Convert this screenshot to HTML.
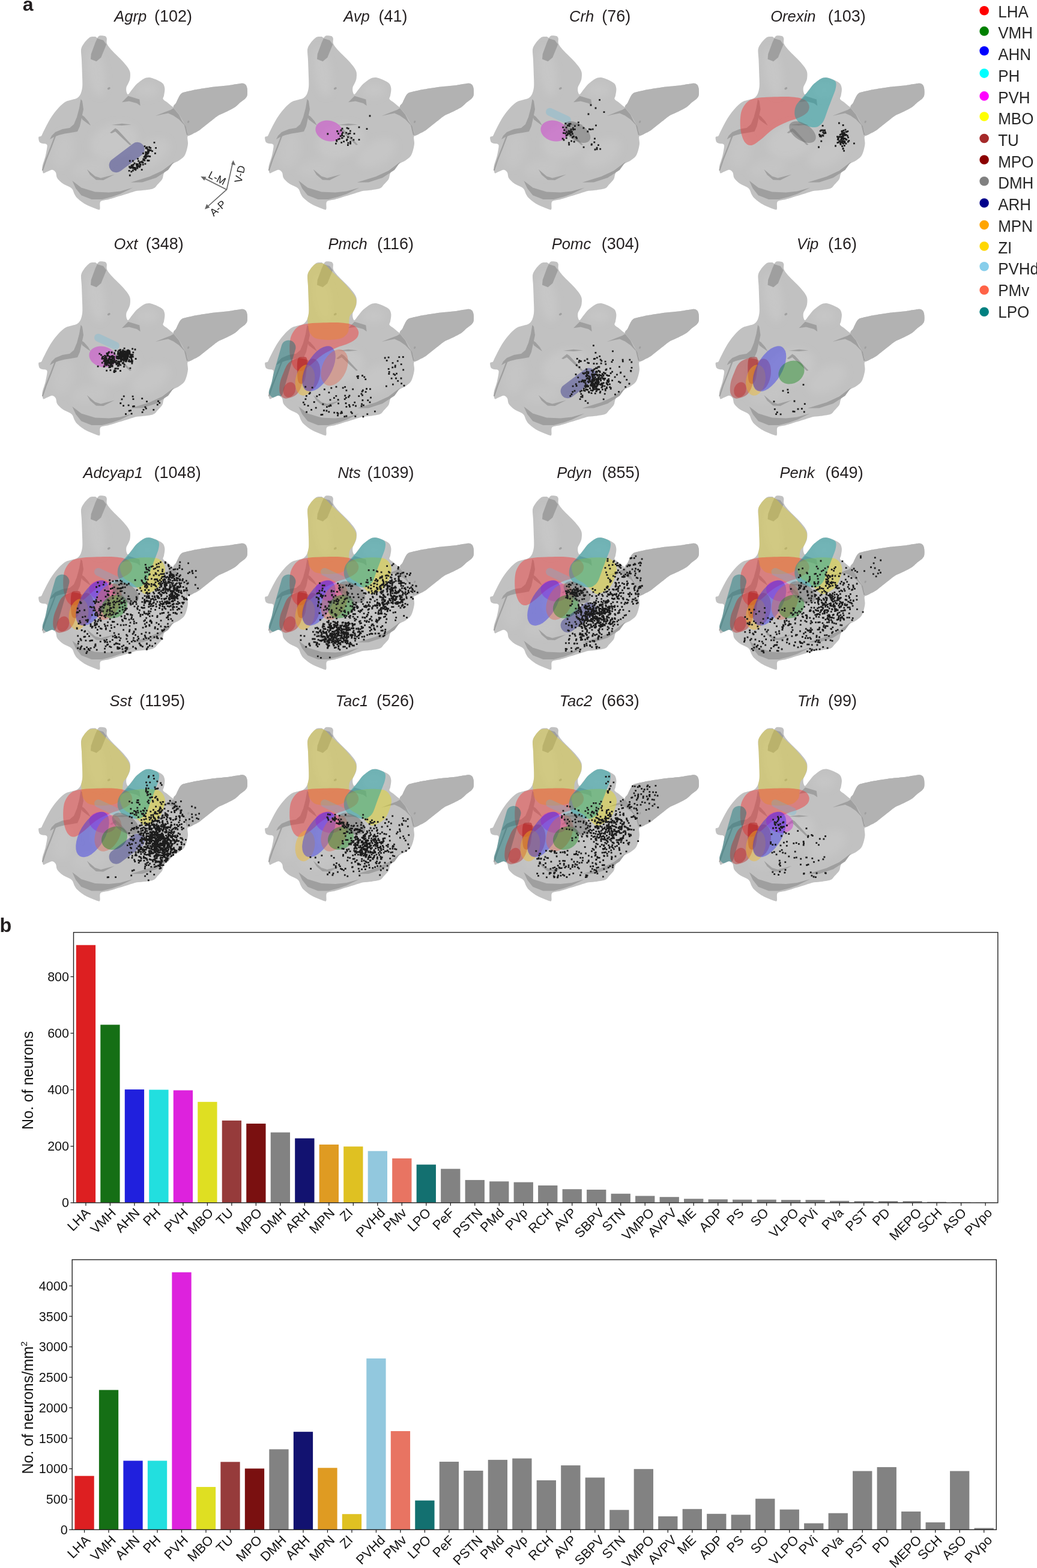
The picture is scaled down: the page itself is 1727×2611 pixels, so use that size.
<!DOCTYPE html><html><head><meta charset="utf-8"><style>html,body{margin:0;padding:0;background:#fff;width:1727px;height:2611px;overflow:hidden;}svg{display:block}text{font-family:'Liberation Sans', Arial, Helvetica, sans-serif;fill:#111}</style></head><body>
<svg width="1727" height="2611" viewBox="0 0 1727 2611">
<defs><filter id="blur6" x="-50%" y="-50%" width="200%" height="200%"><feGaussianBlur stdDeviation="6"/></filter>
<g id="brain">
<path d="M135.1,82.0 C135.7,77.8 138.4,74.5 140.0,72.0 C141.6,69.5 144.3,66.6 146.0,65.0 C147.7,63.4 149.1,62.0 151.0,61.4 C152.9,60.8 157.1,60.8 158.7,61.0 C160.3,61.2 160.8,63.2 161.9,63.0 C163.0,62.8 163.8,59.9 165.7,59.5 C167.6,59.1 172.8,59.4 174.6,60.1 C176.4,60.8 177.3,62.0 177.8,63.9 C178.3,65.8 176.8,69.7 178.2,72.9 C179.6,76.1 183.6,80.8 187.4,85.0 C191.2,89.2 199.5,96.8 203.3,100.9 C207.1,105.0 210.9,109.4 212.9,112.4 C214.9,115.4 216.2,117.9 216.7,120.7 C217.2,123.5 216.9,128.4 216.5,131.0 C216.1,133.6 214.9,135.9 214.0,138.0 C213.1,140.1 211.0,143.2 210.5,145.3 C210.0,147.4 210.1,150.5 210.5,152.3 C210.9,154.1 211.9,157.6 213.3,157.2 C214.7,156.8 217.4,152.1 219.6,149.5 C221.8,146.9 225.1,142.3 228.1,139.6 C231.1,136.9 236.2,132.8 239.3,131.2 C242.5,129.6 245.5,128.7 249.1,129.1 C252.7,129.5 259.7,132.4 263.1,134.0 C266.5,135.6 269.9,137.5 271.6,139.6 C273.3,141.7 274.2,145.1 274.4,148.1 C274.6,151.1 273.4,156.8 273.0,159.3 C272.6,161.8 270.8,163.2 271.6,164.9 C272.4,166.6 276.0,168.5 278.6,170.5 C281.2,172.5 286.7,178.1 288.9,178.2 C291.1,178.3 291.8,173.9 293.4,171.0 C295.0,168.1 297.9,161.1 299.6,158.6 C301.3,156.1 302.6,155.2 305.0,154.1 C307.4,153.0 312.5,152.1 315.7,151.4 C318.9,150.7 321.0,150.1 326.4,149.2 C331.8,148.3 343.6,146.2 351.4,145.2 C359.2,144.2 371.5,143.3 378.2,142.5 C384.9,141.7 392.0,140.3 396.0,139.8 C400.0,139.3 403.0,138.6 405.0,138.9 C407.0,139.2 408.5,140.2 409.5,141.6 C410.5,142.9 411.4,145.3 411.7,147.9 C412.0,150.5 412.2,156.2 411.7,158.6 C411.2,161.0 410.3,162.2 408.6,163.9 C406.9,165.6 403.1,168.1 400.5,170.2 C397.9,172.3 394.9,175.9 391.6,178.2 C388.3,180.5 382.2,183.4 378.2,185.4 C374.2,187.4 368.1,189.7 364.8,191.6 C361.5,193.5 359.2,195.3 355.9,197.9 C352.6,200.5 345.8,205.9 342.5,208.6 C339.2,211.3 336.3,213.8 333.6,215.7 C330.9,217.6 327.6,219.6 324.6,221.1 C321.6,222.6 315.8,224.8 313.9,226.0 C312.0,227.2 312.3,227.4 312.2,229.4 C312.1,231.4 313.2,236.1 313.0,239.3 C312.8,242.5 311.8,247.3 310.8,250.5 C309.8,253.7 308.5,257.8 306.6,260.3 C304.7,262.8 300.7,265.6 298.2,267.3 C295.7,269.0 292.3,270.0 289.8,271.5 C287.3,273.0 283.9,274.6 281.4,277.1 C278.9,279.6 274.7,285.2 273.0,288.4 C271.3,291.6 271.9,295.3 270.2,298.2 C268.5,301.1 263.8,305.7 261.7,308.0 C259.6,310.3 259.0,312.3 256.1,313.6 C253.2,314.9 246.3,315.8 242.1,316.4 C237.9,317.0 232.3,317.0 228.1,317.8 C223.9,318.6 218.2,320.7 214.0,322.0 C209.8,323.3 204.9,324.8 200.0,326.3 C195.1,327.8 186.2,330.6 181.3,332.0 C176.4,333.4 169.7,333.2 167.5,335.5 C165.3,337.8 167.1,345.5 166.4,347.5 C165.7,349.5 166.5,349.8 162.9,348.7 C159.3,347.6 147.4,342.9 142.2,340.0 C137.0,337.1 131.2,332.3 128.5,329.7 C125.8,327.1 125.3,325.3 123.9,322.9 C122.5,320.5 122.2,316.3 119.3,313.7 C116.4,311.1 108.0,308.2 104.4,305.6 C100.8,303.0 96.9,299.2 95.2,296.5 C93.5,293.8 94.1,289.4 92.9,287.3 C91.7,285.2 89.3,282.9 87.1,282.7 C84.9,282.5 80.2,285.2 78.0,286.1 C75.8,287.0 73.3,289.1 72.2,288.4 C71.1,287.7 70.7,283.6 70.5,281.5 C70.3,279.4 70.3,277.9 71.1,274.6 C71.9,271.3 74.6,264.2 75.7,259.7 C76.8,255.2 78.2,247.7 78.5,244.8 C78.8,241.9 78.5,241.1 77.4,240.2 C76.3,239.3 72.8,239.6 71.1,239.1 C69.4,238.6 66.9,238.0 65.9,236.8 C64.9,235.6 64.4,232.4 64.2,231.0 C64.0,229.6 64.1,228.3 64.8,227.6 C65.5,226.9 67.7,227.6 68.8,226.4 C69.9,225.2 70.8,222.2 72.2,219.5 C73.6,216.8 76.3,211.4 78.0,208.1 C79.7,204.8 81.6,201.0 83.7,197.7 C85.8,194.4 89.1,189.5 91.7,186.2 C94.3,182.9 98.1,178.5 100.9,175.9 C103.7,173.3 107.3,170.5 110.1,169.0 C112.9,167.5 116.5,167.1 119.3,166.2 C122.1,165.3 126.3,164.8 128.5,163.3 C130.7,161.8 132.9,159.2 134.2,156.4 C135.5,153.6 136.7,148.9 137.1,144.9 C137.5,140.9 137.3,136.7 137.1,130.0 C136.9,123.3 136.3,107.2 136.0,100.0 C135.7,92.8 134.5,86.2 135.1,82.0 Z" fill="#c1c1c1"/>
<path d="M288.9,178.2 C288.2,175.3 291.8,173.9 293.4,171.0 C295.0,168.1 297.9,161.1 299.6,158.6 C301.3,156.1 302.6,155.2 305.0,154.1 C307.4,153.0 312.5,152.1 315.7,151.4 C318.9,150.7 321.0,150.1 326.4,149.2 C331.8,148.3 343.6,146.2 351.4,145.2 C359.2,144.2 371.5,143.3 378.2,142.5 C384.9,141.7 392.0,140.3 396.0,139.8 C400.0,139.3 403.0,138.6 405.0,138.9 C407.0,139.2 408.5,140.2 409.5,141.6 C410.5,142.9 411.4,145.3 411.7,147.9 C412.0,150.5 412.2,156.2 411.7,158.6 C411.2,161.0 410.3,162.2 408.6,163.9 C406.9,165.6 403.1,168.1 400.5,170.2 C397.9,172.3 394.9,175.9 391.6,178.2 C388.3,180.5 382.2,183.4 378.2,185.4 C374.2,187.4 368.1,189.7 364.8,191.6 C361.5,193.5 359.2,195.3 355.9,197.9 C352.6,200.5 345.8,205.9 342.5,208.6 C339.2,211.3 336.3,213.8 333.6,215.7 C330.9,217.6 327.6,219.6 324.6,221.1 C321.6,222.6 315.8,226.5 313.9,226.0 C312.0,225.5 313.2,221.3 312.0,218.0 C310.8,214.7 308.1,208.2 306.0,204.0 C303.9,199.8 300.6,193.9 298.0,190.0 C295.4,186.1 289.6,181.0 288.9,178.2 Z" fill="#b2b2b2"/>
<g clip-path="url(#bclip)" filter="url(#blur6)">
<ellipse cx="160" cy="120" rx="14" ry="40" transform="rotate(-10 160 120)" fill="#d0d0d0" fill-opacity="0.35"/>
<ellipse cx="245" cy="150" rx="18" ry="12" transform="rotate(0 245 150)" fill="#d0d0d0" fill-opacity="0.3"/>
<ellipse cx="190" cy="235" rx="40" ry="28" transform="rotate(-20 190 235)" fill="#d0d0d0" fill-opacity="0.35"/>
<ellipse cx="150" cy="280" rx="30" ry="14" transform="rotate(-10 150 280)" fill="#d0d0d0" fill-opacity="0.25"/>
<ellipse cx="250" cy="255" rx="35" ry="20" transform="rotate(-30 250 255)" fill="#d0d0d0" fill-opacity="0.3"/>
<ellipse cx="105" cy="250" rx="18" ry="30" transform="rotate(10 105 250)" fill="#d0d0d0" fill-opacity="0.25"/>
</g>
<polygon points="161.9,63.9 172.0,67.0 177.2,74.1 168.3,95.8 160.6,102.2 151.0,98.4 151.7,90.1 158.7,71.0" fill="#9f9f9f"/>
<polygon points="120.4,301.0 135.4,312.5 158.3,319.4 181.3,320.6 200.0,318.5 221.5,312.5 200.0,323.0 187.0,327.5 169.8,332.0 152.6,332.0 135.4,325.2 126.2,313.7" fill="#9f9f9f"/>
<polygon points="144.8,282.0 158.3,293.5 168.0,296.5 190.8,290.5 172.0,300.0 160.0,299.5 150.0,291.0" fill="#9f9f9f"/>
<polygon points="203.1,170.2 213.4,159.8 232.3,165.6 233.7,176.1 228.0,172.0 215.0,168.5" fill="#9f9f9f"/>
<polygon points="258.9,193.0 273.0,187.3 284.2,183.1 289.0,180.0 297.9,190.7 303.2,201.4 309.5,210.4 313.0,224.6 311.0,225.0 306.8,208.0 297.9,198.8 288.9,192.5 280.0,188.5 270.0,190.5" fill="#9f9f9f"/>
<polygon points="217.6,303.8 249.1,294.0 270.2,284.2 290.0,269.3 280.0,283.0 260.0,296.0 237.0,303.5" fill="#9f9f9f"/>
<polygon points="134.5,165.0 137.0,168.0 139.0,182.0 136.0,196.0 133.0,210.0 129.0,219.0 118.0,221.0 108.0,222.5 98.0,225.0 90.0,228.0 83.0,232.0 86.0,226.0 92.0,220.0 104.0,215.0 116.0,213.0 123.0,207.0 128.0,195.0 132.0,180.0" fill="#9f9f9f"/>
<polygon points="134.0,190.0 140.0,194.0 147.0,202.0 151.0,209.0 145.0,205.0 137.0,199.0" fill="#9f9f9f"/>
<polygon points="183.0,221.0 192.0,213.5 196.0,216.0 219.0,241.0 216.0,241.5 192.0,219.0 186.0,222.0" fill="#9f9f9f"/>
<polygon points="186.0,208.0 203.0,205.8 219.0,207.6 203.0,209.0" fill="#9f9f9f"/>
<path d="M92.9,224 L85,245 L77,265 L71,283" fill="none" stroke="#9f9f9f" stroke-width="2.2" stroke-linecap="round" stroke-linejoin="round"/>
<ellipse cx="181.3" cy="147.2" rx="2.6" ry="1.8" transform="rotate(-30 181.3 147.2)" fill="#9f9f9f"/><ellipse cx="313.7" cy="202.8" rx="1.5" ry="2.2" transform="rotate(30 313.7 202.8)" fill="#9f9f9f"/>
</g><clipPath id="bclip"><path d="M135.1,82.0 C135.7,77.8 138.4,74.5 140.0,72.0 C141.6,69.5 144.3,66.6 146.0,65.0 C147.7,63.4 149.1,62.0 151.0,61.4 C152.9,60.8 157.1,60.8 158.7,61.0 C160.3,61.2 160.8,63.2 161.9,63.0 C163.0,62.8 163.8,59.9 165.7,59.5 C167.6,59.1 172.8,59.4 174.6,60.1 C176.4,60.8 177.3,62.0 177.8,63.9 C178.3,65.8 176.8,69.7 178.2,72.9 C179.6,76.1 183.6,80.8 187.4,85.0 C191.2,89.2 199.5,96.8 203.3,100.9 C207.1,105.0 210.9,109.4 212.9,112.4 C214.9,115.4 216.2,117.9 216.7,120.7 C217.2,123.5 216.9,128.4 216.5,131.0 C216.1,133.6 214.9,135.9 214.0,138.0 C213.1,140.1 211.0,143.2 210.5,145.3 C210.0,147.4 210.1,150.5 210.5,152.3 C210.9,154.1 211.9,157.6 213.3,157.2 C214.7,156.8 217.4,152.1 219.6,149.5 C221.8,146.9 225.1,142.3 228.1,139.6 C231.1,136.9 236.2,132.8 239.3,131.2 C242.5,129.6 245.5,128.7 249.1,129.1 C252.7,129.5 259.7,132.4 263.1,134.0 C266.5,135.6 269.9,137.5 271.6,139.6 C273.3,141.7 274.2,145.1 274.4,148.1 C274.6,151.1 273.4,156.8 273.0,159.3 C272.6,161.8 270.8,163.2 271.6,164.9 C272.4,166.6 276.0,168.5 278.6,170.5 C281.2,172.5 286.7,178.1 288.9,178.2 C291.1,178.3 291.8,173.9 293.4,171.0 C295.0,168.1 297.9,161.1 299.6,158.6 C301.3,156.1 302.6,155.2 305.0,154.1 C307.4,153.0 312.5,152.1 315.7,151.4 C318.9,150.7 321.0,150.1 326.4,149.2 C331.8,148.3 343.6,146.2 351.4,145.2 C359.2,144.2 371.5,143.3 378.2,142.5 C384.9,141.7 392.0,140.3 396.0,139.8 C400.0,139.3 403.0,138.6 405.0,138.9 C407.0,139.2 408.5,140.2 409.5,141.6 C410.5,142.9 411.4,145.3 411.7,147.9 C412.0,150.5 412.2,156.2 411.7,158.6 C411.2,161.0 410.3,162.2 408.6,163.9 C406.9,165.6 403.1,168.1 400.5,170.2 C397.9,172.3 394.9,175.9 391.6,178.2 C388.3,180.5 382.2,183.4 378.2,185.4 C374.2,187.4 368.1,189.7 364.8,191.6 C361.5,193.5 359.2,195.3 355.9,197.9 C352.6,200.5 345.8,205.9 342.5,208.6 C339.2,211.3 336.3,213.8 333.6,215.7 C330.9,217.6 327.6,219.6 324.6,221.1 C321.6,222.6 315.8,224.8 313.9,226.0 C312.0,227.2 312.3,227.4 312.2,229.4 C312.1,231.4 313.2,236.1 313.0,239.3 C312.8,242.5 311.8,247.3 310.8,250.5 C309.8,253.7 308.5,257.8 306.6,260.3 C304.7,262.8 300.7,265.6 298.2,267.3 C295.7,269.0 292.3,270.0 289.8,271.5 C287.3,273.0 283.9,274.6 281.4,277.1 C278.9,279.6 274.7,285.2 273.0,288.4 C271.3,291.6 271.9,295.3 270.2,298.2 C268.5,301.1 263.8,305.7 261.7,308.0 C259.6,310.3 259.0,312.3 256.1,313.6 C253.2,314.9 246.3,315.8 242.1,316.4 C237.9,317.0 232.3,317.0 228.1,317.8 C223.9,318.6 218.2,320.7 214.0,322.0 C209.8,323.3 204.9,324.8 200.0,326.3 C195.1,327.8 186.2,330.6 181.3,332.0 C176.4,333.4 169.7,333.2 167.5,335.5 C165.3,337.8 167.1,345.5 166.4,347.5 C165.7,349.5 166.5,349.8 162.9,348.7 C159.3,347.6 147.4,342.9 142.2,340.0 C137.0,337.1 131.2,332.3 128.5,329.7 C125.8,327.1 125.3,325.3 123.9,322.9 C122.5,320.5 122.2,316.3 119.3,313.7 C116.4,311.1 108.0,308.2 104.4,305.6 C100.8,303.0 96.9,299.2 95.2,296.5 C93.5,293.8 94.1,289.4 92.9,287.3 C91.7,285.2 89.3,282.9 87.1,282.7 C84.9,282.5 80.2,285.2 78.0,286.1 C75.8,287.0 73.3,289.1 72.2,288.4 C71.1,287.7 70.7,283.6 70.5,281.5 C70.3,279.4 70.3,277.9 71.1,274.6 C71.9,271.3 74.6,264.2 75.7,259.7 C76.8,255.2 78.2,247.7 78.5,244.8 C78.8,241.9 78.5,241.1 77.4,240.2 C76.3,239.3 72.8,239.6 71.1,239.1 C69.4,238.6 66.9,238.0 65.9,236.8 C64.9,235.6 64.4,232.4 64.2,231.0 C64.0,229.6 64.1,228.3 64.8,227.6 C65.5,226.9 67.7,227.6 68.8,226.4 C69.9,225.2 70.8,222.2 72.2,219.5 C73.6,216.8 76.3,211.4 78.0,208.1 C79.7,204.8 81.6,201.0 83.7,197.7 C85.8,194.4 89.1,189.5 91.7,186.2 C94.3,182.9 98.1,178.5 100.9,175.9 C103.7,173.3 107.3,170.5 110.1,169.0 C112.9,167.5 116.5,167.1 119.3,166.2 C122.1,165.3 126.3,164.8 128.5,163.3 C130.7,161.8 132.9,159.2 134.2,156.4 C135.5,153.6 136.7,148.9 137.1,144.9 C137.5,140.9 137.3,136.7 137.1,130.0 C136.9,123.3 136.3,107.2 136.0,100.0 C135.7,92.8 134.5,86.2 135.1,82.0 Z"/></clipPath></defs>
<rect width="1727" height="2611" fill="#fff"/>
<text x="37.8" y="17.8" font-size="32" font-weight="bold" style="fill:#231f20">a</text>
<text x="-0.6" y="1552.0" font-size="32.4" font-weight="bold" style="fill:#231f20">b</text>
<use href="#brain" transform="translate(0,0)"/>
<use href="#brain" transform="translate(377,0)"/>
<use href="#brain" transform="translate(752,0)"/>
<use href="#brain" transform="translate(1127.5,0)"/>
<use href="#brain" transform="translate(0,376)"/>
<use href="#brain" transform="translate(377,376)"/>
<use href="#brain" transform="translate(752,376)"/>
<use href="#brain" transform="translate(1127.5,376)"/>
<use href="#brain" transform="translate(0,766)"/>
<use href="#brain" transform="translate(377,766)"/>
<use href="#brain" transform="translate(752,766)"/>
<use href="#brain" transform="translate(1127.5,766)"/>
<use href="#brain" transform="translate(0,1151.5)"/>
<use href="#brain" transform="translate(377,1151.5)"/>
<use href="#brain" transform="translate(752,1151.5)"/>
<use href="#brain" transform="translate(1127.5,1151.5)"/>
<g transform="translate(0,0)" clip-path="url(#bclip)"><rect x="177.2" y="250.0" width="68" height="24" rx="12.0" transform="rotate(-37 211.2 262)" fill="#262685" fill-opacity="0.42"/></g>
<path fill="#1c1c1c" d="M243.0 255.2h2.8v2.8h-2.8zM228.8 273.5h2.8v2.8h-2.8zM228.1 263.0h2.8v2.8h-2.8zM217.3 275.9h2.8v2.8h-2.8zM238.7 259.9h2.8v2.8h-2.8zM222.5 280.2h2.8v2.8h-2.8zM241.6 261.5h2.8v2.8h-2.8zM213.7 283.0h2.8v2.8h-2.8zM243.4 243.8h2.8v2.8h-2.8zM242.5 259.0h2.8v2.8h-2.8zM232.8 272.6h2.8v2.8h-2.8zM244.4 252.5h2.8v2.8h-2.8zM236.8 272.6h2.8v2.8h-2.8zM239.6 242.2h2.8v2.8h-2.8zM220.2 276.9h2.8v2.8h-2.8zM219.1 276.0h2.8v2.8h-2.8zM215.7 278.2h2.8v2.8h-2.8zM245.8 251.7h2.8v2.8h-2.8zM226.9 276.9h2.8v2.8h-2.8zM220.4 272.9h2.8v2.8h-2.8zM226.3 273.8h2.8v2.8h-2.8zM224.4 281.4h2.8v2.8h-2.8zM245.2 266.1h2.8v2.8h-2.8zM225.9 271.7h2.8v2.8h-2.8zM232.2 268.4h2.8v2.8h-2.8zM228.9 275.7h2.8v2.8h-2.8zM249.3 245.0h2.8v2.8h-2.8zM240.8 262.1h2.8v2.8h-2.8zM214.4 277.0h2.8v2.8h-2.8zM252.1 250.2h2.8v2.8h-2.8zM231.9 275.4h2.8v2.8h-2.8zM246.7 266.0h2.8v2.8h-2.8zM235.0 267.7h2.8v2.8h-2.8zM227.4 278.8h2.8v2.8h-2.8zM241.2 255.2h2.8v2.8h-2.8zM245.8 250.7h2.8v2.8h-2.8zM248.3 259.1h2.8v2.8h-2.8zM222.6 270.6h2.8v2.8h-2.8zM246.2 249.5h2.8v2.8h-2.8zM227.7 272.0h2.8v2.8h-2.8zM237.3 265.3h2.8v2.8h-2.8zM234.6 268.6h2.8v2.8h-2.8zM243.4 245.3h2.8v2.8h-2.8zM247.0 248.2h2.8v2.8h-2.8zM248.4 244.7h2.8v2.8h-2.8zM244.9 251.1h2.8v2.8h-2.8zM220.8 273.1h2.8v2.8h-2.8zM217.4 284.4h2.8v2.8h-2.8zM217.9 277.7h2.8v2.8h-2.8zM230.9 276.8h2.8v2.8h-2.8zM241.2 257.6h2.8v2.8h-2.8zM242.0 255.5h2.8v2.8h-2.8zM244.6 247.2h2.8v2.8h-2.8zM234.7 268.5h2.8v2.8h-2.8zM243.2 259.0h2.8v2.8h-2.8zM244.4 265.7h2.8v2.8h-2.8zM224.6 280.4h2.8v2.8h-2.8zM240.5 271.4h2.8v2.8h-2.8zM229.2 266.7h2.8v2.8h-2.8zM245.8 252.7h2.8v2.8h-2.8zM232.0 272.6h2.8v2.8h-2.8zM245.3 250.2h2.8v2.8h-2.8zM214.9 290.6h2.8v2.8h-2.8zM238.4 263.8h2.8v2.8h-2.8zM245.2 249.4h2.8v2.8h-2.8zM240.8 259.0h2.8v2.8h-2.8zM247.1 243.5h2.8v2.8h-2.8zM231.0 270.1h2.8v2.8h-2.8zM246.1 251.1h2.8v2.8h-2.8zM242.4 252.6h2.8v2.8h-2.8zM234.8 281.3h2.8v2.8h-2.8zM239.5 265.8h2.8v2.8h-2.8zM245.5 258.6h2.8v2.8h-2.8zM249.7 248.7h2.8v2.8h-2.8zM220.0 282.6h2.8v2.8h-2.8zM241.7 257.9h2.8v2.8h-2.8zM241.8 260.1h2.8v2.8h-2.8zM237.4 263.6h2.8v2.8h-2.8zM224.2 279.1h2.8v2.8h-2.8zM248.0 249.1h2.8v2.8h-2.8zM241.9 245.4h2.8v2.8h-2.8zM220.7 277.8h2.8v2.8h-2.8zM226.3 274.3h2.8v2.8h-2.8zM241.3 255.2h2.8v2.8h-2.8zM241.4 252.1h2.8v2.8h-2.8zM220.2 278.6h2.8v2.8h-2.8zM223.4 278.1h2.8v2.8h-2.8zM214.3 276.2h2.8v2.8h-2.8zM244.9 258.6h2.8v2.8h-2.8zM237.1 253.9h2.8v2.8h-2.8zM217.8 274.1h2.8v2.8h-2.8zM236.6 269.1h2.8v2.8h-2.8zM240.0 258.4h2.8v2.8h-2.8zM241.7 245.1h2.8v2.8h-2.8zM244.8 254.5h2.8v2.8h-2.8zM255.6 236.0h2.8v2.8h-2.8zM258.2 244.9h2.8v2.8h-2.8zM257.0 253.9h2.8v2.8h-2.8zM214.9 266.6h2.8v2.8h-2.8zM220.0 266.6h2.8v2.8h-2.8z"/>
<g transform="translate(377,0)" clip-path="url(#bclip)"><ellipse cx="171" cy="218" rx="23" ry="17" transform="rotate(15 171 218)" fill="#d21fd2" fill-opacity="0.42"/></g>
<path fill="#1c1c1c" d="M568.4 224.3h2.8v2.8h-2.8zM568.6 212.7h2.8v2.8h-2.8zM582.1 234.8h2.8v2.8h-2.8zM569.4 219.6h2.8v2.8h-2.8zM559.4 233.8h2.8v2.8h-2.8zM559.1 231.9h2.8v2.8h-2.8zM565.6 225.2h2.8v2.8h-2.8zM566.6 215.6h2.8v2.8h-2.8zM578.8 221.4h2.8v2.8h-2.8zM560.3 217.1h2.8v2.8h-2.8zM571.2 234.2h2.8v2.8h-2.8zM582.0 216.8h2.8v2.8h-2.8zM583.9 228.3h2.8v2.8h-2.8zM562.2 221.2h2.8v2.8h-2.8zM578.5 236.7h2.8v2.8h-2.8zM567.3 236.0h2.8v2.8h-2.8zM576.7 230.7h2.8v2.8h-2.8zM562.3 230.4h2.8v2.8h-2.8zM568.7 228.2h2.8v2.8h-2.8zM575.3 219.8h2.8v2.8h-2.8zM578.1 226.9h2.8v2.8h-2.8zM568.2 221.9h2.8v2.8h-2.8zM581.5 220.8h2.8v2.8h-2.8zM544.4 221.6h2.8v2.8h-2.8zM568.0 228.5h2.8v2.8h-2.8zM564.1 229.8h2.8v2.8h-2.8zM571.3 225.5h2.8v2.8h-2.8zM558.0 237.7h2.8v2.8h-2.8zM576.6 211.7h2.8v2.8h-2.8zM588.6 221.2h2.8v2.8h-2.8zM576.1 232.1h2.8v2.8h-2.8zM596.6 210.5h2.8v2.8h-2.8zM578.8 212.8h2.8v2.8h-2.8zM587.5 231.4h2.8v2.8h-2.8zM582.2 237.6h2.8v2.8h-2.8zM578.0 240.1h2.8v2.8h-2.8zM614.6 191.6h2.8v2.8h-2.8zM609.6 213.3h2.8v2.8h-2.8zM596.6 231.2h2.8v2.8h-2.8z"/>
<g transform="translate(752,0)" clip-path="url(#bclip)"><rect x="155.5" y="186.5" width="45" height="13" rx="6.5" transform="rotate(25 178 193)" fill="#64bedf" fill-opacity="0.3"/><ellipse cx="171" cy="218" rx="23" ry="17" transform="rotate(15 171 218)" fill="#d21fd2" fill-opacity="0.42"/><ellipse cx="209" cy="220" rx="25" ry="14" transform="rotate(33 209 220)" fill="#6b6b6b" fill-opacity="0.5"/></g>
<path fill="#1c1c1c" d="M942.4 218.5h2.8v2.8h-2.8zM949.2 223.8h2.8v2.8h-2.8zM940.2 220.7h2.8v2.8h-2.8zM941.8 211.0h2.8v2.8h-2.8zM946.9 220.6h2.8v2.8h-2.8zM950.2 233.5h2.8v2.8h-2.8zM941.8 224.5h2.8v2.8h-2.8zM944.1 207.6h2.8v2.8h-2.8zM952.1 227.2h2.8v2.8h-2.8zM940.5 204.3h2.8v2.8h-2.8zM946.1 236.5h2.8v2.8h-2.8zM952.9 211.7h2.8v2.8h-2.8zM936.2 210.7h2.8v2.8h-2.8zM944.0 222.0h2.8v2.8h-2.8zM949.4 216.1h2.8v2.8h-2.8zM946.9 208.3h2.8v2.8h-2.8zM937.6 231.6h2.8v2.8h-2.8zM945.9 216.7h2.8v2.8h-2.8zM935.7 229.5h2.8v2.8h-2.8zM958.0 227.0h2.8v2.8h-2.8zM938.4 215.3h2.8v2.8h-2.8zM950.8 218.0h2.8v2.8h-2.8zM942.4 223.7h2.8v2.8h-2.8zM937.2 220.3h2.8v2.8h-2.8zM952.1 221.5h2.8v2.8h-2.8zM948.7 204.8h2.8v2.8h-2.8zM951.1 218.5h2.8v2.8h-2.8zM949.0 218.6h2.8v2.8h-2.8zM949.7 214.0h2.8v2.8h-2.8zM956.0 214.0h2.8v2.8h-2.8zM945.1 220.4h2.8v2.8h-2.8zM953.2 214.5h2.8v2.8h-2.8zM949.9 219.0h2.8v2.8h-2.8zM947.0 220.6h2.8v2.8h-2.8zM946.3 239.4h2.8v2.8h-2.8zM947.7 221.7h2.8v2.8h-2.8zM941.9 228.5h2.8v2.8h-2.8zM946.5 205.1h2.8v2.8h-2.8zM953.9 226.0h2.8v2.8h-2.8zM943.0 223.5h2.8v2.8h-2.8zM946.3 217.5h2.8v2.8h-2.8zM956.1 208.4h2.8v2.8h-2.8zM980.0 213.7h2.8v2.8h-2.8zM952.2 227.4h2.8v2.8h-2.8zM998.3 246.8h2.8v2.8h-2.8zM992.7 246.9h2.8v2.8h-2.8zM985.8 213.7h2.8v2.8h-2.8zM988.4 235.4h2.8v2.8h-2.8zM984.0 238.7h2.8v2.8h-2.8zM992.7 244.7h2.8v2.8h-2.8zM970.7 243.8h2.8v2.8h-2.8zM954.8 234.6h2.8v2.8h-2.8zM982.5 214.3h2.8v2.8h-2.8zM977.4 217.6h2.8v2.8h-2.8zM989.1 229.5h2.8v2.8h-2.8zM983.7 239.8h2.8v2.8h-2.8zM961.9 202.5h2.8v2.8h-2.8zM995.1 240.2h2.8v2.8h-2.8zM962.2 207.0h2.8v2.8h-2.8zM991.1 207.5h2.8v2.8h-2.8zM970.5 211.7h2.8v2.8h-2.8zM959.1 228.7h2.8v2.8h-2.8zM997.2 164.9h2.8v2.8h-2.8zM990.6 178.6h2.8v2.8h-2.8zM1004.6 185.3h2.8v2.8h-2.8zM989.6 247.6h2.8v2.8h-2.8zM982.6 173.6h2.8v2.8h-2.8zM978.6 188.6h2.8v2.8h-2.8z"/>
<g transform="translate(1127.5,0)" clip-path="url(#bclip)"><path d="M105.5,196.0 C106.0,189.7 106.9,185.5 109.0,181.0 C111.1,176.5 114.2,171.9 118.0,169.0 C121.8,166.1 125.5,164.8 132.0,163.5 C138.5,162.2 147.0,161.8 157.0,161.5 C167.0,161.2 182.8,160.8 192.0,161.5 C201.2,162.2 207.3,163.6 212.0,166.0 C216.7,168.4 219.2,172.5 220.0,176.0 C220.8,179.5 219.7,183.7 217.0,187.0 C214.3,190.3 209.7,192.9 204.0,195.6 C198.3,198.3 190.1,200.1 182.8,203.3 C175.5,206.5 167.1,210.2 160.0,215.0 C152.9,219.8 146.0,227.5 140.0,232.0 C134.0,236.5 128.6,241.3 124.0,242.0 C119.5,242.7 115.7,240.3 112.7,236.4 C109.8,232.5 107.5,225.3 106.3,218.6 C105.1,211.9 105.0,202.3 105.5,196.0 Z" fill="#f82626" fill-opacity="0.42"/><path d="M237.8,130.4 C240.8,128.9 243.0,128.8 246.0,128.9 C249.0,129.0 252.9,129.7 256.0,131.0 C259.1,132.3 263.0,133.7 264.3,136.5 C265.6,139.3 265.0,143.4 264.0,148.0 C263.0,152.6 260.4,158.3 258.2,164.1 C256.0,169.9 253.4,176.7 251.0,183.0 C248.6,189.3 246.4,197.3 243.9,201.8 C241.4,206.3 238.4,208.3 236.0,210.0 C233.6,211.7 232.1,211.8 229.5,212.0 C226.9,212.2 224.2,212.0 220.5,211.0 C216.8,210.0 210.2,207.5 207.0,206.0 C203.8,204.5 202.9,204.2 201.1,201.8 C199.3,199.4 196.5,195.8 196.0,191.6 C195.5,187.3 195.6,181.4 198.0,176.3 C200.4,171.2 206.7,165.2 210.3,161.0 C213.9,156.8 216.5,154.6 219.4,150.8 C222.3,147.0 224.9,141.4 228.0,138.0 C231.1,134.6 234.8,131.9 237.8,130.4 Z" fill="#009da2" fill-opacity="0.42"/><ellipse cx="209" cy="220" rx="25" ry="14" transform="rotate(33 209 220)" fill="#6b6b6b" fill-opacity="0.5"/></g>
<path fill="#1c1c1c" d="M1397.4 226.7h2.8v2.8h-2.8zM1401.1 217.0h2.8v2.8h-2.8zM1401.0 227.2h2.8v2.8h-2.8zM1399.2 235.4h2.8v2.8h-2.8zM1400.1 227.8h2.8v2.8h-2.8zM1400.8 234.5h2.8v2.8h-2.8zM1408.6 218.3h2.8v2.8h-2.8zM1403.1 225.2h2.8v2.8h-2.8zM1402.9 237.7h2.8v2.8h-2.8zM1405.4 229.0h2.8v2.8h-2.8zM1401.9 226.5h2.8v2.8h-2.8zM1401.1 228.0h2.8v2.8h-2.8zM1402.7 245.7h2.8v2.8h-2.8zM1399.1 231.2h2.8v2.8h-2.8zM1410.5 217.2h2.8v2.8h-2.8zM1401.9 236.1h2.8v2.8h-2.8zM1404.9 241.1h2.8v2.8h-2.8zM1393.9 231.0h2.8v2.8h-2.8zM1402.2 221.8h2.8v2.8h-2.8zM1407.5 237.8h2.8v2.8h-2.8zM1404.3 222.5h2.8v2.8h-2.8zM1404.2 221.9h2.8v2.8h-2.8zM1398.2 237.4h2.8v2.8h-2.8zM1405.6 235.3h2.8v2.8h-2.8zM1400.0 228.2h2.8v2.8h-2.8zM1407.0 230.1h2.8v2.8h-2.8zM1396.1 226.4h2.8v2.8h-2.8zM1407.0 230.3h2.8v2.8h-2.8zM1409.9 224.6h2.8v2.8h-2.8zM1398.7 239.0h2.8v2.8h-2.8zM1396.9 233.7h2.8v2.8h-2.8zM1402.3 227.0h2.8v2.8h-2.8zM1400.7 216.9h2.8v2.8h-2.8zM1421.0 237.4h2.8v2.8h-2.8zM1399.6 221.9h2.8v2.8h-2.8zM1393.1 226.2h2.8v2.8h-2.8zM1394.3 228.4h2.8v2.8h-2.8zM1411.1 227.4h2.8v2.8h-2.8zM1397.9 222.9h2.8v2.8h-2.8zM1393.5 236.3h2.8v2.8h-2.8zM1406.1 223.9h2.8v2.8h-2.8zM1404.2 219.5h2.8v2.8h-2.8zM1400.4 225.9h2.8v2.8h-2.8zM1398.3 234.5h2.8v2.8h-2.8zM1412.4 233.0h2.8v2.8h-2.8zM1402.7 207.1h2.8v2.8h-2.8zM1398.9 226.4h2.8v2.8h-2.8zM1400.7 229.0h2.8v2.8h-2.8zM1396.5 226.2h2.8v2.8h-2.8zM1401.2 242.1h2.8v2.8h-2.8zM1396.0 203.6h2.8v2.8h-2.8zM1396.4 233.5h2.8v2.8h-2.8zM1405.1 233.8h2.8v2.8h-2.8zM1401.1 219.0h2.8v2.8h-2.8zM1403.5 216.0h2.8v2.8h-2.8zM1403.2 230.3h2.8v2.8h-2.8zM1408.4 231.3h2.8v2.8h-2.8zM1402.0 234.6h2.8v2.8h-2.8zM1403.1 225.0h2.8v2.8h-2.8zM1394.7 228.8h2.8v2.8h-2.8zM1404.2 249.7h2.8v2.8h-2.8zM1407.5 218.3h2.8v2.8h-2.8zM1403.8 233.6h2.8v2.8h-2.8zM1402.1 233.3h2.8v2.8h-2.8zM1410.9 234.7h2.8v2.8h-2.8zM1402.2 224.4h2.8v2.8h-2.8zM1407.9 223.2h2.8v2.8h-2.8zM1405.4 221.5h2.8v2.8h-2.8zM1403.1 222.1h2.8v2.8h-2.8zM1405.1 236.3h2.8v2.8h-2.8zM1400.6 218.0h2.8v2.8h-2.8zM1404.0 219.5h2.8v2.8h-2.8zM1407.1 223.0h2.8v2.8h-2.8zM1406.6 214.7h2.8v2.8h-2.8zM1402.7 229.1h2.8v2.8h-2.8zM1394.9 235.7h2.8v2.8h-2.8zM1394.8 230.4h2.8v2.8h-2.8zM1402.6 246.4h2.8v2.8h-2.8zM1400.0 231.4h2.8v2.8h-2.8zM1405.2 229.3h2.8v2.8h-2.8zM1368.6 223.7h2.8v2.8h-2.8zM1370.9 220.7h2.8v2.8h-2.8zM1369.0 215.4h2.8v2.8h-2.8zM1373.5 220.2h2.8v2.8h-2.8zM1366.3 215.6h2.8v2.8h-2.8zM1369.4 218.9h2.8v2.8h-2.8zM1366.4 233.7h2.8v2.8h-2.8zM1363.2 222.8h2.8v2.8h-2.8zM1364.2 225.5h2.8v2.8h-2.8zM1369.5 224.8h2.8v2.8h-2.8zM1372.2 215.4h2.8v2.8h-2.8zM1364.8 216.7h2.8v2.8h-2.8zM1372.8 218.5h2.8v2.8h-2.8zM1366.0 225.9h2.8v2.8h-2.8zM1365.3 224.2h2.8v2.8h-2.8zM1369.9 215.9h2.8v2.8h-2.8zM1368.7 208.0h2.8v2.8h-2.8zM1365.5 224.7h2.8v2.8h-2.8zM1362.1 243.6h2.8v2.8h-2.8zM1390.1 241.6h2.8v2.8h-2.8z"/>
<g transform="translate(0,376)" clip-path="url(#bclip)"><rect x="155.5" y="186.5" width="45" height="13" rx="6.5" transform="rotate(25 178 193)" fill="#64bedf" fill-opacity="0.3"/><ellipse cx="171" cy="218" rx="23" ry="17" transform="rotate(15 171 218)" fill="#d21fd2" fill-opacity="0.42"/></g>
<path fill="#1c1c1c" d="M188.8 598.1h2.8v2.8h-2.8zM197.5 586.6h2.8v2.8h-2.8zM201.1 591.4h2.8v2.8h-2.8zM212.1 583.1h2.8v2.8h-2.8zM208.1 598.6h2.8v2.8h-2.8zM202.2 584.1h2.8v2.8h-2.8zM210.5 582.6h2.8v2.8h-2.8zM199.9 595.9h2.8v2.8h-2.8zM204.9 588.9h2.8v2.8h-2.8zM209.6 592.1h2.8v2.8h-2.8zM208.8 587.8h2.8v2.8h-2.8zM204.5 594.0h2.8v2.8h-2.8zM218.9 600.6h2.8v2.8h-2.8zM224.7 596.1h2.8v2.8h-2.8zM200.6 590.4h2.8v2.8h-2.8zM220.0 592.6h2.8v2.8h-2.8zM192.5 599.4h2.8v2.8h-2.8zM217.3 594.8h2.8v2.8h-2.8zM198.8 583.9h2.8v2.8h-2.8zM194.5 592.0h2.8v2.8h-2.8zM200.8 592.9h2.8v2.8h-2.8zM211.0 595.8h2.8v2.8h-2.8zM205.5 590.6h2.8v2.8h-2.8zM214.5 600.8h2.8v2.8h-2.8zM196.9 590.3h2.8v2.8h-2.8zM202.5 589.8h2.8v2.8h-2.8zM199.1 593.4h2.8v2.8h-2.8zM204.1 585.9h2.8v2.8h-2.8zM196.9 582.3h2.8v2.8h-2.8zM193.1 592.4h2.8v2.8h-2.8zM189.2 586.6h2.8v2.8h-2.8zM200.4 592.2h2.8v2.8h-2.8zM216.5 589.0h2.8v2.8h-2.8zM209.7 595.3h2.8v2.8h-2.8zM203.3 591.7h2.8v2.8h-2.8zM206.3 594.0h2.8v2.8h-2.8zM207.8 592.9h2.8v2.8h-2.8zM213.8 584.1h2.8v2.8h-2.8zM199.2 591.7h2.8v2.8h-2.8zM214.6 585.9h2.8v2.8h-2.8zM199.4 593.4h2.8v2.8h-2.8zM206.7 591.6h2.8v2.8h-2.8zM201.9 585.6h2.8v2.8h-2.8zM204.0 597.6h2.8v2.8h-2.8zM209.2 598.8h2.8v2.8h-2.8zM200.7 584.8h2.8v2.8h-2.8zM204.1 590.7h2.8v2.8h-2.8zM217.2 592.0h2.8v2.8h-2.8zM216.1 591.4h2.8v2.8h-2.8zM219.7 589.2h2.8v2.8h-2.8zM197.1 594.3h2.8v2.8h-2.8zM207.3 591.2h2.8v2.8h-2.8zM208.5 600.5h2.8v2.8h-2.8zM208.9 591.2h2.8v2.8h-2.8zM189.3 587.6h2.8v2.8h-2.8zM203.4 581.8h2.8v2.8h-2.8zM206.0 596.5h2.8v2.8h-2.8zM205.5 587.8h2.8v2.8h-2.8zM197.6 600.9h2.8v2.8h-2.8zM212.7 588.1h2.8v2.8h-2.8zM195.3 584.2h2.8v2.8h-2.8zM210.1 591.8h2.8v2.8h-2.8zM200.3 600.3h2.8v2.8h-2.8zM212.1 587.7h2.8v2.8h-2.8zM206.1 590.8h2.8v2.8h-2.8zM198.1 590.4h2.8v2.8h-2.8zM204.0 589.6h2.8v2.8h-2.8zM206.5 595.5h2.8v2.8h-2.8zM201.8 589.1h2.8v2.8h-2.8zM197.9 595.1h2.8v2.8h-2.8zM191.0 582.4h2.8v2.8h-2.8zM205.0 592.8h2.8v2.8h-2.8zM214.2 588.3h2.8v2.8h-2.8zM210.1 587.2h2.8v2.8h-2.8zM201.6 589.2h2.8v2.8h-2.8zM206.8 584.4h2.8v2.8h-2.8zM196.4 593.1h2.8v2.8h-2.8zM202.3 591.3h2.8v2.8h-2.8zM201.1 594.9h2.8v2.8h-2.8zM211.8 587.6h2.8v2.8h-2.8zM210.5 594.1h2.8v2.8h-2.8zM208.7 593.1h2.8v2.8h-2.8zM200.3 587.6h2.8v2.8h-2.8zM202.1 590.6h2.8v2.8h-2.8zM182.7 593.1h2.8v2.8h-2.8zM214.0 587.0h2.8v2.8h-2.8zM209.8 590.5h2.8v2.8h-2.8zM204.9 599.7h2.8v2.8h-2.8zM207.8 591.0h2.8v2.8h-2.8zM204.4 583.5h2.8v2.8h-2.8zM201.1 591.7h2.8v2.8h-2.8zM198.9 581.1h2.8v2.8h-2.8zM211.5 590.7h2.8v2.8h-2.8zM197.9 588.5h2.8v2.8h-2.8zM208.6 588.0h2.8v2.8h-2.8zM205.2 592.8h2.8v2.8h-2.8zM208.2 600.1h2.8v2.8h-2.8zM219.2 579.5h2.8v2.8h-2.8zM211.2 592.9h2.8v2.8h-2.8zM203.0 590.5h2.8v2.8h-2.8zM195.8 588.1h2.8v2.8h-2.8zM197.9 589.2h2.8v2.8h-2.8zM198.6 595.4h2.8v2.8h-2.8zM211.7 589.8h2.8v2.8h-2.8zM192.8 593.4h2.8v2.8h-2.8zM203.8 591.9h2.8v2.8h-2.8zM209.7 591.9h2.8v2.8h-2.8zM214.0 583.3h2.8v2.8h-2.8zM199.8 594.3h2.8v2.8h-2.8zM211.7 591.5h2.8v2.8h-2.8zM207.7 594.6h2.8v2.8h-2.8zM207.4 595.4h2.8v2.8h-2.8zM196.5 592.2h2.8v2.8h-2.8zM206.0 589.0h2.8v2.8h-2.8zM207.5 588.6h2.8v2.8h-2.8zM184.9 585.8h2.8v2.8h-2.8zM195.4 596.0h2.8v2.8h-2.8zM201.6 589.9h2.8v2.8h-2.8zM203.0 590.8h2.8v2.8h-2.8zM212.0 581.8h2.8v2.8h-2.8zM223.6 580.6h2.8v2.8h-2.8zM204.1 591.9h2.8v2.8h-2.8zM197.4 589.6h2.8v2.8h-2.8zM218.2 589.8h2.8v2.8h-2.8zM198.3 590.6h2.8v2.8h-2.8zM204.0 592.0h2.8v2.8h-2.8zM199.5 590.0h2.8v2.8h-2.8zM206.3 589.8h2.8v2.8h-2.8zM203.4 592.8h2.8v2.8h-2.8zM212.8 591.5h2.8v2.8h-2.8zM209.2 597.7h2.8v2.8h-2.8zM205.7 593.7h2.8v2.8h-2.8zM205.7 578.8h2.8v2.8h-2.8zM210.6 591.8h2.8v2.8h-2.8zM207.3 595.1h2.8v2.8h-2.8zM204.3 592.2h2.8v2.8h-2.8zM207.5 590.1h2.8v2.8h-2.8zM207.7 589.4h2.8v2.8h-2.8zM211.6 588.4h2.8v2.8h-2.8zM206.5 583.8h2.8v2.8h-2.8zM197.7 591.3h2.8v2.8h-2.8zM214.7 584.8h2.8v2.8h-2.8zM216.8 600.6h2.8v2.8h-2.8zM202.2 596.6h2.8v2.8h-2.8zM195.2 586.2h2.8v2.8h-2.8zM207.6 597.1h2.8v2.8h-2.8zM210.4 587.8h2.8v2.8h-2.8zM198.3 593.9h2.8v2.8h-2.8zM220.4 585.5h2.8v2.8h-2.8zM206.5 584.0h2.8v2.8h-2.8zM198.7 593.6h2.8v2.8h-2.8zM209.1 586.6h2.8v2.8h-2.8zM214.7 586.4h2.8v2.8h-2.8zM208.0 586.5h2.8v2.8h-2.8zM199.8 597.4h2.8v2.8h-2.8zM202.8 586.5h2.8v2.8h-2.8zM192.2 599.2h2.8v2.8h-2.8zM206.4 591.1h2.8v2.8h-2.8zM206.4 592.7h2.8v2.8h-2.8zM209.4 589.7h2.8v2.8h-2.8zM195.1 592.8h2.8v2.8h-2.8zM201.6 592.9h2.8v2.8h-2.8zM205.7 596.6h2.8v2.8h-2.8zM209.4 595.5h2.8v2.8h-2.8zM200.8 591.3h2.8v2.8h-2.8zM211.7 585.6h2.8v2.8h-2.8zM204.7 589.4h2.8v2.8h-2.8zM198.8 586.7h2.8v2.8h-2.8zM214.7 593.8h2.8v2.8h-2.8zM205.8 597.6h2.8v2.8h-2.8zM199.4 590.9h2.8v2.8h-2.8zM212.7 599.9h2.8v2.8h-2.8zM201.5 598.0h2.8v2.8h-2.8zM203.9 602.9h2.8v2.8h-2.8zM203.1 589.3h2.8v2.8h-2.8zM193.2 595.1h2.8v2.8h-2.8zM212.0 587.7h2.8v2.8h-2.8zM194.7 588.5h2.8v2.8h-2.8zM201.8 592.8h2.8v2.8h-2.8zM205.0 586.9h2.8v2.8h-2.8zM217.9 597.6h2.8v2.8h-2.8zM219.0 599.6h2.8v2.8h-2.8zM200.6 595.5h2.8v2.8h-2.8zM213.7 582.7h2.8v2.8h-2.8zM203.5 590.5h2.8v2.8h-2.8zM210.2 596.8h2.8v2.8h-2.8zM202.9 603.4h2.8v2.8h-2.8zM206.9 597.2h2.8v2.8h-2.8zM204.9 595.1h2.8v2.8h-2.8zM212.9 586.4h2.8v2.8h-2.8zM167.1 589.7h2.8v2.8h-2.8zM173.3 604.9h2.8v2.8h-2.8zM169.0 593.4h2.8v2.8h-2.8zM176.6 587.1h2.8v2.8h-2.8zM186.2 592.7h2.8v2.8h-2.8zM186.1 591.3h2.8v2.8h-2.8zM186.8 592.5h2.8v2.8h-2.8zM179.6 586.2h2.8v2.8h-2.8zM182.6 602.1h2.8v2.8h-2.8zM173.3 590.9h2.8v2.8h-2.8zM185.8 607.2h2.8v2.8h-2.8zM185.8 608.8h2.8v2.8h-2.8zM193.9 604.8h2.8v2.8h-2.8zM188.4 593.0h2.8v2.8h-2.8zM182.9 600.4h2.8v2.8h-2.8zM185.0 600.5h2.8v2.8h-2.8zM195.5 600.6h2.8v2.8h-2.8zM179.3 601.1h2.8v2.8h-2.8zM187.6 599.0h2.8v2.8h-2.8zM186.1 594.9h2.8v2.8h-2.8zM178.6 598.1h2.8v2.8h-2.8zM183.8 605.2h2.8v2.8h-2.8zM183.6 597.0h2.8v2.8h-2.8zM181.1 594.6h2.8v2.8h-2.8zM199.1 616.1h2.8v2.8h-2.8zM191.9 612.3h2.8v2.8h-2.8zM183.0 606.3h2.8v2.8h-2.8zM171.5 599.9h2.8v2.8h-2.8zM187.4 601.8h2.8v2.8h-2.8zM174.4 596.5h2.8v2.8h-2.8zM176.8 604.7h2.8v2.8h-2.8zM181.5 608.6h2.8v2.8h-2.8zM191.4 602.4h2.8v2.8h-2.8zM195.1 612.5h2.8v2.8h-2.8zM183.1 597.7h2.8v2.8h-2.8zM179.8 602.8h2.8v2.8h-2.8zM187.0 602.9h2.8v2.8h-2.8zM173.8 594.3h2.8v2.8h-2.8zM161.7 608.8h2.8v2.8h-2.8zM189.1 618.3h2.8v2.8h-2.8zM178.9 597.9h2.8v2.8h-2.8zM179.0 586.2h2.8v2.8h-2.8zM175.3 596.6h2.8v2.8h-2.8zM184.5 585.3h2.8v2.8h-2.8zM173.8 605.0h2.8v2.8h-2.8zM205.7 605.8h2.8v2.8h-2.8zM193.7 603.0h2.8v2.8h-2.8zM188.7 592.9h2.8v2.8h-2.8zM173.5 602.7h2.8v2.8h-2.8zM178.8 601.5h2.8v2.8h-2.8zM181.6 597.7h2.8v2.8h-2.8zM177.2 588.8h2.8v2.8h-2.8zM192.9 604.2h2.8v2.8h-2.8zM187.5 595.1h2.8v2.8h-2.8zM199.4 606.5h2.8v2.8h-2.8zM176.4 605.8h2.8v2.8h-2.8zM172.4 608.3h2.8v2.8h-2.8zM174.3 599.0h2.8v2.8h-2.8zM177.1 600.1h2.8v2.8h-2.8zM173.1 594.3h2.8v2.8h-2.8zM196.1 607.8h2.8v2.8h-2.8zM178.5 602.5h2.8v2.8h-2.8zM194.2 593.5h2.8v2.8h-2.8zM168.8 602.7h2.8v2.8h-2.8zM181.2 608.2h2.8v2.8h-2.8zM194.7 604.1h2.8v2.8h-2.8zM189.8 600.9h2.8v2.8h-2.8zM185.9 601.4h2.8v2.8h-2.8zM176.5 600.7h2.8v2.8h-2.8zM184.4 591.7h2.8v2.8h-2.8zM186.8 603.8h2.8v2.8h-2.8zM184.2 603.3h2.8v2.8h-2.8zM182.1 601.5h2.8v2.8h-2.8zM174.0 602.2h2.8v2.8h-2.8zM176.2 615.8h2.8v2.8h-2.8zM176.0 601.9h2.8v2.8h-2.8zM182.4 602.7h2.8v2.8h-2.8zM182.0 610.1h2.8v2.8h-2.8zM192.5 605.1h2.8v2.8h-2.8zM194.5 602.8h2.8v2.8h-2.8zM179.7 596.1h2.8v2.8h-2.8zM178.5 590.5h2.8v2.8h-2.8zM179.3 606.8h2.8v2.8h-2.8zM179.4 603.1h2.8v2.8h-2.8zM174.6 592.2h2.8v2.8h-2.8zM188.9 596.2h2.8v2.8h-2.8zM190.0 601.8h2.8v2.8h-2.8zM185.2 592.4h2.8v2.8h-2.8zM176.6 602.9h2.8v2.8h-2.8zM171.3 595.9h2.8v2.8h-2.8zM177.3 591.2h2.8v2.8h-2.8zM185.6 596.5h2.8v2.8h-2.8zM175.5 606.8h2.8v2.8h-2.8zM186.2 592.8h2.8v2.8h-2.8zM194.8 608.0h2.8v2.8h-2.8zM179.3 599.3h2.8v2.8h-2.8zM176.7 603.7h2.8v2.8h-2.8zM181.5 596.8h2.8v2.8h-2.8zM186.8 602.3h2.8v2.8h-2.8zM184.2 604.1h2.8v2.8h-2.8zM176.8 600.2h2.8v2.8h-2.8zM185.3 592.9h2.8v2.8h-2.8zM185.2 597.5h2.8v2.8h-2.8zM180.9 596.3h2.8v2.8h-2.8zM195.2 603.9h2.8v2.8h-2.8zM189.0 598.8h2.8v2.8h-2.8zM180.6 592.0h2.8v2.8h-2.8zM184.6 608.5h2.8v2.8h-2.8zM185.5 601.2h2.8v2.8h-2.8zM186.3 602.6h2.8v2.8h-2.8zM180.2 584.8h2.8v2.8h-2.8zM172.7 597.7h2.8v2.8h-2.8zM197.4 603.9h2.8v2.8h-2.8zM183.5 600.0h2.8v2.8h-2.8zM189.7 601.1h2.8v2.8h-2.8zM191.2 616.6h2.8v2.8h-2.8zM175.9 594.9h2.8v2.8h-2.8zM185.5 597.7h2.8v2.8h-2.8zM168.5 595.9h2.8v2.8h-2.8zM181.6 603.7h2.8v2.8h-2.8zM184.8 602.3h2.8v2.8h-2.8zM190.4 612.6h2.8v2.8h-2.8zM174.0 601.1h2.8v2.8h-2.8zM171.8 609.1h2.8v2.8h-2.8zM180.5 610.2h2.8v2.8h-2.8zM182.5 608.4h2.8v2.8h-2.8zM196.9 605.3h2.8v2.8h-2.8zM176.9 598.4h2.8v2.8h-2.8zM170.3 592.4h2.8v2.8h-2.8zM193.2 594.0h2.8v2.8h-2.8zM164.4 587.7h2.8v2.8h-2.8zM205.1 609.3h2.8v2.8h-2.8zM203.5 590.2h2.8v2.8h-2.8zM170.6 595.9h2.8v2.8h-2.8zM182.5 614.9h2.8v2.8h-2.8zM213.8 597.9h2.8v2.8h-2.8zM215.5 611.7h2.8v2.8h-2.8zM195.6 594.0h2.8v2.8h-2.8zM218.5 603.6h2.8v2.8h-2.8zM209.4 584.3h2.8v2.8h-2.8zM196.9 601.9h2.8v2.8h-2.8zM188.5 617.8h2.8v2.8h-2.8zM189.0 615.7h2.8v2.8h-2.8zM207.0 590.5h2.8v2.8h-2.8zM178.0 588.1h2.8v2.8h-2.8zM216.1 682.3h2.8v2.8h-2.8zM213.8 682.8h2.8v2.8h-2.8zM208.1 688.1h2.8v2.8h-2.8zM220.6 663.3h2.8v2.8h-2.8zM235.3 662.3h2.8v2.8h-2.8zM220.1 675.5h2.8v2.8h-2.8zM221.9 675.1h2.8v2.8h-2.8zM199.4 670.1h2.8v2.8h-2.8zM212.7 673.5h2.8v2.8h-2.8zM260.9 672.4h2.8v2.8h-2.8zM201.6 663.4h2.8v2.8h-2.8zM219.7 658.7h2.8v2.8h-2.8zM243.1 667.2h2.8v2.8h-2.8zM204.9 658.4h2.8v2.8h-2.8zM241.9 678.7h2.8v2.8h-2.8zM217.7 687.4h2.8v2.8h-2.8zM235.7 685.0h2.8v2.8h-2.8zM237.6 680.9h2.8v2.8h-2.8zM240.5 676.4h2.8v2.8h-2.8zM254.4 680.9h2.8v2.8h-2.8zM264.3 669.4h2.8v2.8h-2.8zM204.2 674.3h2.8v2.8h-2.8zM262.1 666.7h2.8v2.8h-2.8z"/>
<g transform="translate(377,376)" clip-path="url(#bclip)"><path d="M135.7,78.3 C136.6,71.4 139.1,70.0 141.0,68.0 C142.9,66.0 147.2,63.7 149.7,63.0 C152.2,62.3 157.8,62.0 160.0,62.4 C162.2,62.8 164.0,64.2 166.0,66.0 C168.0,67.8 171.3,71.9 175.2,75.7 C179.1,79.5 190.5,89.4 195.6,94.8 C200.7,100.2 210.7,112.1 213.5,116.5 C216.3,120.9 216.7,124.6 216.5,128.0 C216.3,131.4 213.5,138.8 212.0,142.0 C210.5,145.2 206.2,147.5 205.0,152.0 C203.8,156.5 204.7,171.3 203.0,176.0 C201.3,180.7 196.4,185.1 192.0,187.0 C187.6,188.9 175.9,190.0 170.0,190.0 C164.1,190.0 152.3,188.9 148.0,187.0 C143.7,185.1 139.7,179.6 138.0,176.0 C136.3,172.4 136.0,167.5 135.5,160.0 C135.0,152.5 134.5,130.9 134.5,120.0 C134.5,109.1 134.8,85.2 135.7,78.3 Z" fill="#e0cd26" fill-opacity="0.42"/><path d="M105.5,196.0 C106.0,189.7 106.9,185.5 109.0,181.0 C111.1,176.5 114.2,171.9 118.0,169.0 C121.8,166.1 125.5,164.8 132.0,163.5 C138.5,162.2 147.0,161.8 157.0,161.5 C167.0,161.2 182.8,160.8 192.0,161.5 C201.2,162.2 207.3,163.6 212.0,166.0 C216.7,168.4 219.2,172.5 220.0,176.0 C220.8,179.5 219.7,183.7 217.0,187.0 C214.3,190.3 209.7,192.9 204.0,195.6 C198.3,198.3 190.1,200.1 182.8,203.3 C175.5,206.5 167.1,210.2 160.0,215.0 C152.9,219.8 146.0,227.5 140.0,232.0 C134.0,236.5 128.6,241.3 124.0,242.0 C119.5,242.7 115.7,240.3 112.7,236.4 C109.8,232.5 107.5,225.3 106.3,218.6 C105.1,211.9 105.0,202.3 105.5,196.0 Z" fill="#f82626" fill-opacity="0.42"/><rect x="43.0" y="227.0" width="100" height="24" rx="12.0" transform="rotate(-74 93 239)" fill="#006e72" fill-opacity="0.42"/><ellipse cx="105" cy="273" rx="10" ry="13" transform="rotate(20 105 273)" fill="#ba2a2a" fill-opacity="0.45"/><path d="M103.1,228.9 C107.0,224.8 113.3,221.7 118.4,220.7 C123.5,219.7 130.8,221.6 133.7,222.8 C136.6,224.0 136.5,223.3 135.8,227.9 C135.1,232.5 131.7,243.2 129.6,250.3 C127.5,257.4 125.9,265.4 123.5,270.7 C121.1,276.0 118.8,279.3 115.4,282.0 C112.0,284.7 106.5,286.3 103.1,287.1 C99.7,287.9 97.4,288.1 95.0,286.6 C92.6,285.1 89.8,282.1 88.8,277.9 C87.8,273.7 88.3,267.1 89.3,261.6 C90.3,256.2 92.6,250.6 94.9,245.2 C97.2,239.8 99.2,233.0 103.1,228.9 Z" fill="#ba2a2a" fill-opacity="0.45"/><path d="M119.0,222.0 C120.5,217.6 124.5,218.7 127.0,218.5 C129.5,218.3 132.9,217.4 134.0,221.0 C135.1,224.6 134.0,234.2 133.5,240.0 C133.0,245.8 132.2,252.2 131.0,256.0 C129.8,259.8 127.8,262.3 126.0,263.0 C124.2,263.7 121.3,263.0 120.0,260.0 C118.7,257.0 118.2,251.3 118.0,245.0 C117.8,238.7 117.5,226.4 119.0,222.0 Z" fill="#a40000" fill-opacity="0.38"/><ellipse cx="141" cy="248" rx="15" ry="27" transform="rotate(10 141 248)" fill="#ad3d3d" fill-opacity="0.4"/><ellipse cx="131" cy="257" rx="16" ry="26" transform="rotate(10 131 257)" fill="#f5ba1f" fill-opacity="0.42"/><ellipse cx="154" cy="238" rx="42" ry="21" transform="rotate(-60 154 238)" fill="#2626ee" fill-opacity="0.42"/><ellipse cx="180" cy="236" rx="32" ry="20" transform="rotate(-65 180 236)" fill="#de674f" fill-opacity="0.42"/></g>
<path fill="#1c1c1c" d="M561.6 687.5h2.8v2.8h-2.8zM568.1 686.2h2.8v2.8h-2.8zM572.4 692.3h2.8v2.8h-2.8zM546.5 675.0h2.8v2.8h-2.8zM562.2 670.4h2.8v2.8h-2.8zM542.5 682.6h2.8v2.8h-2.8zM600.6 675.0h2.8v2.8h-2.8zM573.2 642.9h2.8v2.8h-2.8zM596.3 658.3h2.8v2.8h-2.8zM515.0 652.7h2.8v2.8h-2.8zM539.0 647.0h2.8v2.8h-2.8zM560.4 686.0h2.8v2.8h-2.8zM574.9 661.0h2.8v2.8h-2.8zM546.4 684.5h2.8v2.8h-2.8zM589.3 668.8h2.8v2.8h-2.8zM535.5 689.0h2.8v2.8h-2.8zM583.4 684.7h2.8v2.8h-2.8zM536.5 671.7h2.8v2.8h-2.8zM558.4 657.9h2.8v2.8h-2.8zM601.1 671.6h2.8v2.8h-2.8zM623.0 683.7h2.8v2.8h-2.8zM505.8 672.3h2.8v2.8h-2.8zM538.1 682.1h2.8v2.8h-2.8zM601.7 650.4h2.8v2.8h-2.8zM614.6 668.5h2.8v2.8h-2.8zM604.0 673.4h2.8v2.8h-2.8zM521.8 668.1h2.8v2.8h-2.8zM558.6 642.8h2.8v2.8h-2.8zM518.7 644.0h2.8v2.8h-2.8zM611.3 665.2h2.8v2.8h-2.8zM526.4 658.4h2.8v2.8h-2.8zM530.6 655.9h2.8v2.8h-2.8zM548.6 664.5h2.8v2.8h-2.8zM561.1 690.4h2.8v2.8h-2.8zM507.5 663.2h2.8v2.8h-2.8zM533.5 689.2h2.8v2.8h-2.8zM546.5 652.2h2.8v2.8h-2.8zM607.7 651.3h2.8v2.8h-2.8zM575.5 675.9h2.8v2.8h-2.8zM616.1 660.8h2.8v2.8h-2.8zM579.1 659.7h2.8v2.8h-2.8zM509.2 684.8h2.8v2.8h-2.8zM610.4 688.2h2.8v2.8h-2.8zM517.2 681.0h2.8v2.8h-2.8zM507.3 642.7h2.8v2.8h-2.8zM591.1 674.6h2.8v2.8h-2.8zM575.5 691.6h2.8v2.8h-2.8zM548.8 673.2h2.8v2.8h-2.8zM602.5 665.1h2.8v2.8h-2.8zM555.3 685.8h2.8v2.8h-2.8zM543.0 676.3h2.8v2.8h-2.8zM524.8 677.8h2.8v2.8h-2.8zM602.1 656.8h2.8v2.8h-2.8zM590.4 692.0h2.8v2.8h-2.8zM569.8 644.5h2.8v2.8h-2.8zM566.2 686.8h2.8v2.8h-2.8zM575.5 648.7h2.8v2.8h-2.8zM580.6 657.4h2.8v2.8h-2.8zM615.1 646.4h2.8v2.8h-2.8zM600.5 654.4h2.8v2.8h-2.8zM581.1 675.8h2.8v2.8h-2.8zM513.7 654.2h2.8v2.8h-2.8zM586.8 672.9h2.8v2.8h-2.8zM555.0 661.3h2.8v2.8h-2.8zM567.4 684.3h2.8v2.8h-2.8zM511.7 674.2h2.8v2.8h-2.8zM549.5 674.2h2.8v2.8h-2.8zM503.9 668.8h2.8v2.8h-2.8zM550.4 644.8h2.8v2.8h-2.8zM508.9 658.0h2.8v2.8h-2.8zM561.7 664.2h2.8v2.8h-2.8zM580.1 673.0h2.8v2.8h-2.8zM584.9 686.8h2.8v2.8h-2.8zM609.1 646.1h2.8v2.8h-2.8zM586.3 646.8h2.8v2.8h-2.8zM603.5 692.4h2.8v2.8h-2.8zM573.3 657.5h2.8v2.8h-2.8zM574.6 670.1h2.8v2.8h-2.8zM603.0 648.6h2.8v2.8h-2.8zM572.8 663.2h2.8v2.8h-2.8zM645.8 613.0h2.8v2.8h-2.8zM656.7 609.8h2.8v2.8h-2.8zM666.6 628.6h2.8v2.8h-2.8zM671.6 640.8h2.8v2.8h-2.8zM653.0 638.8h2.8v2.8h-2.8zM652.3 610.4h2.8v2.8h-2.8zM660.9 599.8h2.8v2.8h-2.8zM642.0 641.8h2.8v2.8h-2.8zM646.4 621.1h2.8v2.8h-2.8zM654.3 621.4h2.8v2.8h-2.8zM667.2 637.3h2.8v2.8h-2.8zM645.7 593.8h2.8v2.8h-2.8zM656.3 622.9h2.8v2.8h-2.8zM661.3 632.9h2.8v2.8h-2.8zM670.3 614.5h2.8v2.8h-2.8zM652.6 602.9h2.8v2.8h-2.8zM663.4 593.3h2.8v2.8h-2.8zM646.8 617.9h2.8v2.8h-2.8zM642.8 599.0h2.8v2.8h-2.8zM658.1 628.6h2.8v2.8h-2.8zM659.1 620.7h2.8v2.8h-2.8zM669.9 593.1h2.8v2.8h-2.8zM656.9 607.5h2.8v2.8h-2.8zM666.8 605.3h2.8v2.8h-2.8zM650.7 628.8h2.8v2.8h-2.8zM639.8 594.6h2.8v2.8h-2.8zM594.8 628.2h2.8v2.8h-2.8zM602.1 624.1h2.8v2.8h-2.8zM593.5 625.5h2.8v2.8h-2.8zM595.1 624.9h2.8v2.8h-2.8zM605.4 626.5h2.8v2.8h-2.8zM607.4 630.2h2.8v2.8h-2.8z"/>
<g transform="translate(752,376)" clip-path="url(#bclip)"><rect x="177.2" y="250.0" width="68" height="24" rx="12.0" transform="rotate(-37 211.2 262)" fill="#262685" fill-opacity="0.42"/></g>
<path fill="#1c1c1c" d="M989.6 643.2h2.8v2.8h-2.8zM1018.2 617.7h2.8v2.8h-2.8zM990.6 635.0h2.8v2.8h-2.8zM1001.4 642.7h2.8v2.8h-2.8zM986.0 626.3h2.8v2.8h-2.8zM995.1 635.6h2.8v2.8h-2.8zM993.6 624.3h2.8v2.8h-2.8zM1003.8 663.5h2.8v2.8h-2.8zM978.4 620.2h2.8v2.8h-2.8zM988.5 632.3h2.8v2.8h-2.8zM979.2 603.2h2.8v2.8h-2.8zM995.4 630.8h2.8v2.8h-2.8zM963.1 634.4h2.8v2.8h-2.8zM988.1 623.9h2.8v2.8h-2.8zM988.5 646.8h2.8v2.8h-2.8zM977.9 641.3h2.8v2.8h-2.8zM973.1 632.0h2.8v2.8h-2.8zM981.2 626.5h2.8v2.8h-2.8zM1001.7 621.3h2.8v2.8h-2.8zM948.4 658.0h2.8v2.8h-2.8zM991.1 618.7h2.8v2.8h-2.8zM950.5 655.1h2.8v2.8h-2.8zM988.1 641.8h2.8v2.8h-2.8zM989.6 639.6h2.8v2.8h-2.8zM992.6 604.2h2.8v2.8h-2.8zM995.3 633.8h2.8v2.8h-2.8zM972.7 649.5h2.8v2.8h-2.8zM983.4 636.7h2.8v2.8h-2.8zM996.4 622.9h2.8v2.8h-2.8zM1004.7 628.8h2.8v2.8h-2.8zM987.1 638.9h2.8v2.8h-2.8zM987.7 643.7h2.8v2.8h-2.8zM991.9 646.3h2.8v2.8h-2.8zM1001.5 638.7h2.8v2.8h-2.8zM986.6 627.9h2.8v2.8h-2.8zM985.9 636.0h2.8v2.8h-2.8zM974.5 646.9h2.8v2.8h-2.8zM990.2 636.4h2.8v2.8h-2.8zM996.3 647.1h2.8v2.8h-2.8zM984.0 634.0h2.8v2.8h-2.8zM993.0 638.6h2.8v2.8h-2.8zM986.3 629.1h2.8v2.8h-2.8zM1008.5 613.6h2.8v2.8h-2.8zM997.9 652.5h2.8v2.8h-2.8zM1006.3 628.9h2.8v2.8h-2.8zM984.4 622.4h2.8v2.8h-2.8zM1009.5 637.9h2.8v2.8h-2.8zM981.1 633.6h2.8v2.8h-2.8zM1014.0 638.5h2.8v2.8h-2.8zM1011.2 624.3h2.8v2.8h-2.8zM1009.1 643.4h2.8v2.8h-2.8zM985.9 627.6h2.8v2.8h-2.8zM989.2 642.5h2.8v2.8h-2.8zM968.6 631.7h2.8v2.8h-2.8zM966.2 659.4h2.8v2.8h-2.8zM991.1 612.0h2.8v2.8h-2.8zM1015.9 644.4h2.8v2.8h-2.8zM986.2 640.4h2.8v2.8h-2.8zM985.1 623.3h2.8v2.8h-2.8zM975.8 617.6h2.8v2.8h-2.8zM985.4 638.3h2.8v2.8h-2.8zM992.8 641.6h2.8v2.8h-2.8zM995.7 628.0h2.8v2.8h-2.8zM988.6 613.2h2.8v2.8h-2.8zM977.9 633.9h2.8v2.8h-2.8zM1002.7 629.2h2.8v2.8h-2.8zM994.4 637.3h2.8v2.8h-2.8zM982.6 633.6h2.8v2.8h-2.8zM984.5 641.2h2.8v2.8h-2.8zM968.6 657.3h2.8v2.8h-2.8zM975.7 642.2h2.8v2.8h-2.8zM991.9 629.4h2.8v2.8h-2.8zM979.1 651.1h2.8v2.8h-2.8zM976.3 640.3h2.8v2.8h-2.8zM986.8 637.4h2.8v2.8h-2.8zM975.1 625.3h2.8v2.8h-2.8zM1013.1 624.2h2.8v2.8h-2.8zM985.2 649.2h2.8v2.8h-2.8zM970.9 620.9h2.8v2.8h-2.8zM1003.0 636.7h2.8v2.8h-2.8zM977.2 642.5h2.8v2.8h-2.8zM992.8 622.0h2.8v2.8h-2.8zM1000.5 636.9h2.8v2.8h-2.8zM992.1 642.0h2.8v2.8h-2.8zM994.1 633.6h2.8v2.8h-2.8zM992.9 611.8h2.8v2.8h-2.8zM968.6 659.8h2.8v2.8h-2.8zM984.8 633.4h2.8v2.8h-2.8zM996.0 635.4h2.8v2.8h-2.8zM977.6 624.2h2.8v2.8h-2.8zM998.9 629.7h2.8v2.8h-2.8zM997.4 617.0h2.8v2.8h-2.8zM1009.0 645.1h2.8v2.8h-2.8zM997.7 629.8h2.8v2.8h-2.8zM999.2 632.5h2.8v2.8h-2.8zM1006.6 646.4h2.8v2.8h-2.8zM983.7 653.2h2.8v2.8h-2.8zM977.9 619.9h2.8v2.8h-2.8zM1003.6 624.3h2.8v2.8h-2.8zM1015.0 612.1h2.8v2.8h-2.8zM985.5 638.0h2.8v2.8h-2.8zM994.4 647.0h2.8v2.8h-2.8zM974.0 639.7h2.8v2.8h-2.8zM1007.4 604.9h2.8v2.8h-2.8zM1009.2 623.2h2.8v2.8h-2.8zM1010.3 632.1h2.8v2.8h-2.8zM994.8 627.8h2.8v2.8h-2.8zM981.1 645.0h2.8v2.8h-2.8zM1006.7 620.3h2.8v2.8h-2.8zM989.5 622.3h2.8v2.8h-2.8zM982.6 648.4h2.8v2.8h-2.8zM999.4 628.0h2.8v2.8h-2.8zM1030.2 609.4h2.8v2.8h-2.8zM991.2 611.6h2.8v2.8h-2.8zM997.8 618.2h2.8v2.8h-2.8zM952.3 651.3h2.8v2.8h-2.8zM985.3 625.7h2.8v2.8h-2.8zM1008.7 636.2h2.8v2.8h-2.8zM979.7 625.2h2.8v2.8h-2.8zM987.5 646.6h2.8v2.8h-2.8zM1014.2 643.3h2.8v2.8h-2.8zM985.1 623.4h2.8v2.8h-2.8zM973.0 619.8h2.8v2.8h-2.8zM986.6 641.9h2.8v2.8h-2.8zM994.6 609.7h2.8v2.8h-2.8zM977.3 647.7h2.8v2.8h-2.8zM967.1 649.2h2.8v2.8h-2.8zM975.7 629.3h2.8v2.8h-2.8zM977.3 627.9h2.8v2.8h-2.8zM972.7 641.4h2.8v2.8h-2.8zM984.8 631.0h2.8v2.8h-2.8zM1000.5 643.7h2.8v2.8h-2.8zM994.0 639.6h2.8v2.8h-2.8zM1002.3 641.1h2.8v2.8h-2.8zM992.5 635.7h2.8v2.8h-2.8zM991.5 631.3h2.8v2.8h-2.8zM978.9 635.3h2.8v2.8h-2.8zM970.2 632.5h2.8v2.8h-2.8zM980.6 631.0h2.8v2.8h-2.8zM1010.7 639.1h2.8v2.8h-2.8zM993.3 623.5h2.8v2.8h-2.8zM973.7 666.3h2.8v2.8h-2.8zM992.9 637.6h2.8v2.8h-2.8zM988.4 638.4h2.8v2.8h-2.8zM973.7 636.6h2.8v2.8h-2.8zM1022.7 626.5h2.8v2.8h-2.8zM973.3 632.6h2.8v2.8h-2.8zM986.3 648.0h2.8v2.8h-2.8zM991.5 644.4h2.8v2.8h-2.8zM987.5 622.0h2.8v2.8h-2.8zM986.8 633.2h2.8v2.8h-2.8zM998.1 623.6h2.8v2.8h-2.8zM974.8 624.6h2.8v2.8h-2.8zM991.1 646.5h2.8v2.8h-2.8zM986.5 640.5h2.8v2.8h-2.8zM991.7 617.0h2.8v2.8h-2.8zM1005.5 641.4h2.8v2.8h-2.8zM1011.6 634.9h2.8v2.8h-2.8zM978.6 618.3h2.8v2.8h-2.8zM971.3 635.0h2.8v2.8h-2.8zM995.4 616.1h2.8v2.8h-2.8zM990.4 622.1h2.8v2.8h-2.8zM1004.8 630.9h2.8v2.8h-2.8zM957.6 622.1h2.8v2.8h-2.8zM1001.7 626.4h2.8v2.8h-2.8zM1015.7 620.1h2.8v2.8h-2.8zM1002.9 622.5h2.8v2.8h-2.8zM957.8 638.3h2.8v2.8h-2.8zM990.2 635.6h2.8v2.8h-2.8zM987.9 631.7h2.8v2.8h-2.8zM987.1 614.8h2.8v2.8h-2.8zM1000.2 624.2h2.8v2.8h-2.8zM985.8 644.0h2.8v2.8h-2.8zM989.8 635.7h2.8v2.8h-2.8zM969.5 619.9h2.8v2.8h-2.8zM989.5 643.3h2.8v2.8h-2.8zM978.2 642.0h2.8v2.8h-2.8zM986.4 645.3h2.8v2.8h-2.8zM1006.0 620.7h2.8v2.8h-2.8zM980.8 628.7h2.8v2.8h-2.8zM987.8 640.9h2.8v2.8h-2.8zM977.6 669.8h2.8v2.8h-2.8zM972.3 631.9h2.8v2.8h-2.8zM979.5 631.0h2.8v2.8h-2.8zM998.4 650.7h2.8v2.8h-2.8zM983.9 615.8h2.8v2.8h-2.8zM1006.7 600.8h2.8v2.8h-2.8zM993.5 630.5h2.8v2.8h-2.8zM996.3 626.3h2.8v2.8h-2.8zM985.3 639.3h2.8v2.8h-2.8zM970.8 648.8h2.8v2.8h-2.8zM973.9 643.5h2.8v2.8h-2.8zM999.4 639.4h2.8v2.8h-2.8zM989.9 653.7h2.8v2.8h-2.8zM979.7 652.2h2.8v2.8h-2.8zM996.5 609.6h2.8v2.8h-2.8zM992.8 641.5h2.8v2.8h-2.8zM1012.0 634.8h2.8v2.8h-2.8zM985.1 638.8h2.8v2.8h-2.8zM996.7 622.5h2.8v2.8h-2.8zM982.4 640.9h2.8v2.8h-2.8zM952.7 641.8h2.8v2.8h-2.8zM978.6 628.8h2.8v2.8h-2.8zM986.7 621.9h2.8v2.8h-2.8zM1010.0 633.2h2.8v2.8h-2.8zM987.0 629.5h2.8v2.8h-2.8zM978.4 641.6h2.8v2.8h-2.8zM994.1 632.1h2.8v2.8h-2.8zM1002.0 647.3h2.8v2.8h-2.8zM989.1 639.9h2.8v2.8h-2.8zM965.0 650.6h2.8v2.8h-2.8zM971.0 645.8h2.8v2.8h-2.8zM990.9 637.2h2.8v2.8h-2.8zM988.7 629.7h2.8v2.8h-2.8zM992.9 618.3h2.8v2.8h-2.8zM995.1 638.2h2.8v2.8h-2.8zM990.9 635.5h2.8v2.8h-2.8zM976.4 647.6h2.8v2.8h-2.8zM981.2 645.1h2.8v2.8h-2.8zM998.1 638.8h2.8v2.8h-2.8zM984.6 621.7h2.8v2.8h-2.8zM986.1 632.0h2.8v2.8h-2.8zM994.0 646.6h2.8v2.8h-2.8zM989.8 627.0h2.8v2.8h-2.8zM1018.2 632.3h2.8v2.8h-2.8zM982.4 639.3h2.8v2.8h-2.8zM985.9 618.1h2.8v2.8h-2.8zM1012.2 629.9h2.8v2.8h-2.8zM1003.8 636.3h2.8v2.8h-2.8zM984.6 632.8h2.8v2.8h-2.8zM961.3 627.2h2.8v2.8h-2.8zM1050.4 601.6h2.8v2.8h-2.8zM1029.2 634.2h2.8v2.8h-2.8zM1007.5 614.8h2.8v2.8h-2.8zM1038.5 625.5h2.8v2.8h-2.8zM984.0 635.9h2.8v2.8h-2.8zM975.3 613.6h2.8v2.8h-2.8zM1023.1 655.5h2.8v2.8h-2.8zM958.9 606.8h2.8v2.8h-2.8zM1032.1 619.4h2.8v2.8h-2.8zM990.5 585.9h2.8v2.8h-2.8zM959.8 596.0h2.8v2.8h-2.8zM991.6 650.3h2.8v2.8h-2.8zM999.7 603.7h2.8v2.8h-2.8zM972.5 599.3h2.8v2.8h-2.8zM1019.1 583.4h2.8v2.8h-2.8zM1032.4 618.7h2.8v2.8h-2.8zM1047.4 597.7h2.8v2.8h-2.8zM987.9 596.3h2.8v2.8h-2.8zM1029.1 650.9h2.8v2.8h-2.8zM1005.8 654.5h2.8v2.8h-2.8zM1006.9 648.6h2.8v2.8h-2.8zM1019.2 598.3h2.8v2.8h-2.8zM976.1 622.1h2.8v2.8h-2.8zM1035.7 597.7h2.8v2.8h-2.8zM1026.1 622.4h2.8v2.8h-2.8zM987.6 604.1h2.8v2.8h-2.8zM966.7 634.0h2.8v2.8h-2.8zM1015.7 645.9h2.8v2.8h-2.8zM955.6 649.4h2.8v2.8h-2.8zM1040.3 642.9h2.8v2.8h-2.8zM1049.4 616.6h2.8v2.8h-2.8zM998.8 597.4h2.8v2.8h-2.8zM964.7 663.3h2.8v2.8h-2.8zM1031.5 635.6h2.8v2.8h-2.8zM1000.4 599.4h2.8v2.8h-2.8zM963.5 599.0h2.8v2.8h-2.8zM1035.9 600.5h2.8v2.8h-2.8zM1049.1 616.0h2.8v2.8h-2.8zM974.4 619.8h2.8v2.8h-2.8zM1012.6 632.9h2.8v2.8h-2.8zM992.3 633.1h2.8v2.8h-2.8zM963.6 610.1h2.8v2.8h-2.8zM965.9 600.1h2.8v2.8h-2.8zM997.3 591.9h2.8v2.8h-2.8zM969.2 633.5h2.8v2.8h-2.8zM1017.5 601.2h2.8v2.8h-2.8zM985.5 615.8h2.8v2.8h-2.8zM1004.1 619.0h2.8v2.8h-2.8zM958.7 641.1h2.8v2.8h-2.8zM977.5 602.7h2.8v2.8h-2.8zM992.9 594.3h2.8v2.8h-2.8zM962.8 601.8h2.8v2.8h-2.8zM982.3 639.9h2.8v2.8h-2.8zM966.4 654.4h2.8v2.8h-2.8zM992.7 648.4h2.8v2.8h-2.8zM989.3 596.0h2.8v2.8h-2.8zM1042.3 631.0h2.8v2.8h-2.8zM1050.6 611.0h2.8v2.8h-2.8zM1046.6 637.6h2.8v2.8h-2.8zM987.0 574.0h2.8v2.8h-2.8zM976.6 596.6h2.8v2.8h-2.8z"/>
<g transform="translate(1127.5,376)" clip-path="url(#bclip)"><ellipse cx="105" cy="273" rx="10" ry="13" transform="rotate(20 105 273)" fill="#ba2a2a" fill-opacity="0.45"/><path d="M103.1,228.9 C107.0,224.8 113.3,221.7 118.4,220.7 C123.5,219.7 130.8,221.6 133.7,222.8 C136.6,224.0 136.5,223.3 135.8,227.9 C135.1,232.5 131.7,243.2 129.6,250.3 C127.5,257.4 125.9,265.4 123.5,270.7 C121.1,276.0 118.8,279.3 115.4,282.0 C112.0,284.7 106.5,286.3 103.1,287.1 C99.7,287.9 97.4,288.1 95.0,286.6 C92.6,285.1 89.8,282.1 88.8,277.9 C87.8,273.7 88.3,267.1 89.3,261.6 C90.3,256.2 92.6,250.6 94.9,245.2 C97.2,239.8 99.2,233.0 103.1,228.9 Z" fill="#ba2a2a" fill-opacity="0.45"/><path d="M119.0,222.0 C120.5,217.6 124.5,218.7 127.0,218.5 C129.5,218.3 132.9,217.4 134.0,221.0 C135.1,224.6 134.0,234.2 133.5,240.0 C133.0,245.8 132.2,252.2 131.0,256.0 C129.8,259.8 127.8,262.3 126.0,263.0 C124.2,263.7 121.3,263.0 120.0,260.0 C118.7,257.0 118.2,251.3 118.0,245.0 C117.8,238.7 117.5,226.4 119.0,222.0 Z" fill="#a40000" fill-opacity="0.38"/><ellipse cx="141" cy="248" rx="15" ry="27" transform="rotate(10 141 248)" fill="#ad3d3d" fill-opacity="0.4"/><ellipse cx="131" cy="257" rx="16" ry="26" transform="rotate(10 131 257)" fill="#f5ba1f" fill-opacity="0.42"/><ellipse cx="154" cy="238" rx="42" ry="21" transform="rotate(-60 154 238)" fill="#2626ee" fill-opacity="0.42"/><ellipse cx="190.5" cy="244" rx="22.5" ry="18.5" transform="rotate(-30 190.5 244)" fill="#0e8513" fill-opacity="0.42"/></g>
<path fill="#1c1c1c" d="M1334.0 679.2h2.8v2.8h-2.8zM1319.4 683.7h2.8v2.8h-2.8zM1327.6 679.7h2.8v2.8h-2.8zM1298.7 688.4h2.8v2.8h-2.8zM1321.6 666.6h2.8v2.8h-2.8zM1311.1 652.3h2.8v2.8h-2.8zM1336.6 639.3h2.8v2.8h-2.8zM1310.5 647.4h2.8v2.8h-2.8zM1337.9 684.5h2.8v2.8h-2.8zM1292.9 685.3h2.8v2.8h-2.8zM1321.6 684.0h2.8v2.8h-2.8zM1338.9 671.3h2.8v2.8h-2.8zM1302.6 649.4h2.8v2.8h-2.8zM1287.6 667.3h2.8v2.8h-2.8zM1291.2 688.2h2.8v2.8h-2.8zM1288.9 680.0h2.8v2.8h-2.8z"/>
<g transform="translate(0,766)" clip-path="url(#bclip)"><path d="M105.5,196.0 C106.0,189.7 106.9,185.5 109.0,181.0 C111.1,176.5 114.2,171.9 118.0,169.0 C121.8,166.1 125.5,164.8 132.0,163.5 C138.5,162.2 147.0,161.8 157.0,161.5 C167.0,161.2 182.8,160.8 192.0,161.5 C201.2,162.2 207.3,163.6 212.0,166.0 C216.7,168.4 219.2,172.5 220.0,176.0 C220.8,179.5 219.7,183.7 217.0,187.0 C214.3,190.3 209.7,192.9 204.0,195.6 C198.3,198.3 190.1,200.1 182.8,203.3 C175.5,206.5 167.1,210.2 160.0,215.0 C152.9,219.8 146.0,227.5 140.0,232.0 C134.0,236.5 128.6,241.3 124.0,242.0 C119.5,242.7 115.7,240.3 112.7,236.4 C109.8,232.5 107.5,225.3 106.3,218.6 C105.1,211.9 105.0,202.3 105.5,196.0 Z" fill="#f82626" fill-opacity="0.42"/><path d="M201.0,174.0 C202.8,170.7 207.2,167.8 212.0,166.0 C216.8,164.2 223.7,163.6 230.0,163.0 C236.3,162.4 244.3,162.2 250.0,162.5 C255.7,162.8 260.3,162.9 264.0,164.5 C267.7,166.1 270.2,168.9 272.0,172.0 C273.8,175.1 275.2,178.7 275.0,183.0 C274.8,187.3 272.8,193.2 271.0,198.0 C269.2,202.8 267.2,207.9 264.0,211.6 C260.8,215.3 255.8,218.1 252.0,220.0 C248.2,221.9 244.7,224.0 241.0,223.0 C237.3,222.0 233.5,217.0 230.0,214.0 C226.5,211.0 223.8,207.8 220.0,205.0 C216.2,202.2 210.2,200.2 207.0,197.0 C203.8,193.8 202.0,189.8 201.0,186.0 C200.0,182.2 199.2,177.3 201.0,174.0 Z" fill="#e9db0e" fill-opacity="0.42"/><path d="M237.8,130.4 C240.8,128.9 243.0,128.8 246.0,128.9 C249.0,129.0 252.9,129.7 256.0,131.0 C259.1,132.3 263.0,133.7 264.3,136.5 C265.6,139.3 265.0,143.4 264.0,148.0 C263.0,152.6 260.4,158.3 258.2,164.1 C256.0,169.9 253.4,176.7 251.0,183.0 C248.6,189.3 246.4,197.3 243.9,201.8 C241.4,206.3 238.4,208.3 236.0,210.0 C233.6,211.7 232.1,211.8 229.5,212.0 C226.9,212.2 224.2,212.0 220.5,211.0 C216.8,210.0 210.2,207.5 207.0,206.0 C203.8,204.5 202.9,204.2 201.1,201.8 C199.3,199.4 196.5,195.8 196.0,191.6 C195.5,187.3 195.6,181.4 198.0,176.3 C200.4,171.2 206.7,165.2 210.3,161.0 C213.9,156.8 216.5,154.6 219.4,150.8 C222.3,147.0 224.9,141.4 228.0,138.0 C231.1,134.6 234.8,131.9 237.8,130.4 Z" fill="#009da2" fill-opacity="0.42"/><rect x="43.0" y="227.0" width="100" height="24" rx="12.0" transform="rotate(-74 93 239)" fill="#006e72" fill-opacity="0.42"/><ellipse cx="105" cy="273" rx="10" ry="13" transform="rotate(20 105 273)" fill="#ba2a2a" fill-opacity="0.45"/><path d="M103.1,228.9 C107.0,224.8 113.3,221.7 118.4,220.7 C123.5,219.7 130.8,221.6 133.7,222.8 C136.6,224.0 136.5,223.3 135.8,227.9 C135.1,232.5 131.7,243.2 129.6,250.3 C127.5,257.4 125.9,265.4 123.5,270.7 C121.1,276.0 118.8,279.3 115.4,282.0 C112.0,284.7 106.5,286.3 103.1,287.1 C99.7,287.9 97.4,288.1 95.0,286.6 C92.6,285.1 89.8,282.1 88.8,277.9 C87.8,273.7 88.3,267.1 89.3,261.6 C90.3,256.2 92.6,250.6 94.9,245.2 C97.2,239.8 99.2,233.0 103.1,228.9 Z" fill="#ba2a2a" fill-opacity="0.45"/><path d="M119.0,222.0 C120.5,217.6 124.5,218.7 127.0,218.5 C129.5,218.3 132.9,217.4 134.0,221.0 C135.1,224.6 134.0,234.2 133.5,240.0 C133.0,245.8 132.2,252.2 131.0,256.0 C129.8,259.8 127.8,262.3 126.0,263.0 C124.2,263.7 121.3,263.0 120.0,260.0 C118.7,257.0 118.2,251.3 118.0,245.0 C117.8,238.7 117.5,226.4 119.0,222.0 Z" fill="#a40000" fill-opacity="0.38"/><ellipse cx="141" cy="248" rx="15" ry="27" transform="rotate(10 141 248)" fill="#ad3d3d" fill-opacity="0.4"/><ellipse cx="131" cy="257" rx="16" ry="26" transform="rotate(10 131 257)" fill="#f5ba1f" fill-opacity="0.42"/><rect x="155.5" y="186.5" width="45" height="13" rx="6.5" transform="rotate(25 178 193)" fill="#64bedf" fill-opacity="0.3"/><ellipse cx="171" cy="218" rx="23" ry="17" transform="rotate(15 171 218)" fill="#d21fd2" fill-opacity="0.42"/><ellipse cx="154" cy="238" rx="42" ry="21" transform="rotate(-60 154 238)" fill="#2626ee" fill-opacity="0.42"/><ellipse cx="180" cy="236" rx="32" ry="20" transform="rotate(-65 180 236)" fill="#de674f" fill-opacity="0.42"/><ellipse cx="190.5" cy="244" rx="22.5" ry="18.5" transform="rotate(-30 190.5 244)" fill="#0e8513" fill-opacity="0.42"/><ellipse cx="209" cy="220" rx="25" ry="14" transform="rotate(33 209 220)" fill="#6b6b6b" fill-opacity="0.5"/></g>
<path fill="#1c1c1c" d="M250.6 974.6h2.8v2.8h-2.8zM273.8 1000.8h2.8v2.8h-2.8zM289.6 977.3h2.8v2.8h-2.8zM271.7 954.2h2.8v2.8h-2.8zM298.7 964.3h2.8v2.8h-2.8zM295.4 989.2h2.8v2.8h-2.8zM310.3 981.6h2.8v2.8h-2.8zM280.9 989.6h2.8v2.8h-2.8zM288.0 983.3h2.8v2.8h-2.8zM289.7 985.5h2.8v2.8h-2.8zM287.2 994.3h2.8v2.8h-2.8zM290.9 972.9h2.8v2.8h-2.8zM287.3 991.5h2.8v2.8h-2.8zM288.9 1009.4h2.8v2.8h-2.8zM271.4 986.1h2.8v2.8h-2.8zM269.3 1008.5h2.8v2.8h-2.8zM271.2 986.2h2.8v2.8h-2.8zM266.3 970.3h2.8v2.8h-2.8zM269.1 950.0h2.8v2.8h-2.8zM272.7 971.9h2.8v2.8h-2.8zM274.7 995.2h2.8v2.8h-2.8zM286.0 988.5h2.8v2.8h-2.8zM300.9 986.5h2.8v2.8h-2.8zM275.6 1004.5h2.8v2.8h-2.8zM270.1 981.2h2.8v2.8h-2.8zM255.8 971.4h2.8v2.8h-2.8zM303.0 963.0h2.8v2.8h-2.8zM305.0 996.1h2.8v2.8h-2.8zM285.1 986.3h2.8v2.8h-2.8zM293.3 982.7h2.8v2.8h-2.8zM267.6 989.0h2.8v2.8h-2.8zM286.7 1013.8h2.8v2.8h-2.8zM264.6 976.7h2.8v2.8h-2.8zM297.6 1003.0h2.8v2.8h-2.8zM279.9 994.8h2.8v2.8h-2.8zM305.0 982.8h2.8v2.8h-2.8zM279.5 960.5h2.8v2.8h-2.8zM294.1 991.9h2.8v2.8h-2.8zM293.0 1009.2h2.8v2.8h-2.8zM269.0 1013.9h2.8v2.8h-2.8zM283.3 953.7h2.8v2.8h-2.8zM276.1 973.3h2.8v2.8h-2.8zM273.9 934.8h2.8v2.8h-2.8zM273.1 1001.3h2.8v2.8h-2.8zM286.9 1008.5h2.8v2.8h-2.8zM285.9 1004.9h2.8v2.8h-2.8zM291.2 964.7h2.8v2.8h-2.8zM305.0 981.4h2.8v2.8h-2.8zM293.0 994.3h2.8v2.8h-2.8zM288.7 990.8h2.8v2.8h-2.8zM280.1 962.5h2.8v2.8h-2.8zM287.9 983.6h2.8v2.8h-2.8zM300.2 969.7h2.8v2.8h-2.8zM276.6 953.1h2.8v2.8h-2.8zM293.2 977.3h2.8v2.8h-2.8zM304.3 993.6h2.8v2.8h-2.8zM297.5 944.2h2.8v2.8h-2.8zM294.2 953.4h2.8v2.8h-2.8zM275.1 970.9h2.8v2.8h-2.8zM302.5 965.2h2.8v2.8h-2.8zM284.0 987.3h2.8v2.8h-2.8zM293.8 975.7h2.8v2.8h-2.8zM279.8 1022.6h2.8v2.8h-2.8zM270.9 966.1h2.8v2.8h-2.8zM273.9 984.3h2.8v2.8h-2.8zM286.4 974.8h2.8v2.8h-2.8zM251.0 1004.8h2.8v2.8h-2.8zM296.7 989.8h2.8v2.8h-2.8zM273.8 978.8h2.8v2.8h-2.8zM293.5 981.6h2.8v2.8h-2.8zM313.4 989.6h2.8v2.8h-2.8zM280.4 997.5h2.8v2.8h-2.8zM286.8 969.5h2.8v2.8h-2.8zM284.4 992.6h2.8v2.8h-2.8zM304.6 1002.0h2.8v2.8h-2.8zM302.2 1001.9h2.8v2.8h-2.8zM291.0 993.5h2.8v2.8h-2.8zM303.7 976.1h2.8v2.8h-2.8zM290.0 978.7h2.8v2.8h-2.8zM280.9 956.4h2.8v2.8h-2.8zM286.0 999.0h2.8v2.8h-2.8zM280.1 969.2h2.8v2.8h-2.8zM287.7 977.8h2.8v2.8h-2.8zM288.3 991.8h2.8v2.8h-2.8zM280.4 994.6h2.8v2.8h-2.8zM277.1 980.0h2.8v2.8h-2.8zM292.0 987.6h2.8v2.8h-2.8zM300.8 985.7h2.8v2.8h-2.8zM279.1 963.7h2.8v2.8h-2.8zM297.8 963.2h2.8v2.8h-2.8zM278.3 982.7h2.8v2.8h-2.8zM283.6 956.1h2.8v2.8h-2.8zM300.3 982.4h2.8v2.8h-2.8zM285.9 990.6h2.8v2.8h-2.8zM294.8 1000.8h2.8v2.8h-2.8zM294.0 980.8h2.8v2.8h-2.8zM299.4 985.2h2.8v2.8h-2.8zM264.3 980.7h2.8v2.8h-2.8zM274.1 975.1h2.8v2.8h-2.8zM257.0 973.4h2.8v2.8h-2.8zM281.9 972.8h2.8v2.8h-2.8zM281.6 996.5h2.8v2.8h-2.8zM286.8 959.2h2.8v2.8h-2.8zM305.0 993.9h2.8v2.8h-2.8zM293.6 976.8h2.8v2.8h-2.8zM282.6 983.0h2.8v2.8h-2.8zM289.8 996.0h2.8v2.8h-2.8zM297.0 969.3h2.8v2.8h-2.8zM292.6 982.1h2.8v2.8h-2.8zM281.4 990.1h2.8v2.8h-2.8zM296.7 1002.7h2.8v2.8h-2.8zM270.3 964.5h2.8v2.8h-2.8zM269.0 954.5h2.8v2.8h-2.8zM308.3 981.4h2.8v2.8h-2.8zM270.2 981.4h2.8v2.8h-2.8zM289.1 990.6h2.8v2.8h-2.8zM293.9 965.4h2.8v2.8h-2.8zM292.6 956.1h2.8v2.8h-2.8zM292.4 1004.3h2.8v2.8h-2.8zM264.5 969.2h2.8v2.8h-2.8zM284.9 982.6h2.8v2.8h-2.8zM293.0 990.6h2.8v2.8h-2.8zM276.8 999.7h2.8v2.8h-2.8zM264.2 984.9h2.8v2.8h-2.8zM294.5 995.5h2.8v2.8h-2.8zM282.4 952.5h2.8v2.8h-2.8zM287.9 1004.1h2.8v2.8h-2.8zM268.9 1012.9h2.8v2.8h-2.8zM257.1 963.8h2.8v2.8h-2.8zM280.1 995.3h2.8v2.8h-2.8zM255.3 987.0h2.8v2.8h-2.8zM274.7 981.1h2.8v2.8h-2.8zM302.0 946.4h2.8v2.8h-2.8zM297.4 958.5h2.8v2.8h-2.8zM266.5 954.5h2.8v2.8h-2.8zM298.0 971.1h2.8v2.8h-2.8zM276.1 979.3h2.8v2.8h-2.8zM281.2 967.6h2.8v2.8h-2.8zM267.1 975.4h2.8v2.8h-2.8zM271.1 959.0h2.8v2.8h-2.8zM314.3 951.4h2.8v2.8h-2.8zM287.9 958.3h2.8v2.8h-2.8zM311.8 969.8h2.8v2.8h-2.8zM294.9 1004.4h2.8v2.8h-2.8zM285.8 955.2h2.8v2.8h-2.8zM271.8 958.8h2.8v2.8h-2.8zM290.7 987.8h2.8v2.8h-2.8zM286.1 982.9h2.8v2.8h-2.8zM297.9 964.9h2.8v2.8h-2.8zM287.7 956.2h2.8v2.8h-2.8zM275.4 960.3h2.8v2.8h-2.8zM284.2 960.6h2.8v2.8h-2.8zM285.8 985.8h2.8v2.8h-2.8zM284.3 995.2h2.8v2.8h-2.8zM284.3 990.1h2.8v2.8h-2.8zM241.3 963.3h2.8v2.8h-2.8zM276.0 986.4h2.8v2.8h-2.8zM306.0 996.6h2.8v2.8h-2.8zM298.9 956.4h2.8v2.8h-2.8zM283.8 969.1h2.8v2.8h-2.8zM296.1 984.7h2.8v2.8h-2.8zM305.6 981.7h2.8v2.8h-2.8zM281.4 976.3h2.8v2.8h-2.8zM292.7 960.9h2.8v2.8h-2.8zM272.6 996.6h2.8v2.8h-2.8zM275.6 971.1h2.8v2.8h-2.8zM302.0 991.8h2.8v2.8h-2.8zM273.1 957.5h2.8v2.8h-2.8zM289.7 985.7h2.8v2.8h-2.8zM293.3 969.7h2.8v2.8h-2.8zM265.3 987.9h2.8v2.8h-2.8zM272.8 975.0h2.8v2.8h-2.8zM295.0 961.7h2.8v2.8h-2.8zM281.4 975.7h2.8v2.8h-2.8zM272.2 963.1h2.8v2.8h-2.8zM278.8 1003.4h2.8v2.8h-2.8zM291.1 986.9h2.8v2.8h-2.8zM273.8 969.5h2.8v2.8h-2.8zM245.6 991.2h2.8v2.8h-2.8zM286.9 995.8h2.8v2.8h-2.8zM309.8 996.9h2.8v2.8h-2.8zM281.2 958.4h2.8v2.8h-2.8zM299.3 975.6h2.8v2.8h-2.8zM289.0 962.1h2.8v2.8h-2.8zM283.2 975.8h2.8v2.8h-2.8zM289.8 980.6h2.8v2.8h-2.8zM281.6 981.3h2.8v2.8h-2.8zM283.4 983.7h2.8v2.8h-2.8zM288.7 994.0h2.8v2.8h-2.8zM265.1 1007.1h2.8v2.8h-2.8zM298.8 973.7h2.8v2.8h-2.8zM291.3 992.2h2.8v2.8h-2.8zM269.3 981.3h2.8v2.8h-2.8zM257.7 968.3h2.8v2.8h-2.8zM272.6 1011.0h2.8v2.8h-2.8zM273.4 973.1h2.8v2.8h-2.8zM312.2 936.5h2.8v2.8h-2.8zM266.1 1004.0h2.8v2.8h-2.8zM278.8 1018.6h2.8v2.8h-2.8zM286.8 999.9h2.8v2.8h-2.8zM278.9 967.1h2.8v2.8h-2.8zM285.8 990.4h2.8v2.8h-2.8zM296.9 981.8h2.8v2.8h-2.8zM282.8 977.0h2.8v2.8h-2.8zM291.5 971.0h2.8v2.8h-2.8zM277.0 969.4h2.8v2.8h-2.8zM267.9 995.8h2.8v2.8h-2.8zM265.5 972.8h2.8v2.8h-2.8zM271.9 995.7h2.8v2.8h-2.8zM240.2 951.6h2.8v2.8h-2.8zM268.9 985.4h2.8v2.8h-2.8zM308.6 995.5h2.8v2.8h-2.8zM295.5 982.3h2.8v2.8h-2.8zM289.7 998.2h2.8v2.8h-2.8zM288.8 977.8h2.8v2.8h-2.8zM277.7 1008.0h2.8v2.8h-2.8zM281.6 992.8h2.8v2.8h-2.8zM286.0 957.2h2.8v2.8h-2.8zM267.0 972.1h2.8v2.8h-2.8zM261.0 965.8h2.8v2.8h-2.8zM278.9 1001.3h2.8v2.8h-2.8zM295.2 975.2h2.8v2.8h-2.8zM269.4 969.9h2.8v2.8h-2.8zM294.0 1013.9h2.8v2.8h-2.8zM308.9 965.8h2.8v2.8h-2.8zM275.7 971.8h2.8v2.8h-2.8zM305.5 968.3h2.8v2.8h-2.8zM293.2 962.2h2.8v2.8h-2.8zM270.7 978.2h2.8v2.8h-2.8zM257.5 980.2h2.8v2.8h-2.8zM208.0 1014.0h2.8v2.8h-2.8zM243.5 1078.4h2.8v2.8h-2.8zM214.1 1070.3h2.8v2.8h-2.8zM145.1 1030.7h2.8v2.8h-2.8zM145.9 1079.9h2.8v2.8h-2.8zM199.8 1039.6h2.8v2.8h-2.8zM143.6 1083.8h2.8v2.8h-2.8zM173.2 1084.6h2.8v2.8h-2.8zM183.6 1022.8h2.8v2.8h-2.8zM232.4 1024.7h2.8v2.8h-2.8zM279.0 1029.9h2.8v2.8h-2.8zM127.4 1017.9h2.8v2.8h-2.8zM190.2 1060.3h2.8v2.8h-2.8zM265.4 1020.6h2.8v2.8h-2.8zM194.5 1070.4h2.8v2.8h-2.8zM184.7 1084.7h2.8v2.8h-2.8zM210.7 1077.4h2.8v2.8h-2.8zM207.4 1078.3h2.8v2.8h-2.8zM126.7 1044.4h2.8v2.8h-2.8zM144.4 1033.9h2.8v2.8h-2.8zM246.1 1016.6h2.8v2.8h-2.8zM177.1 1072.4h2.8v2.8h-2.8zM239.0 1010.7h2.8v2.8h-2.8zM222.6 1008.5h2.8v2.8h-2.8zM147.7 1081.3h2.8v2.8h-2.8zM268.5 1019.6h2.8v2.8h-2.8zM209.8 1011.9h2.8v2.8h-2.8zM264.1 1011.1h2.8v2.8h-2.8zM221.8 1050.3h2.8v2.8h-2.8zM194.3 1038.2h2.8v2.8h-2.8zM208.1 1082.1h2.8v2.8h-2.8zM184.2 1044.3h2.8v2.8h-2.8zM206.7 1006.7h2.8v2.8h-2.8zM225.7 1036.0h2.8v2.8h-2.8zM225.2 1001.2h2.8v2.8h-2.8zM263.0 1038.1h2.8v2.8h-2.8zM268.4 1047.9h2.8v2.8h-2.8zM286.4 1010.6h2.8v2.8h-2.8zM172.7 1038.2h2.8v2.8h-2.8zM192.1 1069.5h2.8v2.8h-2.8zM274.4 1012.4h2.8v2.8h-2.8zM201.8 1075.2h2.8v2.8h-2.8zM163.7 1015.5h2.8v2.8h-2.8zM138.9 1039.4h2.8v2.8h-2.8zM214.0 1050.1h2.8v2.8h-2.8zM141.9 1031.4h2.8v2.8h-2.8zM245.1 1075.9h2.8v2.8h-2.8zM133.7 1002.7h2.8v2.8h-2.8zM203.5 1084.6h2.8v2.8h-2.8zM152.2 1064.9h2.8v2.8h-2.8zM131.2 1015.7h2.8v2.8h-2.8zM210.0 1020.9h2.8v2.8h-2.8zM156.5 1035.7h2.8v2.8h-2.8zM242.3 1027.8h2.8v2.8h-2.8zM215.9 1085.4h2.8v2.8h-2.8zM251.1 1034.6h2.8v2.8h-2.8zM259.3 1035.8h2.8v2.8h-2.8zM143.2 1076.4h2.8v2.8h-2.8zM256.7 1045.0h2.8v2.8h-2.8zM157.5 1073.7h2.8v2.8h-2.8zM213.7 1030.4h2.8v2.8h-2.8zM188.7 1000.1h2.8v2.8h-2.8zM293.1 1020.7h2.8v2.8h-2.8zM264.2 1005.7h2.8v2.8h-2.8zM303.4 1003.7h2.8v2.8h-2.8zM296.0 1012.2h2.8v2.8h-2.8zM142.5 1086.3h2.8v2.8h-2.8zM144.2 1054.2h2.8v2.8h-2.8zM128.7 1018.3h2.8v2.8h-2.8zM181.8 1029.5h2.8v2.8h-2.8zM204.4 1073.4h2.8v2.8h-2.8zM287.4 1019.1h2.8v2.8h-2.8zM242.9 1035.3h2.8v2.8h-2.8zM246.2 1019.9h2.8v2.8h-2.8zM209.3 1055.8h2.8v2.8h-2.8zM278.4 1026.4h2.8v2.8h-2.8zM157.0 1003.1h2.8v2.8h-2.8zM185.9 1033.8h2.8v2.8h-2.8zM247.9 1073.6h2.8v2.8h-2.8zM202.9 1013.7h2.8v2.8h-2.8zM197.8 1078.1h2.8v2.8h-2.8zM282.9 1014.3h2.8v2.8h-2.8zM239.0 1019.8h2.8v2.8h-2.8zM172.4 1065.0h2.8v2.8h-2.8zM157.7 1039.6h2.8v2.8h-2.8zM236.3 1010.9h2.8v2.8h-2.8zM132.5 1035.4h2.8v2.8h-2.8zM165.9 1066.9h2.8v2.8h-2.8zM194.3 1076.2h2.8v2.8h-2.8zM165.3 1027.9h2.8v2.8h-2.8zM170.1 1016.4h2.8v2.8h-2.8zM224.3 1077.8h2.8v2.8h-2.8zM156.4 1000.4h2.8v2.8h-2.8zM193.5 1000.4h2.8v2.8h-2.8zM155.9 1011.7h2.8v2.8h-2.8zM157.5 1023.1h2.8v2.8h-2.8zM207.5 1083.2h2.8v2.8h-2.8zM261.1 1053.3h2.8v2.8h-2.8zM172.2 1024.4h2.8v2.8h-2.8zM132.6 1062.6h2.8v2.8h-2.8zM166.1 1031.4h2.8v2.8h-2.8zM232.3 1072.6h2.8v2.8h-2.8zM220.6 1029.9h2.8v2.8h-2.8zM256.9 1042.9h2.8v2.8h-2.8zM225.2 1078.9h2.8v2.8h-2.8zM208.5 1039.0h2.8v2.8h-2.8zM201.4 1003.4h2.8v2.8h-2.8zM132.4 1001.3h2.8v2.8h-2.8zM221.2 1061.0h2.8v2.8h-2.8zM183.5 1076.3h2.8v2.8h-2.8zM181.8 1016.2h2.8v2.8h-2.8zM223.3 1066.2h2.8v2.8h-2.8zM281.8 1022.5h2.8v2.8h-2.8zM175.1 1044.4h2.8v2.8h-2.8zM133.2 1076.7h2.8v2.8h-2.8zM271.4 1004.3h2.8v2.8h-2.8zM166.3 1032.2h2.8v2.8h-2.8zM177.6 1040.5h2.8v2.8h-2.8zM271.1 1048.1h2.8v2.8h-2.8zM200.8 1024.9h2.8v2.8h-2.8zM258.9 1008.6h2.8v2.8h-2.8zM261.7 1061.4h2.8v2.8h-2.8zM157.0 1021.2h2.8v2.8h-2.8zM155.6 1076.4h2.8v2.8h-2.8zM198.1 1065.0h2.8v2.8h-2.8zM260.2 1060.7h2.8v2.8h-2.8zM271.3 1019.1h2.8v2.8h-2.8zM149.7 1077.9h2.8v2.8h-2.8zM178.3 1071.8h2.8v2.8h-2.8zM139.4 1050.4h2.8v2.8h-2.8zM173.9 1041.1h2.8v2.8h-2.8zM161.5 1033.3h2.8v2.8h-2.8zM198.1 1009.9h2.8v2.8h-2.8zM231.1 1014.7h2.8v2.8h-2.8zM255.6 1059.6h2.8v2.8h-2.8zM278.1 1024.4h2.8v2.8h-2.8zM260.5 1025.7h2.8v2.8h-2.8zM167.8 1045.8h2.8v2.8h-2.8zM239.9 1056.7h2.8v2.8h-2.8zM128.3 1078.0h2.8v2.8h-2.8zM197.5 1071.2h2.8v2.8h-2.8zM270.5 1003.1h2.8v2.8h-2.8zM234.5 1054.1h2.8v2.8h-2.8zM173.1 1078.7h2.8v2.8h-2.8zM151.9 1022.7h2.8v2.8h-2.8zM157.6 1032.9h2.8v2.8h-2.8zM131.5 1032.7h2.8v2.8h-2.8zM173.1 1004.9h2.8v2.8h-2.8zM230.8 1070.1h2.8v2.8h-2.8zM218.0 1067.0h2.8v2.8h-2.8zM242.0 1041.2h2.8v2.8h-2.8zM239.9 1037.8h2.8v2.8h-2.8zM245.2 1022.1h2.8v2.8h-2.8zM146.1 1078.9h2.8v2.8h-2.8zM149.6 1038.1h2.8v2.8h-2.8zM174.6 1074.7h2.8v2.8h-2.8zM168.6 1008.7h2.8v2.8h-2.8zM211.1 1067.0h2.8v2.8h-2.8zM140.5 1025.2h2.8v2.8h-2.8zM252.6 1008.0h2.8v2.8h-2.8zM283.4 1029.3h2.8v2.8h-2.8zM157.9 1043.7h2.8v2.8h-2.8zM224.3 1046.1h2.8v2.8h-2.8zM160.1 1038.4h2.8v2.8h-2.8zM260.5 1000.7h2.8v2.8h-2.8zM174.9 1022.9h2.8v2.8h-2.8zM192.3 1019.8h2.8v2.8h-2.8zM224.2 1055.9h2.8v2.8h-2.8zM214.5 1047.5h2.8v2.8h-2.8zM150.8 1065.1h2.8v2.8h-2.8zM204.6 1039.4h2.8v2.8h-2.8zM188.8 1052.7h2.8v2.8h-2.8zM189.3 1042.7h2.8v2.8h-2.8zM197.0 1005.1h2.8v2.8h-2.8zM197.6 1010.4h2.8v2.8h-2.8zM249.4 1007.9h2.8v2.8h-2.8zM191.4 1070.4h2.8v2.8h-2.8zM181.4 1006.8h2.8v2.8h-2.8zM269.1 1049.8h2.8v2.8h-2.8zM247.3 1039.2h2.8v2.8h-2.8zM134.7 1048.3h2.8v2.8h-2.8zM188.6 1034.0h2.8v2.8h-2.8zM174.1 1066.7h2.8v2.8h-2.8zM278.5 1041.9h2.8v2.8h-2.8zM134.5 1074.8h2.8v2.8h-2.8zM141.5 1065.2h2.8v2.8h-2.8zM249.4 1065.0h2.8v2.8h-2.8zM300.6 1018.8h2.8v2.8h-2.8zM181.2 1003.8h2.8v2.8h-2.8zM268.5 1062.5h2.8v2.8h-2.8zM209.4 1062.4h2.8v2.8h-2.8zM185.2 1016.6h2.8v2.8h-2.8zM221.4 1052.3h2.8v2.8h-2.8zM165.2 1022.6h2.8v2.8h-2.8zM221.9 1036.8h2.8v2.8h-2.8zM203.1 1032.6h2.8v2.8h-2.8zM204.7 1001.3h2.8v2.8h-2.8zM278.1 1037.5h2.8v2.8h-2.8zM217.3 1029.0h2.8v2.8h-2.8zM134.8 1048.1h2.8v2.8h-2.8zM156.7 1038.1h2.8v2.8h-2.8zM176.7 1016.6h2.8v2.8h-2.8zM210.6 1057.4h2.8v2.8h-2.8zM254.1 1007.2h2.8v2.8h-2.8zM151.6 1009.9h2.8v2.8h-2.8zM192.2 1059.0h2.8v2.8h-2.8zM163.4 1041.9h2.8v2.8h-2.8zM177.2 1068.0h2.8v2.8h-2.8zM259.9 1058.4h2.8v2.8h-2.8zM176.2 1064.0h2.8v2.8h-2.8zM196.4 1054.8h2.8v2.8h-2.8zM166.7 1032.4h2.8v2.8h-2.8zM247.9 1024.7h2.8v2.8h-2.8zM181.4 1075.3h2.8v2.8h-2.8zM240.6 1059.1h2.8v2.8h-2.8zM237.9 1062.7h2.8v2.8h-2.8zM181.8 1049.3h2.8v2.8h-2.8zM213.8 1085.7h2.8v2.8h-2.8zM291.0 1020.0h2.8v2.8h-2.8zM224.6 1046.6h2.8v2.8h-2.8zM243.2 1070.2h2.8v2.8h-2.8zM162.8 1030.8h2.8v2.8h-2.8zM157.2 1073.4h2.8v2.8h-2.8zM156.7 1031.2h2.8v2.8h-2.8zM166.0 1045.1h2.8v2.8h-2.8zM175.0 1046.4h2.8v2.8h-2.8zM190.1 1056.8h2.8v2.8h-2.8zM236.7 1043.7h2.8v2.8h-2.8zM249.2 1058.9h2.8v2.8h-2.8zM174.1 1026.4h2.8v2.8h-2.8zM207.3 1011.4h2.8v2.8h-2.8zM266.7 1032.0h2.8v2.8h-2.8zM156.4 1040.3h2.8v2.8h-2.8zM228.4 1058.7h2.8v2.8h-2.8zM202.6 1079.4h2.8v2.8h-2.8zM129.6 1037.1h2.8v2.8h-2.8zM151.7 1043.7h2.8v2.8h-2.8zM165.5 1056.9h2.8v2.8h-2.8zM133.7 1064.6h2.8v2.8h-2.8zM204.2 1047.5h2.8v2.8h-2.8zM250.2 1012.5h2.8v2.8h-2.8zM196.6 1077.3h2.8v2.8h-2.8zM132.9 1003.0h2.8v2.8h-2.8zM238.4 1006.5h2.8v2.8h-2.8zM209.9 1079.6h2.8v2.8h-2.8zM283.0 1007.6h2.8v2.8h-2.8zM285.7 1032.3h2.8v2.8h-2.8zM220.7 1064.7h2.8v2.8h-2.8zM266.5 1041.6h2.8v2.8h-2.8zM181.8 1067.0h2.8v2.8h-2.8zM249.9 1033.0h2.8v2.8h-2.8zM267.0 1061.5h2.8v2.8h-2.8zM272.4 1008.9h2.8v2.8h-2.8zM155.0 1009.5h2.8v2.8h-2.8zM186.6 1034.2h2.8v2.8h-2.8zM139.3 1014.6h2.8v2.8h-2.8zM247.5 1052.6h2.8v2.8h-2.8zM214.4 1041.0h2.8v2.8h-2.8zM229.4 1062.1h2.8v2.8h-2.8zM301.3 1009.0h2.8v2.8h-2.8zM249.3 1016.8h2.8v2.8h-2.8zM290.7 1019.0h2.8v2.8h-2.8zM296.3 1011.9h2.8v2.8h-2.8zM147.1 1057.9h2.8v2.8h-2.8zM286.6 1005.3h2.8v2.8h-2.8zM188.8 1005.8h2.8v2.8h-2.8zM215.6 1035.5h2.8v2.8h-2.8zM251.0 1036.0h2.8v2.8h-2.8zM157.6 1071.5h2.8v2.8h-2.8zM127.8 1011.8h2.8v2.8h-2.8zM258.3 1004.4h2.8v2.8h-2.8zM202.0 1030.7h2.8v2.8h-2.8zM272.3 1046.4h2.8v2.8h-2.8zM186.0 1064.3h2.8v2.8h-2.8zM139.7 1039.2h2.8v2.8h-2.8zM241.6 1051.8h2.8v2.8h-2.8zM219.6 1004.1h2.8v2.8h-2.8zM195.6 1079.0h2.8v2.8h-2.8zM140.3 1049.4h2.8v2.8h-2.8zM215.8 1002.9h2.8v2.8h-2.8zM161.0 1047.2h2.8v2.8h-2.8zM157.6 1074.0h2.8v2.8h-2.8zM236.1 1075.2h2.8v2.8h-2.8zM246.4 1009.1h2.8v2.8h-2.8zM247.6 1040.7h2.8v2.8h-2.8zM168.0 1023.5h2.8v2.8h-2.8zM129.5 1066.9h2.8v2.8h-2.8zM252.4 1024.2h2.8v2.8h-2.8zM240.2 1031.2h2.8v2.8h-2.8zM208.2 1028.8h2.8v2.8h-2.8zM297.5 1012.7h2.8v2.8h-2.8zM181.9 1002.9h2.8v2.8h-2.8zM196.7 1059.5h2.8v2.8h-2.8zM219.8 1054.2h2.8v2.8h-2.8zM257.2 1069.9h2.8v2.8h-2.8zM260.4 1026.3h2.8v2.8h-2.8zM260.7 1024.3h2.8v2.8h-2.8zM248.5 1033.2h2.8v2.8h-2.8zM128.8 1070.4h2.8v2.8h-2.8zM154.3 1015.2h2.8v2.8h-2.8zM186.7 1058.5h2.8v2.8h-2.8zM179.9 1022.4h2.8v2.8h-2.8zM148.4 1065.7h2.8v2.8h-2.8zM221.9 1033.5h2.8v2.8h-2.8zM188.6 1026.3h2.8v2.8h-2.8zM220.2 1075.6h2.8v2.8h-2.8zM220.4 1002.3h2.8v2.8h-2.8zM242.0 1061.2h2.8v2.8h-2.8zM208.4 1076.8h2.8v2.8h-2.8zM149.7 1041.1h2.8v2.8h-2.8zM280.5 1008.6h2.8v2.8h-2.8zM206.0 1027.9h2.8v2.8h-2.8zM194.7 1019.5h2.8v2.8h-2.8zM189.0 1071.8h2.8v2.8h-2.8zM126.8 1018.7h2.8v2.8h-2.8zM192.9 1060.4h2.8v2.8h-2.8zM194.9 1077.5h2.8v2.8h-2.8zM268.9 1004.4h2.8v2.8h-2.8zM218.1 1026.2h2.8v2.8h-2.8zM246.3 1061.8h2.8v2.8h-2.8zM218.6 1022.9h2.8v2.8h-2.8zM160.8 1021.2h2.8v2.8h-2.8zM154.8 999.9h2.8v2.8h-2.8zM172.8 1006.4h2.8v2.8h-2.8zM126.9 1045.5h2.8v2.8h-2.8zM144.7 1031.2h2.8v2.8h-2.8zM276.3 1027.1h2.8v2.8h-2.8zM178.2 1034.7h2.8v2.8h-2.8zM173.3 1067.6h2.8v2.8h-2.8zM229.9 1019.1h2.8v2.8h-2.8zM269.3 1005.3h2.8v2.8h-2.8zM191.0 1021.5h2.8v2.8h-2.8zM159.8 1080.7h2.8v2.8h-2.8zM239.6 1000.0h2.8v2.8h-2.8zM243.0 1079.9h2.8v2.8h-2.8zM227.5 1064.6h2.8v2.8h-2.8zM159.8 1036.7h2.8v2.8h-2.8zM139.0 1078.9h2.8v2.8h-2.8zM138.6 1059.1h2.8v2.8h-2.8zM152.7 1042.1h2.8v2.8h-2.8zM252.2 1074.4h2.8v2.8h-2.8zM249.1 1031.7h2.8v2.8h-2.8zM149.0 1009.1h2.8v2.8h-2.8zM194.4 1078.6h2.8v2.8h-2.8zM160.5 1053.0h2.8v2.8h-2.8zM128.3 1057.4h2.8v2.8h-2.8zM171.5 1010.6h2.8v2.8h-2.8zM300.6 1008.1h2.8v2.8h-2.8zM274.7 1042.8h2.8v2.8h-2.8zM139.5 1079.4h2.8v2.8h-2.8zM209.8 1021.0h2.8v2.8h-2.8zM216.2 1021.8h2.8v2.8h-2.8zM273.2 1042.2h2.8v2.8h-2.8zM280.9 1001.4h2.8v2.8h-2.8zM136.2 1026.2h2.8v2.8h-2.8zM261.3 1046.1h2.8v2.8h-2.8zM233.5 1073.6h2.8v2.8h-2.8zM243.1 1071.0h2.8v2.8h-2.8zM140.3 1058.8h2.8v2.8h-2.8zM166.2 1010.4h2.8v2.8h-2.8zM248.7 1000.0h2.8v2.8h-2.8zM199.4 1061.4h2.8v2.8h-2.8zM206.4 1015.2h2.8v2.8h-2.8zM257.2 1014.0h2.8v2.8h-2.8zM183.7 1039.8h2.8v2.8h-2.8zM248.8 1004.0h2.8v2.8h-2.8zM238.5 1032.8h2.8v2.8h-2.8zM156.9 1014.9h2.8v2.8h-2.8zM158.4 1019.1h2.8v2.8h-2.8zM241.4 1042.1h2.8v2.8h-2.8zM132.1 1079.5h2.8v2.8h-2.8zM250.7 1004.9h2.8v2.8h-2.8zM179.9 998.9h2.8v2.8h-2.8zM183.6 1011.1h2.8v2.8h-2.8zM177.9 988.2h2.8v2.8h-2.8zM195.9 990.7h2.8v2.8h-2.8zM159.2 976.1h2.8v2.8h-2.8zM206.1 985.9h2.8v2.8h-2.8zM244.6 987.6h2.8v2.8h-2.8zM181.7 969.2h2.8v2.8h-2.8zM234.5 1010.1h2.8v2.8h-2.8zM236.8 969.1h2.8v2.8h-2.8zM247.4 986.6h2.8v2.8h-2.8zM235.2 966.5h2.8v2.8h-2.8zM242.9 1020.5h2.8v2.8h-2.8zM181.8 1020.3h2.8v2.8h-2.8zM226.0 996.9h2.8v2.8h-2.8zM194.0 995.6h2.8v2.8h-2.8zM164.0 1012.5h2.8v2.8h-2.8zM200.9 996.2h2.8v2.8h-2.8zM204.8 1017.9h2.8v2.8h-2.8zM238.6 1017.6h2.8v2.8h-2.8zM179.0 1002.5h2.8v2.8h-2.8zM178.2 1005.3h2.8v2.8h-2.8zM243.9 975.9h2.8v2.8h-2.8zM188.4 985.6h2.8v2.8h-2.8zM212.6 991.5h2.8v2.8h-2.8zM232.5 1022.0h2.8v2.8h-2.8zM230.3 987.4h2.8v2.8h-2.8zM241.7 1020.8h2.8v2.8h-2.8zM179.7 983.2h2.8v2.8h-2.8zM160.4 984.2h2.8v2.8h-2.8zM199.2 983.1h2.8v2.8h-2.8zM198.0 998.4h2.8v2.8h-2.8zM214.3 996.2h2.8v2.8h-2.8zM236.1 1022.3h2.8v2.8h-2.8zM161.3 1024.1h2.8v2.8h-2.8zM209.9 972.6h2.8v2.8h-2.8zM226.9 981.2h2.8v2.8h-2.8zM225.8 992.7h2.8v2.8h-2.8zM186.9 1001.8h2.8v2.8h-2.8zM201.4 966.7h2.8v2.8h-2.8zM216.4 1022.5h2.8v2.8h-2.8zM202.8 994.4h2.8v2.8h-2.8zM216.5 1005.5h2.8v2.8h-2.8zM174.5 1004.3h2.8v2.8h-2.8zM239.4 997.0h2.8v2.8h-2.8zM199.8 978.7h2.8v2.8h-2.8zM246.6 990.9h2.8v2.8h-2.8zM187.5 1009.4h2.8v2.8h-2.8zM185.9 978.1h2.8v2.8h-2.8zM166.9 1016.5h2.8v2.8h-2.8zM239.2 999.1h2.8v2.8h-2.8zM181.3 964.8h2.8v2.8h-2.8zM165.8 1014.5h2.8v2.8h-2.8zM188.3 1005.2h2.8v2.8h-2.8zM243.1 998.6h2.8v2.8h-2.8zM165.8 1019.3h2.8v2.8h-2.8zM172.2 968.3h2.8v2.8h-2.8zM240.4 1000.1h2.8v2.8h-2.8zM175.8 1021.4h2.8v2.8h-2.8zM200.7 1003.8h2.8v2.8h-2.8zM206.7 1002.2h2.8v2.8h-2.8zM191.7 965.7h2.8v2.8h-2.8zM206.7 1002.4h2.8v2.8h-2.8zM197.0 972.3h2.8v2.8h-2.8zM172.6 1024.0h2.8v2.8h-2.8zM161.6 968.8h2.8v2.8h-2.8zM206.8 976.4h2.8v2.8h-2.8zM177.6 1014.2h2.8v2.8h-2.8zM196.7 1000.1h2.8v2.8h-2.8zM178.4 989.6h2.8v2.8h-2.8zM232.2 977.8h2.8v2.8h-2.8zM194.4 978.6h2.8v2.8h-2.8zM159.4 1000.6h2.8v2.8h-2.8zM205.5 998.9h2.8v2.8h-2.8zM206.1 970.6h2.8v2.8h-2.8zM197.9 1016.1h2.8v2.8h-2.8zM225.8 1004.4h2.8v2.8h-2.8zM187.7 1018.7h2.8v2.8h-2.8zM158.8 997.4h2.8v2.8h-2.8zM235.4 1000.9h2.8v2.8h-2.8zM228.5 1008.2h2.8v2.8h-2.8zM243.5 974.2h2.8v2.8h-2.8zM201.1 970.5h2.8v2.8h-2.8zM234.1 982.5h2.8v2.8h-2.8zM200.4 1001.4h2.8v2.8h-2.8zM246.0 994.3h2.8v2.8h-2.8zM160.6 1023.2h2.8v2.8h-2.8zM216.6 999.5h2.8v2.8h-2.8zM226.4 994.7h2.8v2.8h-2.8zM186.6 1022.0h2.8v2.8h-2.8zM206.4 1024.5h2.8v2.8h-2.8zM173.2 981.4h2.8v2.8h-2.8zM201.5 982.9h2.8v2.8h-2.8zM194.7 986.8h2.8v2.8h-2.8zM200.1 977.9h2.8v2.8h-2.8zM197.0 978.5h2.8v2.8h-2.8zM166.5 998.9h2.8v2.8h-2.8zM186.6 966.5h2.8v2.8h-2.8zM239.2 1002.6h2.8v2.8h-2.8zM203.3 976.6h2.8v2.8h-2.8zM242.2 986.1h2.8v2.8h-2.8zM178.6 1003.6h2.8v2.8h-2.8zM182.2 1010.9h2.8v2.8h-2.8zM160.3 993.2h2.8v2.8h-2.8zM188.4 1010.3h2.8v2.8h-2.8zM186.1 990.3h2.8v2.8h-2.8zM162.8 1001.3h2.8v2.8h-2.8zM238.7 970.6h2.8v2.8h-2.8zM202.5 977.4h2.8v2.8h-2.8zM159.8 1018.2h2.8v2.8h-2.8zM178.5 997.8h2.8v2.8h-2.8zM202.5 1002.1h2.8v2.8h-2.8zM242.7 968.0h2.8v2.8h-2.8zM199.1 965.4h2.8v2.8h-2.8zM240.5 973.8h2.8v2.8h-2.8zM171.1 1006.0h2.8v2.8h-2.8zM174.6 992.1h2.8v2.8h-2.8zM188.9 976.4h2.8v2.8h-2.8zM246.9 1005.3h2.8v2.8h-2.8zM178.5 988.6h2.8v2.8h-2.8zM213.0 970.6h2.8v2.8h-2.8zM182.4 969.8h2.8v2.8h-2.8zM243.2 991.5h2.8v2.8h-2.8zM211.5 1021.6h2.8v2.8h-2.8zM181.3 971.5h2.8v2.8h-2.8zM236.2 994.6h2.8v2.8h-2.8zM181.3 1014.1h2.8v2.8h-2.8zM176.8 983.2h2.8v2.8h-2.8zM186.7 994.6h2.8v2.8h-2.8zM227.7 1012.9h2.8v2.8h-2.8zM179.5 989.8h2.8v2.8h-2.8zM191.1 1001.9h2.8v2.8h-2.8zM240.1 1002.1h2.8v2.8h-2.8zM202.7 1009.4h2.8v2.8h-2.8zM247.4 1020.3h2.8v2.8h-2.8zM227.2 1011.3h2.8v2.8h-2.8zM223.0 1000.3h2.8v2.8h-2.8zM240.0 975.6h2.8v2.8h-2.8zM187.8 986.0h2.8v2.8h-2.8zM164.0 973.9h2.8v2.8h-2.8zM170.9 972.2h2.8v2.8h-2.8zM223.7 964.6h2.8v2.8h-2.8zM242.6 977.5h2.8v2.8h-2.8zM194.3 965.8h2.8v2.8h-2.8zM199.7 970.2h2.8v2.8h-2.8zM248.6 1001.3h2.8v2.8h-2.8zM234.5 965.0h2.8v2.8h-2.8zM211.8 995.9h2.8v2.8h-2.8zM183.0 979.1h2.8v2.8h-2.8zM165.7 1009.3h2.8v2.8h-2.8zM275.6 960.6h2.8v2.8h-2.8zM274.5 1001.6h2.8v2.8h-2.8zM287.7 946.9h2.8v2.8h-2.8zM240.9 938.9h2.8v2.8h-2.8zM293.0 979.4h2.8v2.8h-2.8zM258.5 982.5h2.8v2.8h-2.8zM243.5 951.2h2.8v2.8h-2.8zM266.1 934.8h2.8v2.8h-2.8zM261.8 948.9h2.8v2.8h-2.8zM241.7 943.4h2.8v2.8h-2.8zM281.0 959.7h2.8v2.8h-2.8zM254.9 1001.6h2.8v2.8h-2.8zM282.3 951.1h2.8v2.8h-2.8zM253.0 941.4h2.8v2.8h-2.8zM242.9 993.9h2.8v2.8h-2.8zM250.9 971.1h2.8v2.8h-2.8zM247.1 955.4h2.8v2.8h-2.8zM268.6 959.3h2.8v2.8h-2.8zM273.3 959.2h2.8v2.8h-2.8zM247.0 943.7h2.8v2.8h-2.8zM283.6 943.9h2.8v2.8h-2.8zM298.4 934.7h2.8v2.8h-2.8zM293.4 977.0h2.8v2.8h-2.8zM262.1 991.8h2.8v2.8h-2.8zM281.3 958.9h2.8v2.8h-2.8zM260.1 990.7h2.8v2.8h-2.8zM246.6 993.5h2.8v2.8h-2.8zM260.2 942.8h2.8v2.8h-2.8zM272.8 972.8h2.8v2.8h-2.8zM279.2 940.4h2.8v2.8h-2.8zM254.7 956.6h2.8v2.8h-2.8zM267.1 990.9h2.8v2.8h-2.8zM274.2 971.4h2.8v2.8h-2.8zM263.3 981.0h2.8v2.8h-2.8zM282.6 958.9h2.8v2.8h-2.8zM240.3 960.7h2.8v2.8h-2.8zM281.5 1003.1h2.8v2.8h-2.8zM262.0 994.5h2.8v2.8h-2.8zM240.3 1002.1h2.8v2.8h-2.8zM284.6 1000.1h2.8v2.8h-2.8zM258.6 975.0h2.8v2.8h-2.8zM252.6 996.0h2.8v2.8h-2.8zM271.3 980.7h2.8v2.8h-2.8zM294.0 978.9h2.8v2.8h-2.8zM274.5 984.6h2.8v2.8h-2.8zM260.8 993.0h2.8v2.8h-2.8zM247.0 948.8h2.8v2.8h-2.8zM294.6 976.7h2.8v2.8h-2.8zM257.0 963.3h2.8v2.8h-2.8zM244.5 999.5h2.8v2.8h-2.8zM256.6 993.8h2.8v2.8h-2.8zM262.0 981.5h2.8v2.8h-2.8zM272.9 996.3h2.8v2.8h-2.8zM263.4 942.4h2.8v2.8h-2.8zM247.4 1002.8h2.8v2.8h-2.8zM288.8 964.9h2.8v2.8h-2.8zM273.0 968.9h2.8v2.8h-2.8zM281.7 955.8h2.8v2.8h-2.8zM244.9 963.8h2.8v2.8h-2.8zM242.3 944.4h2.8v2.8h-2.8zM240.3 981.1h2.8v2.8h-2.8zM254.2 972.5h2.8v2.8h-2.8zM250.6 942.2h2.8v2.8h-2.8zM275.4 994.9h2.8v2.8h-2.8zM274.1 935.9h2.8v2.8h-2.8zM246.9 971.6h2.8v2.8h-2.8zM267.4 961.7h2.8v2.8h-2.8zM258.9 954.7h2.8v2.8h-2.8zM242.9 999.6h2.8v2.8h-2.8zM247.2 994.5h2.8v2.8h-2.8zM279.8 941.6h2.8v2.8h-2.8zM260.9 980.7h2.8v2.8h-2.8zM290.2 985.4h2.8v2.8h-2.8zM268.6 999.9h2.8v2.8h-2.8zM260.5 978.5h2.8v2.8h-2.8zM269.4 946.9h2.8v2.8h-2.8zM279.6 979.9h2.8v2.8h-2.8zM269.1 1004.2h2.8v2.8h-2.8zM262.7 936.9h2.8v2.8h-2.8zM276.8 991.8h2.8v2.8h-2.8zM258.0 996.9h2.8v2.8h-2.8zM266.9 982.9h2.8v2.8h-2.8zM282.1 964.2h2.8v2.8h-2.8zM297.3 976.6h2.8v2.8h-2.8zM271.6 985.5h2.8v2.8h-2.8zM288.5 958.3h2.8v2.8h-2.8zM263.0 970.4h2.8v2.8h-2.8zM285.6 972.1h2.8v2.8h-2.8zM245.7 947.2h2.8v2.8h-2.8zM243.5 985.0h2.8v2.8h-2.8zM249.2 999.8h2.8v2.8h-2.8zM251.0 962.5h2.8v2.8h-2.8zM256.2 991.6h2.8v2.8h-2.8zM265.0 1001.0h2.8v2.8h-2.8zM260.2 963.5h2.8v2.8h-2.8zM284.7 994.4h2.8v2.8h-2.8zM246.3 981.2h2.8v2.8h-2.8zM252.5 991.4h2.8v2.8h-2.8zM286.3 1000.1h2.8v2.8h-2.8zM273.9 977.7h2.8v2.8h-2.8zM239.7 991.0h2.8v2.8h-2.8zM274.5 967.2h2.8v2.8h-2.8zM242.8 946.8h2.8v2.8h-2.8zM276.9 1002.6h2.8v2.8h-2.8zM253.7 1003.0h2.8v2.8h-2.8zM288.9 974.6h2.8v2.8h-2.8zM288.2 980.6h2.8v2.8h-2.8zM267.5 974.1h2.8v2.8h-2.8zM245.6 999.8h2.8v2.8h-2.8zM294.3 946.4h2.8v2.8h-2.8zM267.5 973.5h2.8v2.8h-2.8zM257.3 945.0h2.8v2.8h-2.8zM267.2 967.0h2.8v2.8h-2.8zM278.9 939.3h2.8v2.8h-2.8zM264.9 964.6h2.8v2.8h-2.8zM239.4 1001.1h2.8v2.8h-2.8zM248.0 954.7h2.8v2.8h-2.8zM255.1 997.8h2.8v2.8h-2.8zM259.4 963.2h2.8v2.8h-2.8zM285.9 961.0h2.8v2.8h-2.8zM262.6 986.1h2.8v2.8h-2.8zM290.5 946.4h2.8v2.8h-2.8zM297.7 940.6h2.8v2.8h-2.8zM293.5 988.1h2.8v2.8h-2.8zM271.3 967.9h2.8v2.8h-2.8zM281.1 978.9h2.8v2.8h-2.8zM254.1 985.0h2.8v2.8h-2.8zM281.0 945.7h2.8v2.8h-2.8zM244.4 970.5h2.8v2.8h-2.8zM241.3 958.2h2.8v2.8h-2.8zM242.5 971.8h2.8v2.8h-2.8zM288.9 973.3h2.8v2.8h-2.8zM285.8 965.7h2.8v2.8h-2.8zM263.4 956.4h2.8v2.8h-2.8zM257.7 952.8h2.8v2.8h-2.8zM256.1 963.8h2.8v2.8h-2.8zM257.8 954.1h2.8v2.8h-2.8zM277.2 959.3h2.8v2.8h-2.8zM241.1 970.4h2.8v2.8h-2.8zM289.5 998.1h2.8v2.8h-2.8zM250.1 996.6h2.8v2.8h-2.8zM273.4 964.1h2.8v2.8h-2.8zM254.8 945.9h2.8v2.8h-2.8zM262.0 966.4h2.8v2.8h-2.8zM259.3 938.5h2.8v2.8h-2.8zM283.2 987.6h2.8v2.8h-2.8zM248.3 1002.7h2.8v2.8h-2.8zM253.3 995.5h2.8v2.8h-2.8zM263.9 994.4h2.8v2.8h-2.8zM324.8 949.2h2.8v2.8h-2.8zM318.6 950.2h2.8v2.8h-2.8zM310.4 970.6h2.8v2.8h-2.8zM323.9 972.5h2.8v2.8h-2.8zM324.7 959.7h2.8v2.8h-2.8zM309.2 978.1h2.8v2.8h-2.8zM319.6 953.2h2.8v2.8h-2.8zM328.2 978.2h2.8v2.8h-2.8zM311.9 953.3h2.8v2.8h-2.8zM318.7 948.9h2.8v2.8h-2.8z"/>
<g transform="translate(377,766)" clip-path="url(#bclip)"><path d="M135.7,78.3 C136.6,71.4 139.1,70.0 141.0,68.0 C142.9,66.0 147.2,63.7 149.7,63.0 C152.2,62.3 157.8,62.0 160.0,62.4 C162.2,62.8 164.0,64.2 166.0,66.0 C168.0,67.8 171.3,71.9 175.2,75.7 C179.1,79.5 190.5,89.4 195.6,94.8 C200.7,100.2 210.7,112.1 213.5,116.5 C216.3,120.9 216.7,124.6 216.5,128.0 C216.3,131.4 213.5,138.8 212.0,142.0 C210.5,145.2 206.2,147.5 205.0,152.0 C203.8,156.5 204.7,171.3 203.0,176.0 C201.3,180.7 196.4,185.1 192.0,187.0 C187.6,188.9 175.9,190.0 170.0,190.0 C164.1,190.0 152.3,188.9 148.0,187.0 C143.7,185.1 139.7,179.6 138.0,176.0 C136.3,172.4 136.0,167.5 135.5,160.0 C135.0,152.5 134.5,130.9 134.5,120.0 C134.5,109.1 134.8,85.2 135.7,78.3 Z" fill="#e0cd26" fill-opacity="0.42"/><path d="M105.5,196.0 C106.0,189.7 106.9,185.5 109.0,181.0 C111.1,176.5 114.2,171.9 118.0,169.0 C121.8,166.1 125.5,164.8 132.0,163.5 C138.5,162.2 147.0,161.8 157.0,161.5 C167.0,161.2 182.8,160.8 192.0,161.5 C201.2,162.2 207.3,163.6 212.0,166.0 C216.7,168.4 219.2,172.5 220.0,176.0 C220.8,179.5 219.7,183.7 217.0,187.0 C214.3,190.3 209.7,192.9 204.0,195.6 C198.3,198.3 190.1,200.1 182.8,203.3 C175.5,206.5 167.1,210.2 160.0,215.0 C152.9,219.8 146.0,227.5 140.0,232.0 C134.0,236.5 128.6,241.3 124.0,242.0 C119.5,242.7 115.7,240.3 112.7,236.4 C109.8,232.5 107.5,225.3 106.3,218.6 C105.1,211.9 105.0,202.3 105.5,196.0 Z" fill="#f82626" fill-opacity="0.42"/><path d="M201.0,174.0 C202.8,170.7 207.2,167.8 212.0,166.0 C216.8,164.2 223.7,163.6 230.0,163.0 C236.3,162.4 244.3,162.2 250.0,162.5 C255.7,162.8 260.3,162.9 264.0,164.5 C267.7,166.1 270.2,168.9 272.0,172.0 C273.8,175.1 275.2,178.7 275.0,183.0 C274.8,187.3 272.8,193.2 271.0,198.0 C269.2,202.8 267.2,207.9 264.0,211.6 C260.8,215.3 255.8,218.1 252.0,220.0 C248.2,221.9 244.7,224.0 241.0,223.0 C237.3,222.0 233.5,217.0 230.0,214.0 C226.5,211.0 223.8,207.8 220.0,205.0 C216.2,202.2 210.2,200.2 207.0,197.0 C203.8,193.8 202.0,189.8 201.0,186.0 C200.0,182.2 199.2,177.3 201.0,174.0 Z" fill="#e9db0e" fill-opacity="0.42"/><path d="M237.8,130.4 C240.8,128.9 243.0,128.8 246.0,128.9 C249.0,129.0 252.9,129.7 256.0,131.0 C259.1,132.3 263.0,133.7 264.3,136.5 C265.6,139.3 265.0,143.4 264.0,148.0 C263.0,152.6 260.4,158.3 258.2,164.1 C256.0,169.9 253.4,176.7 251.0,183.0 C248.6,189.3 246.4,197.3 243.9,201.8 C241.4,206.3 238.4,208.3 236.0,210.0 C233.6,211.7 232.1,211.8 229.5,212.0 C226.9,212.2 224.2,212.0 220.5,211.0 C216.8,210.0 210.2,207.5 207.0,206.0 C203.8,204.5 202.9,204.2 201.1,201.8 C199.3,199.4 196.5,195.8 196.0,191.6 C195.5,187.3 195.6,181.4 198.0,176.3 C200.4,171.2 206.7,165.2 210.3,161.0 C213.9,156.8 216.5,154.6 219.4,150.8 C222.3,147.0 224.9,141.4 228.0,138.0 C231.1,134.6 234.8,131.9 237.8,130.4 Z" fill="#009da2" fill-opacity="0.42"/><rect x="43.0" y="227.0" width="100" height="24" rx="12.0" transform="rotate(-74 93 239)" fill="#006e72" fill-opacity="0.42"/><ellipse cx="105" cy="273" rx="10" ry="13" transform="rotate(20 105 273)" fill="#ba2a2a" fill-opacity="0.45"/><path d="M103.1,228.9 C107.0,224.8 113.3,221.7 118.4,220.7 C123.5,219.7 130.8,221.6 133.7,222.8 C136.6,224.0 136.5,223.3 135.8,227.9 C135.1,232.5 131.7,243.2 129.6,250.3 C127.5,257.4 125.9,265.4 123.5,270.7 C121.1,276.0 118.8,279.3 115.4,282.0 C112.0,284.7 106.5,286.3 103.1,287.1 C99.7,287.9 97.4,288.1 95.0,286.6 C92.6,285.1 89.8,282.1 88.8,277.9 C87.8,273.7 88.3,267.1 89.3,261.6 C90.3,256.2 92.6,250.6 94.9,245.2 C97.2,239.8 99.2,233.0 103.1,228.9 Z" fill="#ba2a2a" fill-opacity="0.45"/><path d="M119.0,222.0 C120.5,217.6 124.5,218.7 127.0,218.5 C129.5,218.3 132.9,217.4 134.0,221.0 C135.1,224.6 134.0,234.2 133.5,240.0 C133.0,245.8 132.2,252.2 131.0,256.0 C129.8,259.8 127.8,262.3 126.0,263.0 C124.2,263.7 121.3,263.0 120.0,260.0 C118.7,257.0 118.2,251.3 118.0,245.0 C117.8,238.7 117.5,226.4 119.0,222.0 Z" fill="#a40000" fill-opacity="0.38"/><ellipse cx="141" cy="248" rx="15" ry="27" transform="rotate(10 141 248)" fill="#ad3d3d" fill-opacity="0.4"/><ellipse cx="131" cy="257" rx="16" ry="26" transform="rotate(10 131 257)" fill="#f5ba1f" fill-opacity="0.42"/><rect x="155.5" y="186.5" width="45" height="13" rx="6.5" transform="rotate(25 178 193)" fill="#64bedf" fill-opacity="0.3"/><ellipse cx="171" cy="218" rx="23" ry="17" transform="rotate(15 171 218)" fill="#d21fd2" fill-opacity="0.42"/><ellipse cx="154" cy="238" rx="42" ry="21" transform="rotate(-60 154 238)" fill="#2626ee" fill-opacity="0.42"/><ellipse cx="180" cy="236" rx="32" ry="20" transform="rotate(-65 180 236)" fill="#de674f" fill-opacity="0.42"/><ellipse cx="190.5" cy="244" rx="22.5" ry="18.5" transform="rotate(-30 190.5 244)" fill="#0e8513" fill-opacity="0.42"/><ellipse cx="209" cy="220" rx="25" ry="14" transform="rotate(33 209 220)" fill="#6b6b6b" fill-opacity="0.5"/></g>
<path fill="#1c1c1c" d="M567.5 1067.3h2.8v2.8h-2.8zM577.9 1059.6h2.8v2.8h-2.8zM588.8 1038.7h2.8v2.8h-2.8zM519.3 1062.6h2.8v2.8h-2.8zM558.9 1048.1h2.8v2.8h-2.8zM567.6 1058.8h2.8v2.8h-2.8zM528.5 1052.2h2.8v2.8h-2.8zM575.9 1070.1h2.8v2.8h-2.8zM534.7 1054.4h2.8v2.8h-2.8zM545.0 1058.0h2.8v2.8h-2.8zM509.3 1046.5h2.8v2.8h-2.8zM577.6 1067.0h2.8v2.8h-2.8zM523.7 1067.9h2.8v2.8h-2.8zM525.9 1071.1h2.8v2.8h-2.8zM540.2 1062.3h2.8v2.8h-2.8zM555.5 1069.1h2.8v2.8h-2.8zM568.6 1047.5h2.8v2.8h-2.8zM541.6 1062.4h2.8v2.8h-2.8zM573.0 1075.4h2.8v2.8h-2.8zM574.5 1064.4h2.8v2.8h-2.8zM547.5 1048.2h2.8v2.8h-2.8zM558.6 1036.2h2.8v2.8h-2.8zM554.3 1055.2h2.8v2.8h-2.8zM553.6 1033.8h2.8v2.8h-2.8zM570.8 1046.2h2.8v2.8h-2.8zM553.2 1064.6h2.8v2.8h-2.8zM545.4 1034.9h2.8v2.8h-2.8zM576.4 1061.8h2.8v2.8h-2.8zM549.0 1062.7h2.8v2.8h-2.8zM575.2 1045.1h2.8v2.8h-2.8zM525.6 1072.6h2.8v2.8h-2.8zM573.9 1037.4h2.8v2.8h-2.8zM563.0 1050.9h2.8v2.8h-2.8zM549.2 1045.6h2.8v2.8h-2.8zM545.9 1073.2h2.8v2.8h-2.8zM568.3 1051.3h2.8v2.8h-2.8zM559.8 1066.5h2.8v2.8h-2.8zM562.2 1054.0h2.8v2.8h-2.8zM548.6 1057.0h2.8v2.8h-2.8zM562.1 1056.9h2.8v2.8h-2.8zM575.7 1059.5h2.8v2.8h-2.8zM505.5 1057.7h2.8v2.8h-2.8zM534.8 1065.1h2.8v2.8h-2.8zM554.4 1060.0h2.8v2.8h-2.8zM544.7 1075.2h2.8v2.8h-2.8zM558.7 1053.1h2.8v2.8h-2.8zM579.8 1044.0h2.8v2.8h-2.8zM565.6 1071.7h2.8v2.8h-2.8zM550.2 1057.3h2.8v2.8h-2.8zM562.5 1045.9h2.8v2.8h-2.8zM578.3 1036.0h2.8v2.8h-2.8zM550.0 1058.1h2.8v2.8h-2.8zM556.2 1058.1h2.8v2.8h-2.8zM554.1 1050.4h2.8v2.8h-2.8zM559.2 1028.4h2.8v2.8h-2.8zM562.3 1052.4h2.8v2.8h-2.8zM559.7 1064.6h2.8v2.8h-2.8zM552.3 1054.4h2.8v2.8h-2.8zM573.0 1059.9h2.8v2.8h-2.8zM559.1 1040.0h2.8v2.8h-2.8zM571.1 1064.0h2.8v2.8h-2.8zM552.4 1056.4h2.8v2.8h-2.8zM545.8 1066.8h2.8v2.8h-2.8zM528.5 1045.4h2.8v2.8h-2.8zM568.7 1060.8h2.8v2.8h-2.8zM538.7 1038.0h2.8v2.8h-2.8zM539.4 1058.8h2.8v2.8h-2.8zM567.8 1056.2h2.8v2.8h-2.8zM553.5 1071.0h2.8v2.8h-2.8zM576.0 1056.6h2.8v2.8h-2.8zM551.3 1068.1h2.8v2.8h-2.8zM543.5 1034.3h2.8v2.8h-2.8zM526.6 1058.2h2.8v2.8h-2.8zM578.2 1053.8h2.8v2.8h-2.8zM555.1 1060.3h2.8v2.8h-2.8zM571.3 1046.5h2.8v2.8h-2.8zM550.9 1061.0h2.8v2.8h-2.8zM558.0 1067.0h2.8v2.8h-2.8zM540.0 1045.4h2.8v2.8h-2.8zM541.8 1053.8h2.8v2.8h-2.8zM569.9 1035.1h2.8v2.8h-2.8zM554.2 1062.7h2.8v2.8h-2.8zM552.1 1050.3h2.8v2.8h-2.8zM556.1 1049.8h2.8v2.8h-2.8zM533.5 1056.5h2.8v2.8h-2.8zM556.0 1055.3h2.8v2.8h-2.8zM546.5 1050.8h2.8v2.8h-2.8zM561.3 1065.9h2.8v2.8h-2.8zM545.8 1059.8h2.8v2.8h-2.8zM567.3 1045.4h2.8v2.8h-2.8zM562.3 1067.1h2.8v2.8h-2.8zM552.4 1053.5h2.8v2.8h-2.8zM553.6 1066.9h2.8v2.8h-2.8zM578.4 1047.9h2.8v2.8h-2.8zM514.9 1073.6h2.8v2.8h-2.8zM571.4 1061.3h2.8v2.8h-2.8zM555.2 1041.4h2.8v2.8h-2.8zM544.4 1027.2h2.8v2.8h-2.8zM580.4 1070.9h2.8v2.8h-2.8zM547.9 1041.6h2.8v2.8h-2.8zM589.1 1061.5h2.8v2.8h-2.8zM561.7 1045.3h2.8v2.8h-2.8zM555.2 1043.1h2.8v2.8h-2.8zM567.1 1040.7h2.8v2.8h-2.8zM592.8 1071.2h2.8v2.8h-2.8zM526.9 1070.1h2.8v2.8h-2.8zM526.1 1072.1h2.8v2.8h-2.8zM533.4 1051.8h2.8v2.8h-2.8zM538.4 1041.7h2.8v2.8h-2.8zM571.1 1050.6h2.8v2.8h-2.8zM565.4 1061.3h2.8v2.8h-2.8zM555.5 1052.9h2.8v2.8h-2.8zM513.5 1071.6h2.8v2.8h-2.8zM551.7 1066.8h2.8v2.8h-2.8zM604.6 1063.7h2.8v2.8h-2.8zM542.3 1070.7h2.8v2.8h-2.8zM570.8 1054.5h2.8v2.8h-2.8zM575.3 1060.9h2.8v2.8h-2.8zM545.8 1035.4h2.8v2.8h-2.8zM545.4 1069.4h2.8v2.8h-2.8zM556.6 1059.5h2.8v2.8h-2.8zM568.5 1039.8h2.8v2.8h-2.8zM548.7 1062.4h2.8v2.8h-2.8zM540.8 1062.6h2.8v2.8h-2.8zM569.6 1067.9h2.8v2.8h-2.8zM533.4 1057.5h2.8v2.8h-2.8zM556.0 1077.2h2.8v2.8h-2.8zM583.8 1044.8h2.8v2.8h-2.8zM530.1 1071.5h2.8v2.8h-2.8zM526.8 1043.8h2.8v2.8h-2.8zM540.1 1060.3h2.8v2.8h-2.8zM545.2 1074.9h2.8v2.8h-2.8zM571.4 1058.3h2.8v2.8h-2.8zM574.0 1046.5h2.8v2.8h-2.8zM538.0 1052.8h2.8v2.8h-2.8zM550.1 1043.0h2.8v2.8h-2.8zM566.4 1053.0h2.8v2.8h-2.8zM521.6 1067.8h2.8v2.8h-2.8zM547.4 1068.8h2.8v2.8h-2.8zM577.2 1047.1h2.8v2.8h-2.8zM553.5 1059.8h2.8v2.8h-2.8zM562.4 1069.8h2.8v2.8h-2.8zM567.4 1050.8h2.8v2.8h-2.8zM536.5 1050.3h2.8v2.8h-2.8zM569.0 1051.6h2.8v2.8h-2.8zM549.5 1054.6h2.8v2.8h-2.8zM527.6 1075.1h2.8v2.8h-2.8zM531.9 1030.8h2.8v2.8h-2.8zM558.0 1049.3h2.8v2.8h-2.8zM553.4 1066.9h2.8v2.8h-2.8zM545.5 1069.7h2.8v2.8h-2.8zM536.5 1064.2h2.8v2.8h-2.8zM559.5 1043.3h2.8v2.8h-2.8zM562.0 1062.2h2.8v2.8h-2.8zM562.4 1078.7h2.8v2.8h-2.8zM572.5 1056.1h2.8v2.8h-2.8zM543.6 1072.1h2.8v2.8h-2.8zM581.6 1047.3h2.8v2.8h-2.8zM570.4 1075.6h2.8v2.8h-2.8zM561.0 1034.2h2.8v2.8h-2.8zM556.3 1034.6h2.8v2.8h-2.8zM567.7 1048.3h2.8v2.8h-2.8zM528.8 1051.7h2.8v2.8h-2.8zM552.7 1058.4h2.8v2.8h-2.8zM586.3 1055.9h2.8v2.8h-2.8zM575.7 1040.5h2.8v2.8h-2.8zM546.1 1032.3h2.8v2.8h-2.8zM563.4 1046.6h2.8v2.8h-2.8zM601.3 1044.8h2.8v2.8h-2.8zM539.6 1052.2h2.8v2.8h-2.8zM544.2 1047.7h2.8v2.8h-2.8zM584.3 1060.6h2.8v2.8h-2.8zM559.0 1042.7h2.8v2.8h-2.8zM568.6 1052.6h2.8v2.8h-2.8zM543.6 1066.9h2.8v2.8h-2.8zM534.3 1058.6h2.8v2.8h-2.8zM581.8 1068.7h2.8v2.8h-2.8zM565.4 1070.2h2.8v2.8h-2.8zM539.1 1067.4h2.8v2.8h-2.8zM549.5 1036.6h2.8v2.8h-2.8zM550.8 1019.0h2.8v2.8h-2.8zM576.3 1069.5h2.8v2.8h-2.8zM552.2 1043.9h2.8v2.8h-2.8zM548.5 1053.9h2.8v2.8h-2.8zM561.6 1048.3h2.8v2.8h-2.8zM556.5 1059.7h2.8v2.8h-2.8zM541.9 1051.7h2.8v2.8h-2.8zM556.6 1060.5h2.8v2.8h-2.8zM556.5 1064.9h2.8v2.8h-2.8zM569.7 1067.0h2.8v2.8h-2.8zM547.7 1056.6h2.8v2.8h-2.8zM594.9 1051.0h2.8v2.8h-2.8zM565.8 1057.2h2.8v2.8h-2.8zM563.3 1044.9h2.8v2.8h-2.8zM588.0 1073.6h2.8v2.8h-2.8zM569.0 1052.9h2.8v2.8h-2.8zM546.1 1065.9h2.8v2.8h-2.8zM552.2 1055.8h2.8v2.8h-2.8zM561.0 1050.2h2.8v2.8h-2.8zM564.2 1047.4h2.8v2.8h-2.8zM540.8 1062.4h2.8v2.8h-2.8zM560.4 1036.8h2.8v2.8h-2.8zM546.7 1038.7h2.8v2.8h-2.8zM560.3 1071.8h2.8v2.8h-2.8zM522.7 1055.5h2.8v2.8h-2.8zM556.0 1038.8h2.8v2.8h-2.8zM560.6 1064.0h2.8v2.8h-2.8zM567.3 1056.6h2.8v2.8h-2.8zM575.8 1043.8h2.8v2.8h-2.8zM576.1 1078.0h2.8v2.8h-2.8zM548.7 1047.9h2.8v2.8h-2.8zM578.5 1054.9h2.8v2.8h-2.8zM582.1 1071.1h2.8v2.8h-2.8zM547.9 1093.4h2.8v2.8h-2.8zM542.2 1050.9h2.8v2.8h-2.8zM544.1 1077.8h2.8v2.8h-2.8zM499.5 1064.5h2.8v2.8h-2.8zM546.7 1065.0h2.8v2.8h-2.8zM573.8 1068.1h2.8v2.8h-2.8zM538.8 1065.1h2.8v2.8h-2.8zM552.8 1026.5h2.8v2.8h-2.8zM578.4 1052.7h2.8v2.8h-2.8zM586.5 1051.4h2.8v2.8h-2.8zM558.0 1076.7h2.8v2.8h-2.8zM548.5 1026.4h2.8v2.8h-2.8zM536.8 1049.6h2.8v2.8h-2.8zM543.7 1058.5h2.8v2.8h-2.8zM544.4 1077.2h2.8v2.8h-2.8zM572.8 1054.4h2.8v2.8h-2.8zM562.5 1066.0h2.8v2.8h-2.8zM561.1 1039.8h2.8v2.8h-2.8zM560.8 1055.7h2.8v2.8h-2.8zM526.7 1068.7h2.8v2.8h-2.8zM562.6 1056.2h2.8v2.8h-2.8zM587.4 1045.1h2.8v2.8h-2.8zM552.1 1045.2h2.8v2.8h-2.8zM558.4 1060.8h2.8v2.8h-2.8zM546.5 1062.7h2.8v2.8h-2.8zM541.6 1064.0h2.8v2.8h-2.8zM556.5 1055.9h2.8v2.8h-2.8zM577.4 1043.2h2.8v2.8h-2.8zM580.6 1075.2h2.8v2.8h-2.8zM597.3 1055.4h2.8v2.8h-2.8zM548.2 1038.7h2.8v2.8h-2.8zM536.1 1058.2h2.8v2.8h-2.8zM531.5 1065.3h2.8v2.8h-2.8zM554.7 1073.7h2.8v2.8h-2.8zM556.5 1040.2h2.8v2.8h-2.8zM528.1 1045.2h2.8v2.8h-2.8zM533.5 1065.9h2.8v2.8h-2.8zM564.6 1080.4h2.8v2.8h-2.8zM558.4 1061.8h2.8v2.8h-2.8zM573.7 1035.7h2.8v2.8h-2.8zM603.2 1043.6h2.8v2.8h-2.8zM595.8 1057.1h2.8v2.8h-2.8zM513.7 1070.3h2.8v2.8h-2.8zM581.2 1047.5h2.8v2.8h-2.8zM566.2 1043.0h2.8v2.8h-2.8zM532.4 1047.7h2.8v2.8h-2.8zM585.7 1073.4h2.8v2.8h-2.8zM550.0 1064.7h2.8v2.8h-2.8zM537.5 1045.7h2.8v2.8h-2.8zM566.9 1060.9h2.8v2.8h-2.8zM576.9 1054.3h2.8v2.8h-2.8zM547.0 1043.4h2.8v2.8h-2.8zM566.0 1064.5h2.8v2.8h-2.8zM567.3 1058.1h2.8v2.8h-2.8zM536.8 1058.3h2.8v2.8h-2.8zM551.9 1066.8h2.8v2.8h-2.8zM566.5 1049.0h2.8v2.8h-2.8zM582.4 1070.1h2.8v2.8h-2.8zM582.3 1056.1h2.8v2.8h-2.8zM570.5 1061.5h2.8v2.8h-2.8zM558.1 1041.8h2.8v2.8h-2.8zM541.5 1051.4h2.8v2.8h-2.8zM577.6 1065.9h2.8v2.8h-2.8zM554.4 1073.1h2.8v2.8h-2.8zM550.2 1053.3h2.8v2.8h-2.8zM545.8 1042.7h2.8v2.8h-2.8zM548.6 1045.6h2.8v2.8h-2.8zM596.0 1061.3h2.8v2.8h-2.8zM540.4 1046.2h2.8v2.8h-2.8zM577.6 1059.7h2.8v2.8h-2.8zM563.1 1056.8h2.8v2.8h-2.8zM590.7 1062.3h2.8v2.8h-2.8zM581.5 1027.4h2.8v2.8h-2.8zM537.1 1037.5h2.8v2.8h-2.8zM532.1 1049.5h2.8v2.8h-2.8zM552.0 1055.8h2.8v2.8h-2.8zM553.5 1044.9h2.8v2.8h-2.8zM574.9 1051.3h2.8v2.8h-2.8zM565.1 1040.6h2.8v2.8h-2.8zM560.4 1038.9h2.8v2.8h-2.8zM546.7 1068.2h2.8v2.8h-2.8zM584.9 1037.0h2.8v2.8h-2.8zM580.5 1037.2h2.8v2.8h-2.8zM542.8 1054.5h2.8v2.8h-2.8zM574.6 1038.5h2.8v2.8h-2.8zM535.8 1042.7h2.8v2.8h-2.8zM582.8 1056.3h2.8v2.8h-2.8zM533.0 1093.9h2.8v2.8h-2.8zM534.1 1065.1h2.8v2.8h-2.8zM572.3 1054.7h2.8v2.8h-2.8zM581.0 1047.1h2.8v2.8h-2.8zM543.7 1057.3h2.8v2.8h-2.8zM536.5 1039.9h2.8v2.8h-2.8zM557.0 1069.8h2.8v2.8h-2.8zM561.7 1054.4h2.8v2.8h-2.8zM520.8 1062.4h2.8v2.8h-2.8zM540.4 1067.4h2.8v2.8h-2.8zM568.8 1035.6h2.8v2.8h-2.8zM536.3 1059.1h2.8v2.8h-2.8zM559.8 1067.7h2.8v2.8h-2.8zM562.6 1043.5h2.8v2.8h-2.8zM545.1 1043.2h2.8v2.8h-2.8zM580.6 1074.1h2.8v2.8h-2.8zM555.0 1067.8h2.8v2.8h-2.8zM572.5 1057.4h2.8v2.8h-2.8zM562.5 1074.3h2.8v2.8h-2.8zM584.0 1071.4h2.8v2.8h-2.8zM568.5 1046.4h2.8v2.8h-2.8zM537.6 1051.2h2.8v2.8h-2.8zM544.9 1065.1h2.8v2.8h-2.8zM529.5 1057.7h2.8v2.8h-2.8zM562.2 1075.5h2.8v2.8h-2.8zM563.5 1070.2h2.8v2.8h-2.8zM543.9 1066.8h2.8v2.8h-2.8zM520.0 1050.8h2.8v2.8h-2.8zM563.0 1052.2h2.8v2.8h-2.8zM534.5 1053.5h2.8v2.8h-2.8zM540.3 1062.7h2.8v2.8h-2.8zM558.9 1061.5h2.8v2.8h-2.8zM577.6 1043.8h2.8v2.8h-2.8zM575.1 1045.0h2.8v2.8h-2.8zM560.3 1046.2h2.8v2.8h-2.8zM508.3 1075.7h2.8v2.8h-2.8zM574.9 1053.6h2.8v2.8h-2.8zM577.0 1065.2h2.8v2.8h-2.8zM557.4 1056.0h2.8v2.8h-2.8zM557.7 1036.0h2.8v2.8h-2.8zM575.6 1048.3h2.8v2.8h-2.8zM526.2 1050.9h2.8v2.8h-2.8zM590.1 1065.5h2.8v2.8h-2.8zM575.3 1044.8h2.8v2.8h-2.8zM561.0 1055.1h2.8v2.8h-2.8zM564.0 1064.8h2.8v2.8h-2.8zM546.7 1073.7h2.8v2.8h-2.8zM543.8 1060.0h2.8v2.8h-2.8zM547.2 1064.6h2.8v2.8h-2.8zM559.7 1058.1h2.8v2.8h-2.8zM550.2 1040.7h2.8v2.8h-2.8zM550.5 1054.1h2.8v2.8h-2.8zM523.9 1044.6h2.8v2.8h-2.8zM586.6 1044.3h2.8v2.8h-2.8zM572.7 1065.4h2.8v2.8h-2.8zM554.4 1038.8h2.8v2.8h-2.8zM577.6 1069.8h2.8v2.8h-2.8zM579.5 1046.8h2.8v2.8h-2.8zM528.7 1063.9h2.8v2.8h-2.8zM552.8 1063.2h2.8v2.8h-2.8zM569.5 1061.7h2.8v2.8h-2.8zM522.9 1062.7h2.8v2.8h-2.8zM499.6 1056.9h2.8v2.8h-2.8zM558.3 1023.9h2.8v2.8h-2.8zM530.8 1049.8h2.8v2.8h-2.8zM565.6 1043.9h2.8v2.8h-2.8zM570.6 1052.5h2.8v2.8h-2.8zM562.3 1053.8h2.8v2.8h-2.8zM538.4 1063.5h2.8v2.8h-2.8zM573.9 1041.6h2.8v2.8h-2.8zM574.8 1066.1h2.8v2.8h-2.8zM565.4 1069.3h2.8v2.8h-2.8zM575.3 1041.2h2.8v2.8h-2.8zM572.1 1040.5h2.8v2.8h-2.8zM543.1 1057.0h2.8v2.8h-2.8zM561.0 1051.7h2.8v2.8h-2.8zM527.9 1091.5h2.8v2.8h-2.8zM549.6 1057.7h2.8v2.8h-2.8zM547.4 1043.6h2.8v2.8h-2.8zM667.8 992.9h2.8v2.8h-2.8zM651.3 976.7h2.8v2.8h-2.8zM616.6 978.6h2.8v2.8h-2.8zM630.2 1014.9h2.8v2.8h-2.8zM636.0 964.3h2.8v2.8h-2.8zM665.6 1010.8h2.8v2.8h-2.8zM662.6 984.7h2.8v2.8h-2.8zM650.5 960.7h2.8v2.8h-2.8zM657.9 965.9h2.8v2.8h-2.8zM650.4 977.1h2.8v2.8h-2.8zM656.6 962.6h2.8v2.8h-2.8zM620.1 1007.8h2.8v2.8h-2.8zM611.9 976.2h2.8v2.8h-2.8zM645.0 999.9h2.8v2.8h-2.8zM674.1 980.3h2.8v2.8h-2.8zM631.3 991.8h2.8v2.8h-2.8zM671.2 1010.2h2.8v2.8h-2.8zM660.2 953.5h2.8v2.8h-2.8zM606.7 986.3h2.8v2.8h-2.8zM614.5 1001.4h2.8v2.8h-2.8zM616.7 964.3h2.8v2.8h-2.8zM639.9 998.1h2.8v2.8h-2.8zM672.0 978.2h2.8v2.8h-2.8zM637.0 1001.6h2.8v2.8h-2.8zM666.4 971.0h2.8v2.8h-2.8zM669.9 986.9h2.8v2.8h-2.8zM649.5 969.8h2.8v2.8h-2.8zM626.0 977.1h2.8v2.8h-2.8zM691.4 974.2h2.8v2.8h-2.8zM628.9 1003.3h2.8v2.8h-2.8zM647.7 979.6h2.8v2.8h-2.8zM608.7 968.2h2.8v2.8h-2.8zM657.7 995.7h2.8v2.8h-2.8zM660.0 992.0h2.8v2.8h-2.8zM660.9 953.6h2.8v2.8h-2.8zM677.6 976.4h2.8v2.8h-2.8zM664.3 1002.0h2.8v2.8h-2.8zM622.6 970.1h2.8v2.8h-2.8zM652.2 992.3h2.8v2.8h-2.8zM635.4 994.4h2.8v2.8h-2.8zM625.9 986.1h2.8v2.8h-2.8zM618.5 1012.0h2.8v2.8h-2.8zM611.2 968.6h2.8v2.8h-2.8zM664.4 991.8h2.8v2.8h-2.8zM626.5 997.3h2.8v2.8h-2.8zM578.6 986.5h2.8v2.8h-2.8zM685.2 979.1h2.8v2.8h-2.8zM644.2 978.5h2.8v2.8h-2.8zM665.1 996.3h2.8v2.8h-2.8zM665.6 954.3h2.8v2.8h-2.8zM630.9 975.9h2.8v2.8h-2.8zM647.3 952.0h2.8v2.8h-2.8zM637.5 969.6h2.8v2.8h-2.8zM651.2 964.5h2.8v2.8h-2.8zM658.1 1004.0h2.8v2.8h-2.8zM652.9 1003.5h2.8v2.8h-2.8zM630.2 1004.7h2.8v2.8h-2.8zM666.5 1001.0h2.8v2.8h-2.8zM658.6 986.8h2.8v2.8h-2.8zM650.7 995.1h2.8v2.8h-2.8zM603.7 994.0h2.8v2.8h-2.8zM657.1 1018.1h2.8v2.8h-2.8zM643.2 941.2h2.8v2.8h-2.8zM664.4 991.0h2.8v2.8h-2.8zM680.8 956.1h2.8v2.8h-2.8zM653.7 937.8h2.8v2.8h-2.8zM674.6 989.0h2.8v2.8h-2.8zM626.9 979.9h2.8v2.8h-2.8zM637.5 996.9h2.8v2.8h-2.8zM668.4 1000.5h2.8v2.8h-2.8zM658.1 994.3h2.8v2.8h-2.8zM637.8 976.3h2.8v2.8h-2.8zM655.9 986.2h2.8v2.8h-2.8zM658.4 996.0h2.8v2.8h-2.8zM666.0 990.4h2.8v2.8h-2.8zM680.9 978.3h2.8v2.8h-2.8zM651.3 967.2h2.8v2.8h-2.8zM653.6 993.4h2.8v2.8h-2.8zM633.6 984.9h2.8v2.8h-2.8zM650.6 978.4h2.8v2.8h-2.8zM675.9 994.7h2.8v2.8h-2.8zM663.1 969.8h2.8v2.8h-2.8zM668.5 952.7h2.8v2.8h-2.8zM663.0 983.3h2.8v2.8h-2.8zM664.3 981.2h2.8v2.8h-2.8zM627.3 1006.9h2.8v2.8h-2.8zM680.8 969.6h2.8v2.8h-2.8zM635.3 1010.4h2.8v2.8h-2.8zM612.7 984.5h2.8v2.8h-2.8zM628.4 1003.5h2.8v2.8h-2.8zM638.4 998.3h2.8v2.8h-2.8zM641.8 1022.0h2.8v2.8h-2.8zM655.0 967.6h2.8v2.8h-2.8zM683.9 993.1h2.8v2.8h-2.8zM645.3 1012.5h2.8v2.8h-2.8zM653.2 995.7h2.8v2.8h-2.8zM633.6 985.0h2.8v2.8h-2.8zM640.8 972.0h2.8v2.8h-2.8zM662.2 966.3h2.8v2.8h-2.8zM658.3 984.1h2.8v2.8h-2.8zM657.0 981.5h2.8v2.8h-2.8zM627.2 1001.7h2.8v2.8h-2.8zM653.6 977.9h2.8v2.8h-2.8zM664.4 980.4h2.8v2.8h-2.8zM601.0 982.3h2.8v2.8h-2.8zM652.8 1000.8h2.8v2.8h-2.8zM653.7 1018.7h2.8v2.8h-2.8zM635.9 984.7h2.8v2.8h-2.8zM659.9 1004.2h2.8v2.8h-2.8zM625.1 963.1h2.8v2.8h-2.8zM631.7 992.9h2.8v2.8h-2.8zM646.9 975.5h2.8v2.8h-2.8zM664.6 966.1h2.8v2.8h-2.8zM673.9 984.4h2.8v2.8h-2.8zM643.8 1016.4h2.8v2.8h-2.8zM644.7 988.0h2.8v2.8h-2.8zM668.3 983.8h2.8v2.8h-2.8zM664.9 1002.5h2.8v2.8h-2.8zM636.7 994.5h2.8v2.8h-2.8zM619.2 992.3h2.8v2.8h-2.8zM669.8 985.4h2.8v2.8h-2.8zM656.2 962.8h2.8v2.8h-2.8zM634.0 984.5h2.8v2.8h-2.8zM676.9 987.1h2.8v2.8h-2.8zM644.0 976.0h2.8v2.8h-2.8zM657.2 1031.5h2.8v2.8h-2.8zM643.0 956.8h2.8v2.8h-2.8zM635.6 1001.2h2.8v2.8h-2.8zM643.4 973.8h2.8v2.8h-2.8zM627.6 964.9h2.8v2.8h-2.8zM657.9 977.2h2.8v2.8h-2.8zM663.8 990.6h2.8v2.8h-2.8zM683.3 983.3h2.8v2.8h-2.8zM637.5 990.6h2.8v2.8h-2.8zM654.6 990.6h2.8v2.8h-2.8zM655.3 977.0h2.8v2.8h-2.8zM638.9 991.6h2.8v2.8h-2.8zM691.8 974.8h2.8v2.8h-2.8zM647.8 974.6h2.8v2.8h-2.8zM595.8 993.2h2.8v2.8h-2.8zM676.1 1026.9h2.8v2.8h-2.8zM652.2 979.8h2.8v2.8h-2.8zM619.8 993.5h2.8v2.8h-2.8zM657.2 997.5h2.8v2.8h-2.8zM636.1 1004.2h2.8v2.8h-2.8zM616.5 973.3h2.8v2.8h-2.8zM650.1 990.5h2.8v2.8h-2.8zM668.2 969.1h2.8v2.8h-2.8zM674.1 958.6h2.8v2.8h-2.8zM636.8 972.6h2.8v2.8h-2.8zM668.4 996.7h2.8v2.8h-2.8zM666.7 966.6h2.8v2.8h-2.8zM652.2 993.0h2.8v2.8h-2.8zM643.5 984.0h2.8v2.8h-2.8zM648.9 983.6h2.8v2.8h-2.8zM626.0 988.5h2.8v2.8h-2.8zM663.3 964.4h2.8v2.8h-2.8zM644.5 973.8h2.8v2.8h-2.8zM640.8 1009.1h2.8v2.8h-2.8zM647.9 968.9h2.8v2.8h-2.8zM649.5 980.4h2.8v2.8h-2.8zM627.3 950.4h2.8v2.8h-2.8zM673.4 977.8h2.8v2.8h-2.8zM667.2 998.1h2.8v2.8h-2.8zM647.1 996.6h2.8v2.8h-2.8zM633.7 951.5h2.8v2.8h-2.8zM656.2 998.3h2.8v2.8h-2.8zM610.3 964.5h2.8v2.8h-2.8zM656.7 977.2h2.8v2.8h-2.8zM664.4 982.3h2.8v2.8h-2.8zM666.2 967.4h2.8v2.8h-2.8zM616.2 996.7h2.8v2.8h-2.8zM652.7 994.2h2.8v2.8h-2.8zM612.1 977.5h2.8v2.8h-2.8zM642.8 971.0h2.8v2.8h-2.8zM649.3 983.1h2.8v2.8h-2.8zM642.6 979.6h2.8v2.8h-2.8zM638.7 1010.7h2.8v2.8h-2.8zM627.0 978.6h2.8v2.8h-2.8zM638.9 1008.6h2.8v2.8h-2.8zM648.8 970.0h2.8v2.8h-2.8zM621.3 975.3h2.8v2.8h-2.8zM686.3 995.7h2.8v2.8h-2.8zM661.0 985.8h2.8v2.8h-2.8zM648.4 966.1h2.8v2.8h-2.8zM616.0 961.0h2.8v2.8h-2.8zM631.4 961.5h2.8v2.8h-2.8zM665.7 981.7h2.8v2.8h-2.8zM633.7 983.7h2.8v2.8h-2.8zM667.8 1007.6h2.8v2.8h-2.8zM635.0 983.4h2.8v2.8h-2.8zM637.0 989.0h2.8v2.8h-2.8zM642.4 1029.6h2.8v2.8h-2.8zM643.6 981.6h2.8v2.8h-2.8zM682.2 953.2h2.8v2.8h-2.8zM613.1 1012.8h2.8v2.8h-2.8zM634.6 960.5h2.8v2.8h-2.8zM633.7 986.6h2.8v2.8h-2.8zM652.0 970.7h2.8v2.8h-2.8zM676.5 954.1h2.8v2.8h-2.8zM648.3 1015.1h2.8v2.8h-2.8zM585.0 987.4h2.8v2.8h-2.8zM612.7 948.1h2.8v2.8h-2.8zM637.3 1005.1h2.8v2.8h-2.8zM637.0 989.4h2.8v2.8h-2.8zM591.7 1002.1h2.8v2.8h-2.8zM615.9 978.4h2.8v2.8h-2.8zM639.5 973.7h2.8v2.8h-2.8zM668.1 978.0h2.8v2.8h-2.8zM639.9 998.9h2.8v2.8h-2.8zM615.1 996.2h2.8v2.8h-2.8zM669.5 1006.4h2.8v2.8h-2.8zM661.6 945.8h2.8v2.8h-2.8zM661.1 1000.9h2.8v2.8h-2.8zM650.2 1002.3h2.8v2.8h-2.8zM603.1 1004.4h2.8v2.8h-2.8zM666.8 974.1h2.8v2.8h-2.8zM611.7 1013.9h2.8v2.8h-2.8zM642.2 961.3h2.8v2.8h-2.8zM637.2 966.8h2.8v2.8h-2.8zM636.6 988.8h2.8v2.8h-2.8zM683.2 993.3h2.8v2.8h-2.8zM640.5 993.0h2.8v2.8h-2.8zM646.0 1002.8h2.8v2.8h-2.8zM657.7 992.4h2.8v2.8h-2.8zM678.8 984.5h2.8v2.8h-2.8zM637.0 970.7h2.8v2.8h-2.8zM623.5 965.5h2.8v2.8h-2.8zM633.7 1013.0h2.8v2.8h-2.8zM626.8 966.6h2.8v2.8h-2.8zM651.9 981.1h2.8v2.8h-2.8zM661.4 953.3h2.8v2.8h-2.8zM653.6 1009.3h2.8v2.8h-2.8zM673.5 1003.9h2.8v2.8h-2.8zM649.2 986.2h2.8v2.8h-2.8zM636.9 982.3h2.8v2.8h-2.8zM607.8 1006.9h2.8v2.8h-2.8zM656.8 975.4h2.8v2.8h-2.8zM614.5 1007.9h2.8v2.8h-2.8zM657.9 955.6h2.8v2.8h-2.8zM651.0 955.7h2.8v2.8h-2.8zM652.8 999.0h2.8v2.8h-2.8zM665.3 991.5h2.8v2.8h-2.8zM675.4 992.5h2.8v2.8h-2.8zM644.4 988.9h2.8v2.8h-2.8zM641.3 1035.3h2.8v2.8h-2.8zM693.9 985.3h2.8v2.8h-2.8zM656.6 977.6h2.8v2.8h-2.8zM599.8 970.7h2.8v2.8h-2.8zM642.2 1011.1h2.8v2.8h-2.8zM659.6 984.8h2.8v2.8h-2.8zM654.3 996.5h2.8v2.8h-2.8zM668.9 1001.5h2.8v2.8h-2.8zM656.6 985.2h2.8v2.8h-2.8zM651.6 940.0h2.8v2.8h-2.8zM626.5 984.0h2.8v2.8h-2.8zM633.4 1016.1h2.8v2.8h-2.8zM668.9 1001.4h2.8v2.8h-2.8zM646.0 950.7h2.8v2.8h-2.8zM632.4 984.8h2.8v2.8h-2.8zM649.9 980.5h2.8v2.8h-2.8zM661.6 1002.1h2.8v2.8h-2.8zM600.6 1001.0h2.8v2.8h-2.8zM643.5 969.6h2.8v2.8h-2.8zM628.5 1020.5h2.8v2.8h-2.8zM626.1 949.8h2.8v2.8h-2.8zM658.7 993.2h2.8v2.8h-2.8zM604.7 986.2h2.8v2.8h-2.8zM618.3 1010.8h2.8v2.8h-2.8zM653.1 982.6h2.8v2.8h-2.8zM632.0 974.3h2.8v2.8h-2.8zM636.9 1012.3h2.8v2.8h-2.8zM649.2 998.8h2.8v2.8h-2.8zM632.4 977.6h2.8v2.8h-2.8zM636.9 1007.1h2.8v2.8h-2.8zM678.7 982.1h2.8v2.8h-2.8zM672.6 1009.1h2.8v2.8h-2.8zM679.5 985.4h2.8v2.8h-2.8zM627.6 979.2h2.8v2.8h-2.8zM652.6 997.0h2.8v2.8h-2.8zM661.5 1003.6h2.8v2.8h-2.8zM650.3 991.5h2.8v2.8h-2.8zM635.0 958.2h2.8v2.8h-2.8zM662.3 983.1h2.8v2.8h-2.8zM649.0 989.2h2.8v2.8h-2.8zM673.9 970.7h2.8v2.8h-2.8zM612.9 985.5h2.8v2.8h-2.8zM650.2 991.1h2.8v2.8h-2.8zM623.0 1006.5h2.8v2.8h-2.8zM618.1 987.4h2.8v2.8h-2.8zM633.0 980.3h2.8v2.8h-2.8zM669.1 1005.5h2.8v2.8h-2.8zM658.3 1026.9h2.8v2.8h-2.8zM621.3 970.5h2.8v2.8h-2.8zM644.0 1014.5h2.8v2.8h-2.8zM657.0 996.8h2.8v2.8h-2.8zM625.3 983.3h2.8v2.8h-2.8zM600.5 996.9h2.8v2.8h-2.8zM670.0 974.4h2.8v2.8h-2.8zM643.4 1002.4h2.8v2.8h-2.8zM671.6 996.6h2.8v2.8h-2.8zM659.0 1001.6h2.8v2.8h-2.8zM665.0 957.7h2.8v2.8h-2.8zM610.2 1001.6h2.8v2.8h-2.8zM585.4 974.5h2.8v2.8h-2.8zM673.2 986.9h2.8v2.8h-2.8zM662.1 958.3h2.8v2.8h-2.8zM642.5 1003.2h2.8v2.8h-2.8zM646.6 974.8h2.8v2.8h-2.8zM662.8 1007.7h2.8v2.8h-2.8zM649.0 983.0h2.8v2.8h-2.8zM622.8 984.3h2.8v2.8h-2.8zM669.1 989.5h2.8v2.8h-2.8zM618.8 986.1h2.8v2.8h-2.8zM665.7 970.1h2.8v2.8h-2.8zM651.2 1009.3h2.8v2.8h-2.8zM656.7 1002.7h2.8v2.8h-2.8zM671.3 1024.1h2.8v2.8h-2.8zM662.6 962.6h2.8v2.8h-2.8zM686.2 980.9h2.8v2.8h-2.8zM669.6 997.7h2.8v2.8h-2.8zM662.1 943.1h2.8v2.8h-2.8zM662.5 963.2h2.8v2.8h-2.8zM607.6 987.3h2.8v2.8h-2.8zM636.9 994.1h2.8v2.8h-2.8zM685.7 973.3h2.8v2.8h-2.8zM633.6 973.5h2.8v2.8h-2.8zM656.2 991.2h2.8v2.8h-2.8zM633.2 1011.1h2.8v2.8h-2.8zM652.9 968.7h2.8v2.8h-2.8zM633.1 978.7h2.8v2.8h-2.8zM644.0 1012.1h2.8v2.8h-2.8zM622.0 987.3h2.8v2.8h-2.8zM633.7 993.0h2.8v2.8h-2.8zM677.3 1005.4h2.8v2.8h-2.8zM629.6 1015.0h2.8v2.8h-2.8zM652.4 986.5h2.8v2.8h-2.8zM617.6 982.8h2.8v2.8h-2.8zM594.7 988.2h2.8v2.8h-2.8zM608.5 974.7h2.8v2.8h-2.8zM626.9 1003.7h2.8v2.8h-2.8zM634.9 997.8h2.8v2.8h-2.8zM634.9 1002.8h2.8v2.8h-2.8zM659.2 1003.1h2.8v2.8h-2.8zM665.9 993.7h2.8v2.8h-2.8zM645.4 957.5h2.8v2.8h-2.8zM647.8 997.9h2.8v2.8h-2.8zM651.6 973.5h2.8v2.8h-2.8zM685.3 984.5h2.8v2.8h-2.8zM623.9 982.6h2.8v2.8h-2.8zM683.4 976.6h2.8v2.8h-2.8zM634.8 971.9h2.8v2.8h-2.8zM622.8 999.5h2.8v2.8h-2.8zM620.8 948.0h2.8v2.8h-2.8zM662.7 960.1h2.8v2.8h-2.8zM643.5 1005.0h2.8v2.8h-2.8zM647.4 996.1h2.8v2.8h-2.8zM649.0 959.8h2.8v2.8h-2.8zM642.1 1013.0h2.8v2.8h-2.8zM670.5 951.9h2.8v2.8h-2.8zM641.2 957.2h2.8v2.8h-2.8zM634.5 984.5h2.8v2.8h-2.8zM636.1 965.1h2.8v2.8h-2.8zM641.6 967.5h2.8v2.8h-2.8zM656.1 998.2h2.8v2.8h-2.8zM651.2 982.8h2.8v2.8h-2.8zM626.7 971.8h2.8v2.8h-2.8zM671.1 969.2h2.8v2.8h-2.8zM645.2 968.1h2.8v2.8h-2.8zM631.8 979.1h2.8v2.8h-2.8zM602.1 982.0h2.8v2.8h-2.8zM632.3 959.7h2.8v2.8h-2.8zM639.0 1000.3h2.8v2.8h-2.8zM630.3 1003.6h2.8v2.8h-2.8zM689.0 983.3h2.8v2.8h-2.8zM577.6 1048.5h2.8v2.8h-2.8zM598.6 1032.8h2.8v2.8h-2.8zM583.8 1017.5h2.8v2.8h-2.8zM583.3 1055.5h2.8v2.8h-2.8zM582.4 1007.8h2.8v2.8h-2.8zM614.9 1049.0h2.8v2.8h-2.8zM625.0 1007.5h2.8v2.8h-2.8zM588.9 1028.5h2.8v2.8h-2.8zM628.8 1053.5h2.8v2.8h-2.8zM588.4 1011.8h2.8v2.8h-2.8zM600.4 1015.6h2.8v2.8h-2.8zM599.6 1053.3h2.8v2.8h-2.8zM632.0 1013.3h2.8v2.8h-2.8zM606.6 1027.4h2.8v2.8h-2.8zM593.4 1008.1h2.8v2.8h-2.8zM618.6 1010.3h2.8v2.8h-2.8zM582.0 1023.9h2.8v2.8h-2.8zM626.8 1041.6h2.8v2.8h-2.8zM617.1 1025.5h2.8v2.8h-2.8zM605.3 1058.6h2.8v2.8h-2.8zM633.7 1048.7h2.8v2.8h-2.8zM600.8 1042.1h2.8v2.8h-2.8zM587.0 1021.1h2.8v2.8h-2.8zM595.3 1044.9h2.8v2.8h-2.8zM614.0 1054.8h2.8v2.8h-2.8zM615.5 1029.0h2.8v2.8h-2.8zM572.9 1052.1h2.8v2.8h-2.8zM585.5 1008.7h2.8v2.8h-2.8zM586.6 1025.4h2.8v2.8h-2.8zM595.6 1046.8h2.8v2.8h-2.8zM573.7 1027.1h2.8v2.8h-2.8zM617.9 1031.7h2.8v2.8h-2.8zM576.3 1054.6h2.8v2.8h-2.8zM574.9 1038.3h2.8v2.8h-2.8zM611.4 1007.8h2.8v2.8h-2.8zM601.5 1050.0h2.8v2.8h-2.8zM621.0 1040.4h2.8v2.8h-2.8zM597.0 1033.7h2.8v2.8h-2.8zM626.5 1034.6h2.8v2.8h-2.8zM627.6 1032.3h2.8v2.8h-2.8zM618.5 1054.1h2.8v2.8h-2.8zM610.2 1055.9h2.8v2.8h-2.8zM635.9 1048.6h2.8v2.8h-2.8zM585.3 1037.2h2.8v2.8h-2.8zM574.5 1042.6h2.8v2.8h-2.8zM606.1 1032.4h2.8v2.8h-2.8zM625.6 1006.4h2.8v2.8h-2.8zM623.7 1053.6h2.8v2.8h-2.8zM608.7 1009.6h2.8v2.8h-2.8zM579.1 1035.1h2.8v2.8h-2.8zM593.7 1011.1h2.8v2.8h-2.8zM605.7 1026.9h2.8v2.8h-2.8zM589.5 1038.0h2.8v2.8h-2.8zM601.7 1058.9h2.8v2.8h-2.8zM598.6 1046.3h2.8v2.8h-2.8zM624.2 1019.3h2.8v2.8h-2.8zM598.2 1051.7h2.8v2.8h-2.8zM631.1 1007.1h2.8v2.8h-2.8zM581.0 1037.2h2.8v2.8h-2.8zM640.0 1013.5h2.8v2.8h-2.8zM613.0 1034.1h2.8v2.8h-2.8zM606.1 1009.1h2.8v2.8h-2.8zM595.8 1016.3h2.8v2.8h-2.8zM617.4 1040.2h2.8v2.8h-2.8zM613.8 1043.0h2.8v2.8h-2.8zM616.6 1053.7h2.8v2.8h-2.8zM639.4 1020.8h2.8v2.8h-2.8zM609.0 1034.1h2.8v2.8h-2.8zM589.7 1032.0h2.8v2.8h-2.8zM594.2 1025.9h2.8v2.8h-2.8zM589.9 1021.1h2.8v2.8h-2.8zM587.7 1010.4h2.8v2.8h-2.8zM592.2 1045.6h2.8v2.8h-2.8zM634.0 1019.2h2.8v2.8h-2.8zM571.8 1046.8h2.8v2.8h-2.8zM632.5 1019.6h2.8v2.8h-2.8zM584.7 1058.8h2.8v2.8h-2.8zM606.2 1039.7h2.8v2.8h-2.8zM584.3 1015.0h2.8v2.8h-2.8zM636.8 1005.2h2.8v2.8h-2.8zM638.5 1010.1h2.8v2.8h-2.8zM639.8 1004.6h2.8v2.8h-2.8zM636.9 1058.2h2.8v2.8h-2.8zM598.1 1052.8h2.8v2.8h-2.8zM571.8 1016.4h2.8v2.8h-2.8zM576.3 1045.9h2.8v2.8h-2.8zM604.7 1020.2h2.8v2.8h-2.8zM579.1 1038.5h2.8v2.8h-2.8zM589.5 1053.5h2.8v2.8h-2.8zM578.9 1020.6h2.8v2.8h-2.8zM610.5 1022.0h2.8v2.8h-2.8zM602.9 1050.0h2.8v2.8h-2.8zM600.0 1036.2h2.8v2.8h-2.8zM581.6 1024.2h2.8v2.8h-2.8zM612.2 1018.8h2.8v2.8h-2.8zM591.6 1029.9h2.8v2.8h-2.8zM575.7 1036.4h2.8v2.8h-2.8zM632.3 1027.5h2.8v2.8h-2.8zM589.3 1009.8h2.8v2.8h-2.8zM635.4 1041.1h2.8v2.8h-2.8zM631.6 1005.2h2.8v2.8h-2.8zM630.8 1057.9h2.8v2.8h-2.8zM625.6 1030.5h2.8v2.8h-2.8zM574.7 1007.9h2.8v2.8h-2.8zM602.0 1013.5h2.8v2.8h-2.8zM626.9 1010.8h2.8v2.8h-2.8zM612.7 1005.4h2.8v2.8h-2.8zM599.3 1015.1h2.8v2.8h-2.8zM578.7 1055.6h2.8v2.8h-2.8zM596.9 1049.9h2.8v2.8h-2.8zM589.8 1057.8h2.8v2.8h-2.8zM589.9 1056.1h2.8v2.8h-2.8zM579.9 1025.6h2.8v2.8h-2.8zM586.2 1038.5h2.8v2.8h-2.8zM608.4 1008.4h2.8v2.8h-2.8zM634.4 1020.4h2.8v2.8h-2.8zM639.2 1053.2h2.8v2.8h-2.8zM588.4 1005.1h2.8v2.8h-2.8zM578.6 1040.1h2.8v2.8h-2.8zM622.0 1045.9h2.8v2.8h-2.8zM621.5 1044.6h2.8v2.8h-2.8zM583.2 1057.2h2.8v2.8h-2.8zM633.1 1043.1h2.8v2.8h-2.8zM630.9 1028.5h2.8v2.8h-2.8zM615.4 1043.7h2.8v2.8h-2.8zM632.1 1020.5h2.8v2.8h-2.8zM579.1 1058.9h2.8v2.8h-2.8zM585.9 1041.0h2.8v2.8h-2.8zM584.3 1056.1h2.8v2.8h-2.8zM614.3 1029.9h2.8v2.8h-2.8zM640.1 1050.4h2.8v2.8h-2.8zM619.5 1038.3h2.8v2.8h-2.8zM631.4 1057.2h2.8v2.8h-2.8zM638.4 1010.6h2.8v2.8h-2.8zM640.1 1025.2h2.8v2.8h-2.8zM623.4 1007.2h2.8v2.8h-2.8zM594.8 1009.7h2.8v2.8h-2.8zM571.5 1016.5h2.8v2.8h-2.8zM624.8 1033.2h2.8v2.8h-2.8zM628.8 1017.9h2.8v2.8h-2.8zM587.6 1048.9h2.8v2.8h-2.8zM638.7 1056.8h2.8v2.8h-2.8zM573.2 1017.9h2.8v2.8h-2.8zM598.2 1017.6h2.8v2.8h-2.8zM585.0 1014.9h2.8v2.8h-2.8zM629.2 1021.0h2.8v2.8h-2.8zM577.2 1052.3h2.8v2.8h-2.8zM629.7 1030.4h2.8v2.8h-2.8zM640.4 1046.9h2.8v2.8h-2.8zM623.1 1047.2h2.8v2.8h-2.8zM586.7 1039.4h2.8v2.8h-2.8zM605.1 1008.3h2.8v2.8h-2.8zM602.4 1026.6h2.8v2.8h-2.8zM629.9 1027.2h2.8v2.8h-2.8zM592.8 1009.1h2.8v2.8h-2.8zM586.4 1013.3h2.8v2.8h-2.8zM585.6 1044.9h2.8v2.8h-2.8zM598.4 1036.6h2.8v2.8h-2.8zM638.1 1025.9h2.8v2.8h-2.8zM575.6 1024.3h2.8v2.8h-2.8zM617.1 1046.9h2.8v2.8h-2.8zM609.7 1032.6h2.8v2.8h-2.8zM593.1 1058.8h2.8v2.8h-2.8zM610.9 1022.5h2.8v2.8h-2.8zM609.4 1025.1h2.8v2.8h-2.8zM571.1 1042.0h2.8v2.8h-2.8zM590.9 1005.7h2.8v2.8h-2.8zM618.3 1038.4h2.8v2.8h-2.8zM587.4 1052.2h2.8v2.8h-2.8zM629.9 1053.5h2.8v2.8h-2.8zM575.4 973.4h2.8v2.8h-2.8zM533.4 1005.1h2.8v2.8h-2.8zM573.7 995.6h2.8v2.8h-2.8zM536.3 1023.3h2.8v2.8h-2.8zM535.0 993.4h2.8v2.8h-2.8zM546.4 1013.4h2.8v2.8h-2.8zM551.9 1018.4h2.8v2.8h-2.8zM538.0 1014.4h2.8v2.8h-2.8zM528.6 985.9h2.8v2.8h-2.8zM550.5 1017.5h2.8v2.8h-2.8zM535.0 990.7h2.8v2.8h-2.8zM579.1 1000.6h2.8v2.8h-2.8zM558.8 1022.4h2.8v2.8h-2.8zM547.7 1001.1h2.8v2.8h-2.8zM541.6 1013.5h2.8v2.8h-2.8zM589.0 1014.4h2.8v2.8h-2.8zM565.1 976.8h2.8v2.8h-2.8zM566.6 1010.6h2.8v2.8h-2.8zM572.1 1024.2h2.8v2.8h-2.8zM587.5 993.1h2.8v2.8h-2.8zM566.8 1016.5h2.8v2.8h-2.8zM585.9 1002.5h2.8v2.8h-2.8zM578.7 1018.1h2.8v2.8h-2.8zM571.3 1000.8h2.8v2.8h-2.8zM535.8 973.4h2.8v2.8h-2.8zM550.8 981.9h2.8v2.8h-2.8zM529.2 1002.1h2.8v2.8h-2.8zM548.7 1002.2h2.8v2.8h-2.8zM529.5 995.9h2.8v2.8h-2.8zM545.8 1000.6h2.8v2.8h-2.8zM559.0 1011.5h2.8v2.8h-2.8zM558.8 1005.0h2.8v2.8h-2.8zM530.7 982.6h2.8v2.8h-2.8zM551.4 990.0h2.8v2.8h-2.8zM569.3 1022.1h2.8v2.8h-2.8zM529.1 1000.5h2.8v2.8h-2.8zM533.3 988.4h2.8v2.8h-2.8zM531.1 969.8h2.8v2.8h-2.8zM540.5 1008.3h2.8v2.8h-2.8zM530.5 986.6h2.8v2.8h-2.8zM546.3 1007.7h2.8v2.8h-2.8zM536.5 990.6h2.8v2.8h-2.8zM577.3 989.0h2.8v2.8h-2.8zM558.6 998.3h2.8v2.8h-2.8zM576.9 986.0h2.8v2.8h-2.8zM532.8 991.2h2.8v2.8h-2.8zM576.5 994.8h2.8v2.8h-2.8zM533.6 1004.5h2.8v2.8h-2.8zM587.3 1004.8h2.8v2.8h-2.8zM582.9 975.0h2.8v2.8h-2.8zM532.5 1009.9h2.8v2.8h-2.8zM564.6 980.9h2.8v2.8h-2.8zM535.8 978.6h2.8v2.8h-2.8zM530.6 1019.6h2.8v2.8h-2.8zM566.6 994.1h2.8v2.8h-2.8zM554.7 1002.5h2.8v2.8h-2.8zM554.3 983.2h2.8v2.8h-2.8zM562.7 998.1h2.8v2.8h-2.8zM554.0 992.8h2.8v2.8h-2.8zM561.3 970.3h2.8v2.8h-2.8zM563.3 978.1h2.8v2.8h-2.8zM540.6 990.7h2.8v2.8h-2.8zM550.9 1015.3h2.8v2.8h-2.8zM525.8 993.3h2.8v2.8h-2.8zM526.8 987.0h2.8v2.8h-2.8zM528.0 1007.9h2.8v2.8h-2.8zM581.7 992.7h2.8v2.8h-2.8zM576.5 984.4h2.8v2.8h-2.8zM583.7 974.7h2.8v2.8h-2.8zM583.6 974.3h2.8v2.8h-2.8zM569.6 976.6h2.8v2.8h-2.8zM584.7 1017.3h2.8v2.8h-2.8zM539.1 983.8h2.8v2.8h-2.8zM581.0 971.7h2.8v2.8h-2.8zM585.6 1008.3h2.8v2.8h-2.8zM590.4 971.1h2.8v2.8h-2.8zM578.5 1017.9h2.8v2.8h-2.8zM538.7 973.5h2.8v2.8h-2.8zM561.1 1003.9h2.8v2.8h-2.8zM551.6 989.1h2.8v2.8h-2.8zM583.4 978.8h2.8v2.8h-2.8zM567.5 1010.9h2.8v2.8h-2.8zM550.9 1014.6h2.8v2.8h-2.8zM579.3 974.1h2.8v2.8h-2.8zM556.7 1021.0h2.8v2.8h-2.8zM572.6 997.0h2.8v2.8h-2.8zM541.2 1020.1h2.8v2.8h-2.8zM587.9 1010.2h2.8v2.8h-2.8zM528.2 1006.3h2.8v2.8h-2.8zM557.2 1022.5h2.8v2.8h-2.8zM529.2 996.1h2.8v2.8h-2.8zM561.5 1000.7h2.8v2.8h-2.8zM560.4 996.1h2.8v2.8h-2.8zM555.4 999.3h2.8v2.8h-2.8zM558.8 999.9h2.8v2.8h-2.8zM569.9 990.2h2.8v2.8h-2.8zM572.7 1015.3h2.8v2.8h-2.8zM568.8 1003.2h2.8v2.8h-2.8zM549.5 1000.6h2.8v2.8h-2.8zM564.3 1014.2h2.8v2.8h-2.8zM540.3 1009.2h2.8v2.8h-2.8zM572.6 1023.4h2.8v2.8h-2.8zM535.0 982.0h2.8v2.8h-2.8zM543.3 1011.5h2.8v2.8h-2.8zM528.8 994.4h2.8v2.8h-2.8zM563.6 973.8h2.8v2.8h-2.8zM557.4 990.6h2.8v2.8h-2.8zM560.0 983.9h2.8v2.8h-2.8zM572.1 1023.3h2.8v2.8h-2.8zM550.6 983.6h2.8v2.8h-2.8z"/>
<g transform="translate(752,766)" clip-path="url(#bclip)"><path d="M105.5,196.0 C106.0,189.7 106.9,185.5 109.0,181.0 C111.1,176.5 114.2,171.9 118.0,169.0 C121.8,166.1 125.5,164.8 132.0,163.5 C138.5,162.2 147.0,161.8 157.0,161.5 C167.0,161.2 182.8,160.8 192.0,161.5 C201.2,162.2 207.3,163.6 212.0,166.0 C216.7,168.4 219.2,172.5 220.0,176.0 C220.8,179.5 219.7,183.7 217.0,187.0 C214.3,190.3 209.7,192.9 204.0,195.6 C198.3,198.3 190.1,200.1 182.8,203.3 C175.5,206.5 167.1,210.2 160.0,215.0 C152.9,219.8 146.0,227.5 140.0,232.0 C134.0,236.5 128.6,241.3 124.0,242.0 C119.5,242.7 115.7,240.3 112.7,236.4 C109.8,232.5 107.5,225.3 106.3,218.6 C105.1,211.9 105.0,202.3 105.5,196.0 Z" fill="#f82626" fill-opacity="0.42"/><path d="M201.0,174.0 C202.8,170.7 207.2,167.8 212.0,166.0 C216.8,164.2 223.7,163.6 230.0,163.0 C236.3,162.4 244.3,162.2 250.0,162.5 C255.7,162.8 260.3,162.9 264.0,164.5 C267.7,166.1 270.2,168.9 272.0,172.0 C273.8,175.1 275.2,178.7 275.0,183.0 C274.8,187.3 272.8,193.2 271.0,198.0 C269.2,202.8 267.2,207.9 264.0,211.6 C260.8,215.3 255.8,218.1 252.0,220.0 C248.2,221.9 244.7,224.0 241.0,223.0 C237.3,222.0 233.5,217.0 230.0,214.0 C226.5,211.0 223.8,207.8 220.0,205.0 C216.2,202.2 210.2,200.2 207.0,197.0 C203.8,193.8 202.0,189.8 201.0,186.0 C200.0,182.2 199.2,177.3 201.0,174.0 Z" fill="#e9db0e" fill-opacity="0.42"/><path d="M237.8,130.4 C240.8,128.9 243.0,128.8 246.0,128.9 C249.0,129.0 252.9,129.7 256.0,131.0 C259.1,132.3 263.0,133.7 264.3,136.5 C265.6,139.3 265.0,143.4 264.0,148.0 C263.0,152.6 260.4,158.3 258.2,164.1 C256.0,169.9 253.4,176.7 251.0,183.0 C248.6,189.3 246.4,197.3 243.9,201.8 C241.4,206.3 238.4,208.3 236.0,210.0 C233.6,211.7 232.1,211.8 229.5,212.0 C226.9,212.2 224.2,212.0 220.5,211.0 C216.8,210.0 210.2,207.5 207.0,206.0 C203.8,204.5 202.9,204.2 201.1,201.8 C199.3,199.4 196.5,195.8 196.0,191.6 C195.5,187.3 195.6,181.4 198.0,176.3 C200.4,171.2 206.7,165.2 210.3,161.0 C213.9,156.8 216.5,154.6 219.4,150.8 C222.3,147.0 224.9,141.4 228.0,138.0 C231.1,134.6 234.8,131.9 237.8,130.4 Z" fill="#009da2" fill-opacity="0.42"/><rect x="155.5" y="186.5" width="45" height="13" rx="6.5" transform="rotate(25 178 193)" fill="#64bedf" fill-opacity="0.3"/><ellipse cx="171" cy="218" rx="23" ry="17" transform="rotate(15 171 218)" fill="#d21fd2" fill-opacity="0.42"/><ellipse cx="154" cy="238" rx="42" ry="21" transform="rotate(-60 154 238)" fill="#2626ee" fill-opacity="0.42"/><ellipse cx="180" cy="236" rx="32" ry="20" transform="rotate(-65 180 236)" fill="#de674f" fill-opacity="0.42"/><ellipse cx="190.5" cy="244" rx="22.5" ry="18.5" transform="rotate(-30 190.5 244)" fill="#0e8513" fill-opacity="0.42"/><ellipse cx="209" cy="220" rx="25" ry="14" transform="rotate(33 209 220)" fill="#6b6b6b" fill-opacity="0.5"/><rect x="177.2" y="250.0" width="68" height="24" rx="12.0" transform="rotate(-37 211.2 262)" fill="#262685" fill-opacity="0.42"/></g>
<path fill="#1c1c1c" d="M961.9 1005.4h2.8v2.8h-2.8zM993.6 1028.6h2.8v2.8h-2.8zM982.3 1030.7h2.8v2.8h-2.8zM967.8 1044.3h2.8v2.8h-2.8zM1012.6 1044.4h2.8v2.8h-2.8zM968.6 1031.5h2.8v2.8h-2.8zM1014.1 1011.1h2.8v2.8h-2.8zM1009.3 1029.9h2.8v2.8h-2.8zM986.4 1007.8h2.8v2.8h-2.8zM1014.1 1021.6h2.8v2.8h-2.8zM974.7 1025.3h2.8v2.8h-2.8zM984.2 1016.0h2.8v2.8h-2.8zM950.4 1040.1h2.8v2.8h-2.8zM1022.4 1007.5h2.8v2.8h-2.8zM1020.0 1008.7h2.8v2.8h-2.8zM1004.3 1033.7h2.8v2.8h-2.8zM988.4 1020.5h2.8v2.8h-2.8zM1004.6 984.7h2.8v2.8h-2.8zM1014.4 1015.4h2.8v2.8h-2.8zM966.6 1019.8h2.8v2.8h-2.8zM1029.6 1016.0h2.8v2.8h-2.8zM993.9 1027.4h2.8v2.8h-2.8zM972.7 1010.2h2.8v2.8h-2.8zM1000.5 1039.6h2.8v2.8h-2.8zM997.0 1028.9h2.8v2.8h-2.8zM997.3 1017.3h2.8v2.8h-2.8zM946.0 1049.0h2.8v2.8h-2.8zM1002.7 1019.7h2.8v2.8h-2.8zM962.1 1015.7h2.8v2.8h-2.8zM1001.3 988.7h2.8v2.8h-2.8zM996.4 1020.7h2.8v2.8h-2.8zM981.9 1020.7h2.8v2.8h-2.8zM1009.9 977.8h2.8v2.8h-2.8zM996.9 986.9h2.8v2.8h-2.8zM1036.6 1014.2h2.8v2.8h-2.8zM971.8 1033.1h2.8v2.8h-2.8zM993.8 1018.6h2.8v2.8h-2.8zM986.3 1016.3h2.8v2.8h-2.8zM1017.7 1010.0h2.8v2.8h-2.8zM1038.8 1023.5h2.8v2.8h-2.8zM963.2 1028.9h2.8v2.8h-2.8zM1011.2 1015.3h2.8v2.8h-2.8zM1004.6 1017.9h2.8v2.8h-2.8zM1005.8 1039.8h2.8v2.8h-2.8zM986.6 984.5h2.8v2.8h-2.8zM989.0 1043.4h2.8v2.8h-2.8zM996.2 1040.4h2.8v2.8h-2.8zM1010.9 1014.9h2.8v2.8h-2.8zM966.2 1015.9h2.8v2.8h-2.8zM982.2 1030.9h2.8v2.8h-2.8zM999.7 1038.4h2.8v2.8h-2.8zM996.4 1014.3h2.8v2.8h-2.8zM976.5 1021.6h2.8v2.8h-2.8zM991.5 1010.7h2.8v2.8h-2.8zM1001.8 1013.5h2.8v2.8h-2.8zM976.4 1008.8h2.8v2.8h-2.8zM964.5 1053.3h2.8v2.8h-2.8zM966.3 1022.5h2.8v2.8h-2.8zM974.2 1016.8h2.8v2.8h-2.8zM1026.5 1033.4h2.8v2.8h-2.8zM979.9 1007.3h2.8v2.8h-2.8zM1027.2 1008.3h2.8v2.8h-2.8zM976.3 1048.0h2.8v2.8h-2.8zM1014.8 1020.7h2.8v2.8h-2.8zM991.7 1014.8h2.8v2.8h-2.8zM1031.2 1014.0h2.8v2.8h-2.8zM988.9 1006.8h2.8v2.8h-2.8zM1011.8 1022.8h2.8v2.8h-2.8zM985.4 1029.5h2.8v2.8h-2.8zM991.2 1042.3h2.8v2.8h-2.8zM995.8 1057.4h2.8v2.8h-2.8zM974.2 1045.9h2.8v2.8h-2.8zM1007.7 1033.7h2.8v2.8h-2.8zM992.7 1029.0h2.8v2.8h-2.8zM995.4 1029.4h2.8v2.8h-2.8zM987.8 1016.1h2.8v2.8h-2.8zM971.3 1039.8h2.8v2.8h-2.8zM971.7 1031.7h2.8v2.8h-2.8zM972.2 1009.2h2.8v2.8h-2.8zM1021.8 1038.4h2.8v2.8h-2.8zM1022.5 1020.9h2.8v2.8h-2.8zM946.8 1034.9h2.8v2.8h-2.8zM975.1 1030.4h2.8v2.8h-2.8zM1010.8 1042.4h2.8v2.8h-2.8zM976.1 1025.5h2.8v2.8h-2.8zM1005.9 1015.0h2.8v2.8h-2.8zM975.2 1020.1h2.8v2.8h-2.8zM973.7 1012.1h2.8v2.8h-2.8zM1003.9 1017.3h2.8v2.8h-2.8zM988.8 1005.8h2.8v2.8h-2.8zM989.2 1043.0h2.8v2.8h-2.8zM984.0 1019.8h2.8v2.8h-2.8zM1002.5 1026.4h2.8v2.8h-2.8zM994.6 1034.7h2.8v2.8h-2.8zM1027.5 1038.8h2.8v2.8h-2.8zM1035.7 994.5h2.8v2.8h-2.8zM1000.8 1019.1h2.8v2.8h-2.8zM992.7 995.2h2.8v2.8h-2.8zM985.6 979.1h2.8v2.8h-2.8zM1003.4 1039.2h2.8v2.8h-2.8zM1003.9 1028.5h2.8v2.8h-2.8zM1000.4 1030.6h2.8v2.8h-2.8zM949.2 1006.9h2.8v2.8h-2.8zM1036.4 1027.1h2.8v2.8h-2.8zM997.2 1028.2h2.8v2.8h-2.8zM996.5 1019.5h2.8v2.8h-2.8zM1002.1 1041.3h2.8v2.8h-2.8zM967.2 1017.6h2.8v2.8h-2.8zM1002.4 1030.8h2.8v2.8h-2.8zM998.7 1042.7h2.8v2.8h-2.8zM1003.1 1012.0h2.8v2.8h-2.8zM978.8 1016.7h2.8v2.8h-2.8zM1011.8 1010.7h2.8v2.8h-2.8zM964.8 1030.6h2.8v2.8h-2.8zM976.9 1033.3h2.8v2.8h-2.8zM978.5 1012.4h2.8v2.8h-2.8zM951.3 987.6h2.8v2.8h-2.8zM990.8 1003.0h2.8v2.8h-2.8zM1013.0 1008.5h2.8v2.8h-2.8zM975.6 1041.5h2.8v2.8h-2.8zM991.8 1019.9h2.8v2.8h-2.8zM1024.5 989.3h2.8v2.8h-2.8zM993.3 1008.8h2.8v2.8h-2.8zM1002.5 990.9h2.8v2.8h-2.8zM993.9 1020.7h2.8v2.8h-2.8zM1001.7 1009.4h2.8v2.8h-2.8zM1010.6 1025.9h2.8v2.8h-2.8zM992.1 1027.4h2.8v2.8h-2.8zM1022.3 1028.1h2.8v2.8h-2.8zM982.7 1022.7h2.8v2.8h-2.8zM965.5 1033.9h2.8v2.8h-2.8zM981.3 1011.7h2.8v2.8h-2.8zM985.3 1024.5h2.8v2.8h-2.8zM970.6 1038.8h2.8v2.8h-2.8zM983.7 1032.9h2.8v2.8h-2.8zM1013.0 980.4h2.8v2.8h-2.8zM989.4 1017.3h2.8v2.8h-2.8zM987.9 1026.0h2.8v2.8h-2.8zM1003.4 1014.0h2.8v2.8h-2.8zM991.7 1016.9h2.8v2.8h-2.8zM990.9 1028.2h2.8v2.8h-2.8zM978.6 1059.8h2.8v2.8h-2.8zM998.0 1020.8h2.8v2.8h-2.8zM967.6 1029.4h2.8v2.8h-2.8zM990.3 1001.8h2.8v2.8h-2.8zM958.5 1063.0h2.8v2.8h-2.8zM975.0 1011.0h2.8v2.8h-2.8zM1042.7 996.8h2.8v2.8h-2.8zM995.4 989.3h2.8v2.8h-2.8zM974.0 1031.2h2.8v2.8h-2.8zM941.3 1037.3h2.8v2.8h-2.8zM1011.9 1014.1h2.8v2.8h-2.8zM965.1 1060.0h2.8v2.8h-2.8zM1010.4 1055.7h2.8v2.8h-2.8zM998.6 1040.4h2.8v2.8h-2.8zM980.8 1025.6h2.8v2.8h-2.8zM995.1 1001.0h2.8v2.8h-2.8zM989.7 981.1h2.8v2.8h-2.8zM974.2 1028.3h2.8v2.8h-2.8zM987.1 1011.0h2.8v2.8h-2.8zM998.7 1006.9h2.8v2.8h-2.8zM1004.1 1030.2h2.8v2.8h-2.8zM996.4 1032.4h2.8v2.8h-2.8zM1019.4 1001.4h2.8v2.8h-2.8zM958.4 1037.8h2.8v2.8h-2.8zM996.8 1045.9h2.8v2.8h-2.8zM1009.3 1013.2h2.8v2.8h-2.8zM976.2 1012.3h2.8v2.8h-2.8zM961.3 1015.8h2.8v2.8h-2.8zM976.6 1027.8h2.8v2.8h-2.8zM991.5 998.8h2.8v2.8h-2.8zM1023.4 1022.5h2.8v2.8h-2.8zM1001.8 1015.0h2.8v2.8h-2.8zM1003.2 1039.7h2.8v2.8h-2.8zM995.5 1035.9h2.8v2.8h-2.8zM992.1 1011.2h2.8v2.8h-2.8zM986.1 1013.1h2.8v2.8h-2.8zM986.5 1035.9h2.8v2.8h-2.8zM986.2 1030.4h2.8v2.8h-2.8zM1013.2 1054.8h2.8v2.8h-2.8zM997.2 1027.8h2.8v2.8h-2.8zM986.6 1021.5h2.8v2.8h-2.8zM992.9 1035.7h2.8v2.8h-2.8zM973.9 1007.2h2.8v2.8h-2.8zM1020.3 996.1h2.8v2.8h-2.8zM1018.3 1045.8h2.8v2.8h-2.8zM955.7 1018.7h2.8v2.8h-2.8zM991.7 991.1h2.8v2.8h-2.8zM992.7 1025.6h2.8v2.8h-2.8zM1012.9 1052.1h2.8v2.8h-2.8zM1002.1 1041.2h2.8v2.8h-2.8zM1009.3 1026.9h2.8v2.8h-2.8zM1034.5 1009.1h2.8v2.8h-2.8zM968.3 1044.5h2.8v2.8h-2.8zM1005.8 1032.5h2.8v2.8h-2.8zM951.3 1004.5h2.8v2.8h-2.8zM999.2 1028.4h2.8v2.8h-2.8zM980.2 1022.6h2.8v2.8h-2.8zM951.2 1043.2h2.8v2.8h-2.8zM987.4 1040.1h2.8v2.8h-2.8zM973.6 1025.3h2.8v2.8h-2.8zM976.9 1062.4h2.8v2.8h-2.8zM993.8 1031.5h2.8v2.8h-2.8zM970.8 1023.7h2.8v2.8h-2.8zM1018.4 1029.9h2.8v2.8h-2.8zM957.0 1043.4h2.8v2.8h-2.8zM1023.1 1014.1h2.8v2.8h-2.8zM975.5 1018.1h2.8v2.8h-2.8zM1008.4 999.5h2.8v2.8h-2.8zM970.7 1037.1h2.8v2.8h-2.8zM977.3 1030.3h2.8v2.8h-2.8zM984.6 991.1h2.8v2.8h-2.8zM1015.6 1031.3h2.8v2.8h-2.8zM999.9 1006.7h2.8v2.8h-2.8zM999.5 1042.0h2.8v2.8h-2.8zM974.1 1030.7h2.8v2.8h-2.8zM982.9 1040.2h2.8v2.8h-2.8zM1022.0 995.6h2.8v2.8h-2.8zM1018.0 1016.5h2.8v2.8h-2.8zM972.3 1042.8h2.8v2.8h-2.8zM991.5 990.9h2.8v2.8h-2.8zM1046.5 1016.2h2.8v2.8h-2.8zM975.3 1036.3h2.8v2.8h-2.8zM997.3 1007.3h2.8v2.8h-2.8zM1010.3 983.4h2.8v2.8h-2.8zM1015.1 1038.1h2.8v2.8h-2.8zM964.8 1010.7h2.8v2.8h-2.8zM975.0 1045.8h2.8v2.8h-2.8zM978.6 1020.7h2.8v2.8h-2.8zM1010.4 1017.8h2.8v2.8h-2.8zM1010.8 1009.7h2.8v2.8h-2.8zM1002.7 1023.7h2.8v2.8h-2.8zM1005.4 1011.9h2.8v2.8h-2.8zM1015.6 1030.7h2.8v2.8h-2.8zM987.9 1001.6h2.8v2.8h-2.8zM1003.6 1019.6h2.8v2.8h-2.8zM981.1 1010.6h2.8v2.8h-2.8zM967.2 1037.6h2.8v2.8h-2.8zM984.5 1019.7h2.8v2.8h-2.8zM1022.9 1029.2h2.8v2.8h-2.8zM987.5 1015.0h2.8v2.8h-2.8zM985.6 1008.3h2.8v2.8h-2.8zM983.5 1030.0h2.8v2.8h-2.8zM1012.4 999.8h2.8v2.8h-2.8zM973.5 1006.7h2.8v2.8h-2.8zM973.2 1063.6h2.8v2.8h-2.8zM948.3 1006.9h2.8v2.8h-2.8zM1004.2 1026.6h2.8v2.8h-2.8zM999.0 1035.0h2.8v2.8h-2.8zM1004.7 1019.7h2.8v2.8h-2.8zM972.1 1074.7h2.8v2.8h-2.8zM1004.5 1032.6h2.8v2.8h-2.8zM998.2 1042.6h2.8v2.8h-2.8zM985.6 1033.8h2.8v2.8h-2.8zM988.7 1026.5h2.8v2.8h-2.8zM1041.2 1022.8h2.8v2.8h-2.8zM973.7 1022.0h2.8v2.8h-2.8zM1006.6 1013.1h2.8v2.8h-2.8zM976.7 1060.2h2.8v2.8h-2.8zM984.5 1030.4h2.8v2.8h-2.8zM1003.3 1024.7h2.8v2.8h-2.8zM981.8 1010.7h2.8v2.8h-2.8zM972.3 1039.9h2.8v2.8h-2.8zM958.2 1020.9h2.8v2.8h-2.8zM972.6 1019.5h2.8v2.8h-2.8zM1010.5 1000.5h2.8v2.8h-2.8zM990.0 1001.7h2.8v2.8h-2.8zM1015.5 987.0h2.8v2.8h-2.8zM964.0 1030.9h2.8v2.8h-2.8zM973.0 1031.9h2.8v2.8h-2.8zM1018.7 990.4h2.8v2.8h-2.8zM1007.6 1011.7h2.8v2.8h-2.8zM1028.0 982.9h2.8v2.8h-2.8zM987.3 1015.0h2.8v2.8h-2.8zM1015.3 1032.5h2.8v2.8h-2.8zM977.6 1021.6h2.8v2.8h-2.8zM984.3 1013.2h2.8v2.8h-2.8zM986.6 1012.1h2.8v2.8h-2.8zM986.3 1023.5h2.8v2.8h-2.8zM967.7 1042.7h2.8v2.8h-2.8zM986.0 1027.4h2.8v2.8h-2.8zM978.4 1016.4h2.8v2.8h-2.8zM1010.4 1031.6h2.8v2.8h-2.8zM1036.5 994.4h2.8v2.8h-2.8zM989.9 1037.8h2.8v2.8h-2.8zM1002.3 1009.2h2.8v2.8h-2.8zM1001.2 1013.4h2.8v2.8h-2.8zM1027.7 1019.8h2.8v2.8h-2.8zM958.8 1017.6h2.8v2.8h-2.8zM1018.0 1028.3h2.8v2.8h-2.8zM988.8 1032.2h2.8v2.8h-2.8zM1009.3 1025.1h2.8v2.8h-2.8zM977.8 1008.3h2.8v2.8h-2.8zM1002.4 1005.8h2.8v2.8h-2.8zM968.7 1049.4h2.8v2.8h-2.8zM1002.3 1012.5h2.8v2.8h-2.8zM1012.4 1014.9h2.8v2.8h-2.8zM1021.9 1034.0h2.8v2.8h-2.8zM998.9 1029.0h2.8v2.8h-2.8zM983.1 1033.1h2.8v2.8h-2.8zM982.2 1020.3h2.8v2.8h-2.8zM977.5 1039.5h2.8v2.8h-2.8zM962.3 1011.6h2.8v2.8h-2.8zM992.3 1010.7h2.8v2.8h-2.8zM966.3 1018.5h2.8v2.8h-2.8zM984.4 1013.7h2.8v2.8h-2.8zM1038.6 976.5h2.8v2.8h-2.8zM965.0 1017.2h2.8v2.8h-2.8zM1003.4 1024.6h2.8v2.8h-2.8zM1019.7 1041.0h2.8v2.8h-2.8zM1013.3 1018.5h2.8v2.8h-2.8zM951.2 1040.6h2.8v2.8h-2.8zM990.3 1024.6h2.8v2.8h-2.8zM973.2 1023.8h2.8v2.8h-2.8zM1001.8 1046.5h2.8v2.8h-2.8zM986.7 1054.0h2.8v2.8h-2.8zM985.7 1056.6h2.8v2.8h-2.8zM961.4 1027.5h2.8v2.8h-2.8zM1012.7 1027.3h2.8v2.8h-2.8zM1005.8 1029.4h2.8v2.8h-2.8zM963.0 1009.7h2.8v2.8h-2.8zM972.8 1041.9h2.8v2.8h-2.8zM975.8 1056.1h2.8v2.8h-2.8zM1032.3 1029.7h2.8v2.8h-2.8zM994.1 1034.7h2.8v2.8h-2.8zM972.0 1010.0h2.8v2.8h-2.8zM995.1 1034.1h2.8v2.8h-2.8zM991.3 1037.3h2.8v2.8h-2.8zM984.6 1047.5h2.8v2.8h-2.8zM996.0 1048.4h2.8v2.8h-2.8zM964.4 1038.7h2.8v2.8h-2.8zM1005.7 1040.0h2.8v2.8h-2.8zM958.7 1024.9h2.8v2.8h-2.8zM971.4 1035.4h2.8v2.8h-2.8zM966.5 1037.1h2.8v2.8h-2.8zM986.3 1011.7h2.8v2.8h-2.8zM962.9 1012.6h2.8v2.8h-2.8zM944.6 1048.3h2.8v2.8h-2.8zM945.8 1039.6h2.8v2.8h-2.8zM1010.6 1046.9h2.8v2.8h-2.8zM956.6 1034.3h2.8v2.8h-2.8zM998.3 1017.8h2.8v2.8h-2.8zM988.3 1027.4h2.8v2.8h-2.8zM1005.3 1020.3h2.8v2.8h-2.8zM977.6 1022.8h2.8v2.8h-2.8zM946.3 1023.4h2.8v2.8h-2.8zM964.6 1011.4h2.8v2.8h-2.8zM997.2 1005.7h2.8v2.8h-2.8zM1017.0 1007.8h2.8v2.8h-2.8zM1000.2 1000.6h2.8v2.8h-2.8zM993.7 1034.5h2.8v2.8h-2.8zM1000.7 1005.6h2.8v2.8h-2.8zM1016.4 1003.9h2.8v2.8h-2.8zM1005.9 980.2h2.8v2.8h-2.8zM1013.1 1018.6h2.8v2.8h-2.8zM1014.0 1035.3h2.8v2.8h-2.8zM979.6 1052.2h2.8v2.8h-2.8zM1014.1 1008.8h2.8v2.8h-2.8zM975.0 1008.9h2.8v2.8h-2.8zM1014.6 1035.8h2.8v2.8h-2.8zM1005.8 1017.7h2.8v2.8h-2.8zM966.6 1041.9h2.8v2.8h-2.8zM962.2 982.7h2.8v2.8h-2.8zM980.9 1019.4h2.8v2.8h-2.8zM995.0 1048.2h2.8v2.8h-2.8zM1022.1 1009.5h2.8v2.8h-2.8zM975.7 1029.8h2.8v2.8h-2.8zM998.7 1038.9h2.8v2.8h-2.8zM968.6 1024.8h2.8v2.8h-2.8zM993.6 1019.0h2.8v2.8h-2.8zM1002.5 1037.2h2.8v2.8h-2.8zM982.4 1038.2h2.8v2.8h-2.8zM943.8 1029.5h2.8v2.8h-2.8zM981.9 1003.0h2.8v2.8h-2.8zM1000.3 995.9h2.8v2.8h-2.8zM1017.9 1037.5h2.8v2.8h-2.8zM998.5 1012.1h2.8v2.8h-2.8zM997.2 1023.3h2.8v2.8h-2.8zM1019.1 1034.9h2.8v2.8h-2.8zM1004.3 1038.6h2.8v2.8h-2.8zM1001.1 1025.0h2.8v2.8h-2.8zM981.9 1021.9h2.8v2.8h-2.8zM982.2 1021.3h2.8v2.8h-2.8zM1007.9 1007.9h2.8v2.8h-2.8zM1007.1 1012.0h2.8v2.8h-2.8zM966.7 1060.4h2.8v2.8h-2.8zM987.1 1018.5h2.8v2.8h-2.8zM977.1 1029.2h2.8v2.8h-2.8zM968.1 1027.5h2.8v2.8h-2.8zM957.5 1012.0h2.8v2.8h-2.8zM985.3 1003.8h2.8v2.8h-2.8zM980.1 1032.6h2.8v2.8h-2.8zM968.4 1005.7h2.8v2.8h-2.8zM996.2 1011.6h2.8v2.8h-2.8zM994.1 1027.7h2.8v2.8h-2.8zM1015.3 1020.2h2.8v2.8h-2.8zM1002.5 1002.5h2.8v2.8h-2.8zM979.2 1038.6h2.8v2.8h-2.8zM1017.7 1049.6h2.8v2.8h-2.8zM1007.7 1018.2h2.8v2.8h-2.8zM984.1 1021.7h2.8v2.8h-2.8zM1027.8 992.0h2.8v2.8h-2.8zM964.0 1010.4h2.8v2.8h-2.8zM989.4 1021.2h2.8v2.8h-2.8zM976.2 1050.7h2.8v2.8h-2.8zM986.0 1027.6h2.8v2.8h-2.8zM985.0 1042.3h2.8v2.8h-2.8zM943.1 1023.2h2.8v2.8h-2.8zM981.4 1013.3h2.8v2.8h-2.8zM990.8 1011.6h2.8v2.8h-2.8zM999.3 1021.7h2.8v2.8h-2.8zM990.5 1039.5h2.8v2.8h-2.8zM976.1 1017.7h2.8v2.8h-2.8zM970.0 1030.0h2.8v2.8h-2.8zM1007.9 1036.7h2.8v2.8h-2.8zM969.2 1057.5h2.8v2.8h-2.8zM995.0 1009.8h2.8v2.8h-2.8zM1009.4 1032.9h2.8v2.8h-2.8zM965.6 1014.1h2.8v2.8h-2.8zM996.7 1014.9h2.8v2.8h-2.8zM1001.3 1019.9h2.8v2.8h-2.8zM1026.9 979.2h2.8v2.8h-2.8zM990.1 1015.8h2.8v2.8h-2.8zM1006.5 1020.5h2.8v2.8h-2.8zM977.5 1017.7h2.8v2.8h-2.8zM959.4 1027.0h2.8v2.8h-2.8zM990.3 1029.3h2.8v2.8h-2.8zM1007.5 1006.4h2.8v2.8h-2.8zM999.2 1005.3h2.8v2.8h-2.8zM978.5 1003.8h2.8v2.8h-2.8zM983.3 1042.6h2.8v2.8h-2.8zM978.4 1031.4h2.8v2.8h-2.8zM1006.6 1002.8h2.8v2.8h-2.8zM966.9 1035.8h2.8v2.8h-2.8zM1000.9 1020.9h2.8v2.8h-2.8zM1009.1 1002.5h2.8v2.8h-2.8zM988.9 1028.3h2.8v2.8h-2.8zM963.5 1040.9h2.8v2.8h-2.8zM1028.6 1031.2h2.8v2.8h-2.8zM978.2 1012.7h2.8v2.8h-2.8zM992.5 1025.6h2.8v2.8h-2.8zM980.7 1044.4h2.8v2.8h-2.8zM997.3 1036.1h2.8v2.8h-2.8zM983.3 1017.3h2.8v2.8h-2.8zM961.5 1029.3h2.8v2.8h-2.8zM1028.1 1019.2h2.8v2.8h-2.8zM977.9 1013.5h2.8v2.8h-2.8zM1029.8 1018.9h2.8v2.8h-2.8zM1003.5 1013.5h2.8v2.8h-2.8zM991.1 1003.1h2.8v2.8h-2.8zM992.9 1031.4h2.8v2.8h-2.8zM961.7 1019.2h2.8v2.8h-2.8zM1003.6 1027.6h2.8v2.8h-2.8zM983.3 1029.0h2.8v2.8h-2.8zM1000.7 1016.5h2.8v2.8h-2.8zM980.9 988.9h2.8v2.8h-2.8zM964.1 1055.2h2.8v2.8h-2.8zM973.5 1045.1h2.8v2.8h-2.8zM955.7 1054.8h2.8v2.8h-2.8zM1020.0 1033.7h2.8v2.8h-2.8zM1014.2 1016.9h2.8v2.8h-2.8zM986.0 1026.0h2.8v2.8h-2.8zM1018.5 1012.8h2.8v2.8h-2.8zM1012.9 1012.9h2.8v2.8h-2.8zM987.4 1020.4h2.8v2.8h-2.8zM1005.2 1038.9h2.8v2.8h-2.8zM1012.6 1037.0h2.8v2.8h-2.8zM1006.9 1000.4h2.8v2.8h-2.8zM992.9 1026.9h2.8v2.8h-2.8zM1004.0 999.2h2.8v2.8h-2.8zM996.1 1029.1h2.8v2.8h-2.8zM990.2 1043.8h2.8v2.8h-2.8zM1009.8 1015.1h2.8v2.8h-2.8zM968.9 1054.8h2.8v2.8h-2.8zM1003.1 1014.9h2.8v2.8h-2.8zM989.6 1004.2h2.8v2.8h-2.8zM1023.5 969.1h2.8v2.8h-2.8zM1044.9 987.7h2.8v2.8h-2.8zM1035.1 981.4h2.8v2.8h-2.8zM1022.9 959.0h2.8v2.8h-2.8zM1028.0 961.9h2.8v2.8h-2.8zM1064.9 940.3h2.8v2.8h-2.8zM1012.8 939.8h2.8v2.8h-2.8zM1027.1 995.1h2.8v2.8h-2.8zM1045.4 939.4h2.8v2.8h-2.8zM1051.6 970.9h2.8v2.8h-2.8zM1065.7 961.4h2.8v2.8h-2.8zM1006.6 944.2h2.8v2.8h-2.8zM1039.0 959.0h2.8v2.8h-2.8zM1040.0 1001.9h2.8v2.8h-2.8zM1011.2 988.0h2.8v2.8h-2.8zM1033.0 985.7h2.8v2.8h-2.8zM1055.5 976.5h2.8v2.8h-2.8zM1046.7 940.8h2.8v2.8h-2.8zM1044.2 970.0h2.8v2.8h-2.8zM1027.9 979.8h2.8v2.8h-2.8zM1015.1 984.9h2.8v2.8h-2.8zM1027.0 964.0h2.8v2.8h-2.8zM1028.6 977.2h2.8v2.8h-2.8zM1014.5 945.5h2.8v2.8h-2.8zM1046.3 988.2h2.8v2.8h-2.8zM1038.0 971.1h2.8v2.8h-2.8zM1064.8 935.3h2.8v2.8h-2.8zM1043.9 1002.0h2.8v2.8h-2.8zM1052.4 970.7h2.8v2.8h-2.8zM1055.9 949.7h2.8v2.8h-2.8zM1047.7 985.7h2.8v2.8h-2.8zM1044.7 957.4h2.8v2.8h-2.8zM1051.4 1000.6h2.8v2.8h-2.8zM1044.1 978.4h2.8v2.8h-2.8zM1046.7 953.2h2.8v2.8h-2.8zM1030.5 942.5h2.8v2.8h-2.8zM1035.0 969.8h2.8v2.8h-2.8zM1023.8 953.5h2.8v2.8h-2.8zM1032.9 954.5h2.8v2.8h-2.8zM1022.0 988.2h2.8v2.8h-2.8zM1038.7 1004.4h2.8v2.8h-2.8zM1065.2 977.1h2.8v2.8h-2.8zM1056.6 974.7h2.8v2.8h-2.8zM1057.2 945.8h2.8v2.8h-2.8zM1018.0 995.1h2.8v2.8h-2.8zM1059.2 998.6h2.8v2.8h-2.8zM1026.0 952.5h2.8v2.8h-2.8zM1025.8 992.2h2.8v2.8h-2.8zM1025.8 979.9h2.8v2.8h-2.8zM1043.0 971.0h2.8v2.8h-2.8zM1042.8 973.0h2.8v2.8h-2.8zM1053.7 939.1h2.8v2.8h-2.8zM1024.0 938.3h2.8v2.8h-2.8zM1048.6 928.3h2.8v2.8h-2.8zM1031.2 938.9h2.8v2.8h-2.8zM1044.3 955.7h2.8v2.8h-2.8zM1008.1 951.7h2.8v2.8h-2.8zM1063.1 976.1h2.8v2.8h-2.8zM1061.4 991.4h2.8v2.8h-2.8zM1060.7 1002.2h2.8v2.8h-2.8zM1063.4 950.3h2.8v2.8h-2.8zM1024.5 980.4h2.8v2.8h-2.8zM1010.4 975.1h2.8v2.8h-2.8zM1010.8 1001.3h2.8v2.8h-2.8zM1042.6 1003.3h2.8v2.8h-2.8zM1032.4 944.2h2.8v2.8h-2.8zM1008.3 984.0h2.8v2.8h-2.8zM1066.1 936.4h2.8v2.8h-2.8zM1030.9 974.1h2.8v2.8h-2.8zM1009.8 991.5h2.8v2.8h-2.8zM1047.2 953.2h2.8v2.8h-2.8zM1009.6 955.9h2.8v2.8h-2.8zM1010.6 932.4h2.8v2.8h-2.8zM1045.9 978.5h2.8v2.8h-2.8zM1014.2 963.8h2.8v2.8h-2.8zM1010.8 975.5h2.8v2.8h-2.8zM1018.8 939.2h2.8v2.8h-2.8zM1028.7 940.5h2.8v2.8h-2.8zM1037.4 957.3h2.8v2.8h-2.8zM1015.5 966.2h2.8v2.8h-2.8zM1011.2 998.0h2.8v2.8h-2.8zM1030.6 951.9h2.8v2.8h-2.8zM1055.3 977.1h2.8v2.8h-2.8zM1055.6 937.5h2.8v2.8h-2.8zM1012.4 989.1h2.8v2.8h-2.8zM1020.8 980.6h2.8v2.8h-2.8zM1033.4 1002.4h2.8v2.8h-2.8zM1008.1 984.5h2.8v2.8h-2.8zM1032.9 991.4h2.8v2.8h-2.8zM1012.8 939.9h2.8v2.8h-2.8zM1060.7 981.8h2.8v2.8h-2.8zM1058.9 1003.4h2.8v2.8h-2.8zM1057.1 945.6h2.8v2.8h-2.8zM1043.5 957.2h2.8v2.8h-2.8zM1024.7 970.1h2.8v2.8h-2.8zM1030.9 986.3h2.8v2.8h-2.8zM1057.5 998.4h2.8v2.8h-2.8zM1019.9 957.8h2.8v2.8h-2.8zM1064.2 948.8h2.8v2.8h-2.8zM1034.9 959.2h2.8v2.8h-2.8zM1040.2 955.3h2.8v2.8h-2.8zM1010.6 929.3h2.8v2.8h-2.8zM1062.1 987.8h2.8v2.8h-2.8zM1037.7 947.0h2.8v2.8h-2.8zM1060.7 987.9h2.8v2.8h-2.8zM1045.0 998.0h2.8v2.8h-2.8zM1008.9 976.7h2.8v2.8h-2.8zM1023.7 952.0h2.8v2.8h-2.8zM1051.7 946.5h2.8v2.8h-2.8zM1047.5 950.5h2.8v2.8h-2.8zM1067.9 974.5h2.8v2.8h-2.8zM1056.1 956.8h2.8v2.8h-2.8zM1042.9 966.7h2.8v2.8h-2.8zM1053.0 1004.1h2.8v2.8h-2.8zM1036.7 996.4h2.8v2.8h-2.8zM1023.9 975.4h2.8v2.8h-2.8zM1054.0 996.7h2.8v2.8h-2.8zM1043.0 952.2h2.8v2.8h-2.8zM1037.3 959.4h2.8v2.8h-2.8zM1056.8 994.7h2.8v2.8h-2.8zM1061.2 947.0h2.8v2.8h-2.8zM1064.8 975.1h2.8v2.8h-2.8zM1054.8 928.0h2.8v2.8h-2.8zM1008.1 1002.0h2.8v2.8h-2.8zM1014.0 988.5h2.8v2.8h-2.8zM1024.6 974.3h2.8v2.8h-2.8zM1021.2 932.8h2.8v2.8h-2.8zM1026.4 1001.1h2.8v2.8h-2.8zM1054.7 978.7h2.8v2.8h-2.8zM1053.4 971.0h2.8v2.8h-2.8zM1029.2 989.6h2.8v2.8h-2.8zM1029.3 969.0h2.8v2.8h-2.8zM1019.3 979.9h2.8v2.8h-2.8zM1049.1 953.8h2.8v2.8h-2.8zM1019.9 934.5h2.8v2.8h-2.8zM1018.8 990.2h2.8v2.8h-2.8zM1011.5 961.3h2.8v2.8h-2.8zM1047.1 991.6h2.8v2.8h-2.8zM1058.8 960.5h2.8v2.8h-2.8zM1050.3 927.7h2.8v2.8h-2.8zM1028.0 948.2h2.8v2.8h-2.8zM1014.8 967.6h2.8v2.8h-2.8zM1019.8 989.2h2.8v2.8h-2.8zM1017.3 987.9h2.8v2.8h-2.8zM1057.4 924.8h2.8v2.8h-2.8zM1043.2 941.6h2.8v2.8h-2.8zM1032.2 940.3h2.8v2.8h-2.8zM1048.6 928.4h2.8v2.8h-2.8zM1026.1 951.7h2.8v2.8h-2.8zM1016.3 965.8h2.8v2.8h-2.8zM1055.5 981.4h2.8v2.8h-2.8zM1050.1 988.1h2.8v2.8h-2.8zM1038.2 977.9h2.8v2.8h-2.8zM1010.3 932.7h2.8v2.8h-2.8zM1052.3 996.8h2.8v2.8h-2.8zM1036.8 986.1h2.8v2.8h-2.8zM1067.7 929.5h2.8v2.8h-2.8zM1062.6 936.5h2.8v2.8h-2.8zM1029.3 995.8h2.8v2.8h-2.8zM1026.7 936.2h2.8v2.8h-2.8zM1057.0 986.4h2.8v2.8h-2.8zM1057.5 987.9h2.8v2.8h-2.8zM1060.4 961.2h2.8v2.8h-2.8zM1056.6 938.4h2.8v2.8h-2.8zM1026.0 940.2h2.8v2.8h-2.8zM1024.4 973.1h2.8v2.8h-2.8zM1025.2 987.6h2.8v2.8h-2.8zM1057.0 953.4h2.8v2.8h-2.8zM1065.0 965.1h2.8v2.8h-2.8zM1028.3 975.7h2.8v2.8h-2.8zM1059.9 983.6h2.8v2.8h-2.8zM1067.8 974.1h2.8v2.8h-2.8zM1048.0 939.8h2.8v2.8h-2.8zM1062.3 978.4h2.8v2.8h-2.8zM1023.6 975.2h2.8v2.8h-2.8zM988.3 1066.1h2.8v2.8h-2.8zM947.6 1057.2h2.8v2.8h-2.8zM994.6 1061.5h2.8v2.8h-2.8zM996.4 1051.2h2.8v2.8h-2.8zM989.5 1056.1h2.8v2.8h-2.8zM997.6 1053.0h2.8v2.8h-2.8zM981.3 1067.2h2.8v2.8h-2.8zM992.5 1054.9h2.8v2.8h-2.8zM946.2 1069.4h2.8v2.8h-2.8zM992.0 1077.9h2.8v2.8h-2.8zM950.1 1077.7h2.8v2.8h-2.8zM996.3 1058.4h2.8v2.8h-2.8zM966.5 1061.5h2.8v2.8h-2.8zM994.8 1059.7h2.8v2.8h-2.8zM970.9 1057.4h2.8v2.8h-2.8zM971.9 1072.2h2.8v2.8h-2.8zM965.7 1053.8h2.8v2.8h-2.8zM965.1 1080.3h2.8v2.8h-2.8zM975.3 1070.5h2.8v2.8h-2.8zM966.8 1055.8h2.8v2.8h-2.8zM956.7 1057.4h2.8v2.8h-2.8zM946.8 1062.3h2.8v2.8h-2.8zM968.4 1063.8h2.8v2.8h-2.8zM940.8 1079.1h2.8v2.8h-2.8zM942.4 1079.4h2.8v2.8h-2.8zM966.1 1059.3h2.8v2.8h-2.8zM992.9 1075.5h2.8v2.8h-2.8zM954.9 1070.4h2.8v2.8h-2.8zM976.9 1061.5h2.8v2.8h-2.8zM985.3 1057.7h2.8v2.8h-2.8zM996.5 1077.0h2.8v2.8h-2.8zM991.7 1075.5h2.8v2.8h-2.8zM946.0 1063.9h2.8v2.8h-2.8zM985.6 1065.7h2.8v2.8h-2.8zM976.5 1061.7h2.8v2.8h-2.8zM961.6 1077.4h2.8v2.8h-2.8zM974.7 1054.2h2.8v2.8h-2.8zM955.5 1070.1h2.8v2.8h-2.8zM990.8 1071.5h2.8v2.8h-2.8zM966.1 1064.1h2.8v2.8h-2.8zM950.5 1083.3h2.8v2.8h-2.8zM975.7 1073.5h2.8v2.8h-2.8zM959.7 1070.3h2.8v2.8h-2.8zM994.7 1062.8h2.8v2.8h-2.8zM981.2 1073.0h2.8v2.8h-2.8zM964.0 1083.4h2.8v2.8h-2.8zM984.4 1076.3h2.8v2.8h-2.8zM940.9 1082.2h2.8v2.8h-2.8zM952.2 1053.6h2.8v2.8h-2.8zM958.0 1064.8h2.8v2.8h-2.8zM1000.5 1055.0h2.8v2.8h-2.8zM1000.1 1059.9h2.8v2.8h-2.8zM957.5 1079.6h2.8v2.8h-2.8zM973.7 1053.6h2.8v2.8h-2.8zM988.4 1066.8h2.8v2.8h-2.8zM941.0 1069.4h2.8v2.8h-2.8zM959.4 1077.7h2.8v2.8h-2.8zM981.5 1074.1h2.8v2.8h-2.8zM970.7 989.5h2.8v2.8h-2.8zM955.4 981.2h2.8v2.8h-2.8zM957.1 976.2h2.8v2.8h-2.8zM947.2 971.6h2.8v2.8h-2.8zM961.9 983.4h2.8v2.8h-2.8zM971.7 979.0h2.8v2.8h-2.8zM944.0 985.4h2.8v2.8h-2.8zM941.2 983.1h2.8v2.8h-2.8zM976.4 984.4h2.8v2.8h-2.8zM949.0 972.7h2.8v2.8h-2.8zM959.6 991.1h2.8v2.8h-2.8zM942.0 986.8h2.8v2.8h-2.8zM943.3 983.9h2.8v2.8h-2.8zM972.6 980.0h2.8v2.8h-2.8zM951.5 983.5h2.8v2.8h-2.8zM959.1 971.7h2.8v2.8h-2.8zM943.3 984.4h2.8v2.8h-2.8zM959.0 990.5h2.8v2.8h-2.8zM968.5 982.7h2.8v2.8h-2.8zM972.1 990.3h2.8v2.8h-2.8zM961.1 980.4h2.8v2.8h-2.8zM956.2 985.3h2.8v2.8h-2.8zM968.2 996.4h2.8v2.8h-2.8zM958.7 985.8h2.8v2.8h-2.8zM941.4 993.8h2.8v2.8h-2.8zM953.6 988.6h2.8v2.8h-2.8zM966.8 986.5h2.8v2.8h-2.8zM955.7 990.5h2.8v2.8h-2.8zM946.6 984.3h2.8v2.8h-2.8zM960.2 979.3h2.8v2.8h-2.8zM949.7 985.4h2.8v2.8h-2.8zM946.2 975.7h2.8v2.8h-2.8zM942.8 990.4h2.8v2.8h-2.8zM956.6 986.9h2.8v2.8h-2.8zM953.0 986.0h2.8v2.8h-2.8zM948.4 980.4h2.8v2.8h-2.8zM964.2 989.3h2.8v2.8h-2.8zM951.7 999.7h2.8v2.8h-2.8zM971.4 995.9h2.8v2.8h-2.8zM945.6 972.0h2.8v2.8h-2.8zM960.8 978.5h2.8v2.8h-2.8zM966.1 984.0h2.8v2.8h-2.8zM959.4 988.2h2.8v2.8h-2.8zM958.6 985.8h2.8v2.8h-2.8zM944.8 981.7h2.8v2.8h-2.8zM956.0 989.3h2.8v2.8h-2.8zM948.1 995.6h2.8v2.8h-2.8zM970.5 981.0h2.8v2.8h-2.8zM941.3 983.4h2.8v2.8h-2.8zM962.2 1007.0h2.8v2.8h-2.8zM956.0 989.7h2.8v2.8h-2.8zM959.0 980.2h2.8v2.8h-2.8zM969.4 985.7h2.8v2.8h-2.8zM951.3 985.2h2.8v2.8h-2.8zM958.4 979.6h2.8v2.8h-2.8zM956.4 982.0h2.8v2.8h-2.8zM959.5 989.0h2.8v2.8h-2.8zM958.4 979.1h2.8v2.8h-2.8zM973.4 989.8h2.8v2.8h-2.8zM958.0 991.5h2.8v2.8h-2.8zM954.0 984.4h2.8v2.8h-2.8zM951.7 969.4h2.8v2.8h-2.8zM959.0 981.0h2.8v2.8h-2.8zM942.2 993.6h2.8v2.8h-2.8zM965.8 975.3h2.8v2.8h-2.8zM959.0 997.5h2.8v2.8h-2.8zM965.9 982.1h2.8v2.8h-2.8zM943.3 989.6h2.8v2.8h-2.8zM959.5 984.9h2.8v2.8h-2.8zM960.2 983.5h2.8v2.8h-2.8zM956.9 995.4h2.8v2.8h-2.8zM944.0 994.8h2.8v2.8h-2.8zM955.7 985.1h2.8v2.8h-2.8zM963.1 998.7h2.8v2.8h-2.8zM963.6 986.9h2.8v2.8h-2.8zM951.1 987.4h2.8v2.8h-2.8zM948.2 987.5h2.8v2.8h-2.8zM954.3 988.4h2.8v2.8h-2.8zM959.4 984.7h2.8v2.8h-2.8zM971.3 990.9h2.8v2.8h-2.8zM943.9 992.3h2.8v2.8h-2.8zM947.8 995.6h2.8v2.8h-2.8zM942.5 975.0h2.8v2.8h-2.8zM960.9 991.3h2.8v2.8h-2.8zM965.0 981.8h2.8v2.8h-2.8zM951.7 981.2h2.8v2.8h-2.8zM952.6 991.9h2.8v2.8h-2.8zM954.4 979.6h2.8v2.8h-2.8zM963.3 987.4h2.8v2.8h-2.8zM949.5 986.6h2.8v2.8h-2.8z"/>
<g transform="translate(1127.5,766)" clip-path="url(#bclip)"><path d="M135.7,78.3 C136.6,71.4 139.1,70.0 141.0,68.0 C142.9,66.0 147.2,63.7 149.7,63.0 C152.2,62.3 157.8,62.0 160.0,62.4 C162.2,62.8 164.0,64.2 166.0,66.0 C168.0,67.8 171.3,71.9 175.2,75.7 C179.1,79.5 190.5,89.4 195.6,94.8 C200.7,100.2 210.7,112.1 213.5,116.5 C216.3,120.9 216.7,124.6 216.5,128.0 C216.3,131.4 213.5,138.8 212.0,142.0 C210.5,145.2 206.2,147.5 205.0,152.0 C203.8,156.5 204.7,171.3 203.0,176.0 C201.3,180.7 196.4,185.1 192.0,187.0 C187.6,188.9 175.9,190.0 170.0,190.0 C164.1,190.0 152.3,188.9 148.0,187.0 C143.7,185.1 139.7,179.6 138.0,176.0 C136.3,172.4 136.0,167.5 135.5,160.0 C135.0,152.5 134.5,130.9 134.5,120.0 C134.5,109.1 134.8,85.2 135.7,78.3 Z" fill="#e0cd26" fill-opacity="0.42"/><path d="M105.5,196.0 C106.0,189.7 106.9,185.5 109.0,181.0 C111.1,176.5 114.2,171.9 118.0,169.0 C121.8,166.1 125.5,164.8 132.0,163.5 C138.5,162.2 147.0,161.8 157.0,161.5 C167.0,161.2 182.8,160.8 192.0,161.5 C201.2,162.2 207.3,163.6 212.0,166.0 C216.7,168.4 219.2,172.5 220.0,176.0 C220.8,179.5 219.7,183.7 217.0,187.0 C214.3,190.3 209.7,192.9 204.0,195.6 C198.3,198.3 190.1,200.1 182.8,203.3 C175.5,206.5 167.1,210.2 160.0,215.0 C152.9,219.8 146.0,227.5 140.0,232.0 C134.0,236.5 128.6,241.3 124.0,242.0 C119.5,242.7 115.7,240.3 112.7,236.4 C109.8,232.5 107.5,225.3 106.3,218.6 C105.1,211.9 105.0,202.3 105.5,196.0 Z" fill="#f82626" fill-opacity="0.42"/><path d="M201.0,174.0 C202.8,170.7 207.2,167.8 212.0,166.0 C216.8,164.2 223.7,163.6 230.0,163.0 C236.3,162.4 244.3,162.2 250.0,162.5 C255.7,162.8 260.3,162.9 264.0,164.5 C267.7,166.1 270.2,168.9 272.0,172.0 C273.8,175.1 275.2,178.7 275.0,183.0 C274.8,187.3 272.8,193.2 271.0,198.0 C269.2,202.8 267.2,207.9 264.0,211.6 C260.8,215.3 255.8,218.1 252.0,220.0 C248.2,221.9 244.7,224.0 241.0,223.0 C237.3,222.0 233.5,217.0 230.0,214.0 C226.5,211.0 223.8,207.8 220.0,205.0 C216.2,202.2 210.2,200.2 207.0,197.0 C203.8,193.8 202.0,189.8 201.0,186.0 C200.0,182.2 199.2,177.3 201.0,174.0 Z" fill="#e9db0e" fill-opacity="0.42"/><path d="M237.8,130.4 C240.8,128.9 243.0,128.8 246.0,128.9 C249.0,129.0 252.9,129.7 256.0,131.0 C259.1,132.3 263.0,133.7 264.3,136.5 C265.6,139.3 265.0,143.4 264.0,148.0 C263.0,152.6 260.4,158.3 258.2,164.1 C256.0,169.9 253.4,176.7 251.0,183.0 C248.6,189.3 246.4,197.3 243.9,201.8 C241.4,206.3 238.4,208.3 236.0,210.0 C233.6,211.7 232.1,211.8 229.5,212.0 C226.9,212.2 224.2,212.0 220.5,211.0 C216.8,210.0 210.2,207.5 207.0,206.0 C203.8,204.5 202.9,204.2 201.1,201.8 C199.3,199.4 196.5,195.8 196.0,191.6 C195.5,187.3 195.6,181.4 198.0,176.3 C200.4,171.2 206.7,165.2 210.3,161.0 C213.9,156.8 216.5,154.6 219.4,150.8 C222.3,147.0 224.9,141.4 228.0,138.0 C231.1,134.6 234.8,131.9 237.8,130.4 Z" fill="#009da2" fill-opacity="0.42"/><rect x="43.0" y="227.0" width="100" height="24" rx="12.0" transform="rotate(-74 93 239)" fill="#006e72" fill-opacity="0.42"/><ellipse cx="105" cy="273" rx="10" ry="13" transform="rotate(20 105 273)" fill="#ba2a2a" fill-opacity="0.45"/><path d="M103.1,228.9 C107.0,224.8 113.3,221.7 118.4,220.7 C123.5,219.7 130.8,221.6 133.7,222.8 C136.6,224.0 136.5,223.3 135.8,227.9 C135.1,232.5 131.7,243.2 129.6,250.3 C127.5,257.4 125.9,265.4 123.5,270.7 C121.1,276.0 118.8,279.3 115.4,282.0 C112.0,284.7 106.5,286.3 103.1,287.1 C99.7,287.9 97.4,288.1 95.0,286.6 C92.6,285.1 89.8,282.1 88.8,277.9 C87.8,273.7 88.3,267.1 89.3,261.6 C90.3,256.2 92.6,250.6 94.9,245.2 C97.2,239.8 99.2,233.0 103.1,228.9 Z" fill="#ba2a2a" fill-opacity="0.45"/><path d="M119.0,222.0 C120.5,217.6 124.5,218.7 127.0,218.5 C129.5,218.3 132.9,217.4 134.0,221.0 C135.1,224.6 134.0,234.2 133.5,240.0 C133.0,245.8 132.2,252.2 131.0,256.0 C129.8,259.8 127.8,262.3 126.0,263.0 C124.2,263.7 121.3,263.0 120.0,260.0 C118.7,257.0 118.2,251.3 118.0,245.0 C117.8,238.7 117.5,226.4 119.0,222.0 Z" fill="#a40000" fill-opacity="0.38"/><ellipse cx="141" cy="248" rx="15" ry="27" transform="rotate(10 141 248)" fill="#ad3d3d" fill-opacity="0.4"/><ellipse cx="131" cy="257" rx="16" ry="26" transform="rotate(10 131 257)" fill="#f5ba1f" fill-opacity="0.42"/><rect x="155.5" y="186.5" width="45" height="13" rx="6.5" transform="rotate(25 178 193)" fill="#64bedf" fill-opacity="0.3"/><ellipse cx="171" cy="218" rx="23" ry="17" transform="rotate(15 171 218)" fill="#d21fd2" fill-opacity="0.42"/><ellipse cx="154" cy="238" rx="42" ry="21" transform="rotate(-60 154 238)" fill="#2626ee" fill-opacity="0.42"/><ellipse cx="180" cy="236" rx="32" ry="20" transform="rotate(-65 180 236)" fill="#de674f" fill-opacity="0.42"/><ellipse cx="190.5" cy="244" rx="22.5" ry="18.5" transform="rotate(-30 190.5 244)" fill="#0e8513" fill-opacity="0.42"/><ellipse cx="209" cy="220" rx="25" ry="14" transform="rotate(33 209 220)" fill="#6b6b6b" fill-opacity="0.5"/></g>
<path fill="#1c1c1c" d="M1382.3 1005.4h2.8v2.8h-2.8zM1402.6 1019.7h2.8v2.8h-2.8zM1379.4 972.1h2.8v2.8h-2.8zM1371.0 1003.8h2.8v2.8h-2.8zM1368.8 1010.2h2.8v2.8h-2.8zM1381.6 974.6h2.8v2.8h-2.8zM1373.7 994.3h2.8v2.8h-2.8zM1398.5 1022.9h2.8v2.8h-2.8zM1358.5 995.7h2.8v2.8h-2.8zM1425.4 991.0h2.8v2.8h-2.8zM1386.4 968.5h2.8v2.8h-2.8zM1363.8 975.9h2.8v2.8h-2.8zM1412.9 1027.0h2.8v2.8h-2.8zM1435.7 1017.7h2.8v2.8h-2.8zM1393.6 992.7h2.8v2.8h-2.8zM1378.2 990.0h2.8v2.8h-2.8zM1374.3 1014.4h2.8v2.8h-2.8zM1403.5 1023.2h2.8v2.8h-2.8zM1390.2 972.5h2.8v2.8h-2.8zM1397.6 1000.4h2.8v2.8h-2.8zM1395.5 1006.9h2.8v2.8h-2.8zM1396.6 1009.7h2.8v2.8h-2.8zM1367.1 1001.8h2.8v2.8h-2.8zM1408.4 997.8h2.8v2.8h-2.8zM1399.2 1001.8h2.8v2.8h-2.8zM1384.6 1013.4h2.8v2.8h-2.8zM1362.7 1010.1h2.8v2.8h-2.8zM1385.7 1023.0h2.8v2.8h-2.8zM1380.9 1026.6h2.8v2.8h-2.8zM1380.9 988.0h2.8v2.8h-2.8zM1417.2 981.0h2.8v2.8h-2.8zM1375.7 994.5h2.8v2.8h-2.8zM1396.9 1010.3h2.8v2.8h-2.8zM1361.0 995.8h2.8v2.8h-2.8zM1345.4 1005.4h2.8v2.8h-2.8zM1393.8 1019.8h2.8v2.8h-2.8zM1383.8 1027.2h2.8v2.8h-2.8zM1405.9 1014.9h2.8v2.8h-2.8zM1389.5 957.6h2.8v2.8h-2.8zM1372.4 1005.8h2.8v2.8h-2.8zM1381.7 1064.7h2.8v2.8h-2.8zM1393.1 1022.4h2.8v2.8h-2.8zM1398.0 987.7h2.8v2.8h-2.8zM1414.2 1013.1h2.8v2.8h-2.8zM1369.9 1027.3h2.8v2.8h-2.8zM1383.9 1007.7h2.8v2.8h-2.8zM1381.0 959.5h2.8v2.8h-2.8zM1387.9 1036.4h2.8v2.8h-2.8zM1413.2 994.1h2.8v2.8h-2.8zM1361.9 1004.8h2.8v2.8h-2.8zM1420.7 945.6h2.8v2.8h-2.8zM1375.5 985.6h2.8v2.8h-2.8zM1398.4 1039.4h2.8v2.8h-2.8zM1373.5 1030.3h2.8v2.8h-2.8zM1382.4 1045.8h2.8v2.8h-2.8zM1388.9 1012.3h2.8v2.8h-2.8zM1343.4 984.6h2.8v2.8h-2.8zM1379.8 990.3h2.8v2.8h-2.8zM1369.7 948.3h2.8v2.8h-2.8zM1377.0 970.0h2.8v2.8h-2.8zM1341.5 1001.8h2.8v2.8h-2.8zM1356.4 982.9h2.8v2.8h-2.8zM1381.4 1007.1h2.8v2.8h-2.8zM1393.7 1047.4h2.8v2.8h-2.8zM1347.3 962.6h2.8v2.8h-2.8zM1378.9 1025.3h2.8v2.8h-2.8zM1390.7 977.0h2.8v2.8h-2.8zM1349.8 1010.4h2.8v2.8h-2.8zM1385.2 996.4h2.8v2.8h-2.8zM1404.3 1010.8h2.8v2.8h-2.8zM1386.6 1006.1h2.8v2.8h-2.8zM1376.8 970.4h2.8v2.8h-2.8zM1424.6 960.7h2.8v2.8h-2.8zM1401.3 1005.6h2.8v2.8h-2.8zM1383.1 1046.0h2.8v2.8h-2.8zM1353.7 1028.6h2.8v2.8h-2.8zM1408.0 1006.7h2.8v2.8h-2.8zM1389.4 969.0h2.8v2.8h-2.8zM1360.0 957.7h2.8v2.8h-2.8zM1402.2 1001.8h2.8v2.8h-2.8zM1375.0 988.8h2.8v2.8h-2.8zM1380.2 990.2h2.8v2.8h-2.8zM1369.8 1027.8h2.8v2.8h-2.8zM1393.2 978.0h2.8v2.8h-2.8zM1387.1 1027.7h2.8v2.8h-2.8zM1386.2 1000.7h2.8v2.8h-2.8zM1401.5 933.2h2.8v2.8h-2.8zM1382.9 1017.2h2.8v2.8h-2.8zM1397.4 995.5h2.8v2.8h-2.8zM1388.7 1007.5h2.8v2.8h-2.8zM1380.3 1023.8h2.8v2.8h-2.8zM1371.1 997.4h2.8v2.8h-2.8zM1399.6 1015.9h2.8v2.8h-2.8zM1384.8 1035.4h2.8v2.8h-2.8zM1360.2 1011.5h2.8v2.8h-2.8zM1384.2 1026.8h2.8v2.8h-2.8zM1396.8 1004.1h2.8v2.8h-2.8zM1404.8 954.9h2.8v2.8h-2.8zM1390.9 1049.0h2.8v2.8h-2.8zM1382.1 1003.3h2.8v2.8h-2.8zM1380.6 991.0h2.8v2.8h-2.8zM1354.4 1018.6h2.8v2.8h-2.8zM1369.2 1006.0h2.8v2.8h-2.8zM1350.4 984.6h2.8v2.8h-2.8zM1388.9 993.2h2.8v2.8h-2.8zM1373.3 1008.6h2.8v2.8h-2.8zM1412.8 979.0h2.8v2.8h-2.8zM1359.7 1021.3h2.8v2.8h-2.8zM1349.1 1049.3h2.8v2.8h-2.8zM1368.2 1002.9h2.8v2.8h-2.8zM1382.5 969.1h2.8v2.8h-2.8zM1354.5 1010.6h2.8v2.8h-2.8zM1395.8 958.1h2.8v2.8h-2.8zM1391.1 1037.2h2.8v2.8h-2.8zM1374.5 963.2h2.8v2.8h-2.8zM1388.5 985.1h2.8v2.8h-2.8zM1384.2 989.8h2.8v2.8h-2.8zM1351.0 975.2h2.8v2.8h-2.8zM1366.9 949.8h2.8v2.8h-2.8zM1409.6 1027.0h2.8v2.8h-2.8zM1360.5 970.4h2.8v2.8h-2.8zM1377.1 978.0h2.8v2.8h-2.8zM1373.1 983.9h2.8v2.8h-2.8zM1386.8 1021.9h2.8v2.8h-2.8zM1315.8 979.3h2.8v2.8h-2.8zM1380.7 958.1h2.8v2.8h-2.8zM1369.6 979.0h2.8v2.8h-2.8zM1389.1 1016.1h2.8v2.8h-2.8zM1404.3 969.9h2.8v2.8h-2.8zM1395.4 997.6h2.8v2.8h-2.8zM1401.1 1003.4h2.8v2.8h-2.8zM1391.8 1003.9h2.8v2.8h-2.8zM1383.6 1027.3h2.8v2.8h-2.8zM1401.0 1048.9h2.8v2.8h-2.8zM1374.9 998.2h2.8v2.8h-2.8zM1385.4 996.5h2.8v2.8h-2.8zM1381.4 993.1h2.8v2.8h-2.8zM1417.7 1031.3h2.8v2.8h-2.8zM1376.4 1028.4h2.8v2.8h-2.8zM1393.7 997.5h2.8v2.8h-2.8zM1361.3 997.7h2.8v2.8h-2.8zM1366.6 998.2h2.8v2.8h-2.8zM1383.5 996.5h2.8v2.8h-2.8zM1356.0 989.1h2.8v2.8h-2.8zM1384.5 958.1h2.8v2.8h-2.8zM1396.6 1018.5h2.8v2.8h-2.8zM1374.6 956.9h2.8v2.8h-2.8zM1385.3 999.8h2.8v2.8h-2.8zM1405.5 982.5h2.8v2.8h-2.8zM1399.2 1007.9h2.8v2.8h-2.8zM1374.5 1040.9h2.8v2.8h-2.8zM1382.1 992.7h2.8v2.8h-2.8zM1360.9 999.5h2.8v2.8h-2.8zM1380.0 1003.9h2.8v2.8h-2.8zM1385.3 986.7h2.8v2.8h-2.8zM1379.4 975.8h2.8v2.8h-2.8zM1354.8 968.1h2.8v2.8h-2.8zM1357.7 989.7h2.8v2.8h-2.8zM1388.2 945.3h2.8v2.8h-2.8zM1377.5 1026.0h2.8v2.8h-2.8zM1370.0 995.5h2.8v2.8h-2.8zM1392.8 1030.6h2.8v2.8h-2.8zM1390.9 1015.4h2.8v2.8h-2.8zM1405.0 1014.7h2.8v2.8h-2.8zM1348.0 1014.4h2.8v2.8h-2.8zM1362.8 1046.6h2.8v2.8h-2.8zM1401.4 1004.0h2.8v2.8h-2.8zM1391.0 1013.2h2.8v2.8h-2.8zM1368.8 1020.5h2.8v2.8h-2.8zM1390.0 942.9h2.8v2.8h-2.8zM1398.7 1027.1h2.8v2.8h-2.8zM1358.6 1015.2h2.8v2.8h-2.8zM1370.7 1005.4h2.8v2.8h-2.8zM1388.9 1009.0h2.8v2.8h-2.8zM1381.4 969.0h2.8v2.8h-2.8zM1366.9 978.3h2.8v2.8h-2.8zM1392.1 988.2h2.8v2.8h-2.8zM1355.5 954.4h2.8v2.8h-2.8zM1413.6 1010.0h2.8v2.8h-2.8zM1391.4 975.3h2.8v2.8h-2.8zM1398.9 994.0h2.8v2.8h-2.8zM1376.6 959.3h2.8v2.8h-2.8zM1365.6 932.6h2.8v2.8h-2.8zM1336.6 979.8h2.8v2.8h-2.8zM1396.5 983.4h2.8v2.8h-2.8zM1362.2 993.9h2.8v2.8h-2.8zM1374.1 1002.3h2.8v2.8h-2.8zM1393.3 973.9h2.8v2.8h-2.8zM1405.6 1004.4h2.8v2.8h-2.8zM1401.1 1025.9h2.8v2.8h-2.8zM1368.6 1006.7h2.8v2.8h-2.8zM1372.0 1015.0h2.8v2.8h-2.8zM1417.5 1003.7h2.8v2.8h-2.8zM1384.2 1012.9h2.8v2.8h-2.8zM1358.7 942.0h2.8v2.8h-2.8zM1341.1 968.8h2.8v2.8h-2.8zM1412.1 972.2h2.8v2.8h-2.8zM1376.8 1005.3h2.8v2.8h-2.8zM1387.1 1004.6h2.8v2.8h-2.8zM1400.7 1026.8h2.8v2.8h-2.8zM1375.8 1018.6h2.8v2.8h-2.8zM1400.4 1002.9h2.8v2.8h-2.8zM1360.9 980.1h2.8v2.8h-2.8zM1354.9 970.8h2.8v2.8h-2.8zM1356.9 1014.3h2.8v2.8h-2.8zM1373.5 955.2h2.8v2.8h-2.8zM1398.5 1029.0h2.8v2.8h-2.8zM1393.7 1014.6h2.8v2.8h-2.8zM1382.9 989.8h2.8v2.8h-2.8zM1388.0 1008.0h2.8v2.8h-2.8zM1409.3 1005.6h2.8v2.8h-2.8zM1384.2 993.2h2.8v2.8h-2.8zM1377.5 942.6h2.8v2.8h-2.8zM1404.4 979.6h2.8v2.8h-2.8zM1348.8 1014.9h2.8v2.8h-2.8zM1332.7 975.0h2.8v2.8h-2.8zM1406.9 963.7h2.8v2.8h-2.8zM1379.1 1034.7h2.8v2.8h-2.8zM1398.1 1031.9h2.8v2.8h-2.8zM1411.3 1000.4h2.8v2.8h-2.8zM1426.0 1013.2h2.8v2.8h-2.8zM1396.1 994.5h2.8v2.8h-2.8zM1415.1 998.0h2.8v2.8h-2.8zM1383.5 970.1h2.8v2.8h-2.8zM1388.4 988.9h2.8v2.8h-2.8zM1361.5 967.6h2.8v2.8h-2.8zM1415.0 988.0h2.8v2.8h-2.8zM1367.8 984.4h2.8v2.8h-2.8zM1366.0 1009.1h2.8v2.8h-2.8zM1407.7 944.3h2.8v2.8h-2.8zM1366.7 988.6h2.8v2.8h-2.8zM1348.7 1036.6h2.8v2.8h-2.8zM1355.8 1002.3h2.8v2.8h-2.8zM1377.0 1009.1h2.8v2.8h-2.8zM1413.8 1001.7h2.8v2.8h-2.8zM1352.9 1053.5h2.8v2.8h-2.8zM1391.6 1014.3h2.8v2.8h-2.8zM1372.1 1018.0h2.8v2.8h-2.8zM1360.8 979.8h2.8v2.8h-2.8zM1404.2 1030.4h2.8v2.8h-2.8zM1377.3 967.1h2.8v2.8h-2.8zM1342.2 1023.5h2.8v2.8h-2.8zM1338.2 1009.0h2.8v2.8h-2.8zM1395.1 1029.3h2.8v2.8h-2.8zM1399.1 1008.9h2.8v2.8h-2.8zM1402.7 972.5h2.8v2.8h-2.8zM1402.5 1015.7h2.8v2.8h-2.8zM1349.3 998.6h2.8v2.8h-2.8zM1418.7 1007.4h2.8v2.8h-2.8zM1393.6 978.4h2.8v2.8h-2.8zM1365.8 1016.4h2.8v2.8h-2.8zM1377.8 957.0h2.8v2.8h-2.8zM1345.9 995.0h2.8v2.8h-2.8zM1376.7 963.6h2.8v2.8h-2.8zM1385.3 973.7h2.8v2.8h-2.8zM1403.8 1029.3h2.8v2.8h-2.8zM1418.8 1027.9h2.8v2.8h-2.8zM1388.9 999.1h2.8v2.8h-2.8zM1373.8 1064.5h2.8v2.8h-2.8zM1385.4 1043.2h2.8v2.8h-2.8zM1375.4 997.2h2.8v2.8h-2.8zM1395.7 1024.6h2.8v2.8h-2.8zM1394.3 1030.3h2.8v2.8h-2.8zM1374.9 1006.2h2.8v2.8h-2.8zM1358.5 980.9h2.8v2.8h-2.8zM1383.7 998.3h2.8v2.8h-2.8zM1379.7 1011.6h2.8v2.8h-2.8zM1383.8 969.1h2.8v2.8h-2.8zM1374.0 1006.2h2.8v2.8h-2.8zM1361.2 1015.6h2.8v2.8h-2.8zM1410.6 1010.1h2.8v2.8h-2.8zM1361.8 1020.9h2.8v2.8h-2.8zM1391.3 1013.1h2.8v2.8h-2.8zM1405.6 1014.6h2.8v2.8h-2.8zM1394.5 990.0h2.8v2.8h-2.8zM1386.9 1009.0h2.8v2.8h-2.8zM1407.7 991.0h2.8v2.8h-2.8zM1419.9 998.4h2.8v2.8h-2.8zM1412.8 1020.0h2.8v2.8h-2.8zM1389.6 1015.1h2.8v2.8h-2.8zM1405.7 1006.2h2.8v2.8h-2.8zM1383.5 967.7h2.8v2.8h-2.8zM1395.2 1027.4h2.8v2.8h-2.8zM1356.1 970.8h2.8v2.8h-2.8zM1378.0 961.6h2.8v2.8h-2.8zM1400.5 1039.7h2.8v2.8h-2.8zM1402.8 1028.4h2.8v2.8h-2.8zM1361.5 999.5h2.8v2.8h-2.8zM1361.0 1002.1h2.8v2.8h-2.8zM1359.2 1022.1h2.8v2.8h-2.8zM1371.2 982.4h2.8v2.8h-2.8zM1319.9 1021.4h2.8v2.8h-2.8zM1258.6 1075.7h2.8v2.8h-2.8zM1377.4 1015.3h2.8v2.8h-2.8zM1365.8 1014.8h2.8v2.8h-2.8zM1379.3 1022.6h2.8v2.8h-2.8zM1358.7 1057.3h2.8v2.8h-2.8zM1303.5 1040.9h2.8v2.8h-2.8zM1247.3 1051.7h2.8v2.8h-2.8zM1382.8 1031.0h2.8v2.8h-2.8zM1287.4 1064.7h2.8v2.8h-2.8zM1358.9 1064.8h2.8v2.8h-2.8zM1377.6 1029.6h2.8v2.8h-2.8zM1377.2 1023.5h2.8v2.8h-2.8zM1313.1 1070.6h2.8v2.8h-2.8zM1361.2 1035.0h2.8v2.8h-2.8zM1305.5 1035.1h2.8v2.8h-2.8zM1256.6 1063.6h2.8v2.8h-2.8zM1363.4 1043.8h2.8v2.8h-2.8zM1371.8 1020.2h2.8v2.8h-2.8zM1267.5 1055.0h2.8v2.8h-2.8zM1333.0 1074.9h2.8v2.8h-2.8zM1331.9 1069.1h2.8v2.8h-2.8zM1362.4 1026.0h2.8v2.8h-2.8zM1261.6 1045.7h2.8v2.8h-2.8zM1363.8 1068.4h2.8v2.8h-2.8zM1324.0 1056.7h2.8v2.8h-2.8zM1379.4 1031.8h2.8v2.8h-2.8zM1347.1 1084.5h2.8v2.8h-2.8zM1358.5 1059.4h2.8v2.8h-2.8zM1342.5 1025.8h2.8v2.8h-2.8zM1301.3 1042.8h2.8v2.8h-2.8zM1343.1 1083.3h2.8v2.8h-2.8zM1262.9 1016.8h2.8v2.8h-2.8zM1294.7 1082.4h2.8v2.8h-2.8zM1363.2 1059.6h2.8v2.8h-2.8zM1376.7 1077.7h2.8v2.8h-2.8zM1363.8 1034.7h2.8v2.8h-2.8zM1315.4 1037.9h2.8v2.8h-2.8zM1364.8 1051.5h2.8v2.8h-2.8zM1320.9 1073.2h2.8v2.8h-2.8zM1344.6 1049.0h2.8v2.8h-2.8zM1289.8 1072.8h2.8v2.8h-2.8zM1287.1 1075.0h2.8v2.8h-2.8zM1312.7 1039.1h2.8v2.8h-2.8zM1318.6 1022.6h2.8v2.8h-2.8zM1376.1 1035.0h2.8v2.8h-2.8zM1331.5 1017.6h2.8v2.8h-2.8zM1369.4 1011.6h2.8v2.8h-2.8zM1326.4 1019.2h2.8v2.8h-2.8zM1385.5 1050.9h2.8v2.8h-2.8zM1302.2 1044.1h2.8v2.8h-2.8zM1315.7 1019.4h2.8v2.8h-2.8zM1255.4 1071.5h2.8v2.8h-2.8zM1336.7 1019.2h2.8v2.8h-2.8zM1376.1 1014.6h2.8v2.8h-2.8zM1379.0 1057.7h2.8v2.8h-2.8zM1317.5 1057.9h2.8v2.8h-2.8zM1281.8 1057.0h2.8v2.8h-2.8zM1282.8 1077.9h2.8v2.8h-2.8zM1313.1 1037.3h2.8v2.8h-2.8zM1364.3 1018.5h2.8v2.8h-2.8zM1283.0 1064.8h2.8v2.8h-2.8zM1334.5 1021.0h2.8v2.8h-2.8zM1269.4 1082.5h2.8v2.8h-2.8zM1344.1 1061.1h2.8v2.8h-2.8zM1337.9 1067.6h2.8v2.8h-2.8zM1375.4 1056.3h2.8v2.8h-2.8zM1312.5 1033.4h2.8v2.8h-2.8zM1239.4 1050.9h2.8v2.8h-2.8zM1358.2 1080.2h2.8v2.8h-2.8zM1339.9 1061.1h2.8v2.8h-2.8zM1280.9 1082.1h2.8v2.8h-2.8zM1320.1 1014.9h2.8v2.8h-2.8zM1265.5 1035.5h2.8v2.8h-2.8zM1356.8 1067.1h2.8v2.8h-2.8zM1384.1 1052.6h2.8v2.8h-2.8zM1295.5 1015.0h2.8v2.8h-2.8zM1238.0 1067.3h2.8v2.8h-2.8zM1296.7 1025.5h2.8v2.8h-2.8zM1336.1 1026.2h2.8v2.8h-2.8zM1331.1 1068.0h2.8v2.8h-2.8zM1368.6 1010.5h2.8v2.8h-2.8zM1378.7 1029.5h2.8v2.8h-2.8zM1267.4 1082.8h2.8v2.8h-2.8zM1373.3 1041.5h2.8v2.8h-2.8zM1309.6 1063.9h2.8v2.8h-2.8zM1258.9 1075.1h2.8v2.8h-2.8zM1252.5 1053.6h2.8v2.8h-2.8zM1277.7 1047.8h2.8v2.8h-2.8zM1260.5 1073.3h2.8v2.8h-2.8zM1284.9 1027.7h2.8v2.8h-2.8zM1269.7 1029.2h2.8v2.8h-2.8zM1363.7 1079.8h2.8v2.8h-2.8zM1372.9 1044.2h2.8v2.8h-2.8zM1350.8 1047.2h2.8v2.8h-2.8zM1310.2 1062.6h2.8v2.8h-2.8zM1254.5 1013.7h2.8v2.8h-2.8zM1350.0 1081.9h2.8v2.8h-2.8zM1323.0 1018.6h2.8v2.8h-2.8zM1243.0 1029.3h2.8v2.8h-2.8zM1357.2 1034.9h2.8v2.8h-2.8zM1245.9 1038.1h2.8v2.8h-2.8zM1368.6 1036.3h2.8v2.8h-2.8zM1356.4 1022.5h2.8v2.8h-2.8zM1349.0 1062.4h2.8v2.8h-2.8zM1334.8 1069.6h2.8v2.8h-2.8zM1370.7 1039.4h2.8v2.8h-2.8zM1362.2 1065.0h2.8v2.8h-2.8zM1303.0 1039.6h2.8v2.8h-2.8zM1322.9 1036.6h2.8v2.8h-2.8zM1250.8 1078.9h2.8v2.8h-2.8zM1271.5 1058.2h2.8v2.8h-2.8zM1306.5 1038.3h2.8v2.8h-2.8zM1273.3 1072.7h2.8v2.8h-2.8zM1300.7 1079.6h2.8v2.8h-2.8zM1327.6 1076.4h2.8v2.8h-2.8zM1243.6 1036.6h2.8v2.8h-2.8zM1324.4 1055.7h2.8v2.8h-2.8zM1263.1 1079.1h2.8v2.8h-2.8zM1288.5 1073.0h2.8v2.8h-2.8zM1322.6 1030.3h2.8v2.8h-2.8zM1292.1 1041.4h2.8v2.8h-2.8zM1273.0 1046.7h2.8v2.8h-2.8zM1288.1 1060.1h2.8v2.8h-2.8zM1342.2 1028.1h2.8v2.8h-2.8zM1272.3 1018.7h2.8v2.8h-2.8zM1330.7 1067.1h2.8v2.8h-2.8zM1339.4 1032.4h2.8v2.8h-2.8zM1257.7 1020.9h2.8v2.8h-2.8zM1370.1 1042.4h2.8v2.8h-2.8zM1305.2 1015.8h2.8v2.8h-2.8zM1238.9 1061.6h2.8v2.8h-2.8zM1305.3 1032.4h2.8v2.8h-2.8zM1350.9 1080.3h2.8v2.8h-2.8zM1348.8 1044.7h2.8v2.8h-2.8zM1369.5 1048.6h2.8v2.8h-2.8zM1340.8 1023.1h2.8v2.8h-2.8zM1368.5 1047.1h2.8v2.8h-2.8zM1317.8 1043.2h2.8v2.8h-2.8zM1301.2 1014.1h2.8v2.8h-2.8zM1311.2 1040.0h2.8v2.8h-2.8zM1269.1 1036.8h2.8v2.8h-2.8zM1243.6 1059.8h2.8v2.8h-2.8zM1337.2 1053.6h2.8v2.8h-2.8zM1327.2 1023.0h2.8v2.8h-2.8zM1319.6 1011.4h2.8v2.8h-2.8zM1247.1 1038.2h2.8v2.8h-2.8zM1301.5 1047.1h2.8v2.8h-2.8zM1332.4 1032.2h2.8v2.8h-2.8zM1358.0 1025.4h2.8v2.8h-2.8zM1269.4 1070.0h2.8v2.8h-2.8zM1249.6 1019.1h2.8v2.8h-2.8zM1329.1 1016.4h2.8v2.8h-2.8zM1275.8 1050.5h2.8v2.8h-2.8zM1347.4 1047.9h2.8v2.8h-2.8zM1309.0 1068.4h2.8v2.8h-2.8zM1377.8 1016.2h2.8v2.8h-2.8zM1238.8 1064.7h2.8v2.8h-2.8zM1254.4 1077.0h2.8v2.8h-2.8zM1252.9 1081.4h2.8v2.8h-2.8zM1247.2 1048.3h2.8v2.8h-2.8zM1368.9 1027.3h2.8v2.8h-2.8zM1345.6 1071.8h2.8v2.8h-2.8zM1347.7 1079.0h2.8v2.8h-2.8zM1307.3 1056.8h2.8v2.8h-2.8zM1318.6 1047.7h2.8v2.8h-2.8zM1349.4 1032.8h2.8v2.8h-2.8zM1322.9 1068.1h2.8v2.8h-2.8zM1301.7 1064.6h2.8v2.8h-2.8zM1384.7 1065.8h2.8v2.8h-2.8zM1361.1 1068.0h2.8v2.8h-2.8zM1307.7 1028.4h2.8v2.8h-2.8zM1376.8 1041.3h2.8v2.8h-2.8zM1270.4 1085.3h2.8v2.8h-2.8zM1331.1 1049.6h2.8v2.8h-2.8zM1367.7 1014.1h2.8v2.8h-2.8zM1296.1 1049.6h2.8v2.8h-2.8zM1269.8 1083.1h2.8v2.8h-2.8zM1320.9 1011.8h2.8v2.8h-2.8zM1347.4 1027.4h2.8v2.8h-2.8zM1253.6 1055.0h2.8v2.8h-2.8zM1305.4 1011.7h2.8v2.8h-2.8zM1249.8 1062.4h2.8v2.8h-2.8zM1265.9 1075.4h2.8v2.8h-2.8zM1353.3 1016.6h2.8v2.8h-2.8zM1267.8 1066.9h2.8v2.8h-2.8zM1281.7 1029.8h2.8v2.8h-2.8zM1257.2 1036.0h2.8v2.8h-2.8zM1288.4 1036.3h2.8v2.8h-2.8zM1292.1 1054.7h2.8v2.8h-2.8zM1274.3 1063.2h2.8v2.8h-2.8zM1296.4 1053.4h2.8v2.8h-2.8zM1246.9 1034.9h2.8v2.8h-2.8zM1372.2 1056.5h2.8v2.8h-2.8zM1363.8 1022.3h2.8v2.8h-2.8zM1335.0 1059.1h2.8v2.8h-2.8zM1323.5 1028.1h2.8v2.8h-2.8zM1316.8 1051.1h2.8v2.8h-2.8zM1272.1 1011.0h2.8v2.8h-2.8zM1248.1 1064.4h2.8v2.8h-2.8zM1341.5 1057.5h2.8v2.8h-2.8zM1292.4 1072.6h2.8v2.8h-2.8zM1246.5 1013.6h2.8v2.8h-2.8zM1292.9 1082.2h2.8v2.8h-2.8zM1292.9 1067.9h2.8v2.8h-2.8zM1256.9 1051.3h2.8v2.8h-2.8zM1333.9 1012.7h2.8v2.8h-2.8zM1354.6 1081.2h2.8v2.8h-2.8zM1371.0 1017.2h2.8v2.8h-2.8zM1369.3 1076.1h2.8v2.8h-2.8zM1349.0 1051.1h2.8v2.8h-2.8zM1351.0 1035.0h2.8v2.8h-2.8zM1239.5 1026.1h2.8v2.8h-2.8zM1251.0 1038.8h2.8v2.8h-2.8zM1277.5 1027.8h2.8v2.8h-2.8zM1343.3 1071.7h2.8v2.8h-2.8zM1316.8 1019.5h2.8v2.8h-2.8zM1335.0 1025.2h2.8v2.8h-2.8zM1347.0 1016.1h2.8v2.8h-2.8zM1281.2 1034.2h2.8v2.8h-2.8zM1284.1 1030.3h2.8v2.8h-2.8zM1340.0 1051.4h2.8v2.8h-2.8zM1263.1 1066.3h2.8v2.8h-2.8zM1348.0 1016.2h2.8v2.8h-2.8zM1295.3 1077.1h2.8v2.8h-2.8zM1332.3 1069.3h2.8v2.8h-2.8zM1360.6 1046.9h2.8v2.8h-2.8zM1340.9 1045.7h2.8v2.8h-2.8zM1384.5 1033.4h2.8v2.8h-2.8zM1347.5 1051.3h2.8v2.8h-2.8zM1331.8 1039.0h2.8v2.8h-2.8zM1290.6 1051.3h2.8v2.8h-2.8zM1350.9 1072.5h2.8v2.8h-2.8zM1294.3 1028.4h2.8v2.8h-2.8zM1254.1 1033.3h2.8v2.8h-2.8zM1308.7 1032.1h2.8v2.8h-2.8zM1260.4 1041.8h2.8v2.8h-2.8zM1347.6 1060.4h2.8v2.8h-2.8zM1255.9 1050.6h2.8v2.8h-2.8zM1343.4 1047.8h2.8v2.8h-2.8zM1359.6 1072.6h2.8v2.8h-2.8zM1369.1 1047.4h2.8v2.8h-2.8zM1341.7 1033.9h2.8v2.8h-2.8zM1321.3 1073.8h2.8v2.8h-2.8zM1325.9 1055.8h2.8v2.8h-2.8zM1449.1 943.1h2.8v2.8h-2.8zM1426.2 951.0h2.8v2.8h-2.8zM1432.0 924.7h2.8v2.8h-2.8zM1453.7 936.5h2.8v2.8h-2.8zM1455.7 944.6h2.8v2.8h-2.8zM1462.6 948.0h2.8v2.8h-2.8zM1432.0 927.2h2.8v2.8h-2.8zM1455.9 927.2h2.8v2.8h-2.8zM1465.0 952.1h2.8v2.8h-2.8zM1453.0 954.5h2.8v2.8h-2.8zM1457.7 958.4h2.8v2.8h-2.8zM1460.9 953.4h2.8v2.8h-2.8zM1438.1 949.4h2.8v2.8h-2.8zM1465.3 931.6h2.8v2.8h-2.8zM1343.2 953.4h2.8v2.8h-2.8zM1347.1 959.3h2.8v2.8h-2.8zM1411.8 958.4h2.8v2.8h-2.8zM1344.5 989.0h2.8v2.8h-2.8zM1373.9 974.1h2.8v2.8h-2.8zM1372.7 945.0h2.8v2.8h-2.8zM1410.9 975.9h2.8v2.8h-2.8zM1406.8 997.1h2.8v2.8h-2.8zM1363.4 996.8h2.8v2.8h-2.8zM1335.2 945.1h2.8v2.8h-2.8zM1328.8 979.8h2.8v2.8h-2.8zM1419.3 973.4h2.8v2.8h-2.8zM1425.5 997.2h2.8v2.8h-2.8zM1357.2 953.9h2.8v2.8h-2.8zM1382.4 992.7h2.8v2.8h-2.8zM1338.2 979.3h2.8v2.8h-2.8zM1345.5 966.8h2.8v2.8h-2.8zM1390.0 1002.3h2.8v2.8h-2.8zM1373.7 993.5h2.8v2.8h-2.8zM1417.5 947.7h2.8v2.8h-2.8zM1340.8 975.3h2.8v2.8h-2.8zM1375.4 970.3h2.8v2.8h-2.8zM1418.3 980.3h2.8v2.8h-2.8zM1396.0 977.8h2.8v2.8h-2.8zM1378.0 966.6h2.8v2.8h-2.8zM1355.8 991.8h2.8v2.8h-2.8zM1385.6 991.9h2.8v2.8h-2.8zM1346.7 964.5h2.8v2.8h-2.8zM1416.5 961.1h2.8v2.8h-2.8zM1412.4 991.2h2.8v2.8h-2.8zM1331.7 985.0h2.8v2.8h-2.8zM1330.3 1000.3h2.8v2.8h-2.8zM1364.3 955.4h2.8v2.8h-2.8zM1387.4 995.5h2.8v2.8h-2.8zM1373.5 1000.9h2.8v2.8h-2.8zM1360.7 945.5h2.8v2.8h-2.8zM1419.9 999.2h2.8v2.8h-2.8zM1331.5 957.7h2.8v2.8h-2.8zM1387.1 948.9h2.8v2.8h-2.8zM1392.3 998.8h2.8v2.8h-2.8zM1385.7 996.1h2.8v2.8h-2.8zM1419.8 975.8h2.8v2.8h-2.8zM1331.1 956.0h2.8v2.8h-2.8zM1382.5 995.7h2.8v2.8h-2.8zM1403.6 969.2h2.8v2.8h-2.8zM1350.5 1002.0h2.8v2.8h-2.8zM1338.1 976.5h2.8v2.8h-2.8zM1331.8 995.4h2.8v2.8h-2.8zM1393.5 995.5h2.8v2.8h-2.8zM1400.0 967.2h2.8v2.8h-2.8zM1422.0 979.0h2.8v2.8h-2.8zM1360.8 962.5h2.8v2.8h-2.8zM1361.7 993.5h2.8v2.8h-2.8zM1349.6 994.7h2.8v2.8h-2.8zM1422.9 949.0h2.8v2.8h-2.8zM1391.7 974.4h2.8v2.8h-2.8zM1374.8 951.8h2.8v2.8h-2.8zM1392.3 1003.6h2.8v2.8h-2.8zM1354.6 982.3h2.8v2.8h-2.8zM1374.5 967.4h2.8v2.8h-2.8zM1374.7 963.6h2.8v2.8h-2.8zM1425.7 970.6h2.8v2.8h-2.8zM1374.9 987.4h2.8v2.8h-2.8zM1355.7 988.7h2.8v2.8h-2.8zM1385.1 956.7h2.8v2.8h-2.8zM1398.2 970.4h2.8v2.8h-2.8zM1342.3 952.3h2.8v2.8h-2.8zM1399.4 981.7h2.8v2.8h-2.8zM1333.1 969.3h2.8v2.8h-2.8zM1328.0 992.3h2.8v2.8h-2.8zM1364.8 990.2h2.8v2.8h-2.8zM1416.2 1002.6h2.8v2.8h-2.8zM1343.8 990.3h2.8v2.8h-2.8zM1356.4 975.1h2.8v2.8h-2.8zM1397.7 953.4h2.8v2.8h-2.8zM1350.7 991.1h2.8v2.8h-2.8zM1378.2 956.4h2.8v2.8h-2.8zM1363.7 978.7h2.8v2.8h-2.8zM1409.3 967.4h2.8v2.8h-2.8zM1342.9 982.8h2.8v2.8h-2.8zM1401.2 983.0h2.8v2.8h-2.8zM1385.0 962.8h2.8v2.8h-2.8zM1331.0 977.9h2.8v2.8h-2.8zM1329.0 973.5h2.8v2.8h-2.8zM1329.9 976.8h2.8v2.8h-2.8zM1328.9 960.3h2.8v2.8h-2.8zM1419.8 976.7h2.8v2.8h-2.8zM1332.4 973.7h2.8v2.8h-2.8zM1328.9 947.0h2.8v2.8h-2.8zM1383.8 947.0h2.8v2.8h-2.8z"/>
<g transform="translate(0,1151.5)" clip-path="url(#bclip)"><path d="M135.7,78.3 C136.6,71.4 139.1,70.0 141.0,68.0 C142.9,66.0 147.2,63.7 149.7,63.0 C152.2,62.3 157.8,62.0 160.0,62.4 C162.2,62.8 164.0,64.2 166.0,66.0 C168.0,67.8 171.3,71.9 175.2,75.7 C179.1,79.5 190.5,89.4 195.6,94.8 C200.7,100.2 210.7,112.1 213.5,116.5 C216.3,120.9 216.7,124.6 216.5,128.0 C216.3,131.4 213.5,138.8 212.0,142.0 C210.5,145.2 206.2,147.5 205.0,152.0 C203.8,156.5 204.7,171.3 203.0,176.0 C201.3,180.7 196.4,185.1 192.0,187.0 C187.6,188.9 175.9,190.0 170.0,190.0 C164.1,190.0 152.3,188.9 148.0,187.0 C143.7,185.1 139.7,179.6 138.0,176.0 C136.3,172.4 136.0,167.5 135.5,160.0 C135.0,152.5 134.5,130.9 134.5,120.0 C134.5,109.1 134.8,85.2 135.7,78.3 Z" fill="#e0cd26" fill-opacity="0.42"/><path d="M105.5,196.0 C106.0,189.7 106.9,185.5 109.0,181.0 C111.1,176.5 114.2,171.9 118.0,169.0 C121.8,166.1 125.5,164.8 132.0,163.5 C138.5,162.2 147.0,161.8 157.0,161.5 C167.0,161.2 182.8,160.8 192.0,161.5 C201.2,162.2 207.3,163.6 212.0,166.0 C216.7,168.4 219.2,172.5 220.0,176.0 C220.8,179.5 219.7,183.7 217.0,187.0 C214.3,190.3 209.7,192.9 204.0,195.6 C198.3,198.3 190.1,200.1 182.8,203.3 C175.5,206.5 167.1,210.2 160.0,215.0 C152.9,219.8 146.0,227.5 140.0,232.0 C134.0,236.5 128.6,241.3 124.0,242.0 C119.5,242.7 115.7,240.3 112.7,236.4 C109.8,232.5 107.5,225.3 106.3,218.6 C105.1,211.9 105.0,202.3 105.5,196.0 Z" fill="#f82626" fill-opacity="0.42"/><path d="M201.0,174.0 C202.8,170.7 207.2,167.8 212.0,166.0 C216.8,164.2 223.7,163.6 230.0,163.0 C236.3,162.4 244.3,162.2 250.0,162.5 C255.7,162.8 260.3,162.9 264.0,164.5 C267.7,166.1 270.2,168.9 272.0,172.0 C273.8,175.1 275.2,178.7 275.0,183.0 C274.8,187.3 272.8,193.2 271.0,198.0 C269.2,202.8 267.2,207.9 264.0,211.6 C260.8,215.3 255.8,218.1 252.0,220.0 C248.2,221.9 244.7,224.0 241.0,223.0 C237.3,222.0 233.5,217.0 230.0,214.0 C226.5,211.0 223.8,207.8 220.0,205.0 C216.2,202.2 210.2,200.2 207.0,197.0 C203.8,193.8 202.0,189.8 201.0,186.0 C200.0,182.2 199.2,177.3 201.0,174.0 Z" fill="#e9db0e" fill-opacity="0.42"/><path d="M237.8,130.4 C240.8,128.9 243.0,128.8 246.0,128.9 C249.0,129.0 252.9,129.7 256.0,131.0 C259.1,132.3 263.0,133.7 264.3,136.5 C265.6,139.3 265.0,143.4 264.0,148.0 C263.0,152.6 260.4,158.3 258.2,164.1 C256.0,169.9 253.4,176.7 251.0,183.0 C248.6,189.3 246.4,197.3 243.9,201.8 C241.4,206.3 238.4,208.3 236.0,210.0 C233.6,211.7 232.1,211.8 229.5,212.0 C226.9,212.2 224.2,212.0 220.5,211.0 C216.8,210.0 210.2,207.5 207.0,206.0 C203.8,204.5 202.9,204.2 201.1,201.8 C199.3,199.4 196.5,195.8 196.0,191.6 C195.5,187.3 195.6,181.4 198.0,176.3 C200.4,171.2 206.7,165.2 210.3,161.0 C213.9,156.8 216.5,154.6 219.4,150.8 C222.3,147.0 224.9,141.4 228.0,138.0 C231.1,134.6 234.8,131.9 237.8,130.4 Z" fill="#009da2" fill-opacity="0.42"/><rect x="155.5" y="186.5" width="45" height="13" rx="6.5" transform="rotate(25 178 193)" fill="#64bedf" fill-opacity="0.3"/><ellipse cx="171" cy="218" rx="23" ry="17" transform="rotate(15 171 218)" fill="#d21fd2" fill-opacity="0.42"/><ellipse cx="154" cy="238" rx="42" ry="21" transform="rotate(-60 154 238)" fill="#2626ee" fill-opacity="0.42"/><ellipse cx="180" cy="236" rx="32" ry="20" transform="rotate(-65 180 236)" fill="#de674f" fill-opacity="0.42"/><ellipse cx="190.5" cy="244" rx="22.5" ry="18.5" transform="rotate(-30 190.5 244)" fill="#0e8513" fill-opacity="0.42"/><ellipse cx="209" cy="220" rx="25" ry="14" transform="rotate(33 209 220)" fill="#6b6b6b" fill-opacity="0.5"/><rect x="177.2" y="250.0" width="68" height="24" rx="12.0" transform="rotate(-37 211.2 262)" fill="#262685" fill-opacity="0.42"/></g>
<path fill="#1c1c1c" d="M260.6 1412.0h2.8v2.8h-2.8zM265.1 1405.1h2.8v2.8h-2.8zM251.1 1399.9h2.8v2.8h-2.8zM277.4 1416.4h2.8v2.8h-2.8zM240.7 1437.6h2.8v2.8h-2.8zM230.2 1416.0h2.8v2.8h-2.8zM279.0 1388.4h2.8v2.8h-2.8zM259.0 1412.1h2.8v2.8h-2.8zM228.7 1376.9h2.8v2.8h-2.8zM253.5 1398.0h2.8v2.8h-2.8zM243.6 1382.5h2.8v2.8h-2.8zM294.2 1391.1h2.8v2.8h-2.8zM292.7 1377.2h2.8v2.8h-2.8zM275.4 1381.4h2.8v2.8h-2.8zM272.5 1425.3h2.8v2.8h-2.8zM258.3 1413.1h2.8v2.8h-2.8zM289.2 1371.6h2.8v2.8h-2.8zM254.9 1360.6h2.8v2.8h-2.8zM229.2 1408.0h2.8v2.8h-2.8zM242.5 1387.3h2.8v2.8h-2.8zM272.4 1376.8h2.8v2.8h-2.8zM250.8 1384.3h2.8v2.8h-2.8zM245.4 1402.4h2.8v2.8h-2.8zM292.5 1415.7h2.8v2.8h-2.8zM253.4 1393.0h2.8v2.8h-2.8zM260.8 1364.9h2.8v2.8h-2.8zM289.8 1399.4h2.8v2.8h-2.8zM270.2 1388.8h2.8v2.8h-2.8zM241.8 1362.2h2.8v2.8h-2.8zM300.1 1401.0h2.8v2.8h-2.8zM233.0 1397.1h2.8v2.8h-2.8zM236.7 1380.7h2.8v2.8h-2.8zM237.0 1348.1h2.8v2.8h-2.8zM256.0 1401.1h2.8v2.8h-2.8zM237.9 1390.6h2.8v2.8h-2.8zM248.6 1384.0h2.8v2.8h-2.8zM275.5 1410.4h2.8v2.8h-2.8zM274.3 1414.0h2.8v2.8h-2.8zM234.7 1385.9h2.8v2.8h-2.8zM286.3 1388.0h2.8v2.8h-2.8zM273.5 1394.7h2.8v2.8h-2.8zM273.3 1383.9h2.8v2.8h-2.8zM254.2 1406.8h2.8v2.8h-2.8zM245.9 1464.4h2.8v2.8h-2.8zM267.2 1389.6h2.8v2.8h-2.8zM212.8 1426.7h2.8v2.8h-2.8zM249.1 1373.7h2.8v2.8h-2.8zM248.5 1415.3h2.8v2.8h-2.8zM250.5 1410.3h2.8v2.8h-2.8zM254.5 1430.3h2.8v2.8h-2.8zM241.5 1427.9h2.8v2.8h-2.8zM260.6 1397.8h2.8v2.8h-2.8zM259.1 1390.1h2.8v2.8h-2.8zM271.9 1359.8h2.8v2.8h-2.8zM247.7 1396.8h2.8v2.8h-2.8zM258.2 1432.6h2.8v2.8h-2.8zM260.6 1353.7h2.8v2.8h-2.8zM236.3 1354.4h2.8v2.8h-2.8zM254.3 1370.9h2.8v2.8h-2.8zM278.7 1391.5h2.8v2.8h-2.8zM254.4 1373.1h2.8v2.8h-2.8zM265.6 1414.3h2.8v2.8h-2.8zM276.1 1402.6h2.8v2.8h-2.8zM268.9 1386.3h2.8v2.8h-2.8zM275.7 1382.5h2.8v2.8h-2.8zM258.2 1341.7h2.8v2.8h-2.8zM266.5 1404.7h2.8v2.8h-2.8zM256.8 1405.5h2.8v2.8h-2.8zM238.0 1395.4h2.8v2.8h-2.8zM263.8 1405.1h2.8v2.8h-2.8zM256.4 1373.8h2.8v2.8h-2.8zM245.4 1421.4h2.8v2.8h-2.8zM265.3 1403.7h2.8v2.8h-2.8zM273.1 1406.9h2.8v2.8h-2.8zM245.7 1396.3h2.8v2.8h-2.8zM242.5 1390.4h2.8v2.8h-2.8zM267.1 1396.1h2.8v2.8h-2.8zM273.3 1426.3h2.8v2.8h-2.8zM242.6 1398.7h2.8v2.8h-2.8zM254.6 1384.2h2.8v2.8h-2.8zM221.7 1447.5h2.8v2.8h-2.8zM239.2 1420.4h2.8v2.8h-2.8zM290.3 1392.2h2.8v2.8h-2.8zM237.8 1395.6h2.8v2.8h-2.8zM252.0 1389.7h2.8v2.8h-2.8zM223.9 1422.9h2.8v2.8h-2.8zM289.2 1397.7h2.8v2.8h-2.8zM257.3 1388.3h2.8v2.8h-2.8zM286.8 1364.0h2.8v2.8h-2.8zM243.3 1386.2h2.8v2.8h-2.8zM249.1 1390.9h2.8v2.8h-2.8zM241.1 1373.0h2.8v2.8h-2.8zM261.4 1416.3h2.8v2.8h-2.8zM259.0 1405.7h2.8v2.8h-2.8zM252.6 1431.0h2.8v2.8h-2.8zM232.2 1373.2h2.8v2.8h-2.8zM266.8 1361.6h2.8v2.8h-2.8zM262.6 1413.4h2.8v2.8h-2.8zM222.0 1395.5h2.8v2.8h-2.8zM285.2 1393.3h2.8v2.8h-2.8zM261.4 1406.6h2.8v2.8h-2.8zM257.8 1384.8h2.8v2.8h-2.8zM275.8 1383.3h2.8v2.8h-2.8zM259.7 1404.0h2.8v2.8h-2.8zM255.3 1415.1h2.8v2.8h-2.8zM283.4 1413.6h2.8v2.8h-2.8zM287.4 1391.0h2.8v2.8h-2.8zM259.0 1388.0h2.8v2.8h-2.8zM272.5 1405.3h2.8v2.8h-2.8zM282.8 1363.2h2.8v2.8h-2.8zM255.8 1388.5h2.8v2.8h-2.8zM279.3 1396.3h2.8v2.8h-2.8zM256.5 1428.7h2.8v2.8h-2.8zM259.9 1390.4h2.8v2.8h-2.8zM239.3 1414.0h2.8v2.8h-2.8zM271.1 1391.8h2.8v2.8h-2.8zM268.8 1388.6h2.8v2.8h-2.8zM288.1 1410.4h2.8v2.8h-2.8zM271.5 1398.7h2.8v2.8h-2.8zM267.5 1403.1h2.8v2.8h-2.8zM241.1 1396.1h2.8v2.8h-2.8zM229.0 1359.3h2.8v2.8h-2.8zM268.2 1387.9h2.8v2.8h-2.8zM266.8 1406.8h2.8v2.8h-2.8zM279.5 1421.2h2.8v2.8h-2.8zM232.0 1413.4h2.8v2.8h-2.8zM278.2 1397.1h2.8v2.8h-2.8zM257.0 1431.4h2.8v2.8h-2.8zM255.2 1376.9h2.8v2.8h-2.8zM257.2 1399.5h2.8v2.8h-2.8zM273.1 1399.7h2.8v2.8h-2.8zM263.1 1381.1h2.8v2.8h-2.8zM255.9 1411.1h2.8v2.8h-2.8zM246.2 1439.2h2.8v2.8h-2.8zM270.7 1439.2h2.8v2.8h-2.8zM233.2 1385.9h2.8v2.8h-2.8zM271.0 1379.7h2.8v2.8h-2.8zM241.8 1413.4h2.8v2.8h-2.8zM242.6 1410.4h2.8v2.8h-2.8zM259.4 1422.5h2.8v2.8h-2.8zM255.4 1394.0h2.8v2.8h-2.8zM250.0 1419.9h2.8v2.8h-2.8zM277.3 1424.6h2.8v2.8h-2.8zM287.3 1397.9h2.8v2.8h-2.8zM271.6 1408.6h2.8v2.8h-2.8zM260.3 1393.5h2.8v2.8h-2.8zM276.2 1420.6h2.8v2.8h-2.8zM259.7 1371.1h2.8v2.8h-2.8zM259.1 1402.9h2.8v2.8h-2.8zM263.2 1360.7h2.8v2.8h-2.8zM263.1 1407.8h2.8v2.8h-2.8zM276.6 1399.1h2.8v2.8h-2.8zM274.7 1421.2h2.8v2.8h-2.8zM263.9 1383.3h2.8v2.8h-2.8zM233.8 1398.3h2.8v2.8h-2.8zM253.6 1419.4h2.8v2.8h-2.8zM256.0 1404.6h2.8v2.8h-2.8zM236.7 1390.0h2.8v2.8h-2.8zM256.9 1392.3h2.8v2.8h-2.8zM258.3 1365.4h2.8v2.8h-2.8zM239.1 1393.7h2.8v2.8h-2.8zM248.8 1390.2h2.8v2.8h-2.8zM220.7 1389.9h2.8v2.8h-2.8zM271.6 1406.3h2.8v2.8h-2.8zM257.4 1388.3h2.8v2.8h-2.8zM244.1 1372.1h2.8v2.8h-2.8zM231.2 1387.7h2.8v2.8h-2.8zM220.3 1398.3h2.8v2.8h-2.8zM261.7 1417.5h2.8v2.8h-2.8zM230.5 1425.1h2.8v2.8h-2.8zM248.3 1436.7h2.8v2.8h-2.8zM262.8 1439.9h2.8v2.8h-2.8zM250.4 1441.9h2.8v2.8h-2.8zM240.3 1384.4h2.8v2.8h-2.8zM286.4 1412.2h2.8v2.8h-2.8zM295.7 1386.2h2.8v2.8h-2.8zM283.8 1382.3h2.8v2.8h-2.8zM285.0 1390.8h2.8v2.8h-2.8zM240.3 1396.8h2.8v2.8h-2.8zM243.0 1410.8h2.8v2.8h-2.8zM254.9 1398.9h2.8v2.8h-2.8zM259.5 1402.8h2.8v2.8h-2.8zM254.1 1403.7h2.8v2.8h-2.8zM269.7 1404.5h2.8v2.8h-2.8zM257.5 1396.3h2.8v2.8h-2.8zM269.9 1370.5h2.8v2.8h-2.8zM268.1 1403.6h2.8v2.8h-2.8zM234.0 1411.5h2.8v2.8h-2.8zM261.2 1388.9h2.8v2.8h-2.8zM280.1 1397.3h2.8v2.8h-2.8zM271.2 1408.9h2.8v2.8h-2.8zM254.4 1366.4h2.8v2.8h-2.8zM290.5 1401.2h2.8v2.8h-2.8zM255.3 1455.0h2.8v2.8h-2.8zM263.8 1377.0h2.8v2.8h-2.8zM258.1 1353.4h2.8v2.8h-2.8zM266.3 1345.0h2.8v2.8h-2.8zM249.7 1430.3h2.8v2.8h-2.8zM272.1 1359.8h2.8v2.8h-2.8zM233.4 1382.4h2.8v2.8h-2.8zM251.0 1368.5h2.8v2.8h-2.8zM286.0 1418.6h2.8v2.8h-2.8zM265.3 1398.5h2.8v2.8h-2.8zM267.8 1433.4h2.8v2.8h-2.8zM283.4 1410.7h2.8v2.8h-2.8zM229.8 1435.3h2.8v2.8h-2.8zM284.8 1406.3h2.8v2.8h-2.8zM265.0 1350.4h2.8v2.8h-2.8zM248.3 1396.6h2.8v2.8h-2.8zM287.8 1385.5h2.8v2.8h-2.8zM283.7 1402.8h2.8v2.8h-2.8zM281.2 1420.9h2.8v2.8h-2.8zM268.4 1418.9h2.8v2.8h-2.8zM243.2 1435.7h2.8v2.8h-2.8zM262.4 1408.4h2.8v2.8h-2.8zM236.6 1417.7h2.8v2.8h-2.8zM240.3 1408.4h2.8v2.8h-2.8zM256.3 1376.7h2.8v2.8h-2.8zM238.6 1431.7h2.8v2.8h-2.8zM260.9 1386.7h2.8v2.8h-2.8zM255.8 1423.9h2.8v2.8h-2.8zM229.1 1414.5h2.8v2.8h-2.8zM241.8 1404.0h2.8v2.8h-2.8zM254.1 1358.4h2.8v2.8h-2.8zM263.1 1418.4h2.8v2.8h-2.8zM289.7 1416.4h2.8v2.8h-2.8zM258.2 1398.7h2.8v2.8h-2.8zM267.3 1379.0h2.8v2.8h-2.8zM263.0 1395.3h2.8v2.8h-2.8zM236.0 1381.8h2.8v2.8h-2.8zM282.4 1420.1h2.8v2.8h-2.8zM285.2 1380.2h2.8v2.8h-2.8zM247.7 1392.8h2.8v2.8h-2.8zM253.6 1383.0h2.8v2.8h-2.8zM250.6 1412.6h2.8v2.8h-2.8zM242.5 1370.1h2.8v2.8h-2.8zM269.2 1426.9h2.8v2.8h-2.8zM237.8 1386.6h2.8v2.8h-2.8zM246.2 1336.0h2.8v2.8h-2.8zM237.1 1353.3h2.8v2.8h-2.8zM277.4 1396.4h2.8v2.8h-2.8zM279.1 1413.0h2.8v2.8h-2.8zM284.6 1423.5h2.8v2.8h-2.8zM278.0 1369.5h2.8v2.8h-2.8zM244.9 1397.6h2.8v2.8h-2.8zM257.7 1418.0h2.8v2.8h-2.8zM255.0 1375.7h2.8v2.8h-2.8zM268.0 1386.4h2.8v2.8h-2.8zM257.3 1407.1h2.8v2.8h-2.8zM282.9 1410.1h2.8v2.8h-2.8zM251.1 1400.3h2.8v2.8h-2.8zM259.6 1377.8h2.8v2.8h-2.8zM265.9 1427.9h2.8v2.8h-2.8zM263.9 1396.7h2.8v2.8h-2.8zM232.3 1398.0h2.8v2.8h-2.8zM256.9 1412.1h2.8v2.8h-2.8zM250.6 1378.4h2.8v2.8h-2.8zM268.3 1395.3h2.8v2.8h-2.8zM256.3 1442.3h2.8v2.8h-2.8zM262.9 1405.1h2.8v2.8h-2.8zM264.6 1444.9h2.8v2.8h-2.8zM251.1 1378.3h2.8v2.8h-2.8zM237.3 1388.8h2.8v2.8h-2.8zM252.2 1405.4h2.8v2.8h-2.8zM308.0 1397.0h2.8v2.8h-2.8zM259.6 1422.7h2.8v2.8h-2.8zM278.3 1419.4h2.8v2.8h-2.8zM255.4 1376.6h2.8v2.8h-2.8zM287.1 1363.9h2.8v2.8h-2.8zM277.3 1359.2h2.8v2.8h-2.8zM254.3 1402.9h2.8v2.8h-2.8zM266.3 1388.3h2.8v2.8h-2.8zM255.5 1393.4h2.8v2.8h-2.8zM262.2 1414.7h2.8v2.8h-2.8zM258.1 1412.0h2.8v2.8h-2.8zM279.0 1423.7h2.8v2.8h-2.8zM249.6 1379.0h2.8v2.8h-2.8zM261.9 1408.8h2.8v2.8h-2.8zM280.5 1405.0h2.8v2.8h-2.8zM247.3 1378.1h2.8v2.8h-2.8zM277.6 1377.8h2.8v2.8h-2.8zM246.6 1377.9h2.8v2.8h-2.8zM247.9 1373.9h2.8v2.8h-2.8zM286.5 1396.0h2.8v2.8h-2.8zM271.1 1416.1h2.8v2.8h-2.8zM279.8 1409.6h2.8v2.8h-2.8zM264.5 1378.2h2.8v2.8h-2.8zM268.7 1367.7h2.8v2.8h-2.8zM247.1 1422.7h2.8v2.8h-2.8zM250.6 1408.2h2.8v2.8h-2.8zM269.7 1400.1h2.8v2.8h-2.8zM242.9 1428.4h2.8v2.8h-2.8zM298.1 1413.8h2.8v2.8h-2.8zM276.8 1411.0h2.8v2.8h-2.8zM252.5 1419.8h2.8v2.8h-2.8zM235.0 1394.2h2.8v2.8h-2.8zM246.6 1370.7h2.8v2.8h-2.8zM247.4 1375.1h2.8v2.8h-2.8zM261.9 1423.7h2.8v2.8h-2.8zM268.8 1423.2h2.8v2.8h-2.8zM275.1 1394.6h2.8v2.8h-2.8zM261.3 1385.2h2.8v2.8h-2.8zM292.3 1393.1h2.8v2.8h-2.8zM278.2 1415.1h2.8v2.8h-2.8zM267.7 1392.4h2.8v2.8h-2.8zM261.8 1349.0h2.8v2.8h-2.8zM247.3 1394.9h2.8v2.8h-2.8zM267.2 1413.2h2.8v2.8h-2.8zM247.4 1417.3h2.8v2.8h-2.8zM257.9 1379.7h2.8v2.8h-2.8zM244.4 1396.0h2.8v2.8h-2.8zM290.9 1378.8h2.8v2.8h-2.8zM269.8 1382.5h2.8v2.8h-2.8zM283.5 1402.3h2.8v2.8h-2.8zM243.6 1402.6h2.8v2.8h-2.8zM262.0 1440.3h2.8v2.8h-2.8zM264.4 1391.6h2.8v2.8h-2.8zM275.2 1413.6h2.8v2.8h-2.8zM280.8 1407.8h2.8v2.8h-2.8zM249.2 1390.0h2.8v2.8h-2.8zM273.9 1397.5h2.8v2.8h-2.8zM210.9 1406.3h2.8v2.8h-2.8zM282.5 1400.9h2.8v2.8h-2.8zM231.7 1432.2h2.8v2.8h-2.8zM239.6 1396.5h2.8v2.8h-2.8zM262.4 1399.6h2.8v2.8h-2.8zM272.5 1418.6h2.8v2.8h-2.8zM258.7 1396.4h2.8v2.8h-2.8zM236.3 1414.6h2.8v2.8h-2.8zM256.0 1371.9h2.8v2.8h-2.8zM272.7 1413.7h2.8v2.8h-2.8zM270.5 1413.8h2.8v2.8h-2.8zM265.7 1405.9h2.8v2.8h-2.8zM251.3 1418.5h2.8v2.8h-2.8zM281.3 1388.9h2.8v2.8h-2.8zM249.5 1399.2h2.8v2.8h-2.8zM242.2 1404.6h2.8v2.8h-2.8zM240.3 1377.7h2.8v2.8h-2.8zM273.2 1417.7h2.8v2.8h-2.8zM242.6 1421.9h2.8v2.8h-2.8zM234.8 1402.3h2.8v2.8h-2.8zM252.9 1403.3h2.8v2.8h-2.8zM288.1 1417.4h2.8v2.8h-2.8zM255.6 1412.3h2.8v2.8h-2.8zM270.0 1374.2h2.8v2.8h-2.8zM263.2 1433.1h2.8v2.8h-2.8zM282.7 1417.2h2.8v2.8h-2.8zM282.5 1390.4h2.8v2.8h-2.8zM262.6 1414.9h2.8v2.8h-2.8zM301.1 1401.4h2.8v2.8h-2.8zM271.5 1377.2h2.8v2.8h-2.8zM252.2 1409.0h2.8v2.8h-2.8zM278.8 1402.4h2.8v2.8h-2.8zM256.4 1404.8h2.8v2.8h-2.8zM243.7 1407.9h2.8v2.8h-2.8zM293.7 1391.3h2.8v2.8h-2.8zM257.1 1362.8h2.8v2.8h-2.8zM243.3 1410.2h2.8v2.8h-2.8zM266.2 1392.8h2.8v2.8h-2.8zM258.3 1400.4h2.8v2.8h-2.8zM271.6 1392.4h2.8v2.8h-2.8zM270.2 1402.8h2.8v2.8h-2.8zM274.7 1379.4h2.8v2.8h-2.8zM248.8 1407.2h2.8v2.8h-2.8zM264.1 1380.2h2.8v2.8h-2.8zM271.8 1400.8h2.8v2.8h-2.8zM262.2 1391.2h2.8v2.8h-2.8zM261.5 1403.6h2.8v2.8h-2.8zM265.6 1402.6h2.8v2.8h-2.8zM270.6 1394.4h2.8v2.8h-2.8zM229.1 1383.6h2.8v2.8h-2.8zM255.3 1408.8h2.8v2.8h-2.8zM282.0 1398.0h2.8v2.8h-2.8zM248.3 1375.7h2.8v2.8h-2.8zM270.8 1425.1h2.8v2.8h-2.8zM267.0 1410.4h2.8v2.8h-2.8zM250.5 1393.1h2.8v2.8h-2.8zM251.8 1372.2h2.8v2.8h-2.8zM252.5 1388.0h2.8v2.8h-2.8zM261.4 1391.8h2.8v2.8h-2.8zM264.2 1383.7h2.8v2.8h-2.8zM277.1 1409.4h2.8v2.8h-2.8zM243.1 1378.5h2.8v2.8h-2.8zM253.6 1366.7h2.8v2.8h-2.8zM274.3 1384.9h2.8v2.8h-2.8zM284.0 1399.0h2.8v2.8h-2.8zM283.5 1386.3h2.8v2.8h-2.8zM265.5 1438.4h2.8v2.8h-2.8zM276.5 1394.4h2.8v2.8h-2.8zM273.9 1412.5h2.8v2.8h-2.8zM271.6 1413.4h2.8v2.8h-2.8zM289.3 1416.7h2.8v2.8h-2.8zM247.7 1379.7h2.8v2.8h-2.8zM263.7 1394.2h2.8v2.8h-2.8zM279.6 1375.7h2.8v2.8h-2.8zM285.3 1384.2h2.8v2.8h-2.8zM247.5 1411.6h2.8v2.8h-2.8zM258.9 1382.4h2.8v2.8h-2.8zM234.8 1399.1h2.8v2.8h-2.8zM255.9 1384.0h2.8v2.8h-2.8zM264.7 1409.0h2.8v2.8h-2.8zM271.1 1422.1h2.8v2.8h-2.8zM258.7 1398.6h2.8v2.8h-2.8zM266.4 1374.2h2.8v2.8h-2.8zM240.6 1379.7h2.8v2.8h-2.8zM280.0 1406.5h2.8v2.8h-2.8zM252.3 1394.4h2.8v2.8h-2.8zM279.1 1421.4h2.8v2.8h-2.8zM239.6 1369.4h2.8v2.8h-2.8zM254.7 1403.8h2.8v2.8h-2.8zM281.4 1360.9h2.8v2.8h-2.8zM258.9 1387.7h2.8v2.8h-2.8zM252.2 1405.9h2.8v2.8h-2.8zM257.7 1416.9h2.8v2.8h-2.8zM279.0 1390.7h2.8v2.8h-2.8zM228.6 1384.3h2.8v2.8h-2.8zM264.7 1438.6h2.8v2.8h-2.8zM217.9 1391.4h2.8v2.8h-2.8zM262.6 1378.6h2.8v2.8h-2.8zM229.3 1415.3h2.8v2.8h-2.8zM274.9 1371.2h2.8v2.8h-2.8zM255.3 1373.3h2.8v2.8h-2.8zM229.6 1383.7h2.8v2.8h-2.8zM272.0 1402.8h2.8v2.8h-2.8zM240.3 1409.2h2.8v2.8h-2.8zM289.2 1402.7h2.8v2.8h-2.8zM248.0 1396.0h2.8v2.8h-2.8zM259.0 1410.4h2.8v2.8h-2.8zM293.5 1398.9h2.8v2.8h-2.8zM257.2 1423.5h2.8v2.8h-2.8zM282.4 1385.0h2.8v2.8h-2.8zM258.1 1408.7h2.8v2.8h-2.8zM248.7 1377.6h2.8v2.8h-2.8zM232.0 1398.9h2.8v2.8h-2.8zM278.1 1427.9h2.8v2.8h-2.8zM253.3 1433.2h2.8v2.8h-2.8zM263.5 1383.6h2.8v2.8h-2.8zM236.9 1396.4h2.8v2.8h-2.8zM250.8 1388.7h2.8v2.8h-2.8zM239.8 1384.1h2.8v2.8h-2.8zM248.6 1401.8h2.8v2.8h-2.8zM270.1 1419.7h2.8v2.8h-2.8zM264.4 1434.8h2.8v2.8h-2.8zM270.9 1372.4h2.8v2.8h-2.8zM256.4 1425.6h2.8v2.8h-2.8zM251.1 1369.4h2.8v2.8h-2.8zM265.0 1403.3h2.8v2.8h-2.8zM269.0 1380.8h2.8v2.8h-2.8zM267.1 1405.6h2.8v2.8h-2.8zM277.4 1415.1h2.8v2.8h-2.8zM260.1 1424.8h2.8v2.8h-2.8zM234.2 1412.6h2.8v2.8h-2.8zM249.0 1402.6h2.8v2.8h-2.8zM259.3 1379.8h2.8v2.8h-2.8zM266.1 1412.7h2.8v2.8h-2.8zM291.4 1399.4h2.8v2.8h-2.8zM269.5 1402.9h2.8v2.8h-2.8zM247.5 1422.2h2.8v2.8h-2.8zM275.9 1362.9h2.8v2.8h-2.8zM247.2 1418.4h2.8v2.8h-2.8zM240.3 1441.4h2.8v2.8h-2.8zM268.5 1430.9h2.8v2.8h-2.8zM231.5 1407.9h2.8v2.8h-2.8zM239.9 1444.6h2.8v2.8h-2.8zM282.9 1411.5h2.8v2.8h-2.8zM279.5 1395.7h2.8v2.8h-2.8zM267.6 1372.3h2.8v2.8h-2.8zM301.1 1404.5h2.8v2.8h-2.8zM289.3 1398.8h2.8v2.8h-2.8zM260.5 1434.0h2.8v2.8h-2.8zM283.2 1392.7h2.8v2.8h-2.8zM294.4 1379.6h2.8v2.8h-2.8zM234.8 1395.2h2.8v2.8h-2.8zM272.1 1409.5h2.8v2.8h-2.8zM231.2 1373.6h2.8v2.8h-2.8zM261.0 1401.7h2.8v2.8h-2.8zM245.9 1391.1h2.8v2.8h-2.8zM263.6 1406.8h2.8v2.8h-2.8zM241.4 1382.3h2.8v2.8h-2.8zM251.1 1397.5h2.8v2.8h-2.8zM257.6 1377.8h2.8v2.8h-2.8zM275.6 1376.6h2.8v2.8h-2.8zM242.2 1392.7h2.8v2.8h-2.8zM259.7 1420.3h2.8v2.8h-2.8zM267.5 1430.6h2.8v2.8h-2.8zM262.5 1358.6h2.8v2.8h-2.8zM247.0 1373.1h2.8v2.8h-2.8zM275.3 1415.8h2.8v2.8h-2.8zM256.1 1361.0h2.8v2.8h-2.8zM245.2 1406.5h2.8v2.8h-2.8zM266.5 1410.8h2.8v2.8h-2.8zM227.4 1343.7h2.8v2.8h-2.8zM252.2 1364.4h2.8v2.8h-2.8zM265.7 1398.3h2.8v2.8h-2.8zM240.7 1418.0h2.8v2.8h-2.8zM245.1 1434.5h2.8v2.8h-2.8zM264.1 1422.6h2.8v2.8h-2.8zM259.8 1426.2h2.8v2.8h-2.8zM248.7 1424.2h2.8v2.8h-2.8zM277.4 1430.1h2.8v2.8h-2.8zM263.4 1365.7h2.8v2.8h-2.8zM240.4 1397.6h2.8v2.8h-2.8zM260.8 1404.6h2.8v2.8h-2.8zM254.2 1388.8h2.8v2.8h-2.8zM250.9 1416.3h2.8v2.8h-2.8zM231.3 1405.7h2.8v2.8h-2.8zM284.0 1412.3h2.8v2.8h-2.8zM247.3 1393.2h2.8v2.8h-2.8zM244.8 1408.5h2.8v2.8h-2.8zM256.0 1389.2h2.8v2.8h-2.8zM263.8 1433.8h2.8v2.8h-2.8zM271.0 1422.6h2.8v2.8h-2.8zM242.9 1401.0h2.8v2.8h-2.8zM249.2 1384.9h2.8v2.8h-2.8zM259.8 1374.8h2.8v2.8h-2.8zM269.0 1413.8h2.8v2.8h-2.8zM218.6 1378.2h2.8v2.8h-2.8zM245.9 1386.6h2.8v2.8h-2.8zM266.5 1434.0h2.8v2.8h-2.8zM257.6 1434.8h2.8v2.8h-2.8zM259.7 1432.4h2.8v2.8h-2.8zM296.3 1398.9h2.8v2.8h-2.8zM247.4 1380.0h2.8v2.8h-2.8zM236.7 1402.5h2.8v2.8h-2.8zM278.7 1387.7h2.8v2.8h-2.8zM278.7 1392.1h2.8v2.8h-2.8zM275.7 1402.0h2.8v2.8h-2.8zM255.4 1376.0h2.8v2.8h-2.8zM271.9 1423.8h2.8v2.8h-2.8zM260.2 1412.0h2.8v2.8h-2.8zM273.6 1401.4h2.8v2.8h-2.8zM239.5 1384.9h2.8v2.8h-2.8zM241.8 1372.9h2.8v2.8h-2.8zM272.7 1373.6h2.8v2.8h-2.8zM239.9 1344.6h2.8v2.8h-2.8zM251.0 1419.1h2.8v2.8h-2.8zM224.8 1350.1h2.8v2.8h-2.8zM238.3 1427.3h2.8v2.8h-2.8zM242.5 1439.3h2.8v2.8h-2.8zM234.7 1372.5h2.8v2.8h-2.8zM263.6 1418.2h2.8v2.8h-2.8zM267.0 1436.3h2.8v2.8h-2.8zM249.2 1450.0h2.8v2.8h-2.8zM282.4 1376.8h2.8v2.8h-2.8zM261.3 1400.6h2.8v2.8h-2.8zM258.7 1428.0h2.8v2.8h-2.8zM258.4 1421.4h2.8v2.8h-2.8zM256.0 1393.6h2.8v2.8h-2.8zM247.9 1394.2h2.8v2.8h-2.8zM289.5 1413.8h2.8v2.8h-2.8zM267.6 1337.4h2.8v2.8h-2.8zM283.0 1374.1h2.8v2.8h-2.8zM277.4 1396.2h2.8v2.8h-2.8zM228.8 1384.5h2.8v2.8h-2.8zM280.4 1396.7h2.8v2.8h-2.8zM296.4 1413.0h2.8v2.8h-2.8zM268.4 1404.0h2.8v2.8h-2.8zM277.4 1405.5h2.8v2.8h-2.8zM263.0 1365.2h2.8v2.8h-2.8zM255.7 1365.5h2.8v2.8h-2.8zM278.6 1394.9h2.8v2.8h-2.8zM263.4 1388.2h2.8v2.8h-2.8zM287.9 1418.1h2.8v2.8h-2.8zM268.3 1392.3h2.8v2.8h-2.8zM260.3 1387.9h2.8v2.8h-2.8zM275.4 1416.7h2.8v2.8h-2.8zM280.7 1380.8h2.8v2.8h-2.8zM247.8 1400.0h2.8v2.8h-2.8zM284.4 1372.7h2.8v2.8h-2.8zM260.7 1416.6h2.8v2.8h-2.8zM257.9 1423.1h2.8v2.8h-2.8zM246.3 1410.4h2.8v2.8h-2.8zM234.6 1393.8h2.8v2.8h-2.8zM254.3 1418.4h2.8v2.8h-2.8zM261.6 1400.5h2.8v2.8h-2.8zM275.2 1410.9h2.8v2.8h-2.8zM268.2 1439.5h2.8v2.8h-2.8zM269.4 1365.5h2.8v2.8h-2.8zM247.7 1403.4h2.8v2.8h-2.8zM274.5 1421.8h2.8v2.8h-2.8zM259.3 1373.2h2.8v2.8h-2.8zM246.7 1415.8h2.8v2.8h-2.8zM272.2 1421.5h2.8v2.8h-2.8zM259.9 1415.3h2.8v2.8h-2.8zM265.9 1436.5h2.8v2.8h-2.8zM261.5 1396.6h2.8v2.8h-2.8zM282.8 1417.1h2.8v2.8h-2.8zM249.3 1388.8h2.8v2.8h-2.8zM262.5 1373.8h2.8v2.8h-2.8zM252.0 1392.3h2.8v2.8h-2.8zM276.2 1415.7h2.8v2.8h-2.8zM268.3 1410.7h2.8v2.8h-2.8zM265.6 1422.7h2.8v2.8h-2.8zM297.8 1371.9h2.8v2.8h-2.8zM264.8 1410.1h2.8v2.8h-2.8zM271.8 1416.2h2.8v2.8h-2.8zM283.7 1411.7h2.8v2.8h-2.8zM229.2 1413.7h2.8v2.8h-2.8zM247.6 1399.5h2.8v2.8h-2.8zM287.9 1396.7h2.8v2.8h-2.8zM255.3 1402.8h2.8v2.8h-2.8zM291.6 1418.1h2.8v2.8h-2.8zM273.8 1370.8h2.8v2.8h-2.8zM272.9 1424.9h2.8v2.8h-2.8zM243.6 1454.1h2.8v2.8h-2.8zM238.2 1357.1h2.8v2.8h-2.8zM246.6 1422.5h2.8v2.8h-2.8zM279.8 1390.0h2.8v2.8h-2.8zM259.0 1384.7h2.8v2.8h-2.8zM266.7 1430.9h2.8v2.8h-2.8zM293.3 1372.1h2.8v2.8h-2.8zM258.6 1395.0h2.8v2.8h-2.8zM239.8 1421.3h2.8v2.8h-2.8zM277.4 1430.2h2.8v2.8h-2.8zM273.4 1411.7h2.8v2.8h-2.8zM266.9 1411.0h2.8v2.8h-2.8zM255.6 1438.2h2.8v2.8h-2.8zM254.7 1389.6h2.8v2.8h-2.8zM262.0 1391.6h2.8v2.8h-2.8zM281.1 1407.9h2.8v2.8h-2.8zM263.1 1375.6h2.8v2.8h-2.8zM259.3 1383.3h2.8v2.8h-2.8zM239.0 1415.9h2.8v2.8h-2.8zM305.3 1404.6h2.8v2.8h-2.8zM276.2 1384.4h2.8v2.8h-2.8zM266.2 1391.4h2.8v2.8h-2.8zM242.3 1394.7h2.8v2.8h-2.8zM260.6 1408.5h2.8v2.8h-2.8zM253.1 1413.3h2.8v2.8h-2.8zM248.6 1388.5h2.8v2.8h-2.8zM269.9 1390.7h2.8v2.8h-2.8zM258.6 1411.6h2.8v2.8h-2.8zM261.4 1407.9h2.8v2.8h-2.8zM246.8 1396.6h2.8v2.8h-2.8zM268.7 1433.3h2.8v2.8h-2.8zM282.8 1409.2h2.8v2.8h-2.8zM277.9 1410.8h2.8v2.8h-2.8zM292.9 1396.7h2.8v2.8h-2.8zM262.5 1421.7h2.8v2.8h-2.8zM298.2 1387.8h2.8v2.8h-2.8zM273.8 1400.2h2.8v2.8h-2.8zM265.4 1391.1h2.8v2.8h-2.8zM234.2 1409.9h2.8v2.8h-2.8zM279.6 1385.1h2.8v2.8h-2.8zM276.4 1430.9h2.8v2.8h-2.8zM268.8 1360.8h2.8v2.8h-2.8zM258.9 1399.7h2.8v2.8h-2.8zM256.7 1410.3h2.8v2.8h-2.8zM260.3 1377.8h2.8v2.8h-2.8zM256.8 1417.6h2.8v2.8h-2.8zM275.2 1390.0h2.8v2.8h-2.8zM233.1 1417.1h2.8v2.8h-2.8zM247.7 1376.3h2.8v2.8h-2.8zM287.4 1418.1h2.8v2.8h-2.8zM266.4 1444.1h2.8v2.8h-2.8zM268.9 1388.0h2.8v2.8h-2.8zM263.6 1381.6h2.8v2.8h-2.8zM245.9 1410.6h2.8v2.8h-2.8zM248.2 1421.0h2.8v2.8h-2.8zM275.1 1400.5h2.8v2.8h-2.8zM244.9 1390.8h2.8v2.8h-2.8zM260.3 1379.5h2.8v2.8h-2.8zM270.0 1395.7h2.8v2.8h-2.8zM269.6 1393.8h2.8v2.8h-2.8zM233.2 1349.8h2.8v2.8h-2.8zM246.3 1396.0h2.8v2.8h-2.8zM264.0 1395.0h2.8v2.8h-2.8zM221.2 1377.9h2.8v2.8h-2.8zM264.0 1391.9h2.8v2.8h-2.8zM260.0 1387.7h2.8v2.8h-2.8zM246.2 1402.9h2.8v2.8h-2.8zM269.2 1416.0h2.8v2.8h-2.8zM250.3 1395.6h2.8v2.8h-2.8zM273.8 1338.4h2.8v2.8h-2.8zM270.4 1394.9h2.8v2.8h-2.8zM247.9 1429.5h2.8v2.8h-2.8zM269.1 1406.3h2.8v2.8h-2.8zM265.3 1417.6h2.8v2.8h-2.8zM257.2 1401.9h2.8v2.8h-2.8zM279.9 1376.3h2.8v2.8h-2.8zM258.8 1441.3h2.8v2.8h-2.8zM260.3 1375.3h2.8v2.8h-2.8zM247.6 1416.8h2.8v2.8h-2.8zM264.9 1441.4h2.8v2.8h-2.8zM251.7 1378.4h2.8v2.8h-2.8zM264.9 1404.5h2.8v2.8h-2.8zM260.9 1367.0h2.8v2.8h-2.8zM257.3 1400.0h2.8v2.8h-2.8zM233.3 1431.5h2.8v2.8h-2.8zM255.9 1393.0h2.8v2.8h-2.8zM249.2 1399.9h2.8v2.8h-2.8zM249.9 1361.3h2.8v2.8h-2.8zM259.4 1383.1h2.8v2.8h-2.8zM241.0 1358.1h2.8v2.8h-2.8zM253.2 1388.4h2.8v2.8h-2.8zM277.8 1401.4h2.8v2.8h-2.8zM290.7 1363.2h2.8v2.8h-2.8zM250.1 1397.6h2.8v2.8h-2.8zM290.3 1390.3h2.8v2.8h-2.8zM243.7 1430.8h2.8v2.8h-2.8zM284.2 1407.2h2.8v2.8h-2.8zM286.1 1404.0h2.8v2.8h-2.8zM286.9 1418.3h2.8v2.8h-2.8zM225.8 1355.7h2.8v2.8h-2.8zM266.1 1394.6h2.8v2.8h-2.8zM262.3 1392.6h2.8v2.8h-2.8zM275.1 1428.2h2.8v2.8h-2.8zM257.0 1415.4h2.8v2.8h-2.8zM274.0 1404.0h2.8v2.8h-2.8zM234.2 1363.9h2.8v2.8h-2.8zM288.7 1383.8h2.8v2.8h-2.8zM272.5 1398.5h2.8v2.8h-2.8zM283.0 1416.8h2.8v2.8h-2.8zM279.6 1384.3h2.8v2.8h-2.8zM265.3 1381.7h2.8v2.8h-2.8zM257.7 1411.8h2.8v2.8h-2.8zM269.9 1412.1h2.8v2.8h-2.8zM233.2 1388.6h2.8v2.8h-2.8zM299.3 1393.9h2.8v2.8h-2.8zM284.1 1350.9h2.8v2.8h-2.8zM214.7 1358.5h2.8v2.8h-2.8zM268.8 1357.8h2.8v2.8h-2.8zM243.0 1348.4h2.8v2.8h-2.8zM265.2 1381.9h2.8v2.8h-2.8zM216.0 1409.9h2.8v2.8h-2.8zM283.6 1424.4h2.8v2.8h-2.8zM271.1 1376.5h2.8v2.8h-2.8zM273.9 1370.9h2.8v2.8h-2.8zM261.3 1330.9h2.8v2.8h-2.8zM265.4 1343.1h2.8v2.8h-2.8zM286.5 1344.6h2.8v2.8h-2.8zM233.8 1427.9h2.8v2.8h-2.8zM293.8 1389.7h2.8v2.8h-2.8zM296.6 1357.6h2.8v2.8h-2.8zM297.6 1412.0h2.8v2.8h-2.8zM283.6 1372.0h2.8v2.8h-2.8zM284.8 1413.0h2.8v2.8h-2.8zM218.4 1335.5h2.8v2.8h-2.8zM218.2 1369.3h2.8v2.8h-2.8zM257.5 1350.8h2.8v2.8h-2.8zM301.5 1394.5h2.8v2.8h-2.8zM264.4 1352.2h2.8v2.8h-2.8zM256.3 1353.2h2.8v2.8h-2.8zM228.6 1351.7h2.8v2.8h-2.8zM294.4 1391.1h2.8v2.8h-2.8zM236.8 1412.5h2.8v2.8h-2.8zM265.8 1334.8h2.8v2.8h-2.8zM292.1 1415.0h2.8v2.8h-2.8zM268.4 1430.5h2.8v2.8h-2.8zM301.0 1376.1h2.8v2.8h-2.8zM277.4 1398.0h2.8v2.8h-2.8zM272.5 1422.5h2.8v2.8h-2.8zM248.4 1395.7h2.8v2.8h-2.8zM278.4 1336.4h2.8v2.8h-2.8zM240.3 1426.9h2.8v2.8h-2.8zM290.7 1378.9h2.8v2.8h-2.8zM282.8 1361.3h2.8v2.8h-2.8zM264.9 1345.4h2.8v2.8h-2.8zM268.2 1422.9h2.8v2.8h-2.8zM250.8 1386.9h2.8v2.8h-2.8zM264.0 1347.2h2.8v2.8h-2.8zM217.2 1411.1h2.8v2.8h-2.8zM297.9 1364.4h2.8v2.8h-2.8zM238.0 1376.5h2.8v2.8h-2.8zM293.0 1346.0h2.8v2.8h-2.8zM266.5 1351.2h2.8v2.8h-2.8zM216.3 1353.1h2.8v2.8h-2.8zM263.0 1391.3h2.8v2.8h-2.8zM225.9 1422.9h2.8v2.8h-2.8zM250.9 1419.7h2.8v2.8h-2.8zM217.7 1418.0h2.8v2.8h-2.8zM267.9 1375.4h2.8v2.8h-2.8zM227.9 1348.4h2.8v2.8h-2.8zM227.4 1331.3h2.8v2.8h-2.8zM251.8 1378.3h2.8v2.8h-2.8zM218.6 1427.0h2.8v2.8h-2.8zM272.9 1375.6h2.8v2.8h-2.8zM279.0 1403.1h2.8v2.8h-2.8zM299.1 1352.7h2.8v2.8h-2.8zM237.9 1426.7h2.8v2.8h-2.8zM239.3 1413.4h2.8v2.8h-2.8zM247.0 1410.5h2.8v2.8h-2.8zM262.1 1380.6h2.8v2.8h-2.8zM222.3 1430.5h2.8v2.8h-2.8zM266.4 1426.3h2.8v2.8h-2.8zM234.9 1353.6h2.8v2.8h-2.8zM250.8 1380.5h2.8v2.8h-2.8zM290.4 1340.6h2.8v2.8h-2.8zM238.4 1348.9h2.8v2.8h-2.8zM249.4 1349.9h2.8v2.8h-2.8zM229.3 1417.7h2.8v2.8h-2.8zM242.7 1396.1h2.8v2.8h-2.8zM232.7 1410.7h2.8v2.8h-2.8zM218.1 1359.7h2.8v2.8h-2.8zM283.4 1410.8h2.8v2.8h-2.8zM216.4 1396.3h2.8v2.8h-2.8zM291.3 1334.2h2.8v2.8h-2.8zM295.0 1374.2h2.8v2.8h-2.8zM240.1 1368.5h2.8v2.8h-2.8zM298.8 1409.9h2.8v2.8h-2.8zM280.0 1336.4h2.8v2.8h-2.8zM277.2 1366.4h2.8v2.8h-2.8zM219.0 1423.8h2.8v2.8h-2.8zM283.0 1399.3h2.8v2.8h-2.8zM262.1 1360.1h2.8v2.8h-2.8zM285.0 1413.9h2.8v2.8h-2.8zM263.9 1410.0h2.8v2.8h-2.8zM273.8 1352.6h2.8v2.8h-2.8zM300.2 1409.2h2.8v2.8h-2.8zM302.0 1357.0h2.8v2.8h-2.8zM223.3 1433.1h2.8v2.8h-2.8zM292.0 1358.5h2.8v2.8h-2.8zM241.5 1352.8h2.8v2.8h-2.8zM226.4 1378.1h2.8v2.8h-2.8zM300.2 1412.3h2.8v2.8h-2.8zM218.3 1404.1h2.8v2.8h-2.8zM224.7 1417.7h2.8v2.8h-2.8zM252.6 1367.1h2.8v2.8h-2.8zM252.9 1331.7h2.8v2.8h-2.8zM275.6 1427.3h2.8v2.8h-2.8zM292.2 1361.9h2.8v2.8h-2.8zM288.2 1412.8h2.8v2.8h-2.8zM242.0 1403.0h2.8v2.8h-2.8zM250.5 1417.8h2.8v2.8h-2.8zM226.6 1411.3h2.8v2.8h-2.8zM269.7 1334.0h2.8v2.8h-2.8zM224.7 1402.3h2.8v2.8h-2.8zM271.6 1418.8h2.8v2.8h-2.8zM222.2 1348.9h2.8v2.8h-2.8zM268.8 1347.4h2.8v2.8h-2.8zM272.6 1396.3h2.8v2.8h-2.8zM234.5 1368.7h2.8v2.8h-2.8zM276.8 1375.9h2.8v2.8h-2.8zM283.9 1367.9h2.8v2.8h-2.8zM218.3 1396.5h2.8v2.8h-2.8zM252.2 1385.3h2.8v2.8h-2.8zM277.0 1423.1h2.8v2.8h-2.8zM239.3 1355.9h2.8v2.8h-2.8zM238.4 1415.6h2.8v2.8h-2.8zM224.8 1421.1h2.8v2.8h-2.8zM238.0 1424.8h2.8v2.8h-2.8zM269.8 1399.3h2.8v2.8h-2.8zM220.4 1397.5h2.8v2.8h-2.8zM296.5 1367.9h2.8v2.8h-2.8zM250.4 1355.9h2.8v2.8h-2.8zM221.4 1379.2h2.8v2.8h-2.8zM251.0 1411.8h2.8v2.8h-2.8zM238.5 1408.9h2.8v2.8h-2.8zM229.4 1431.2h2.8v2.8h-2.8zM260.7 1375.0h2.8v2.8h-2.8zM275.1 1433.0h2.8v2.8h-2.8zM287.2 1422.1h2.8v2.8h-2.8zM233.5 1420.6h2.8v2.8h-2.8zM226.0 1375.4h2.8v2.8h-2.8zM279.9 1404.3h2.8v2.8h-2.8zM228.7 1331.1h2.8v2.8h-2.8zM247.9 1363.4h2.8v2.8h-2.8zM228.5 1417.9h2.8v2.8h-2.8zM302.7 1396.6h2.8v2.8h-2.8zM299.9 1351.5h2.8v2.8h-2.8zM254.1 1347.2h2.8v2.8h-2.8zM269.4 1368.0h2.8v2.8h-2.8zM298.0 1357.8h2.8v2.8h-2.8zM255.6 1424.9h2.8v2.8h-2.8zM213.7 1402.4h2.8v2.8h-2.8zM238.6 1363.2h2.8v2.8h-2.8zM281.8 1332.1h2.8v2.8h-2.8zM264.6 1368.2h2.8v2.8h-2.8zM268.7 1402.9h2.8v2.8h-2.8zM264.9 1381.8h2.8v2.8h-2.8zM222.6 1377.1h2.8v2.8h-2.8zM277.0 1392.7h2.8v2.8h-2.8zM297.6 1409.3h2.8v2.8h-2.8zM281.3 1420.2h2.8v2.8h-2.8zM232.7 1426.0h2.8v2.8h-2.8zM244.5 1333.8h2.8v2.8h-2.8zM277.2 1403.2h2.8v2.8h-2.8zM245.4 1391.2h2.8v2.8h-2.8zM284.1 1405.8h2.8v2.8h-2.8zM216.9 1380.8h2.8v2.8h-2.8zM247.4 1369.6h2.8v2.8h-2.8zM293.9 1404.8h2.8v2.8h-2.8zM294.8 1345.3h2.8v2.8h-2.8zM222.7 1354.9h2.8v2.8h-2.8zM291.8 1347.8h2.8v2.8h-2.8zM256.1 1386.0h2.8v2.8h-2.8zM216.1 1396.4h2.8v2.8h-2.8zM225.3 1352.1h2.8v2.8h-2.8zM276.4 1354.5h2.8v2.8h-2.8zM274.4 1430.4h2.8v2.8h-2.8zM226.6 1334.8h2.8v2.8h-2.8zM272.7 1431.8h2.8v2.8h-2.8zM235.3 1377.5h2.8v2.8h-2.8zM288.7 1337.1h2.8v2.8h-2.8zM233.0 1378.6h2.8v2.8h-2.8zM214.2 1333.3h2.8v2.8h-2.8zM219.5 1352.7h2.8v2.8h-2.8zM261.6 1407.1h2.8v2.8h-2.8zM275.2 1354.3h2.8v2.8h-2.8zM270.0 1370.7h2.8v2.8h-2.8zM295.8 1374.4h2.8v2.8h-2.8zM256.6 1351.0h2.8v2.8h-2.8zM250.3 1359.5h2.8v2.8h-2.8zM273.8 1355.9h2.8v2.8h-2.8zM271.4 1413.2h2.8v2.8h-2.8zM251.5 1419.2h2.8v2.8h-2.8zM282.7 1402.4h2.8v2.8h-2.8zM231.1 1338.3h2.8v2.8h-2.8zM300.8 1347.7h2.8v2.8h-2.8zM253.5 1355.6h2.8v2.8h-2.8zM231.3 1432.4h2.8v2.8h-2.8zM297.7 1341.7h2.8v2.8h-2.8zM272.6 1345.2h2.8v2.8h-2.8zM243.2 1370.5h2.8v2.8h-2.8zM263.0 1349.0h2.8v2.8h-2.8zM277.3 1407.8h2.8v2.8h-2.8zM278.0 1356.0h2.8v2.8h-2.8zM274.9 1433.5h2.8v2.8h-2.8zM288.6 1383.4h2.8v2.8h-2.8zM213.7 1385.9h2.8v2.8h-2.8zM301.7 1379.8h2.8v2.8h-2.8zM215.1 1405.2h2.8v2.8h-2.8zM275.9 1357.4h2.8v2.8h-2.8zM264.4 1388.5h2.8v2.8h-2.8zM300.0 1333.0h2.8v2.8h-2.8zM216.5 1345.5h2.8v2.8h-2.8zM228.8 1335.1h2.8v2.8h-2.8zM231.2 1387.4h2.8v2.8h-2.8zM265.9 1405.3h2.8v2.8h-2.8zM273.4 1372.8h2.8v2.8h-2.8zM255.6 1404.0h2.8v2.8h-2.8zM269.7 1356.3h2.8v2.8h-2.8zM273.4 1394.3h2.8v2.8h-2.8zM276.9 1359.6h2.8v2.8h-2.8zM278.6 1348.9h2.8v2.8h-2.8zM287.2 1378.6h2.8v2.8h-2.8zM289.3 1342.0h2.8v2.8h-2.8zM267.5 1349.3h2.8v2.8h-2.8zM247.1 1359.8h2.8v2.8h-2.8zM285.6 1336.5h2.8v2.8h-2.8zM260.0 1387.0h2.8v2.8h-2.8zM213.8 1418.5h2.8v2.8h-2.8zM259.7 1427.5h2.8v2.8h-2.8zM218.9 1448.6h2.8v2.8h-2.8zM217.3 1456.4h2.8v2.8h-2.8zM191.2 1459.2h2.8v2.8h-2.8zM177.8 1459.5h2.8v2.8h-2.8zM179.1 1459.3h2.8v2.8h-2.8zM240.2 1457.4h2.8v2.8h-2.8zM314.1 1362.7h2.8v2.8h-2.8zM304.1 1377.9h2.8v2.8h-2.8zM330.2 1353.4h2.8v2.8h-2.8zM299.7 1348.8h2.8v2.8h-2.8zM302.4 1355.0h2.8v2.8h-2.8zM298.0 1360.4h2.8v2.8h-2.8zM326.3 1361.2h2.8v2.8h-2.8zM289.0 1348.4h2.8v2.8h-2.8zM313.2 1372.7h2.8v2.8h-2.8zM289.9 1376.7h2.8v2.8h-2.8zM293.0 1341.5h2.8v2.8h-2.8zM318.1 1341.4h2.8v2.8h-2.8zM318.6 1359.5h2.8v2.8h-2.8zM324.7 1355.5h2.8v2.8h-2.8zM305.5 1367.3h2.8v2.8h-2.8zM301.0 1371.0h2.8v2.8h-2.8zM318.2 1354.4h2.8v2.8h-2.8zM323.7 1343.6h2.8v2.8h-2.8zM288.6 1343.5h2.8v2.8h-2.8zM289.4 1351.1h2.8v2.8h-2.8zM304.3 1358.1h2.8v2.8h-2.8zM329.0 1362.4h2.8v2.8h-2.8zM308.2 1364.0h2.8v2.8h-2.8zM319.6 1365.8h2.8v2.8h-2.8zM290.8 1340.9h2.8v2.8h-2.8zM291.5 1361.9h2.8v2.8h-2.8zM241.9 1314.0h2.8v2.8h-2.8zM245.9 1293.0h2.8v2.8h-2.8zM266.2 1302.6h2.8v2.8h-2.8zM261.6 1311.5h2.8v2.8h-2.8zM255.1 1295.2h2.8v2.8h-2.8zM243.5 1319.0h2.8v2.8h-2.8zM260.7 1329.1h2.8v2.8h-2.8zM248.3 1301.5h2.8v2.8h-2.8zM245.8 1311.5h2.8v2.8h-2.8zM246.5 1290.9h2.8v2.8h-2.8zM245.4 1321.8h2.8v2.8h-2.8zM258.6 1325.2h2.8v2.8h-2.8zM243.4 1306.4h2.8v2.8h-2.8zM244.3 1322.7h2.8v2.8h-2.8zM248.4 1326.9h2.8v2.8h-2.8zM260.0 1312.0h2.8v2.8h-2.8zM241.8 1316.5h2.8v2.8h-2.8zM254.2 1290.3h2.8v2.8h-2.8zM253.5 1333.7h2.8v2.8h-2.8zM257.0 1327.0h2.8v2.8h-2.8zM252.1 1325.9h2.8v2.8h-2.8zM256.6 1309.4h2.8v2.8h-2.8zM242.0 1311.2h2.8v2.8h-2.8zM244.9 1317.1h2.8v2.8h-2.8zM246.0 1331.4h2.8v2.8h-2.8zM242.2 1301.5h2.8v2.8h-2.8zM270.3 1333.9h2.8v2.8h-2.8zM250.9 1326.3h2.8v2.8h-2.8zM260.5 1299.7h2.8v2.8h-2.8zM267.9 1305.8h2.8v2.8h-2.8zM249.0 1321.1h2.8v2.8h-2.8zM257.4 1312.4h2.8v2.8h-2.8z"/>
<g transform="translate(377,1151.5)" clip-path="url(#bclip)"><path d="M135.7,78.3 C136.6,71.4 139.1,70.0 141.0,68.0 C142.9,66.0 147.2,63.7 149.7,63.0 C152.2,62.3 157.8,62.0 160.0,62.4 C162.2,62.8 164.0,64.2 166.0,66.0 C168.0,67.8 171.3,71.9 175.2,75.7 C179.1,79.5 190.5,89.4 195.6,94.8 C200.7,100.2 210.7,112.1 213.5,116.5 C216.3,120.9 216.7,124.6 216.5,128.0 C216.3,131.4 213.5,138.8 212.0,142.0 C210.5,145.2 206.2,147.5 205.0,152.0 C203.8,156.5 204.7,171.3 203.0,176.0 C201.3,180.7 196.4,185.1 192.0,187.0 C187.6,188.9 175.9,190.0 170.0,190.0 C164.1,190.0 152.3,188.9 148.0,187.0 C143.7,185.1 139.7,179.6 138.0,176.0 C136.3,172.4 136.0,167.5 135.5,160.0 C135.0,152.5 134.5,130.9 134.5,120.0 C134.5,109.1 134.8,85.2 135.7,78.3 Z" fill="#e0cd26" fill-opacity="0.42"/><path d="M105.5,196.0 C106.0,189.7 106.9,185.5 109.0,181.0 C111.1,176.5 114.2,171.9 118.0,169.0 C121.8,166.1 125.5,164.8 132.0,163.5 C138.5,162.2 147.0,161.8 157.0,161.5 C167.0,161.2 182.8,160.8 192.0,161.5 C201.2,162.2 207.3,163.6 212.0,166.0 C216.7,168.4 219.2,172.5 220.0,176.0 C220.8,179.5 219.7,183.7 217.0,187.0 C214.3,190.3 209.7,192.9 204.0,195.6 C198.3,198.3 190.1,200.1 182.8,203.3 C175.5,206.5 167.1,210.2 160.0,215.0 C152.9,219.8 146.0,227.5 140.0,232.0 C134.0,236.5 128.6,241.3 124.0,242.0 C119.5,242.7 115.7,240.3 112.7,236.4 C109.8,232.5 107.5,225.3 106.3,218.6 C105.1,211.9 105.0,202.3 105.5,196.0 Z" fill="#f82626" fill-opacity="0.42"/><path d="M201.0,174.0 C202.8,170.7 207.2,167.8 212.0,166.0 C216.8,164.2 223.7,163.6 230.0,163.0 C236.3,162.4 244.3,162.2 250.0,162.5 C255.7,162.8 260.3,162.9 264.0,164.5 C267.7,166.1 270.2,168.9 272.0,172.0 C273.8,175.1 275.2,178.7 275.0,183.0 C274.8,187.3 272.8,193.2 271.0,198.0 C269.2,202.8 267.2,207.9 264.0,211.6 C260.8,215.3 255.8,218.1 252.0,220.0 C248.2,221.9 244.7,224.0 241.0,223.0 C237.3,222.0 233.5,217.0 230.0,214.0 C226.5,211.0 223.8,207.8 220.0,205.0 C216.2,202.2 210.2,200.2 207.0,197.0 C203.8,193.8 202.0,189.8 201.0,186.0 C200.0,182.2 199.2,177.3 201.0,174.0 Z" fill="#e9db0e" fill-opacity="0.42"/><path d="M237.8,130.4 C240.8,128.9 243.0,128.8 246.0,128.9 C249.0,129.0 252.9,129.7 256.0,131.0 C259.1,132.3 263.0,133.7 264.3,136.5 C265.6,139.3 265.0,143.4 264.0,148.0 C263.0,152.6 260.4,158.3 258.2,164.1 C256.0,169.9 253.4,176.7 251.0,183.0 C248.6,189.3 246.4,197.3 243.9,201.8 C241.4,206.3 238.4,208.3 236.0,210.0 C233.6,211.7 232.1,211.8 229.5,212.0 C226.9,212.2 224.2,212.0 220.5,211.0 C216.8,210.0 210.2,207.5 207.0,206.0 C203.8,204.5 202.9,204.2 201.1,201.8 C199.3,199.4 196.5,195.8 196.0,191.6 C195.5,187.3 195.6,181.4 198.0,176.3 C200.4,171.2 206.7,165.2 210.3,161.0 C213.9,156.8 216.5,154.6 219.4,150.8 C222.3,147.0 224.9,141.4 228.0,138.0 C231.1,134.6 234.8,131.9 237.8,130.4 Z" fill="#009da2" fill-opacity="0.42"/><ellipse cx="131" cy="257" rx="16" ry="26" transform="rotate(10 131 257)" fill="#f5ba1f" fill-opacity="0.42"/><rect x="155.5" y="186.5" width="45" height="13" rx="6.5" transform="rotate(25 178 193)" fill="#64bedf" fill-opacity="0.3"/><ellipse cx="171" cy="218" rx="23" ry="17" transform="rotate(15 171 218)" fill="#d21fd2" fill-opacity="0.42"/><ellipse cx="154" cy="238" rx="42" ry="21" transform="rotate(-60 154 238)" fill="#2626ee" fill-opacity="0.42"/><ellipse cx="180" cy="236" rx="32" ry="20" transform="rotate(-65 180 236)" fill="#de674f" fill-opacity="0.42"/><ellipse cx="190.5" cy="244" rx="22.5" ry="18.5" transform="rotate(-30 190.5 244)" fill="#0e8513" fill-opacity="0.42"/><ellipse cx="209" cy="220" rx="25" ry="14" transform="rotate(33 209 220)" fill="#6b6b6b" fill-opacity="0.5"/></g>
<path fill="#1c1c1c" d="M626.3 1382.1h2.8v2.8h-2.8zM592.0 1391.4h2.8v2.8h-2.8zM613.6 1381.8h2.8v2.8h-2.8zM609.6 1408.5h2.8v2.8h-2.8zM614.8 1402.5h2.8v2.8h-2.8zM620.5 1419.3h2.8v2.8h-2.8zM607.3 1405.9h2.8v2.8h-2.8zM603.7 1419.7h2.8v2.8h-2.8zM623.6 1418.3h2.8v2.8h-2.8zM608.6 1399.3h2.8v2.8h-2.8zM624.0 1397.2h2.8v2.8h-2.8zM631.6 1387.0h2.8v2.8h-2.8zM632.3 1425.3h2.8v2.8h-2.8zM607.3 1424.5h2.8v2.8h-2.8zM624.5 1392.0h2.8v2.8h-2.8zM609.2 1403.3h2.8v2.8h-2.8zM593.2 1392.3h2.8v2.8h-2.8zM615.7 1431.3h2.8v2.8h-2.8zM617.3 1394.7h2.8v2.8h-2.8zM596.3 1397.9h2.8v2.8h-2.8zM597.9 1417.8h2.8v2.8h-2.8zM599.5 1413.4h2.8v2.8h-2.8zM620.5 1426.9h2.8v2.8h-2.8zM608.6 1412.3h2.8v2.8h-2.8zM616.3 1417.9h2.8v2.8h-2.8zM626.2 1433.0h2.8v2.8h-2.8zM633.9 1401.2h2.8v2.8h-2.8zM604.0 1423.5h2.8v2.8h-2.8zM624.3 1407.3h2.8v2.8h-2.8zM622.4 1395.6h2.8v2.8h-2.8zM621.5 1396.4h2.8v2.8h-2.8zM633.0 1429.0h2.8v2.8h-2.8zM607.6 1433.1h2.8v2.8h-2.8zM615.3 1416.3h2.8v2.8h-2.8zM581.7 1416.2h2.8v2.8h-2.8zM627.2 1440.7h2.8v2.8h-2.8zM580.8 1386.0h2.8v2.8h-2.8zM625.5 1421.8h2.8v2.8h-2.8zM633.1 1418.9h2.8v2.8h-2.8zM601.3 1428.9h2.8v2.8h-2.8zM609.3 1407.6h2.8v2.8h-2.8zM605.7 1405.9h2.8v2.8h-2.8zM631.3 1455.7h2.8v2.8h-2.8zM615.8 1377.6h2.8v2.8h-2.8zM648.3 1411.9h2.8v2.8h-2.8zM619.3 1428.3h2.8v2.8h-2.8zM610.6 1404.8h2.8v2.8h-2.8zM598.4 1397.2h2.8v2.8h-2.8zM612.5 1402.9h2.8v2.8h-2.8zM618.0 1410.4h2.8v2.8h-2.8zM606.0 1436.7h2.8v2.8h-2.8zM583.0 1394.3h2.8v2.8h-2.8zM588.4 1415.3h2.8v2.8h-2.8zM595.5 1402.1h2.8v2.8h-2.8zM630.3 1398.0h2.8v2.8h-2.8zM603.3 1384.6h2.8v2.8h-2.8zM617.7 1421.6h2.8v2.8h-2.8zM620.8 1406.9h2.8v2.8h-2.8zM590.9 1391.8h2.8v2.8h-2.8zM600.8 1399.6h2.8v2.8h-2.8zM601.6 1421.2h2.8v2.8h-2.8zM594.8 1417.3h2.8v2.8h-2.8zM626.9 1407.7h2.8v2.8h-2.8zM620.6 1390.7h2.8v2.8h-2.8zM623.5 1391.1h2.8v2.8h-2.8zM652.5 1408.8h2.8v2.8h-2.8zM616.9 1369.0h2.8v2.8h-2.8zM604.9 1412.8h2.8v2.8h-2.8zM618.2 1417.7h2.8v2.8h-2.8zM652.9 1423.4h2.8v2.8h-2.8zM635.9 1407.0h2.8v2.8h-2.8zM586.0 1399.5h2.8v2.8h-2.8zM608.6 1400.4h2.8v2.8h-2.8zM589.9 1417.3h2.8v2.8h-2.8zM592.3 1417.7h2.8v2.8h-2.8zM633.8 1400.8h2.8v2.8h-2.8zM621.4 1395.7h2.8v2.8h-2.8zM608.1 1421.8h2.8v2.8h-2.8zM635.6 1402.0h2.8v2.8h-2.8zM609.0 1401.9h2.8v2.8h-2.8zM631.0 1401.3h2.8v2.8h-2.8zM621.4 1426.1h2.8v2.8h-2.8zM623.2 1372.8h2.8v2.8h-2.8zM600.9 1412.0h2.8v2.8h-2.8zM611.6 1409.3h2.8v2.8h-2.8zM600.6 1401.4h2.8v2.8h-2.8zM620.7 1418.7h2.8v2.8h-2.8zM591.7 1410.4h2.8v2.8h-2.8zM655.1 1404.8h2.8v2.8h-2.8zM574.8 1397.2h2.8v2.8h-2.8zM598.4 1438.5h2.8v2.8h-2.8zM590.1 1402.9h2.8v2.8h-2.8zM614.8 1390.3h2.8v2.8h-2.8zM633.7 1428.9h2.8v2.8h-2.8zM608.6 1423.5h2.8v2.8h-2.8zM609.1 1434.4h2.8v2.8h-2.8zM615.8 1411.5h2.8v2.8h-2.8zM610.0 1413.1h2.8v2.8h-2.8zM619.6 1429.2h2.8v2.8h-2.8zM598.6 1422.1h2.8v2.8h-2.8zM631.3 1416.4h2.8v2.8h-2.8zM606.4 1408.0h2.8v2.8h-2.8zM621.8 1414.3h2.8v2.8h-2.8zM607.2 1417.9h2.8v2.8h-2.8zM597.5 1409.8h2.8v2.8h-2.8zM633.5 1414.4h2.8v2.8h-2.8zM595.0 1421.8h2.8v2.8h-2.8zM619.5 1419.2h2.8v2.8h-2.8zM608.8 1386.7h2.8v2.8h-2.8zM620.4 1391.6h2.8v2.8h-2.8zM593.6 1394.6h2.8v2.8h-2.8zM590.4 1405.7h2.8v2.8h-2.8zM576.1 1376.3h2.8v2.8h-2.8zM605.1 1441.3h2.8v2.8h-2.8zM616.3 1388.4h2.8v2.8h-2.8zM623.2 1373.4h2.8v2.8h-2.8zM606.0 1402.6h2.8v2.8h-2.8zM614.9 1431.9h2.8v2.8h-2.8zM591.1 1406.8h2.8v2.8h-2.8zM622.1 1423.6h2.8v2.8h-2.8zM612.1 1434.9h2.8v2.8h-2.8zM608.7 1401.8h2.8v2.8h-2.8zM599.1 1417.8h2.8v2.8h-2.8zM615.6 1367.0h2.8v2.8h-2.8zM601.4 1382.4h2.8v2.8h-2.8zM602.9 1393.4h2.8v2.8h-2.8zM570.2 1403.4h2.8v2.8h-2.8zM630.3 1422.2h2.8v2.8h-2.8zM627.9 1410.5h2.8v2.8h-2.8zM603.5 1403.9h2.8v2.8h-2.8zM621.8 1416.3h2.8v2.8h-2.8zM603.5 1409.0h2.8v2.8h-2.8zM627.2 1402.8h2.8v2.8h-2.8zM621.5 1399.1h2.8v2.8h-2.8zM612.1 1403.4h2.8v2.8h-2.8zM625.6 1377.0h2.8v2.8h-2.8zM590.8 1396.6h2.8v2.8h-2.8zM631.3 1434.4h2.8v2.8h-2.8zM638.9 1394.5h2.8v2.8h-2.8zM593.7 1395.9h2.8v2.8h-2.8zM596.2 1436.9h2.8v2.8h-2.8zM609.3 1399.6h2.8v2.8h-2.8zM647.9 1398.5h2.8v2.8h-2.8zM585.8 1442.3h2.8v2.8h-2.8zM619.8 1397.2h2.8v2.8h-2.8zM586.8 1401.5h2.8v2.8h-2.8zM611.6 1429.2h2.8v2.8h-2.8zM609.8 1414.9h2.8v2.8h-2.8zM576.2 1413.5h2.8v2.8h-2.8zM571.4 1386.2h2.8v2.8h-2.8zM574.5 1418.8h2.8v2.8h-2.8zM613.9 1370.6h2.8v2.8h-2.8zM606.0 1413.8h2.8v2.8h-2.8zM623.1 1417.0h2.8v2.8h-2.8zM600.7 1401.2h2.8v2.8h-2.8zM598.6 1407.0h2.8v2.8h-2.8zM584.0 1385.0h2.8v2.8h-2.8zM603.2 1394.5h2.8v2.8h-2.8zM600.3 1423.0h2.8v2.8h-2.8zM580.2 1403.5h2.8v2.8h-2.8zM612.9 1394.3h2.8v2.8h-2.8zM627.1 1426.0h2.8v2.8h-2.8zM604.1 1413.1h2.8v2.8h-2.8zM606.0 1388.5h2.8v2.8h-2.8zM619.3 1443.9h2.8v2.8h-2.8zM607.5 1397.9h2.8v2.8h-2.8zM592.9 1431.0h2.8v2.8h-2.8zM634.8 1426.2h2.8v2.8h-2.8zM603.4 1402.2h2.8v2.8h-2.8zM639.9 1416.3h2.8v2.8h-2.8zM624.2 1411.2h2.8v2.8h-2.8zM611.8 1418.0h2.8v2.8h-2.8zM621.5 1378.3h2.8v2.8h-2.8zM629.0 1410.1h2.8v2.8h-2.8zM600.0 1372.3h2.8v2.8h-2.8zM615.1 1407.1h2.8v2.8h-2.8zM594.3 1405.7h2.8v2.8h-2.8zM637.5 1399.3h2.8v2.8h-2.8zM612.8 1425.5h2.8v2.8h-2.8zM600.2 1377.2h2.8v2.8h-2.8zM605.3 1412.0h2.8v2.8h-2.8zM592.3 1418.9h2.8v2.8h-2.8zM601.9 1417.1h2.8v2.8h-2.8zM601.6 1410.2h2.8v2.8h-2.8zM601.0 1432.5h2.8v2.8h-2.8zM637.9 1418.4h2.8v2.8h-2.8zM611.6 1398.8h2.8v2.8h-2.8zM603.9 1391.4h2.8v2.8h-2.8zM622.2 1366.9h2.8v2.8h-2.8zM590.5 1433.2h2.8v2.8h-2.8zM606.9 1407.8h2.8v2.8h-2.8zM595.0 1395.1h2.8v2.8h-2.8zM627.8 1367.3h2.8v2.8h-2.8zM627.3 1390.8h2.8v2.8h-2.8zM633.5 1413.9h2.8v2.8h-2.8zM589.5 1393.0h2.8v2.8h-2.8zM583.1 1404.7h2.8v2.8h-2.8zM613.9 1423.1h2.8v2.8h-2.8zM636.7 1396.8h2.8v2.8h-2.8zM648.0 1380.0h2.8v2.8h-2.8zM607.2 1414.9h2.8v2.8h-2.8zM615.2 1385.5h2.8v2.8h-2.8zM610.0 1406.1h2.8v2.8h-2.8zM569.1 1399.1h2.8v2.8h-2.8zM604.2 1391.1h2.8v2.8h-2.8zM626.9 1428.7h2.8v2.8h-2.8zM607.2 1401.1h2.8v2.8h-2.8zM628.4 1397.5h2.8v2.8h-2.8zM622.7 1405.1h2.8v2.8h-2.8zM590.3 1408.5h2.8v2.8h-2.8zM610.7 1411.0h2.8v2.8h-2.8zM634.7 1375.5h2.8v2.8h-2.8zM604.8 1393.8h2.8v2.8h-2.8zM589.8 1416.2h2.8v2.8h-2.8zM607.0 1422.5h2.8v2.8h-2.8zM589.3 1410.9h2.8v2.8h-2.8zM613.1 1439.0h2.8v2.8h-2.8zM628.6 1395.2h2.8v2.8h-2.8zM591.3 1416.1h2.8v2.8h-2.8zM634.9 1384.6h2.8v2.8h-2.8zM641.6 1416.2h2.8v2.8h-2.8zM605.6 1376.2h2.8v2.8h-2.8zM614.5 1409.5h2.8v2.8h-2.8zM592.8 1411.6h2.8v2.8h-2.8zM625.6 1436.5h2.8v2.8h-2.8zM626.5 1403.2h2.8v2.8h-2.8zM574.0 1417.8h2.8v2.8h-2.8zM624.7 1401.6h2.8v2.8h-2.8zM601.5 1377.5h2.8v2.8h-2.8zM592.0 1405.3h2.8v2.8h-2.8zM599.0 1409.0h2.8v2.8h-2.8zM612.2 1426.4h2.8v2.8h-2.8zM625.2 1402.7h2.8v2.8h-2.8zM627.3 1406.3h2.8v2.8h-2.8zM644.6 1408.6h2.8v2.8h-2.8zM607.7 1425.6h2.8v2.8h-2.8zM616.1 1425.9h2.8v2.8h-2.8zM608.6 1440.4h2.8v2.8h-2.8zM625.8 1402.2h2.8v2.8h-2.8zM594.5 1406.1h2.8v2.8h-2.8zM631.4 1409.9h2.8v2.8h-2.8zM616.6 1406.7h2.8v2.8h-2.8zM588.3 1405.6h2.8v2.8h-2.8zM594.7 1436.5h2.8v2.8h-2.8zM602.1 1405.8h2.8v2.8h-2.8zM612.0 1416.3h2.8v2.8h-2.8zM611.6 1397.7h2.8v2.8h-2.8zM591.0 1416.3h2.8v2.8h-2.8zM590.1 1393.4h2.8v2.8h-2.8zM637.2 1409.3h2.8v2.8h-2.8zM605.7 1406.7h2.8v2.8h-2.8zM597.9 1416.2h2.8v2.8h-2.8zM579.9 1404.5h2.8v2.8h-2.8zM623.2 1401.2h2.8v2.8h-2.8zM625.5 1401.4h2.8v2.8h-2.8zM628.9 1413.7h2.8v2.8h-2.8zM629.3 1418.9h2.8v2.8h-2.8zM608.1 1417.8h2.8v2.8h-2.8zM606.8 1419.8h2.8v2.8h-2.8zM633.4 1426.3h2.8v2.8h-2.8zM614.4 1404.7h2.8v2.8h-2.8zM643.9 1374.4h2.8v2.8h-2.8zM609.5 1421.9h2.8v2.8h-2.8zM652.2 1417.7h2.8v2.8h-2.8zM587.8 1398.8h2.8v2.8h-2.8zM614.6 1408.7h2.8v2.8h-2.8zM638.6 1387.1h2.8v2.8h-2.8zM593.9 1373.8h2.8v2.8h-2.8zM627.7 1401.9h2.8v2.8h-2.8zM617.4 1400.3h2.8v2.8h-2.8zM618.7 1402.6h2.8v2.8h-2.8zM653.8 1408.1h2.8v2.8h-2.8zM595.9 1400.6h2.8v2.8h-2.8zM607.4 1394.7h2.8v2.8h-2.8zM636.9 1412.8h2.8v2.8h-2.8zM633.4 1403.5h2.8v2.8h-2.8zM588.6 1412.0h2.8v2.8h-2.8zM605.7 1422.3h2.8v2.8h-2.8zM608.4 1415.5h2.8v2.8h-2.8zM645.7 1417.0h2.8v2.8h-2.8zM622.3 1388.4h2.8v2.8h-2.8zM610.5 1384.8h2.8v2.8h-2.8zM594.7 1398.6h2.8v2.8h-2.8zM588.7 1428.7h2.8v2.8h-2.8zM616.8 1398.3h2.8v2.8h-2.8zM643.8 1414.8h2.8v2.8h-2.8zM607.6 1412.5h2.8v2.8h-2.8zM616.4 1412.2h2.8v2.8h-2.8zM602.5 1399.4h2.8v2.8h-2.8zM624.6 1435.1h2.8v2.8h-2.8zM608.8 1441.3h2.8v2.8h-2.8zM577.2 1431.4h2.8v2.8h-2.8zM583.9 1398.5h2.8v2.8h-2.8zM596.1 1409.4h2.8v2.8h-2.8zM586.3 1423.0h2.8v2.8h-2.8zM598.7 1409.7h2.8v2.8h-2.8zM608.1 1425.5h2.8v2.8h-2.8zM594.1 1405.0h2.8v2.8h-2.8zM595.5 1417.5h2.8v2.8h-2.8zM621.5 1415.3h2.8v2.8h-2.8zM649.9 1434.5h2.8v2.8h-2.8zM577.5 1397.2h2.8v2.8h-2.8zM633.0 1411.2h2.8v2.8h-2.8zM632.9 1447.6h2.8v2.8h-2.8zM601.1 1414.7h2.8v2.8h-2.8zM642.3 1406.7h2.8v2.8h-2.8zM629.8 1436.3h2.8v2.8h-2.8zM625.2 1404.1h2.8v2.8h-2.8zM646.0 1367.2h2.8v2.8h-2.8zM570.3 1368.3h2.8v2.8h-2.8zM576.1 1383.6h2.8v2.8h-2.8zM591.8 1386.5h2.8v2.8h-2.8zM600.2 1420.4h2.8v2.8h-2.8zM660.8 1384.2h2.8v2.8h-2.8zM600.8 1419.2h2.8v2.8h-2.8zM578.0 1426.4h2.8v2.8h-2.8zM627.7 1386.1h2.8v2.8h-2.8zM614.0 1443.5h2.8v2.8h-2.8zM581.3 1427.3h2.8v2.8h-2.8zM621.6 1395.8h2.8v2.8h-2.8zM604.6 1442.0h2.8v2.8h-2.8zM663.6 1372.6h2.8v2.8h-2.8zM623.2 1442.4h2.8v2.8h-2.8zM618.2 1381.7h2.8v2.8h-2.8zM602.8 1360.4h2.8v2.8h-2.8zM591.9 1369.2h2.8v2.8h-2.8zM574.0 1355.5h2.8v2.8h-2.8zM640.0 1369.1h2.8v2.8h-2.8zM585.1 1378.2h2.8v2.8h-2.8zM668.0 1370.4h2.8v2.8h-2.8zM591.6 1415.5h2.8v2.8h-2.8zM632.4 1440.7h2.8v2.8h-2.8zM674.5 1365.7h2.8v2.8h-2.8zM658.5 1413.0h2.8v2.8h-2.8zM670.2 1391.2h2.8v2.8h-2.8zM619.9 1368.8h2.8v2.8h-2.8zM602.8 1410.3h2.8v2.8h-2.8zM573.8 1445.1h2.8v2.8h-2.8zM615.0 1431.6h2.8v2.8h-2.8zM604.1 1373.9h2.8v2.8h-2.8zM562.1 1409.7h2.8v2.8h-2.8zM570.8 1412.1h2.8v2.8h-2.8zM636.9 1359.5h2.8v2.8h-2.8zM574.0 1390.8h2.8v2.8h-2.8zM639.5 1394.4h2.8v2.8h-2.8zM563.6 1370.9h2.8v2.8h-2.8zM562.1 1370.1h2.8v2.8h-2.8zM607.2 1363.0h2.8v2.8h-2.8zM668.5 1417.3h2.8v2.8h-2.8zM643.8 1440.4h2.8v2.8h-2.8zM679.9 1410.9h2.8v2.8h-2.8zM595.1 1380.4h2.8v2.8h-2.8zM601.7 1393.3h2.8v2.8h-2.8zM577.2 1368.5h2.8v2.8h-2.8zM609.4 1397.7h2.8v2.8h-2.8zM593.4 1401.6h2.8v2.8h-2.8zM674.0 1398.2h2.8v2.8h-2.8zM644.1 1414.9h2.8v2.8h-2.8zM636.3 1400.2h2.8v2.8h-2.8zM652.5 1411.7h2.8v2.8h-2.8zM618.0 1364.4h2.8v2.8h-2.8zM649.5 1418.2h2.8v2.8h-2.8zM614.6 1426.3h2.8v2.8h-2.8zM678.3 1404.6h2.8v2.8h-2.8zM597.6 1380.1h2.8v2.8h-2.8zM564.9 1441.3h2.8v2.8h-2.8zM656.2 1412.2h2.8v2.8h-2.8zM581.2 1403.6h2.8v2.8h-2.8zM563.8 1356.8h2.8v2.8h-2.8zM573.0 1386.1h2.8v2.8h-2.8zM644.9 1405.1h2.8v2.8h-2.8zM584.2 1385.3h2.8v2.8h-2.8zM677.9 1374.8h2.8v2.8h-2.8zM641.8 1387.8h2.8v2.8h-2.8zM671.8 1394.7h2.8v2.8h-2.8zM668.6 1372.2h2.8v2.8h-2.8zM568.6 1411.8h2.8v2.8h-2.8zM569.0 1402.8h2.8v2.8h-2.8zM615.0 1418.4h2.8v2.8h-2.8zM610.4 1363.2h2.8v2.8h-2.8zM586.8 1429.0h2.8v2.8h-2.8zM647.2 1391.1h2.8v2.8h-2.8zM625.3 1398.8h2.8v2.8h-2.8zM567.2 1368.2h2.8v2.8h-2.8zM632.2 1408.2h2.8v2.8h-2.8zM653.0 1407.3h2.8v2.8h-2.8zM613.1 1391.0h2.8v2.8h-2.8zM598.7 1414.8h2.8v2.8h-2.8zM652.3 1357.4h2.8v2.8h-2.8zM584.4 1435.4h2.8v2.8h-2.8zM603.3 1355.4h2.8v2.8h-2.8zM659.2 1386.8h2.8v2.8h-2.8zM665.0 1393.6h2.8v2.8h-2.8zM595.1 1438.3h2.8v2.8h-2.8zM643.2 1447.4h2.8v2.8h-2.8zM655.3 1424.3h2.8v2.8h-2.8zM576.7 1415.6h2.8v2.8h-2.8zM613.6 1408.9h2.8v2.8h-2.8zM623.8 1395.3h2.8v2.8h-2.8zM583.8 1402.2h2.8v2.8h-2.8zM568.2 1446.1h2.8v2.8h-2.8zM669.6 1360.9h2.8v2.8h-2.8zM674.8 1415.5h2.8v2.8h-2.8zM671.0 1365.3h2.8v2.8h-2.8zM636.7 1444.6h2.8v2.8h-2.8zM566.2 1445.2h2.8v2.8h-2.8zM664.2 1379.4h2.8v2.8h-2.8zM639.6 1435.3h2.8v2.8h-2.8zM596.9 1449.2h2.8v2.8h-2.8zM650.0 1369.7h2.8v2.8h-2.8zM648.3 1428.3h2.8v2.8h-2.8zM633.1 1412.3h2.8v2.8h-2.8zM579.4 1412.8h2.8v2.8h-2.8zM679.4 1389.1h2.8v2.8h-2.8zM570.1 1370.5h2.8v2.8h-2.8zM577.4 1383.9h2.8v2.8h-2.8zM605.1 1396.2h2.8v2.8h-2.8zM627.0 1380.4h2.8v2.8h-2.8zM589.5 1380.3h2.8v2.8h-2.8zM636.7 1395.0h2.8v2.8h-2.8zM664.9 1382.6h2.8v2.8h-2.8zM607.0 1446.2h2.8v2.8h-2.8zM565.4 1379.9h2.8v2.8h-2.8zM677.7 1362.5h2.8v2.8h-2.8zM642.5 1363.1h2.8v2.8h-2.8zM600.7 1368.5h2.8v2.8h-2.8zM595.8 1445.2h2.8v2.8h-2.8zM554.8 1427.0h2.8v2.8h-2.8zM550.6 1423.7h2.8v2.8h-2.8zM597.4 1456.4h2.8v2.8h-2.8zM553.6 1452.9h2.8v2.8h-2.8zM601.1 1446.2h2.8v2.8h-2.8zM590.0 1433.6h2.8v2.8h-2.8zM561.1 1450.8h2.8v2.8h-2.8zM577.4 1457.8h2.8v2.8h-2.8zM557.9 1443.4h2.8v2.8h-2.8zM554.7 1438.6h2.8v2.8h-2.8zM604.6 1431.6h2.8v2.8h-2.8zM570.2 1422.0h2.8v2.8h-2.8zM515.6 1425.9h2.8v2.8h-2.8zM534.5 1423.3h2.8v2.8h-2.8zM587.3 1449.7h2.8v2.8h-2.8zM590.0 1421.6h2.8v2.8h-2.8zM523.9 1426.6h2.8v2.8h-2.8zM571.0 1447.7h2.8v2.8h-2.8zM557.8 1440.7h2.8v2.8h-2.8zM559.1 1435.9h2.8v2.8h-2.8zM544.2 1454.6h2.8v2.8h-2.8zM529.2 1434.6h2.8v2.8h-2.8zM585.1 1442.8h2.8v2.8h-2.8zM570.0 1423.8h2.8v2.8h-2.8zM552.5 1455.8h2.8v2.8h-2.8zM547.1 1451.6h2.8v2.8h-2.8zM516.2 1445.2h2.8v2.8h-2.8zM572.9 1455.8h2.8v2.8h-2.8zM563.3 1438.6h2.8v2.8h-2.8zM599.2 1420.3h2.8v2.8h-2.8zM565.0 1369.0h2.8v2.8h-2.8zM583.8 1373.7h2.8v2.8h-2.8zM600.4 1382.2h2.8v2.8h-2.8zM597.5 1382.3h2.8v2.8h-2.8zM558.5 1362.3h2.8v2.8h-2.8zM590.7 1378.9h2.8v2.8h-2.8zM556.6 1355.3h2.8v2.8h-2.8zM583.1 1377.9h2.8v2.8h-2.8zM568.3 1368.0h2.8v2.8h-2.8zM566.5 1363.0h2.8v2.8h-2.8zM576.4 1372.3h2.8v2.8h-2.8zM545.5 1363.9h2.8v2.8h-2.8zM608.1 1387.2h2.8v2.8h-2.8zM576.4 1376.7h2.8v2.8h-2.8zM562.1 1363.5h2.8v2.8h-2.8zM543.6 1359.4h2.8v2.8h-2.8zM552.5 1361.3h2.8v2.8h-2.8zM556.3 1362.0h2.8v2.8h-2.8zM594.0 1379.2h2.8v2.8h-2.8zM564.2 1366.3h2.8v2.8h-2.8zM569.2 1374.1h2.8v2.8h-2.8zM592.3 1379.0h2.8v2.8h-2.8zM597.1 1383.9h2.8v2.8h-2.8zM559.3 1369.2h2.8v2.8h-2.8zM571.7 1372.4h2.8v2.8h-2.8zM566.5 1370.1h2.8v2.8h-2.8zM581.1 1379.8h2.8v2.8h-2.8zM588.1 1373.5h2.8v2.8h-2.8zM601.6 1393.2h2.8v2.8h-2.8zM598.4 1382.3h2.8v2.8h-2.8zM606.8 1388.7h2.8v2.8h-2.8zM565.6 1369.0h2.8v2.8h-2.8zM576.8 1370.6h2.8v2.8h-2.8zM578.5 1374.7h2.8v2.8h-2.8zM572.2 1377.0h2.8v2.8h-2.8zM563.7 1369.1h2.8v2.8h-2.8zM573.9 1375.1h2.8v2.8h-2.8zM588.9 1381.2h2.8v2.8h-2.8zM549.8 1367.0h2.8v2.8h-2.8zM579.3 1372.1h2.8v2.8h-2.8zM594.7 1384.2h2.8v2.8h-2.8zM570.8 1368.7h2.8v2.8h-2.8zM556.1 1364.9h2.8v2.8h-2.8zM606.7 1391.1h2.8v2.8h-2.8zM548.1 1355.0h2.8v2.8h-2.8zM583.5 1381.6h2.8v2.8h-2.8zM604.4 1389.9h2.8v2.8h-2.8zM570.5 1375.2h2.8v2.8h-2.8zM544.9 1354.6h2.8v2.8h-2.8zM585.1 1378.3h2.8v2.8h-2.8zM544.7 1361.3h2.8v2.8h-2.8zM598.5 1380.9h2.8v2.8h-2.8zM590.6 1379.9h2.8v2.8h-2.8zM556.5 1359.2h2.8v2.8h-2.8zM553.3 1363.5h2.8v2.8h-2.8zM587.1 1374.5h2.8v2.8h-2.8zM609.8 1382.8h2.8v2.8h-2.8zM592.6 1387.4h2.8v2.8h-2.8zM555.5 1362.6h2.8v2.8h-2.8zM593.3 1380.3h2.8v2.8h-2.8z"/>
<g transform="translate(752,1151.5)" clip-path="url(#bclip)"><path d="M135.7,78.3 C136.6,71.4 139.1,70.0 141.0,68.0 C142.9,66.0 147.2,63.7 149.7,63.0 C152.2,62.3 157.8,62.0 160.0,62.4 C162.2,62.8 164.0,64.2 166.0,66.0 C168.0,67.8 171.3,71.9 175.2,75.7 C179.1,79.5 190.5,89.4 195.6,94.8 C200.7,100.2 210.7,112.1 213.5,116.5 C216.3,120.9 216.7,124.6 216.5,128.0 C216.3,131.4 213.5,138.8 212.0,142.0 C210.5,145.2 206.2,147.5 205.0,152.0 C203.8,156.5 204.7,171.3 203.0,176.0 C201.3,180.7 196.4,185.1 192.0,187.0 C187.6,188.9 175.9,190.0 170.0,190.0 C164.1,190.0 152.3,188.9 148.0,187.0 C143.7,185.1 139.7,179.6 138.0,176.0 C136.3,172.4 136.0,167.5 135.5,160.0 C135.0,152.5 134.5,130.9 134.5,120.0 C134.5,109.1 134.8,85.2 135.7,78.3 Z" fill="#e0cd26" fill-opacity="0.42"/><path d="M105.5,196.0 C106.0,189.7 106.9,185.5 109.0,181.0 C111.1,176.5 114.2,171.9 118.0,169.0 C121.8,166.1 125.5,164.8 132.0,163.5 C138.5,162.2 147.0,161.8 157.0,161.5 C167.0,161.2 182.8,160.8 192.0,161.5 C201.2,162.2 207.3,163.6 212.0,166.0 C216.7,168.4 219.2,172.5 220.0,176.0 C220.8,179.5 219.7,183.7 217.0,187.0 C214.3,190.3 209.7,192.9 204.0,195.6 C198.3,198.3 190.1,200.1 182.8,203.3 C175.5,206.5 167.1,210.2 160.0,215.0 C152.9,219.8 146.0,227.5 140.0,232.0 C134.0,236.5 128.6,241.3 124.0,242.0 C119.5,242.7 115.7,240.3 112.7,236.4 C109.8,232.5 107.5,225.3 106.3,218.6 C105.1,211.9 105.0,202.3 105.5,196.0 Z" fill="#f82626" fill-opacity="0.42"/><path d="M201.0,174.0 C202.8,170.7 207.2,167.8 212.0,166.0 C216.8,164.2 223.7,163.6 230.0,163.0 C236.3,162.4 244.3,162.2 250.0,162.5 C255.7,162.8 260.3,162.9 264.0,164.5 C267.7,166.1 270.2,168.9 272.0,172.0 C273.8,175.1 275.2,178.7 275.0,183.0 C274.8,187.3 272.8,193.2 271.0,198.0 C269.2,202.8 267.2,207.9 264.0,211.6 C260.8,215.3 255.8,218.1 252.0,220.0 C248.2,221.9 244.7,224.0 241.0,223.0 C237.3,222.0 233.5,217.0 230.0,214.0 C226.5,211.0 223.8,207.8 220.0,205.0 C216.2,202.2 210.2,200.2 207.0,197.0 C203.8,193.8 202.0,189.8 201.0,186.0 C200.0,182.2 199.2,177.3 201.0,174.0 Z" fill="#e9db0e" fill-opacity="0.42"/><path d="M237.8,130.4 C240.8,128.9 243.0,128.8 246.0,128.9 C249.0,129.0 252.9,129.7 256.0,131.0 C259.1,132.3 263.0,133.7 264.3,136.5 C265.6,139.3 265.0,143.4 264.0,148.0 C263.0,152.6 260.4,158.3 258.2,164.1 C256.0,169.9 253.4,176.7 251.0,183.0 C248.6,189.3 246.4,197.3 243.9,201.8 C241.4,206.3 238.4,208.3 236.0,210.0 C233.6,211.7 232.1,211.8 229.5,212.0 C226.9,212.2 224.2,212.0 220.5,211.0 C216.8,210.0 210.2,207.5 207.0,206.0 C203.8,204.5 202.9,204.2 201.1,201.8 C199.3,199.4 196.5,195.8 196.0,191.6 C195.5,187.3 195.6,181.4 198.0,176.3 C200.4,171.2 206.7,165.2 210.3,161.0 C213.9,156.8 216.5,154.6 219.4,150.8 C222.3,147.0 224.9,141.4 228.0,138.0 C231.1,134.6 234.8,131.9 237.8,130.4 Z" fill="#009da2" fill-opacity="0.42"/><rect x="43.0" y="227.0" width="100" height="24" rx="12.0" transform="rotate(-74 93 239)" fill="#006e72" fill-opacity="0.42"/><ellipse cx="105" cy="273" rx="10" ry="13" transform="rotate(20 105 273)" fill="#ba2a2a" fill-opacity="0.45"/><path d="M103.1,228.9 C107.0,224.8 113.3,221.7 118.4,220.7 C123.5,219.7 130.8,221.6 133.7,222.8 C136.6,224.0 136.5,223.3 135.8,227.9 C135.1,232.5 131.7,243.2 129.6,250.3 C127.5,257.4 125.9,265.4 123.5,270.7 C121.1,276.0 118.8,279.3 115.4,282.0 C112.0,284.7 106.5,286.3 103.1,287.1 C99.7,287.9 97.4,288.1 95.0,286.6 C92.6,285.1 89.8,282.1 88.8,277.9 C87.8,273.7 88.3,267.1 89.3,261.6 C90.3,256.2 92.6,250.6 94.9,245.2 C97.2,239.8 99.2,233.0 103.1,228.9 Z" fill="#ba2a2a" fill-opacity="0.45"/><path d="M119.0,222.0 C120.5,217.6 124.5,218.7 127.0,218.5 C129.5,218.3 132.9,217.4 134.0,221.0 C135.1,224.6 134.0,234.2 133.5,240.0 C133.0,245.8 132.2,252.2 131.0,256.0 C129.8,259.8 127.8,262.3 126.0,263.0 C124.2,263.7 121.3,263.0 120.0,260.0 C118.7,257.0 118.2,251.3 118.0,245.0 C117.8,238.7 117.5,226.4 119.0,222.0 Z" fill="#a40000" fill-opacity="0.38"/><ellipse cx="141" cy="248" rx="15" ry="27" transform="rotate(10 141 248)" fill="#ad3d3d" fill-opacity="0.4"/><ellipse cx="131" cy="257" rx="16" ry="26" transform="rotate(10 131 257)" fill="#f5ba1f" fill-opacity="0.42"/><rect x="155.5" y="186.5" width="45" height="13" rx="6.5" transform="rotate(25 178 193)" fill="#64bedf" fill-opacity="0.3"/><ellipse cx="171" cy="218" rx="23" ry="17" transform="rotate(15 171 218)" fill="#d21fd2" fill-opacity="0.42"/><ellipse cx="154" cy="238" rx="42" ry="21" transform="rotate(-60 154 238)" fill="#2626ee" fill-opacity="0.42"/><ellipse cx="180" cy="236" rx="32" ry="20" transform="rotate(-65 180 236)" fill="#de674f" fill-opacity="0.42"/><ellipse cx="190.5" cy="244" rx="22.5" ry="18.5" transform="rotate(-30 190.5 244)" fill="#0e8513" fill-opacity="0.42"/><ellipse cx="209" cy="220" rx="25" ry="14" transform="rotate(33 209 220)" fill="#6b6b6b" fill-opacity="0.5"/></g>
<path fill="#1c1c1c" d="M999.9 1382.3h2.8v2.8h-2.8zM1038.6 1374.6h2.8v2.8h-2.8zM1042.5 1363.4h2.8v2.8h-2.8zM993.0 1391.6h2.8v2.8h-2.8zM1026.1 1407.3h2.8v2.8h-2.8zM1005.7 1376.5h2.8v2.8h-2.8zM1029.0 1346.0h2.8v2.8h-2.8zM1008.0 1365.0h2.8v2.8h-2.8zM1026.3 1360.8h2.8v2.8h-2.8zM1008.5 1412.9h2.8v2.8h-2.8zM1032.3 1419.9h2.8v2.8h-2.8zM1033.2 1377.5h2.8v2.8h-2.8zM998.0 1369.4h2.8v2.8h-2.8zM1011.6 1382.2h2.8v2.8h-2.8zM1050.3 1359.3h2.8v2.8h-2.8zM1021.2 1366.3h2.8v2.8h-2.8zM992.1 1374.6h2.8v2.8h-2.8zM1029.3 1382.3h2.8v2.8h-2.8zM1007.8 1380.0h2.8v2.8h-2.8zM1050.3 1379.9h2.8v2.8h-2.8zM1001.2 1340.7h2.8v2.8h-2.8zM1021.1 1368.8h2.8v2.8h-2.8zM1041.6 1416.4h2.8v2.8h-2.8zM992.8 1373.6h2.8v2.8h-2.8zM987.4 1353.0h2.8v2.8h-2.8zM1043.9 1365.7h2.8v2.8h-2.8zM1012.2 1375.5h2.8v2.8h-2.8zM1007.5 1363.7h2.8v2.8h-2.8zM1044.4 1380.3h2.8v2.8h-2.8zM1004.5 1406.0h2.8v2.8h-2.8zM1038.3 1382.6h2.8v2.8h-2.8zM1012.7 1378.3h2.8v2.8h-2.8zM1008.6 1403.4h2.8v2.8h-2.8zM1034.7 1394.2h2.8v2.8h-2.8zM1009.3 1374.2h2.8v2.8h-2.8zM1036.4 1394.3h2.8v2.8h-2.8zM991.7 1403.4h2.8v2.8h-2.8zM1017.1 1381.4h2.8v2.8h-2.8zM1009.4 1377.3h2.8v2.8h-2.8zM1013.4 1368.0h2.8v2.8h-2.8zM994.8 1387.9h2.8v2.8h-2.8zM1025.5 1383.0h2.8v2.8h-2.8zM1030.1 1384.2h2.8v2.8h-2.8zM1009.0 1390.1h2.8v2.8h-2.8zM1037.1 1402.1h2.8v2.8h-2.8zM997.5 1368.3h2.8v2.8h-2.8zM1007.3 1367.4h2.8v2.8h-2.8zM1020.5 1389.6h2.8v2.8h-2.8zM1009.2 1347.9h2.8v2.8h-2.8zM1023.1 1408.4h2.8v2.8h-2.8zM989.7 1423.5h2.8v2.8h-2.8zM989.2 1391.5h2.8v2.8h-2.8zM1040.2 1388.0h2.8v2.8h-2.8zM1060.2 1352.9h2.8v2.8h-2.8zM1025.7 1384.4h2.8v2.8h-2.8zM1013.9 1377.0h2.8v2.8h-2.8zM1015.7 1357.6h2.8v2.8h-2.8zM1033.5 1339.4h2.8v2.8h-2.8zM995.3 1345.4h2.8v2.8h-2.8zM1037.0 1353.3h2.8v2.8h-2.8zM1014.1 1352.4h2.8v2.8h-2.8zM1012.5 1416.9h2.8v2.8h-2.8zM1042.1 1361.5h2.8v2.8h-2.8zM1011.8 1367.2h2.8v2.8h-2.8zM1000.7 1395.2h2.8v2.8h-2.8zM1003.0 1367.0h2.8v2.8h-2.8zM1033.6 1375.9h2.8v2.8h-2.8zM1040.5 1385.6h2.8v2.8h-2.8zM945.9 1373.7h2.8v2.8h-2.8zM1017.6 1366.5h2.8v2.8h-2.8zM977.8 1352.6h2.8v2.8h-2.8zM1010.1 1423.8h2.8v2.8h-2.8zM1036.3 1344.0h2.8v2.8h-2.8zM1036.3 1392.8h2.8v2.8h-2.8zM1000.4 1391.9h2.8v2.8h-2.8zM1040.7 1375.8h2.8v2.8h-2.8zM1021.5 1374.5h2.8v2.8h-2.8zM1037.1 1356.0h2.8v2.8h-2.8zM1003.0 1391.1h2.8v2.8h-2.8zM990.8 1397.0h2.8v2.8h-2.8zM1036.7 1384.2h2.8v2.8h-2.8zM995.3 1368.2h2.8v2.8h-2.8zM977.0 1377.0h2.8v2.8h-2.8zM1025.9 1366.9h2.8v2.8h-2.8zM1007.0 1383.6h2.8v2.8h-2.8zM1031.4 1385.9h2.8v2.8h-2.8zM1020.8 1402.8h2.8v2.8h-2.8zM1005.2 1412.0h2.8v2.8h-2.8zM1001.7 1418.4h2.8v2.8h-2.8zM1015.4 1375.0h2.8v2.8h-2.8zM1010.0 1384.5h2.8v2.8h-2.8zM1049.3 1389.6h2.8v2.8h-2.8zM1024.4 1348.9h2.8v2.8h-2.8zM1016.7 1395.1h2.8v2.8h-2.8zM1042.3 1398.3h2.8v2.8h-2.8zM1044.1 1341.4h2.8v2.8h-2.8zM1045.7 1369.0h2.8v2.8h-2.8zM961.2 1389.3h2.8v2.8h-2.8zM984.3 1381.7h2.8v2.8h-2.8zM1016.0 1378.5h2.8v2.8h-2.8zM1033.5 1379.6h2.8v2.8h-2.8zM1027.1 1397.4h2.8v2.8h-2.8zM1012.3 1406.2h2.8v2.8h-2.8zM1056.1 1359.5h2.8v2.8h-2.8zM1026.3 1366.2h2.8v2.8h-2.8zM1000.1 1343.9h2.8v2.8h-2.8zM1013.6 1410.7h2.8v2.8h-2.8zM1015.6 1355.5h2.8v2.8h-2.8zM1027.2 1361.5h2.8v2.8h-2.8zM1030.0 1397.3h2.8v2.8h-2.8zM1026.9 1384.0h2.8v2.8h-2.8zM1012.4 1371.1h2.8v2.8h-2.8zM971.8 1384.5h2.8v2.8h-2.8zM1045.8 1387.6h2.8v2.8h-2.8zM1011.8 1366.9h2.8v2.8h-2.8zM1002.3 1378.7h2.8v2.8h-2.8zM1044.6 1377.7h2.8v2.8h-2.8zM1085.4 1340.5h2.8v2.8h-2.8zM1018.5 1388.8h2.8v2.8h-2.8zM1031.4 1355.7h2.8v2.8h-2.8zM1030.9 1375.2h2.8v2.8h-2.8zM1019.7 1383.2h2.8v2.8h-2.8zM975.7 1390.3h2.8v2.8h-2.8zM1004.4 1365.7h2.8v2.8h-2.8zM1032.8 1400.9h2.8v2.8h-2.8zM981.6 1369.8h2.8v2.8h-2.8zM1017.5 1408.8h2.8v2.8h-2.8zM1037.1 1390.3h2.8v2.8h-2.8zM1048.1 1373.8h2.8v2.8h-2.8zM1046.9 1390.4h2.8v2.8h-2.8zM995.9 1362.2h2.8v2.8h-2.8zM1027.4 1363.8h2.8v2.8h-2.8zM1036.0 1330.5h2.8v2.8h-2.8zM1033.6 1385.8h2.8v2.8h-2.8zM1015.5 1367.2h2.8v2.8h-2.8zM1012.3 1373.4h2.8v2.8h-2.8zM1037.4 1370.3h2.8v2.8h-2.8zM993.8 1376.9h2.8v2.8h-2.8zM1008.5 1398.0h2.8v2.8h-2.8zM1023.6 1424.6h2.8v2.8h-2.8zM1023.9 1375.6h2.8v2.8h-2.8zM1016.9 1389.3h2.8v2.8h-2.8zM1023.7 1360.9h2.8v2.8h-2.8zM1009.3 1373.1h2.8v2.8h-2.8zM1001.4 1348.1h2.8v2.8h-2.8zM1022.2 1379.9h2.8v2.8h-2.8zM1001.9 1380.3h2.8v2.8h-2.8zM977.9 1373.7h2.8v2.8h-2.8zM1035.4 1370.6h2.8v2.8h-2.8zM1044.4 1402.8h2.8v2.8h-2.8zM1014.4 1357.9h2.8v2.8h-2.8zM1007.0 1358.6h2.8v2.8h-2.8zM1023.5 1387.1h2.8v2.8h-2.8zM1021.1 1394.5h2.8v2.8h-2.8zM1006.4 1402.0h2.8v2.8h-2.8zM1032.4 1332.8h2.8v2.8h-2.8zM1059.1 1360.9h2.8v2.8h-2.8zM1014.4 1396.6h2.8v2.8h-2.8zM1013.8 1354.8h2.8v2.8h-2.8zM1002.9 1411.9h2.8v2.8h-2.8zM1015.1 1376.7h2.8v2.8h-2.8zM1047.2 1379.6h2.8v2.8h-2.8zM998.7 1358.4h2.8v2.8h-2.8zM1021.7 1387.5h2.8v2.8h-2.8zM1003.8 1386.4h2.8v2.8h-2.8zM994.3 1367.4h2.8v2.8h-2.8zM1012.9 1392.6h2.8v2.8h-2.8zM979.1 1365.2h2.8v2.8h-2.8zM1034.6 1344.4h2.8v2.8h-2.8zM1009.7 1361.3h2.8v2.8h-2.8zM991.4 1383.2h2.8v2.8h-2.8zM1001.6 1364.6h2.8v2.8h-2.8zM1021.0 1412.4h2.8v2.8h-2.8zM976.7 1391.7h2.8v2.8h-2.8zM1032.2 1376.0h2.8v2.8h-2.8zM998.3 1374.3h2.8v2.8h-2.8zM991.5 1394.5h2.8v2.8h-2.8zM986.8 1392.2h2.8v2.8h-2.8zM1025.0 1376.5h2.8v2.8h-2.8zM1030.0 1375.9h2.8v2.8h-2.8zM1018.5 1365.1h2.8v2.8h-2.8zM1045.4 1404.8h2.8v2.8h-2.8zM1016.8 1367.3h2.8v2.8h-2.8zM1006.2 1385.1h2.8v2.8h-2.8zM985.6 1411.9h2.8v2.8h-2.8zM1011.9 1346.9h2.8v2.8h-2.8zM1054.0 1357.4h2.8v2.8h-2.8zM969.1 1387.6h2.8v2.8h-2.8zM1018.3 1390.3h2.8v2.8h-2.8zM993.6 1360.9h2.8v2.8h-2.8zM1019.8 1401.8h2.8v2.8h-2.8zM1018.4 1405.9h2.8v2.8h-2.8zM975.1 1368.8h2.8v2.8h-2.8zM1045.5 1339.2h2.8v2.8h-2.8zM990.6 1407.7h2.8v2.8h-2.8zM1048.7 1388.5h2.8v2.8h-2.8zM1052.6 1358.7h2.8v2.8h-2.8zM1003.6 1390.8h2.8v2.8h-2.8zM979.6 1383.0h2.8v2.8h-2.8zM1036.4 1354.7h2.8v2.8h-2.8zM987.0 1380.3h2.8v2.8h-2.8zM1015.8 1378.2h2.8v2.8h-2.8zM1023.6 1355.9h2.8v2.8h-2.8zM1019.3 1410.2h2.8v2.8h-2.8zM992.6 1369.2h2.8v2.8h-2.8zM991.9 1397.8h2.8v2.8h-2.8zM1007.0 1396.4h2.8v2.8h-2.8zM1017.7 1368.6h2.8v2.8h-2.8zM1024.7 1371.1h2.8v2.8h-2.8zM1026.5 1401.0h2.8v2.8h-2.8zM983.1 1385.7h2.8v2.8h-2.8zM989.4 1366.3h2.8v2.8h-2.8zM1018.0 1386.2h2.8v2.8h-2.8zM1061.3 1399.3h2.8v2.8h-2.8zM1016.7 1378.3h2.8v2.8h-2.8zM987.2 1386.1h2.8v2.8h-2.8zM1031.1 1351.3h2.8v2.8h-2.8zM1002.0 1363.2h2.8v2.8h-2.8zM1039.5 1375.4h2.8v2.8h-2.8zM1018.4 1394.5h2.8v2.8h-2.8zM1016.3 1414.4h2.8v2.8h-2.8zM1000.7 1364.9h2.8v2.8h-2.8zM997.4 1337.2h2.8v2.8h-2.8zM976.8 1385.9h2.8v2.8h-2.8zM1005.1 1378.2h2.8v2.8h-2.8zM1036.6 1370.9h2.8v2.8h-2.8zM996.8 1384.1h2.8v2.8h-2.8zM994.8 1374.8h2.8v2.8h-2.8zM991.5 1360.1h2.8v2.8h-2.8zM1034.8 1372.0h2.8v2.8h-2.8zM990.2 1376.5h2.8v2.8h-2.8zM1018.7 1373.9h2.8v2.8h-2.8zM1000.9 1405.3h2.8v2.8h-2.8zM1000.9 1375.8h2.8v2.8h-2.8zM1013.7 1375.9h2.8v2.8h-2.8zM1013.6 1383.5h2.8v2.8h-2.8zM1021.2 1380.1h2.8v2.8h-2.8zM1029.3 1397.6h2.8v2.8h-2.8zM1018.6 1401.5h2.8v2.8h-2.8zM1030.1 1396.8h2.8v2.8h-2.8zM1043.1 1377.2h2.8v2.8h-2.8zM994.2 1388.3h2.8v2.8h-2.8zM996.9 1393.3h2.8v2.8h-2.8zM1003.9 1371.3h2.8v2.8h-2.8zM1028.6 1381.9h2.8v2.8h-2.8zM995.6 1377.7h2.8v2.8h-2.8zM1029.1 1404.1h2.8v2.8h-2.8zM990.4 1395.3h2.8v2.8h-2.8zM1024.7 1354.1h2.8v2.8h-2.8zM972.8 1409.1h2.8v2.8h-2.8zM976.6 1343.7h2.8v2.8h-2.8zM1031.4 1379.5h2.8v2.8h-2.8zM1054.1 1380.4h2.8v2.8h-2.8zM1047.1 1391.2h2.8v2.8h-2.8zM1014.4 1386.1h2.8v2.8h-2.8zM987.7 1400.5h2.8v2.8h-2.8zM1025.5 1397.4h2.8v2.8h-2.8zM1010.7 1400.6h2.8v2.8h-2.8zM991.4 1375.7h2.8v2.8h-2.8zM1018.1 1373.0h2.8v2.8h-2.8zM979.1 1381.9h2.8v2.8h-2.8zM998.1 1408.2h2.8v2.8h-2.8zM990.9 1409.6h2.8v2.8h-2.8zM1032.0 1394.8h2.8v2.8h-2.8zM994.0 1404.5h2.8v2.8h-2.8zM1033.6 1398.0h2.8v2.8h-2.8zM1029.8 1410.6h2.8v2.8h-2.8zM1016.5 1362.6h2.8v2.8h-2.8zM1004.2 1407.1h2.8v2.8h-2.8zM1039.9 1382.8h2.8v2.8h-2.8zM1005.2 1396.7h2.8v2.8h-2.8zM1020.4 1392.9h2.8v2.8h-2.8zM1033.2 1365.2h2.8v2.8h-2.8zM999.4 1363.7h2.8v2.8h-2.8zM998.3 1390.6h2.8v2.8h-2.8zM1008.8 1352.6h2.8v2.8h-2.8zM1034.2 1375.1h2.8v2.8h-2.8zM1030.3 1414.1h2.8v2.8h-2.8zM1000.6 1385.9h2.8v2.8h-2.8zM951.5 1394.3h2.8v2.8h-2.8zM976.5 1390.4h2.8v2.8h-2.8zM1030.1 1413.3h2.8v2.8h-2.8zM1046.5 1401.7h2.8v2.8h-2.8zM995.7 1383.0h2.8v2.8h-2.8zM970.3 1368.8h2.8v2.8h-2.8zM1008.7 1350.8h2.8v2.8h-2.8zM991.6 1397.6h2.8v2.8h-2.8zM1003.5 1412.8h2.8v2.8h-2.8zM989.5 1364.4h2.8v2.8h-2.8zM1010.9 1395.1h2.8v2.8h-2.8zM982.4 1355.4h2.8v2.8h-2.8zM1026.1 1383.4h2.8v2.8h-2.8zM991.2 1348.1h2.8v2.8h-2.8zM1023.2 1368.4h2.8v2.8h-2.8zM1024.8 1363.3h2.8v2.8h-2.8zM1002.7 1395.9h2.8v2.8h-2.8zM1027.0 1361.4h2.8v2.8h-2.8zM999.7 1399.1h2.8v2.8h-2.8zM987.6 1413.6h2.8v2.8h-2.8zM994.1 1378.4h2.8v2.8h-2.8zM1005.9 1361.8h2.8v2.8h-2.8zM1016.4 1398.8h2.8v2.8h-2.8zM1009.5 1367.5h2.8v2.8h-2.8zM1018.2 1383.4h2.8v2.8h-2.8zM1015.1 1334.3h2.8v2.8h-2.8zM1007.5 1361.0h2.8v2.8h-2.8zM1033.3 1364.0h2.8v2.8h-2.8zM1010.2 1394.2h2.8v2.8h-2.8zM991.8 1429.7h2.8v2.8h-2.8zM999.6 1333.5h2.8v2.8h-2.8zM1032.7 1397.4h2.8v2.8h-2.8zM1022.2 1380.9h2.8v2.8h-2.8zM1012.1 1361.2h2.8v2.8h-2.8zM1029.3 1345.9h2.8v2.8h-2.8zM1008.2 1380.4h2.8v2.8h-2.8zM995.0 1393.7h2.8v2.8h-2.8zM1007.3 1417.7h2.8v2.8h-2.8zM1030.7 1362.9h2.8v2.8h-2.8zM1011.2 1356.1h2.8v2.8h-2.8zM1028.3 1401.8h2.8v2.8h-2.8zM984.5 1364.3h2.8v2.8h-2.8zM1014.4 1357.8h2.8v2.8h-2.8zM1016.9 1382.8h2.8v2.8h-2.8zM981.8 1374.0h2.8v2.8h-2.8zM1037.9 1368.1h2.8v2.8h-2.8zM1033.5 1377.6h2.8v2.8h-2.8zM1028.2 1362.3h2.8v2.8h-2.8zM1018.9 1392.9h2.8v2.8h-2.8zM1006.3 1410.2h2.8v2.8h-2.8zM1011.1 1378.1h2.8v2.8h-2.8zM1005.3 1394.4h2.8v2.8h-2.8zM1032.0 1369.2h2.8v2.8h-2.8zM1034.0 1378.0h2.8v2.8h-2.8zM1024.4 1386.7h2.8v2.8h-2.8zM1023.1 1383.0h2.8v2.8h-2.8zM1013.9 1408.7h2.8v2.8h-2.8zM1034.4 1395.6h2.8v2.8h-2.8zM987.2 1335.9h2.8v2.8h-2.8zM1013.8 1387.9h2.8v2.8h-2.8zM1064.8 1373.2h2.8v2.8h-2.8zM993.7 1367.6h2.8v2.8h-2.8zM998.8 1387.7h2.8v2.8h-2.8zM1028.7 1377.1h2.8v2.8h-2.8zM1015.3 1367.6h2.8v2.8h-2.8zM1007.4 1360.4h2.8v2.8h-2.8zM1012.9 1380.5h2.8v2.8h-2.8zM1057.0 1362.2h2.8v2.8h-2.8zM1006.2 1386.9h2.8v2.8h-2.8zM1047.3 1344.1h2.8v2.8h-2.8zM1005.4 1392.7h2.8v2.8h-2.8zM990.4 1387.0h2.8v2.8h-2.8zM1029.3 1378.0h2.8v2.8h-2.8zM985.0 1350.1h2.8v2.8h-2.8zM1021.6 1367.3h2.8v2.8h-2.8zM1017.6 1349.9h2.8v2.8h-2.8zM990.9 1336.0h2.8v2.8h-2.8zM1016.3 1377.7h2.8v2.8h-2.8zM1014.3 1358.1h2.8v2.8h-2.8zM984.1 1351.5h2.8v2.8h-2.8zM1080.3 1365.6h2.8v2.8h-2.8zM981.7 1385.3h2.8v2.8h-2.8zM1034.5 1366.0h2.8v2.8h-2.8zM1024.8 1389.3h2.8v2.8h-2.8zM1010.0 1398.9h2.8v2.8h-2.8zM1051.5 1326.5h2.8v2.8h-2.8zM1067.2 1312.0h2.8v2.8h-2.8zM1080.4 1317.2h2.8v2.8h-2.8zM1080.4 1308.9h2.8v2.8h-2.8zM1068.0 1334.3h2.8v2.8h-2.8zM1077.3 1306.5h2.8v2.8h-2.8zM1060.9 1309.3h2.8v2.8h-2.8zM1093.7 1323.6h2.8v2.8h-2.8zM1065.6 1338.7h2.8v2.8h-2.8zM1055.4 1337.0h2.8v2.8h-2.8zM1063.3 1307.0h2.8v2.8h-2.8zM1089.4 1322.7h2.8v2.8h-2.8zM1075.8 1324.8h2.8v2.8h-2.8zM1079.4 1345.7h2.8v2.8h-2.8zM1076.8 1312.8h2.8v2.8h-2.8zM1058.2 1345.1h2.8v2.8h-2.8zM1088.6 1337.8h2.8v2.8h-2.8zM1072.7 1335.2h2.8v2.8h-2.8zM1069.7 1327.2h2.8v2.8h-2.8zM1071.7 1313.5h2.8v2.8h-2.8zM1094.4 1343.1h2.8v2.8h-2.8zM1061.3 1325.4h2.8v2.8h-2.8zM1086.2 1317.8h2.8v2.8h-2.8zM1080.5 1324.5h2.8v2.8h-2.8zM1064.0 1308.1h2.8v2.8h-2.8zM1047.1 1338.1h2.8v2.8h-2.8zM1079.9 1336.6h2.8v2.8h-2.8zM1050.3 1326.9h2.8v2.8h-2.8zM1056.3 1323.5h2.8v2.8h-2.8zM1047.2 1334.1h2.8v2.8h-2.8zM1047.4 1342.6h2.8v2.8h-2.8zM1057.2 1315.2h2.8v2.8h-2.8zM1080.0 1322.9h2.8v2.8h-2.8zM1070.3 1316.8h2.8v2.8h-2.8zM1055.8 1308.0h2.8v2.8h-2.8zM1059.5 1347.6h2.8v2.8h-2.8zM1071.8 1313.2h2.8v2.8h-2.8zM1077.8 1328.6h2.8v2.8h-2.8zM1069.9 1324.7h2.8v2.8h-2.8zM1077.0 1329.9h2.8v2.8h-2.8zM1066.4 1321.0h2.8v2.8h-2.8zM1084.9 1330.0h2.8v2.8h-2.8zM1061.2 1323.6h2.8v2.8h-2.8zM1054.6 1319.5h2.8v2.8h-2.8zM1054.7 1344.6h2.8v2.8h-2.8zM1077.5 1306.5h2.8v2.8h-2.8zM1050.2 1342.3h2.8v2.8h-2.8zM1087.9 1330.5h2.8v2.8h-2.8zM1090.5 1307.0h2.8v2.8h-2.8zM1058.9 1330.4h2.8v2.8h-2.8zM1059.8 1338.9h2.8v2.8h-2.8zM1074.7 1347.3h2.8v2.8h-2.8zM1052.1 1307.7h2.8v2.8h-2.8zM1091.1 1318.0h2.8v2.8h-2.8zM1061.5 1321.4h2.8v2.8h-2.8zM1080.5 1321.9h2.8v2.8h-2.8zM1060.4 1328.0h2.8v2.8h-2.8zM1076.4 1308.3h2.8v2.8h-2.8zM920.9 1457.5h2.8v2.8h-2.8zM925.3 1419.3h2.8v2.8h-2.8zM951.8 1442.3h2.8v2.8h-2.8zM974.7 1456.1h2.8v2.8h-2.8zM1019.3 1439.4h2.8v2.8h-2.8zM914.1 1452.0h2.8v2.8h-2.8zM1003.3 1431.1h2.8v2.8h-2.8zM974.0 1459.2h2.8v2.8h-2.8zM893.3 1428.7h2.8v2.8h-2.8zM984.0 1425.5h2.8v2.8h-2.8zM895.9 1428.4h2.8v2.8h-2.8zM982.1 1441.4h2.8v2.8h-2.8zM904.9 1429.8h2.8v2.8h-2.8zM909.0 1459.4h2.8v2.8h-2.8zM928.1 1456.5h2.8v2.8h-2.8zM927.0 1459.7h2.8v2.8h-2.8zM995.0 1443.0h2.8v2.8h-2.8zM1017.3 1425.6h2.8v2.8h-2.8zM943.4 1422.1h2.8v2.8h-2.8zM996.8 1426.9h2.8v2.8h-2.8zM953.3 1452.9h2.8v2.8h-2.8zM960.0 1433.8h2.8v2.8h-2.8zM985.4 1435.4h2.8v2.8h-2.8zM922.3 1418.6h2.8v2.8h-2.8zM948.6 1445.3h2.8v2.8h-2.8zM935.7 1417.7h2.8v2.8h-2.8zM921.5 1459.4h2.8v2.8h-2.8zM931.4 1436.7h2.8v2.8h-2.8zM907.1 1436.1h2.8v2.8h-2.8zM1018.9 1442.7h2.8v2.8h-2.8zM961.0 1443.0h2.8v2.8h-2.8zM950.7 1429.6h2.8v2.8h-2.8zM992.5 1443.8h2.8v2.8h-2.8zM906.6 1425.6h2.8v2.8h-2.8zM982.6 1449.8h2.8v2.8h-2.8zM1001.9 1439.2h2.8v2.8h-2.8zM1016.8 1418.5h2.8v2.8h-2.8zM989.6 1418.9h2.8v2.8h-2.8zM991.6 1438.0h2.8v2.8h-2.8zM899.3 1428.8h2.8v2.8h-2.8zM1004.4 1423.4h2.8v2.8h-2.8zM1014.5 1441.0h2.8v2.8h-2.8zM976.7 1456.4h2.8v2.8h-2.8zM946.9 1455.0h2.8v2.8h-2.8zM914.3 1415.7h2.8v2.8h-2.8zM933.7 1444.3h2.8v2.8h-2.8zM993.5 1453.2h2.8v2.8h-2.8zM952.3 1439.1h2.8v2.8h-2.8zM976.5 1435.2h2.8v2.8h-2.8zM932.1 1418.0h2.8v2.8h-2.8zM975.7 1458.6h2.8v2.8h-2.8zM907.3 1442.5h2.8v2.8h-2.8zM938.3 1456.6h2.8v2.8h-2.8zM897.5 1420.1h2.8v2.8h-2.8zM938.9 1417.1h2.8v2.8h-2.8zM896.4 1423.2h2.8v2.8h-2.8zM898.1 1435.6h2.8v2.8h-2.8zM891.4 1415.8h2.8v2.8h-2.8zM941.2 1441.5h2.8v2.8h-2.8zM1017.1 1429.1h2.8v2.8h-2.8zM916.4 1416.6h2.8v2.8h-2.8zM960.8 1421.9h2.8v2.8h-2.8zM921.4 1453.2h2.8v2.8h-2.8zM913.8 1453.8h2.8v2.8h-2.8zM957.5 1421.1h2.8v2.8h-2.8zM991.2 1447.8h2.8v2.8h-2.8zM962.9 1417.6h2.8v2.8h-2.8zM984.9 1445.5h2.8v2.8h-2.8zM1017.7 1426.4h2.8v2.8h-2.8zM988.4 1447.1h2.8v2.8h-2.8zM1009.7 1420.3h2.8v2.8h-2.8zM911.3 1427.5h2.8v2.8h-2.8zM919.6 1444.0h2.8v2.8h-2.8zM895.7 1427.2h2.8v2.8h-2.8zM979.0 1431.6h2.8v2.8h-2.8zM903.7 1438.9h2.8v2.8h-2.8zM979.0 1423.4h2.8v2.8h-2.8zM916.5 1433.5h2.8v2.8h-2.8zM922.1 1458.9h2.8v2.8h-2.8zM936.3 1432.0h2.8v2.8h-2.8zM908.0 1415.3h2.8v2.8h-2.8zM969.1 1427.0h2.8v2.8h-2.8zM1004.9 1424.1h2.8v2.8h-2.8zM997.8 1434.2h2.8v2.8h-2.8zM991.4 1430.3h2.8v2.8h-2.8zM955.9 1441.6h2.8v2.8h-2.8zM963.5 1435.5h2.8v2.8h-2.8zM922.8 1416.2h2.8v2.8h-2.8zM925.3 1445.2h2.8v2.8h-2.8zM927.5 1459.1h2.8v2.8h-2.8zM965.0 1455.9h2.8v2.8h-2.8zM993.3 1425.4h2.8v2.8h-2.8zM990.6 1422.0h2.8v2.8h-2.8zM921.5 1451.8h2.8v2.8h-2.8zM925.7 1424.6h2.8v2.8h-2.8zM945.6 1439.5h2.8v2.8h-2.8zM984.1 1415.9h2.8v2.8h-2.8zM922.0 1416.1h2.8v2.8h-2.8zM959.6 1438.7h2.8v2.8h-2.8zM978.6 1433.3h2.8v2.8h-2.8zM925.0 1448.5h2.8v2.8h-2.8zM986.2 1441.1h2.8v2.8h-2.8zM899.8 1428.3h2.8v2.8h-2.8zM898.3 1420.1h2.8v2.8h-2.8zM915.7 1452.3h2.8v2.8h-2.8zM915.5 1445.5h2.8v2.8h-2.8zM939.4 1418.7h2.8v2.8h-2.8zM945.5 1442.4h2.8v2.8h-2.8zM932.5 1456.8h2.8v2.8h-2.8zM904.8 1429.9h2.8v2.8h-2.8zM989.6 1452.0h2.8v2.8h-2.8zM939.5 1443.2h2.8v2.8h-2.8zM897.2 1436.8h2.8v2.8h-2.8zM962.8 1444.7h2.8v2.8h-2.8zM967.5 1434.9h2.8v2.8h-2.8zM956.7 1437.6h2.8v2.8h-2.8zM958.9 1416.5h2.8v2.8h-2.8zM990.8 1418.1h2.8v2.8h-2.8zM939.1 1432.3h2.8v2.8h-2.8zM927.8 1439.9h2.8v2.8h-2.8zM954.5 1433.6h2.8v2.8h-2.8zM992.2 1450.1h2.8v2.8h-2.8zM974.1 1419.6h2.8v2.8h-2.8zM990.7 1436.5h2.8v2.8h-2.8zM897.6 1434.4h2.8v2.8h-2.8zM1004.7 1439.1h2.8v2.8h-2.8zM922.6 1451.6h2.8v2.8h-2.8zM937.8 1438.9h2.8v2.8h-2.8zM954.9 1421.2h2.8v2.8h-2.8zM917.7 1415.3h2.8v2.8h-2.8zM932.3 1451.7h2.8v2.8h-2.8zM936.1 1455.3h2.8v2.8h-2.8zM909.8 1427.3h2.8v2.8h-2.8zM1004.8 1424.1h2.8v2.8h-2.8zM942.5 1459.1h2.8v2.8h-2.8zM923.5 1447.5h2.8v2.8h-2.8zM958.2 1419.9h2.8v2.8h-2.8zM931.3 1444.3h2.8v2.8h-2.8zM893.3 1453.2h2.8v2.8h-2.8zM966.4 1419.7h2.8v2.8h-2.8zM903.5 1453.1h2.8v2.8h-2.8zM1003.0 1458.5h2.8v2.8h-2.8zM994.1 1427.0h2.8v2.8h-2.8zM895.6 1440.5h2.8v2.8h-2.8zM1008.9 1450.3h2.8v2.8h-2.8zM1004.8 1418.2h2.8v2.8h-2.8zM930.5 1432.4h2.8v2.8h-2.8zM969.0 1431.5h2.8v2.8h-2.8zM929.8 1443.0h2.8v2.8h-2.8zM922.4 1443.0h2.8v2.8h-2.8zM966.8 1451.4h2.8v2.8h-2.8zM937.9 1436.8h2.8v2.8h-2.8zM895.1 1457.0h2.8v2.8h-2.8zM965.2 1426.9h2.8v2.8h-2.8zM1011.9 1443.3h2.8v2.8h-2.8zM943.8 1415.3h2.8v2.8h-2.8zM1004.4 1445.8h2.8v2.8h-2.8zM987.7 1351.4h2.8v2.8h-2.8zM981.1 1375.1h2.8v2.8h-2.8zM998.4 1374.7h2.8v2.8h-2.8zM956.2 1345.8h2.8v2.8h-2.8zM957.6 1393.1h2.8v2.8h-2.8zM992.6 1349.1h2.8v2.8h-2.8zM974.5 1371.5h2.8v2.8h-2.8zM944.2 1363.2h2.8v2.8h-2.8zM965.3 1366.5h2.8v2.8h-2.8zM938.8 1363.4h2.8v2.8h-2.8zM999.5 1396.4h2.8v2.8h-2.8zM938.3 1355.0h2.8v2.8h-2.8zM992.7 1352.9h2.8v2.8h-2.8zM963.4 1355.2h2.8v2.8h-2.8zM996.4 1363.9h2.8v2.8h-2.8zM989.7 1375.0h2.8v2.8h-2.8zM943.3 1369.7h2.8v2.8h-2.8zM957.4 1357.0h2.8v2.8h-2.8zM983.9 1357.8h2.8v2.8h-2.8zM942.4 1379.2h2.8v2.8h-2.8zM973.5 1349.2h2.8v2.8h-2.8zM967.5 1357.3h2.8v2.8h-2.8zM983.8 1390.3h2.8v2.8h-2.8zM950.7 1352.1h2.8v2.8h-2.8zM962.1 1366.4h2.8v2.8h-2.8zM956.4 1363.3h2.8v2.8h-2.8zM981.6 1380.3h2.8v2.8h-2.8zM951.9 1366.3h2.8v2.8h-2.8zM934.5 1357.6h2.8v2.8h-2.8zM936.6 1348.7h2.8v2.8h-2.8zM974.3 1378.6h2.8v2.8h-2.8zM999.6 1368.6h2.8v2.8h-2.8zM943.3 1341.0h2.8v2.8h-2.8zM983.1 1395.7h2.8v2.8h-2.8zM957.5 1375.0h2.8v2.8h-2.8zM946.8 1379.7h2.8v2.8h-2.8zM995.2 1376.9h2.8v2.8h-2.8zM951.6 1398.0h2.8v2.8h-2.8zM947.8 1341.7h2.8v2.8h-2.8zM970.7 1366.2h2.8v2.8h-2.8zM983.6 1341.1h2.8v2.8h-2.8zM973.8 1359.7h2.8v2.8h-2.8zM959.3 1386.5h2.8v2.8h-2.8zM976.6 1385.2h2.8v2.8h-2.8zM956.0 1355.6h2.8v2.8h-2.8zM991.9 1343.6h2.8v2.8h-2.8zM957.1 1368.0h2.8v2.8h-2.8zM993.6 1355.5h2.8v2.8h-2.8zM934.9 1377.9h2.8v2.8h-2.8zM934.1 1360.2h2.8v2.8h-2.8zM946.8 1366.4h2.8v2.8h-2.8zM970.9 1399.2h2.8v2.8h-2.8zM978.2 1347.0h2.8v2.8h-2.8zM967.7 1391.6h2.8v2.8h-2.8zM965.5 1375.9h2.8v2.8h-2.8zM962.5 1399.4h2.8v2.8h-2.8zM997.7 1387.0h2.8v2.8h-2.8zM958.6 1359.2h2.8v2.8h-2.8zM962.2 1348.1h2.8v2.8h-2.8zM951.6 1380.7h2.8v2.8h-2.8zM1010.7 1316.0h2.8v2.8h-2.8zM1008.0 1303.3h2.8v2.8h-2.8zM1015.6 1307.5h2.8v2.8h-2.8zM1007.7 1291.9h2.8v2.8h-2.8zM1011.3 1316.2h2.8v2.8h-2.8zM1010.6 1317.3h2.8v2.8h-2.8zM1013.3 1313.4h2.8v2.8h-2.8zM1014.0 1311.7h2.8v2.8h-2.8zM1011.3 1300.2h2.8v2.8h-2.8zM1012.9 1291.7h2.8v2.8h-2.8zM1020.5 1301.4h2.8v2.8h-2.8zM1011.3 1318.8h2.8v2.8h-2.8z"/>
<g transform="translate(1127.5,1151.5)" clip-path="url(#bclip)"><path d="M135.7,78.3 C136.6,71.4 139.1,70.0 141.0,68.0 C142.9,66.0 147.2,63.7 149.7,63.0 C152.2,62.3 157.8,62.0 160.0,62.4 C162.2,62.8 164.0,64.2 166.0,66.0 C168.0,67.8 171.3,71.9 175.2,75.7 C179.1,79.5 190.5,89.4 195.6,94.8 C200.7,100.2 210.7,112.1 213.5,116.5 C216.3,120.9 216.7,124.6 216.5,128.0 C216.3,131.4 213.5,138.8 212.0,142.0 C210.5,145.2 206.2,147.5 205.0,152.0 C203.8,156.5 204.7,171.3 203.0,176.0 C201.3,180.7 196.4,185.1 192.0,187.0 C187.6,188.9 175.9,190.0 170.0,190.0 C164.1,190.0 152.3,188.9 148.0,187.0 C143.7,185.1 139.7,179.6 138.0,176.0 C136.3,172.4 136.0,167.5 135.5,160.0 C135.0,152.5 134.5,130.9 134.5,120.0 C134.5,109.1 134.8,85.2 135.7,78.3 Z" fill="#e0cd26" fill-opacity="0.42"/><path d="M105.5,196.0 C106.0,189.7 106.9,185.5 109.0,181.0 C111.1,176.5 114.2,171.9 118.0,169.0 C121.8,166.1 125.5,164.8 132.0,163.5 C138.5,162.2 147.0,161.8 157.0,161.5 C167.0,161.2 182.8,160.8 192.0,161.5 C201.2,162.2 207.3,163.6 212.0,166.0 C216.7,168.4 219.2,172.5 220.0,176.0 C220.8,179.5 219.7,183.7 217.0,187.0 C214.3,190.3 209.7,192.9 204.0,195.6 C198.3,198.3 190.1,200.1 182.8,203.3 C175.5,206.5 167.1,210.2 160.0,215.0 C152.9,219.8 146.0,227.5 140.0,232.0 C134.0,236.5 128.6,241.3 124.0,242.0 C119.5,242.7 115.7,240.3 112.7,236.4 C109.8,232.5 107.5,225.3 106.3,218.6 C105.1,211.9 105.0,202.3 105.5,196.0 Z" fill="#f82626" fill-opacity="0.42"/><rect x="43.0" y="227.0" width="100" height="24" rx="12.0" transform="rotate(-74 93 239)" fill="#006e72" fill-opacity="0.42"/><ellipse cx="105" cy="273" rx="10" ry="13" transform="rotate(20 105 273)" fill="#ba2a2a" fill-opacity="0.45"/><path d="M103.1,228.9 C107.0,224.8 113.3,221.7 118.4,220.7 C123.5,219.7 130.8,221.6 133.7,222.8 C136.6,224.0 136.5,223.3 135.8,227.9 C135.1,232.5 131.7,243.2 129.6,250.3 C127.5,257.4 125.9,265.4 123.5,270.7 C121.1,276.0 118.8,279.3 115.4,282.0 C112.0,284.7 106.5,286.3 103.1,287.1 C99.7,287.9 97.4,288.1 95.0,286.6 C92.6,285.1 89.8,282.1 88.8,277.9 C87.8,273.7 88.3,267.1 89.3,261.6 C90.3,256.2 92.6,250.6 94.9,245.2 C97.2,239.8 99.2,233.0 103.1,228.9 Z" fill="#ba2a2a" fill-opacity="0.45"/><path d="M119.0,222.0 C120.5,217.6 124.5,218.7 127.0,218.5 C129.5,218.3 132.9,217.4 134.0,221.0 C135.1,224.6 134.0,234.2 133.5,240.0 C133.0,245.8 132.2,252.2 131.0,256.0 C129.8,259.8 127.8,262.3 126.0,263.0 C124.2,263.7 121.3,263.0 120.0,260.0 C118.7,257.0 118.2,251.3 118.0,245.0 C117.8,238.7 117.5,226.4 119.0,222.0 Z" fill="#a40000" fill-opacity="0.38"/><ellipse cx="141" cy="248" rx="15" ry="27" transform="rotate(10 141 248)" fill="#ad3d3d" fill-opacity="0.4"/><ellipse cx="131" cy="257" rx="16" ry="26" transform="rotate(10 131 257)" fill="#f5ba1f" fill-opacity="0.42"/><rect x="155.5" y="186.5" width="45" height="13" rx="6.5" transform="rotate(25 178 193)" fill="#64bedf" fill-opacity="0.3"/><ellipse cx="171" cy="218" rx="23" ry="17" transform="rotate(15 171 218)" fill="#d21fd2" fill-opacity="0.42"/><ellipse cx="154" cy="238" rx="42" ry="21" transform="rotate(-60 154 238)" fill="#2626ee" fill-opacity="0.42"/></g>
<path fill="#1c1c1c" d="M1300.1 1376.2h2.8v2.8h-2.8zM1302.4 1368.4h2.8v2.8h-2.8zM1294.1 1358.8h2.8v2.8h-2.8zM1290.9 1377.1h2.8v2.8h-2.8zM1293.4 1366.3h2.8v2.8h-2.8zM1295.3 1361.0h2.8v2.8h-2.8zM1309.1 1373.1h2.8v2.8h-2.8zM1300.9 1377.3h2.8v2.8h-2.8zM1289.9 1372.3h2.8v2.8h-2.8zM1291.9 1382.2h2.8v2.8h-2.8zM1296.6 1377.9h2.8v2.8h-2.8zM1304.0 1375.2h2.8v2.8h-2.8zM1303.4 1367.6h2.8v2.8h-2.8zM1301.9 1375.6h2.8v2.8h-2.8zM1286.2 1363.4h2.8v2.8h-2.8zM1291.4 1368.4h2.8v2.8h-2.8zM1300.1 1390.6h2.8v2.8h-2.8zM1299.1 1375.2h2.8v2.8h-2.8zM1288.8 1370.5h2.8v2.8h-2.8zM1295.4 1372.8h2.8v2.8h-2.8zM1296.9 1378.0h2.8v2.8h-2.8zM1299.0 1358.9h2.8v2.8h-2.8zM1298.0 1370.8h2.8v2.8h-2.8zM1298.0 1380.8h2.8v2.8h-2.8zM1288.7 1367.4h2.8v2.8h-2.8zM1304.7 1384.0h2.8v2.8h-2.8zM1294.6 1371.8h2.8v2.8h-2.8zM1295.0 1363.7h2.8v2.8h-2.8zM1357.0 1459.3h2.8v2.8h-2.8zM1312.4 1387.2h2.8v2.8h-2.8zM1342.3 1439.1h2.8v2.8h-2.8zM1321.6 1427.0h2.8v2.8h-2.8zM1297.3 1450.1h2.8v2.8h-2.8zM1298.1 1440.3h2.8v2.8h-2.8zM1282.2 1403.4h2.8v2.8h-2.8zM1344.1 1392.4h2.8v2.8h-2.8zM1373.2 1391.1h2.8v2.8h-2.8zM1285.4 1450.8h2.8v2.8h-2.8zM1296.8 1431.8h2.8v2.8h-2.8zM1337.2 1403.0h2.8v2.8h-2.8zM1322.8 1416.8h2.8v2.8h-2.8zM1307.5 1386.0h2.8v2.8h-2.8zM1336.8 1399.9h2.8v2.8h-2.8zM1332.0 1438.3h2.8v2.8h-2.8zM1283.5 1387.8h2.8v2.8h-2.8zM1287.9 1417.3h2.8v2.8h-2.8zM1341.3 1426.5h2.8v2.8h-2.8zM1306.5 1419.4h2.8v2.8h-2.8zM1337.2 1453.6h2.8v2.8h-2.8zM1327.3 1382.2h2.8v2.8h-2.8zM1337.7 1453.1h2.8v2.8h-2.8zM1348.8 1451.3h2.8v2.8h-2.8zM1298.6 1406.4h2.8v2.8h-2.8zM1320.4 1402.9h2.8v2.8h-2.8zM1306.4 1434.2h2.8v2.8h-2.8zM1363.9 1395.5h2.8v2.8h-2.8zM1342.0 1426.4h2.8v2.8h-2.8zM1354.1 1434.0h2.8v2.8h-2.8zM1351.4 1427.9h2.8v2.8h-2.8zM1291.7 1421.4h2.8v2.8h-2.8zM1308.9 1406.9h2.8v2.8h-2.8zM1309.1 1400.2h2.8v2.8h-2.8zM1344.7 1390.5h2.8v2.8h-2.8zM1286.1 1377.6h2.8v2.8h-2.8zM1296.7 1438.1h2.8v2.8h-2.8zM1305.5 1451.8h2.8v2.8h-2.8zM1300.7 1413.9h2.8v2.8h-2.8zM1350.5 1456.8h2.8v2.8h-2.8zM1312.4 1424.7h2.8v2.8h-2.8zM1297.5 1416.3h2.8v2.8h-2.8zM1373.1 1452.2h2.8v2.8h-2.8zM1362.1 1405.5h2.8v2.8h-2.8zM1373.9 1452.6h2.8v2.8h-2.8zM1332.3 1428.7h2.8v2.8h-2.8zM1341.6 1378.1h2.8v2.8h-2.8zM1344.7 1438.3h2.8v2.8h-2.8zM1336.8 1405.7h2.8v2.8h-2.8zM1304.0 1401.7h2.8v2.8h-2.8zM1297.6 1435.5h2.8v2.8h-2.8zM1351.9 1390.3h2.8v2.8h-2.8zM1295.2 1455.2h2.8v2.8h-2.8zM1336.8 1400.3h2.8v2.8h-2.8zM1306.6 1447.1h2.8v2.8h-2.8zM1302.3 1418.4h2.8v2.8h-2.8zM1353.7 1458.6h2.8v2.8h-2.8zM1282.2 1401.0h2.8v2.8h-2.8zM1285.4 1405.3h2.8v2.8h-2.8zM1284.6 1418.4h2.8v2.8h-2.8zM1290.1 1405.1h2.8v2.8h-2.8zM1358.4 1402.3h2.8v2.8h-2.8zM1371.5 1425.7h2.8v2.8h-2.8zM1370.5 1395.7h2.8v2.8h-2.8zM1288.3 1454.3h2.8v2.8h-2.8zM1361.9 1431.5h2.8v2.8h-2.8zM1324.8 1402.3h2.8v2.8h-2.8zM1369.5 1429.4h2.8v2.8h-2.8zM1350.3 1389.0h2.8v2.8h-2.8zM1358.7 1452.6h2.8v2.8h-2.8zM1324.9 1426.4h2.8v2.8h-2.8zM1329.0 1404.0h2.8v2.8h-2.8z"/>
<text x="190.2" y="35.8" font-size="25.6" font-style="italic" style="fill:#231f20">Agrp</text>
<text x="257.0" y="35.8" font-size="27" style="fill:#231f20">(102)</text>
<text x="572.2" y="35.8" font-size="25.6" font-style="italic" style="fill:#231f20">Avp</text>
<text x="630.5" y="35.8" font-size="27" style="fill:#231f20">(41)</text>
<text x="948.0" y="35.8" font-size="25.6" font-style="italic" style="fill:#231f20">Crh</text>
<text x="1002.2" y="35.8" font-size="27" style="fill:#231f20">(76)</text>
<text x="1283.2" y="35.8" font-size="25.6" font-style="italic" style="fill:#231f20">Orexin</text>
<text x="1378.8" y="35.8" font-size="27" style="fill:#231f20">(103)</text>
<text x="189.6" y="414.9" font-size="25.6" font-style="italic" style="fill:#231f20">Oxt</text>
<text x="242.8" y="414.9" font-size="27" style="fill:#231f20">(348)</text>
<text x="546.4" y="414.9" font-size="25.6" font-style="italic" style="fill:#231f20">Pmch</text>
<text x="628.0" y="414.9" font-size="27" style="fill:#231f20">(116)</text>
<text x="918.8" y="414.9" font-size="25.6" font-style="italic" style="fill:#231f20">Pomc</text>
<text x="1001.7" y="414.9" font-size="27" style="fill:#231f20">(304)</text>
<text x="1326.8" y="414.9" font-size="25.6" font-style="italic" style="fill:#231f20">Vip</text>
<text x="1379.0" y="414.9" font-size="27" style="fill:#231f20">(16)</text>
<text x="138.4" y="795.6" font-size="25.6" font-style="italic" style="fill:#231f20">Adcyap1</text>
<text x="256.6" y="795.6" font-size="27" style="fill:#231f20">(1048)</text>
<text x="562.4" y="795.6" font-size="25.6" font-style="italic" style="fill:#231f20">Nts</text>
<text x="611.4" y="795.6" font-size="27" style="fill:#231f20">(1039)</text>
<text x="927.2" y="795.6" font-size="25.6" font-style="italic" style="fill:#231f20">Pdyn</text>
<text x="1002.6" y="795.6" font-size="27" style="fill:#231f20">(855)</text>
<text x="1298.4" y="795.6" font-size="25.6" font-style="italic" style="fill:#231f20">Penk</text>
<text x="1374.6" y="795.6" font-size="27" style="fill:#231f20">(649)</text>
<text x="182.4" y="1176.4" font-size="25.6" font-style="italic" style="fill:#231f20">Sst</text>
<text x="232.2" y="1176.4" font-size="27" style="fill:#231f20">(1195)</text>
<text x="558.8" y="1176.4" font-size="25.6" font-style="italic" style="fill:#231f20">Tac1</text>
<text x="627.0" y="1176.4" font-size="27" style="fill:#231f20">(526)</text>
<text x="931.8" y="1176.4" font-size="25.6" font-style="italic" style="fill:#231f20">Tac2</text>
<text x="1001.7" y="1176.4" font-size="27" style="fill:#231f20">(663)</text>
<text x="1328.0" y="1176.4" font-size="25.6" font-style="italic" style="fill:#231f20">Trh</text>
<text x="1379.0" y="1176.4" font-size="27" style="fill:#231f20">(99)</text>
<g stroke="#666" stroke-width="1.6" fill="none"><path d="M377.5,315.7 L336.5,295"/><path d="M377.5,315.7 L387.8,270"/><path d="M377.5,315.7 L343,346.5"/></g>
<g fill="#666"><polygon points="334.2,293.8 343.5,294.4 340.2,300.8"/><polygon points="388.4,266.8 392.2,275.2 385.2,273.6"/><polygon points="341,348.5 344.2,339.8 349.3,345.5"/></g>
<text x="0" y="0" font-size="17.5" transform="translate(345.5,295) rotate(27)" style="fill:#222">L-M</text>
<text x="0" y="0" font-size="17.5" transform="translate(402,305.5) rotate(-77)" style="fill:#222">V-D</text>
<text x="0" y="0" font-size="17.5" transform="translate(356,361) rotate(-42)" style="fill:#222">A-P</text>
<circle cx="1639.1" cy="17.80" r="7.8" fill="#ff0000"/>
<text x="0" y="0" font-size="26" transform="translate(1662.2,28.70) scale(1,1.03)" style="fill:#262626">LHA</text>
<circle cx="1639.1" cy="51.90" r="7.8" fill="#008000"/>
<text x="0" y="0" font-size="26" transform="translate(1662.2,64.41) scale(1,1.03)" style="fill:#262626">VMH</text>
<circle cx="1639.1" cy="84.80" r="7.8" fill="#0000ff"/>
<text x="0" y="0" font-size="26" transform="translate(1662.2,100.12) scale(1,1.03)" style="fill:#262626">AHN</text>
<circle cx="1639.1" cy="122.10" r="7.8" fill="#00ffff"/>
<text x="0" y="0" font-size="26" transform="translate(1662.2,135.83) scale(1,1.03)" style="fill:#262626">PH</text>
<circle cx="1639.1" cy="159.90" r="7.8" fill="#ff00ff"/>
<text x="0" y="0" font-size="26" transform="translate(1662.2,171.54) scale(1,1.03)" style="fill:#262626">PVH</text>
<circle cx="1639.1" cy="194.00" r="7.8" fill="#ffff00"/>
<text x="0" y="0" font-size="26" transform="translate(1662.2,207.25) scale(1,1.03)" style="fill:#262626">MBO</text>
<circle cx="1639.1" cy="230.50" r="7.8" fill="#a52a2a"/>
<text x="0" y="0" font-size="26" transform="translate(1662.2,242.96) scale(1,1.03)" style="fill:#262626">TU</text>
<circle cx="1639.1" cy="266.00" r="7.8" fill="#8b0000"/>
<text x="0" y="0" font-size="26" transform="translate(1662.2,278.67) scale(1,1.03)" style="fill:#262626">MPO</text>
<circle cx="1639.1" cy="301.80" r="7.8" fill="#808080"/>
<text x="0" y="0" font-size="26" transform="translate(1662.2,314.38) scale(1,1.03)" style="fill:#262626">DMH</text>
<circle cx="1639.1" cy="338.00" r="7.8" fill="#00008b"/>
<text x="0" y="0" font-size="26" transform="translate(1662.2,350.09) scale(1,1.03)" style="fill:#262626">ARH</text>
<circle cx="1639.1" cy="374.60" r="7.8" fill="#ffa500"/>
<text x="0" y="0" font-size="26" transform="translate(1662.2,385.80) scale(1,1.03)" style="fill:#262626">MPN</text>
<circle cx="1639.1" cy="410.00" r="7.8" fill="#ffd700"/>
<text x="0" y="0" font-size="26" transform="translate(1662.2,421.51) scale(1,1.03)" style="fill:#262626">ZI</text>
<circle cx="1639.1" cy="443.70" r="7.8" fill="#87ceeb"/>
<text x="0" y="0" font-size="26" transform="translate(1662.2,457.22) scale(1,1.03)" style="fill:#262626">PVHd</text>
<circle cx="1639.1" cy="483.00" r="7.8" fill="#ff6347"/>
<text x="0" y="0" font-size="26" transform="translate(1662.2,492.93) scale(1,1.03)" style="fill:#262626">PMv</text>
<circle cx="1639.1" cy="519.20" r="7.8" fill="#008080"/>
<text x="0" y="0" font-size="26" transform="translate(1662.2,528.64) scale(1,1.03)" style="fill:#262626">LPO</text>
<rect x="126.80" y="1573.70" width="32.3" height="429.10" fill="#dd1f21"/>
<rect x="167.29" y="1706.38" width="32.3" height="296.41" fill="#156f15"/>
<rect x="207.78" y="1814.13" width="32.3" height="188.67" fill="#2020dd"/>
<rect x="248.27" y="1814.60" width="32.3" height="188.20" fill="#22dfdf"/>
<rect x="288.76" y="1815.54" width="32.3" height="187.26" fill="#dd22dd"/>
<rect x="329.25" y="1834.83" width="32.3" height="167.97" fill="#dfdf22"/>
<rect x="369.74" y="1865.88" width="32.3" height="136.92" fill="#963b3b"/>
<rect x="410.23" y="1871.06" width="32.3" height="131.74" fill="#7a1010"/>
<rect x="450.72" y="1885.65" width="32.3" height="117.15" fill="#828282"/>
<rect x="491.21" y="1895.53" width="32.3" height="107.27" fill="#121270"/>
<rect x="531.70" y="1905.88" width="32.3" height="96.92" fill="#df9b22"/>
<rect x="572.19" y="1909.17" width="32.3" height="93.63" fill="#dfc122"/>
<rect x="612.68" y="1916.70" width="32.3" height="86.10" fill="#92c8de"/>
<rect x="653.17" y="1928.93" width="32.3" height="73.87" fill="#e87462"/>
<rect x="693.66" y="1939.28" width="32.3" height="63.52" fill="#137070"/>
<rect x="734.15" y="1946.34" width="32.3" height="56.46" fill="#828282"/>
<rect x="774.64" y="1964.92" width="32.3" height="37.88" fill="#828282"/>
<rect x="815.13" y="1967.28" width="32.3" height="35.52" fill="#828282"/>
<rect x="855.62" y="1968.59" width="32.3" height="34.21" fill="#828282"/>
<rect x="896.11" y="1974.01" width="32.3" height="28.79" fill="#828282"/>
<rect x="936.60" y="1980.22" width="32.3" height="22.58" fill="#828282"/>
<rect x="977.09" y="1981.02" width="32.3" height="21.78" fill="#828282"/>
<rect x="1017.58" y="1987.74" width="32.3" height="15.06" fill="#828282"/>
<rect x="1058.07" y="1991.41" width="32.3" height="11.39" fill="#828282"/>
<rect x="1098.56" y="1993.20" width="32.3" height="9.60" fill="#828282"/>
<rect x="1139.05" y="1996.21" width="32.3" height="6.59" fill="#828282"/>
<rect x="1179.54" y="1997.15" width="32.3" height="5.65" fill="#828282"/>
<rect x="1220.03" y="1997.62" width="32.3" height="5.18" fill="#828282"/>
<rect x="1260.52" y="1997.62" width="32.3" height="5.18" fill="#828282"/>
<rect x="1301.01" y="1998.10" width="32.3" height="4.71" fill="#828282"/>
<rect x="1341.50" y="1998.10" width="32.3" height="4.71" fill="#828282"/>
<rect x="1381.99" y="1999.69" width="32.3" height="3.11" fill="#828282"/>
<rect x="1422.48" y="2000.12" width="32.3" height="2.68" fill="#828282"/>
<rect x="1462.97" y="2000.12" width="32.3" height="2.68" fill="#828282"/>
<rect x="1503.46" y="2000.12" width="32.3" height="2.68" fill="#828282"/>
<rect x="1543.95" y="2001.39" width="32.3" height="1.41" fill="#828282"/>
<rect x="1584.44" y="2001.86" width="32.3" height="0.94" fill="#828282"/>
<rect x="1624.93" y="2002.33" width="32.3" height="0.47" fill="#828282"/>
<rect x="122.5" y="1552.6" width="1539.3" height="450.20000000000005" fill="none" stroke="#222" stroke-width="1.4"/>
<line x1="117.5" y1="2002.80" x2="122.5" y2="2002.80" stroke="#222" stroke-width="1.3"/>
<text x="115.0" y="2010.40" text-anchor="end" font-size="21.5">0</text>
<line x1="117.5" y1="1908.70" x2="122.5" y2="1908.70" stroke="#222" stroke-width="1.3"/>
<text x="115.0" y="1916.30" text-anchor="end" font-size="21.5">200</text>
<line x1="117.5" y1="1814.60" x2="122.5" y2="1814.60" stroke="#222" stroke-width="1.3"/>
<text x="115.0" y="1822.20" text-anchor="end" font-size="21.5">400</text>
<line x1="117.5" y1="1720.50" x2="122.5" y2="1720.50" stroke="#222" stroke-width="1.3"/>
<text x="115.0" y="1728.10" text-anchor="end" font-size="21.5">600</text>
<line x1="117.5" y1="1626.40" x2="122.5" y2="1626.40" stroke="#222" stroke-width="1.3"/>
<text x="115.0" y="1634.00" text-anchor="end" font-size="21.5">800</text>
<line x1="142.95" y1="2002.8" x2="142.95" y2="2007.8" stroke="#222" stroke-width="1.3"/>
<text x="121.35" y="2051.20" font-size="22" transform="rotate(-45 121.35 2051.20)">LHA</text>
<line x1="183.44" y1="2002.8" x2="183.44" y2="2007.8" stroke="#222" stroke-width="1.3"/>
<text x="159.69" y="2055.51" font-size="22" transform="rotate(-45 159.69 2055.51)">VMH</text>
<line x1="223.93" y1="2002.8" x2="223.93" y2="2007.8" stroke="#222" stroke-width="1.3"/>
<text x="201.04" y="2053.78" font-size="22" transform="rotate(-45 201.04 2053.78)">AHN</text>
<line x1="264.42" y1="2002.8" x2="264.42" y2="2007.8" stroke="#222" stroke-width="1.3"/>
<text x="247.15" y="2042.55" font-size="22" transform="rotate(-45 247.15 2042.55)">PH</text>
<line x1="304.91" y1="2002.8" x2="304.91" y2="2007.8" stroke="#222" stroke-width="1.3"/>
<text x="282.45" y="2052.93" font-size="22" transform="rotate(-45 282.45 2052.93)">PVH</text>
<line x1="345.40" y1="2002.8" x2="345.40" y2="2007.8" stroke="#222" stroke-width="1.3"/>
<text x="321.22" y="2056.38" font-size="22" transform="rotate(-45 321.22 2056.38)">MBO</text>
<line x1="385.89" y1="2002.8" x2="385.89" y2="2007.8" stroke="#222" stroke-width="1.3"/>
<text x="369.06" y="2041.68" font-size="22" transform="rotate(-45 369.06 2041.68)">TU</text>
<line x1="426.38" y1="2002.8" x2="426.38" y2="2007.8" stroke="#222" stroke-width="1.3"/>
<text x="402.20" y="2056.38" font-size="22" transform="rotate(-45 402.20 2056.38)">MPO</text>
<line x1="466.87" y1="2002.8" x2="466.87" y2="2007.8" stroke="#222" stroke-width="1.3"/>
<text x="442.69" y="2056.37" font-size="22" transform="rotate(-45 442.69 2056.37)">DMH</text>
<line x1="507.36" y1="2002.8" x2="507.36" y2="2007.8" stroke="#222" stroke-width="1.3"/>
<text x="484.47" y="2053.78" font-size="22" transform="rotate(-45 484.47 2053.78)">ARH</text>
<line x1="547.85" y1="2002.8" x2="547.85" y2="2007.8" stroke="#222" stroke-width="1.3"/>
<text x="524.10" y="2055.51" font-size="22" transform="rotate(-45 524.10 2055.51)">MPN</text>
<line x1="588.34" y1="2002.8" x2="588.34" y2="2007.8" stroke="#222" stroke-width="1.3"/>
<text x="574.96" y="2034.76" font-size="22" transform="rotate(-45 574.96 2034.76)">ZI</text>
<line x1="628.83" y1="2002.8" x2="628.83" y2="2007.8" stroke="#222" stroke-width="1.3"/>
<text x="602.05" y="2061.58" font-size="22" transform="rotate(-45 602.05 2061.58)">PVHd</text>
<line x1="669.32" y1="2002.8" x2="669.32" y2="2007.8" stroke="#222" stroke-width="1.3"/>
<text x="647.30" y="2052.05" font-size="22" transform="rotate(-45 647.30 2052.05)">PMv</text>
<line x1="709.81" y1="2002.8" x2="709.81" y2="2007.8" stroke="#222" stroke-width="1.3"/>
<text x="687.78" y="2052.07" font-size="22" transform="rotate(-45 687.78 2052.07)">LPO</text>
<line x1="750.30" y1="2002.8" x2="750.30" y2="2007.8" stroke="#222" stroke-width="1.3"/>
<text x="729.57" y="2049.47" font-size="22" transform="rotate(-45 729.57 2049.47)">PeF</text>
<line x1="790.79" y1="2002.8" x2="790.79" y2="2007.8" stroke="#222" stroke-width="1.3"/>
<text x="763.58" y="2062.43" font-size="22" transform="rotate(-45 763.58 2062.43)">PSTN</text>
<line x1="831.28" y1="2002.8" x2="831.28" y2="2007.8" stroke="#222" stroke-width="1.3"/>
<text x="808.82" y="2052.93" font-size="22" transform="rotate(-45 808.82 2052.93)">PMd</text>
<line x1="871.77" y1="2002.8" x2="871.77" y2="2007.8" stroke="#222" stroke-width="1.3"/>
<text x="850.60" y="2050.34" font-size="22" transform="rotate(-45 850.60 2050.34)">PVp</text>
<line x1="912.26" y1="2002.8" x2="912.26" y2="2007.8" stroke="#222" stroke-width="1.3"/>
<text x="888.94" y="2054.64" font-size="22" transform="rotate(-45 888.94 2054.64)">RCH</text>
<line x1="952.75" y1="2002.8" x2="952.75" y2="2007.8" stroke="#222" stroke-width="1.3"/>
<text x="931.30" y="2050.91" font-size="22" transform="rotate(-45 931.30 2050.91)">AVP</text>
<line x1="993.24" y1="2002.8" x2="993.24" y2="2007.8" stroke="#222" stroke-width="1.3"/>
<text x="966.02" y="2062.44" font-size="22" transform="rotate(-45 966.02 2062.44)">SBPV</text>
<line x1="1033.73" y1="2002.8" x2="1033.73" y2="2007.8" stroke="#222" stroke-width="1.3"/>
<text x="1011.71" y="2052.05" font-size="22" transform="rotate(-45 1011.71 2052.05)">STN</text>
<line x1="1074.22" y1="2002.8" x2="1074.22" y2="2007.8" stroke="#222" stroke-width="1.3"/>
<text x="1044.85" y="2066.75" font-size="22" transform="rotate(-45 1044.85 2066.75)">VMPO</text>
<line x1="1114.71" y1="2002.8" x2="1114.71" y2="2007.8" stroke="#222" stroke-width="1.3"/>
<text x="1088.07" y="2061.29" font-size="22" transform="rotate(-45 1088.07 2061.29)">AVPV</text>
<line x1="1155.20" y1="2002.8" x2="1155.20" y2="2007.8" stroke="#222" stroke-width="1.3"/>
<text x="1137.07" y="2044.28" font-size="22" transform="rotate(-45 1137.07 2044.28)">ME</text>
<line x1="1195.69" y1="2002.8" x2="1195.69" y2="2007.8" stroke="#222" stroke-width="1.3"/>
<text x="1173.23" y="2052.93" font-size="22" transform="rotate(-45 1173.23 2052.93)">ADP</text>
<line x1="1236.18" y1="2002.8" x2="1236.18" y2="2007.8" stroke="#222" stroke-width="1.3"/>
<text x="1219.34" y="2041.69" font-size="22" transform="rotate(-45 1219.34 2041.69)">PS</text>
<line x1="1276.67" y1="2002.8" x2="1276.67" y2="2007.8" stroke="#222" stroke-width="1.3"/>
<text x="1258.97" y="2043.42" font-size="22" transform="rotate(-45 1258.97 2043.42)">SO</text>
<line x1="1317.16" y1="2002.8" x2="1317.16" y2="2007.8" stroke="#222" stroke-width="1.3"/>
<text x="1289.94" y="2062.44" font-size="22" transform="rotate(-45 1289.94 2062.44)">VLPO</text>
<line x1="1357.65" y1="2002.8" x2="1357.65" y2="2007.8" stroke="#222" stroke-width="1.3"/>
<text x="1339.22" y="2044.87" font-size="22" transform="rotate(-45 1339.22 2044.87)">PVi</text>
<line x1="1398.14" y1="2002.8" x2="1398.14" y2="2007.8" stroke="#222" stroke-width="1.3"/>
<text x="1377.55" y="2049.19" font-size="22" transform="rotate(-45 1377.55 2049.19)">PVa</text>
<line x1="1438.63" y1="2002.8" x2="1438.63" y2="2007.8" stroke="#222" stroke-width="1.3"/>
<text x="1417.04" y="2051.19" font-size="22" transform="rotate(-45 1417.04 2051.19)">PST</text>
<line x1="1479.12" y1="2002.8" x2="1479.12" y2="2007.8" stroke="#222" stroke-width="1.3"/>
<text x="1461.85" y="2042.55" font-size="22" transform="rotate(-45 1461.85 2042.55)">PD</text>
<line x1="1519.61" y1="2002.8" x2="1519.61" y2="2007.8" stroke="#222" stroke-width="1.3"/>
<text x="1490.24" y="2066.75" font-size="22" transform="rotate(-45 1490.24 2066.75)">MEPO</text>
<line x1="1560.10" y1="2002.8" x2="1560.10" y2="2007.8" stroke="#222" stroke-width="1.3"/>
<text x="1537.21" y="2053.78" font-size="22" transform="rotate(-45 1537.21 2053.78)">SCH</text>
<line x1="1600.59" y1="2002.8" x2="1600.59" y2="2007.8" stroke="#222" stroke-width="1.3"/>
<text x="1577.70" y="2053.79" font-size="22" transform="rotate(-45 1577.70 2053.79)">ASO</text>
<line x1="1641.08" y1="2002.8" x2="1641.08" y2="2007.8" stroke="#222" stroke-width="1.3"/>
<text x="1615.59" y="2059.00" font-size="22" transform="rotate(-45 1615.59 2059.00)">PVpo</text>
<text transform="translate(55.4,1799) rotate(-90)" text-anchor="middle" font-size="25">No. of neurons</text>
<rect x="124.40" y="2457.68" width="32.3" height="89.52" fill="#dd1f21"/>
<rect x="164.89" y="2314.56" width="32.3" height="232.64" fill="#156f15"/>
<rect x="205.38" y="2432.40" width="32.3" height="114.80" fill="#2020dd"/>
<rect x="245.87" y="2432.40" width="32.3" height="114.80" fill="#22dfdf"/>
<rect x="286.36" y="2118.57" width="32.3" height="428.63" fill="#dd22dd"/>
<rect x="326.85" y="2476.05" width="32.3" height="71.15" fill="#dfdf22"/>
<rect x="367.34" y="2434.33" width="32.3" height="112.87" fill="#963b3b"/>
<rect x="407.83" y="2445.40" width="32.3" height="101.80" fill="#7a1010"/>
<rect x="448.32" y="2413.32" width="32.3" height="133.88" fill="#828282"/>
<rect x="488.81" y="2384.19" width="32.3" height="163.01" fill="#121270"/>
<rect x="529.30" y="2444.28" width="32.3" height="102.92" fill="#df9b22"/>
<rect x="569.79" y="2521.22" width="32.3" height="25.98" fill="#dfc122"/>
<rect x="610.28" y="2262.09" width="32.3" height="285.11" fill="#92c8de"/>
<rect x="650.77" y="2383.07" width="32.3" height="164.13" fill="#e87462"/>
<rect x="691.26" y="2498.58" width="32.3" height="48.62" fill="#137070"/>
<rect x="731.75" y="2434.03" width="32.3" height="113.17" fill="#828282"/>
<rect x="772.24" y="2448.95" width="32.3" height="98.25" fill="#828282"/>
<rect x="812.73" y="2430.88" width="32.3" height="116.32" fill="#828282"/>
<rect x="853.22" y="2428.55" width="32.3" height="118.65" fill="#828282"/>
<rect x="893.71" y="2464.98" width="32.3" height="82.22" fill="#828282"/>
<rect x="934.20" y="2440.12" width="32.3" height="107.08" fill="#828282"/>
<rect x="974.69" y="2460.42" width="32.3" height="86.78" fill="#828282"/>
<rect x="1015.18" y="2514.31" width="32.3" height="32.89" fill="#828282"/>
<rect x="1055.67" y="2446.21" width="32.3" height="100.99" fill="#828282"/>
<rect x="1096.16" y="2524.97" width="32.3" height="22.23" fill="#828282"/>
<rect x="1136.65" y="2512.79" width="32.3" height="34.41" fill="#828282"/>
<rect x="1177.14" y="2520.81" width="32.3" height="26.39" fill="#828282"/>
<rect x="1217.63" y="2522.33" width="32.3" height="24.87" fill="#828282"/>
<rect x="1258.12" y="2495.64" width="32.3" height="51.56" fill="#828282"/>
<rect x="1298.61" y="2513.60" width="32.3" height="33.60" fill="#828282"/>
<rect x="1339.10" y="2536.54" width="32.3" height="10.66" fill="#828282"/>
<rect x="1379.59" y="2519.69" width="32.3" height="27.51" fill="#828282"/>
<rect x="1420.08" y="2449.56" width="32.3" height="97.64" fill="#828282"/>
<rect x="1460.57" y="2443.06" width="32.3" height="104.14" fill="#828282"/>
<rect x="1501.06" y="2516.95" width="32.3" height="30.25" fill="#828282"/>
<rect x="1541.55" y="2535.02" width="32.3" height="12.18" fill="#828282"/>
<rect x="1582.04" y="2449.56" width="32.3" height="97.64" fill="#828282"/>
<rect x="1622.53" y="2544.46" width="32.3" height="2.74" fill="#828282"/>
<rect x="120.2" y="2097.6" width="1539.1" height="449.5999999999999" fill="none" stroke="#222" stroke-width="1.4"/>
<line x1="115.2" y1="2547.20" x2="120.2" y2="2547.20" stroke="#222" stroke-width="1.3"/>
<text x="112.7" y="2554.80" text-anchor="end" font-size="21.5">0</text>
<line x1="115.2" y1="2496.45" x2="120.2" y2="2496.45" stroke="#222" stroke-width="1.3"/>
<text x="112.7" y="2504.05" text-anchor="end" font-size="21.5">500</text>
<line x1="115.2" y1="2445.70" x2="120.2" y2="2445.70" stroke="#222" stroke-width="1.3"/>
<text x="112.7" y="2453.30" text-anchor="end" font-size="21.5">1000</text>
<line x1="115.2" y1="2394.95" x2="120.2" y2="2394.95" stroke="#222" stroke-width="1.3"/>
<text x="112.7" y="2402.55" text-anchor="end" font-size="21.5">1500</text>
<line x1="115.2" y1="2344.20" x2="120.2" y2="2344.20" stroke="#222" stroke-width="1.3"/>
<text x="112.7" y="2351.80" text-anchor="end" font-size="21.5">2000</text>
<line x1="115.2" y1="2293.45" x2="120.2" y2="2293.45" stroke="#222" stroke-width="1.3"/>
<text x="112.7" y="2301.05" text-anchor="end" font-size="21.5">2500</text>
<line x1="115.2" y1="2242.70" x2="120.2" y2="2242.70" stroke="#222" stroke-width="1.3"/>
<text x="112.7" y="2250.30" text-anchor="end" font-size="21.5">3000</text>
<line x1="115.2" y1="2191.95" x2="120.2" y2="2191.95" stroke="#222" stroke-width="1.3"/>
<text x="112.7" y="2199.55" text-anchor="end" font-size="21.5">3500</text>
<line x1="115.2" y1="2141.20" x2="120.2" y2="2141.20" stroke="#222" stroke-width="1.3"/>
<text x="112.7" y="2148.80" text-anchor="end" font-size="21.5">4000</text>
<line x1="140.55" y1="2547.2" x2="140.55" y2="2552.2" stroke="#222" stroke-width="1.3"/>
<text x="121.35" y="2596.20" font-size="22" transform="rotate(-45 121.35 2596.20)">LHA</text>
<line x1="181.04" y1="2547.2" x2="181.04" y2="2552.2" stroke="#222" stroke-width="1.3"/>
<text x="159.69" y="2600.51" font-size="22" transform="rotate(-45 159.69 2600.51)">VMH</text>
<line x1="221.53" y1="2547.2" x2="221.53" y2="2552.2" stroke="#222" stroke-width="1.3"/>
<text x="201.04" y="2598.78" font-size="22" transform="rotate(-45 201.04 2598.78)">AHN</text>
<line x1="262.02" y1="2547.2" x2="262.02" y2="2552.2" stroke="#222" stroke-width="1.3"/>
<text x="247.15" y="2587.55" font-size="22" transform="rotate(-45 247.15 2587.55)">PH</text>
<line x1="302.51" y1="2547.2" x2="302.51" y2="2552.2" stroke="#222" stroke-width="1.3"/>
<text x="282.45" y="2597.93" font-size="22" transform="rotate(-45 282.45 2597.93)">PVH</text>
<line x1="343.00" y1="2547.2" x2="343.00" y2="2552.2" stroke="#222" stroke-width="1.3"/>
<text x="321.22" y="2601.38" font-size="22" transform="rotate(-45 321.22 2601.38)">MBO</text>
<line x1="383.49" y1="2547.2" x2="383.49" y2="2552.2" stroke="#222" stroke-width="1.3"/>
<text x="369.06" y="2586.68" font-size="22" transform="rotate(-45 369.06 2586.68)">TU</text>
<line x1="423.98" y1="2547.2" x2="423.98" y2="2552.2" stroke="#222" stroke-width="1.3"/>
<text x="402.20" y="2601.38" font-size="22" transform="rotate(-45 402.20 2601.38)">MPO</text>
<line x1="464.47" y1="2547.2" x2="464.47" y2="2552.2" stroke="#222" stroke-width="1.3"/>
<text x="442.69" y="2601.37" font-size="22" transform="rotate(-45 442.69 2601.37)">DMH</text>
<line x1="504.96" y1="2547.2" x2="504.96" y2="2552.2" stroke="#222" stroke-width="1.3"/>
<text x="484.47" y="2598.78" font-size="22" transform="rotate(-45 484.47 2598.78)">ARH</text>
<line x1="545.45" y1="2547.2" x2="545.45" y2="2552.2" stroke="#222" stroke-width="1.3"/>
<text x="524.10" y="2600.51" font-size="22" transform="rotate(-45 524.10 2600.51)">MPN</text>
<line x1="585.94" y1="2547.2" x2="585.94" y2="2552.2" stroke="#222" stroke-width="1.3"/>
<text x="574.96" y="2579.76" font-size="22" transform="rotate(-45 574.96 2579.76)">ZI</text>
<line x1="626.43" y1="2547.2" x2="626.43" y2="2552.2" stroke="#222" stroke-width="1.3"/>
<text x="602.05" y="2606.58" font-size="22" transform="rotate(-45 602.05 2606.58)">PVHd</text>
<line x1="666.92" y1="2547.2" x2="666.92" y2="2552.2" stroke="#222" stroke-width="1.3"/>
<text x="647.30" y="2597.05" font-size="22" transform="rotate(-45 647.30 2597.05)">PMv</text>
<line x1="707.41" y1="2547.2" x2="707.41" y2="2552.2" stroke="#222" stroke-width="1.3"/>
<text x="687.78" y="2597.07" font-size="22" transform="rotate(-45 687.78 2597.07)">LPO</text>
<line x1="747.90" y1="2547.2" x2="747.90" y2="2552.2" stroke="#222" stroke-width="1.3"/>
<text x="729.57" y="2594.47" font-size="22" transform="rotate(-45 729.57 2594.47)">PeF</text>
<line x1="788.39" y1="2547.2" x2="788.39" y2="2552.2" stroke="#222" stroke-width="1.3"/>
<text x="763.58" y="2607.43" font-size="22" transform="rotate(-45 763.58 2607.43)">PSTN</text>
<line x1="828.88" y1="2547.2" x2="828.88" y2="2552.2" stroke="#222" stroke-width="1.3"/>
<text x="808.82" y="2597.93" font-size="22" transform="rotate(-45 808.82 2597.93)">PMd</text>
<line x1="869.37" y1="2547.2" x2="869.37" y2="2552.2" stroke="#222" stroke-width="1.3"/>
<text x="850.60" y="2595.34" font-size="22" transform="rotate(-45 850.60 2595.34)">PVp</text>
<line x1="909.86" y1="2547.2" x2="909.86" y2="2552.2" stroke="#222" stroke-width="1.3"/>
<text x="888.94" y="2599.64" font-size="22" transform="rotate(-45 888.94 2599.64)">RCH</text>
<line x1="950.35" y1="2547.2" x2="950.35" y2="2552.2" stroke="#222" stroke-width="1.3"/>
<text x="931.30" y="2595.91" font-size="22" transform="rotate(-45 931.30 2595.91)">AVP</text>
<line x1="990.84" y1="2547.2" x2="990.84" y2="2552.2" stroke="#222" stroke-width="1.3"/>
<text x="966.02" y="2607.44" font-size="22" transform="rotate(-45 966.02 2607.44)">SBPV</text>
<line x1="1031.33" y1="2547.2" x2="1031.33" y2="2552.2" stroke="#222" stroke-width="1.3"/>
<text x="1011.71" y="2597.05" font-size="22" transform="rotate(-45 1011.71 2597.05)">STN</text>
<line x1="1071.82" y1="2547.2" x2="1071.82" y2="2552.2" stroke="#222" stroke-width="1.3"/>
<text x="1044.85" y="2611.75" font-size="22" transform="rotate(-45 1044.85 2611.75)">VMPO</text>
<line x1="1112.31" y1="2547.2" x2="1112.31" y2="2552.2" stroke="#222" stroke-width="1.3"/>
<text x="1088.07" y="2606.29" font-size="22" transform="rotate(-45 1088.07 2606.29)">AVPV</text>
<line x1="1152.80" y1="2547.2" x2="1152.80" y2="2552.2" stroke="#222" stroke-width="1.3"/>
<text x="1137.07" y="2589.28" font-size="22" transform="rotate(-45 1137.07 2589.28)">ME</text>
<line x1="1193.29" y1="2547.2" x2="1193.29" y2="2552.2" stroke="#222" stroke-width="1.3"/>
<text x="1173.23" y="2597.93" font-size="22" transform="rotate(-45 1173.23 2597.93)">ADP</text>
<line x1="1233.78" y1="2547.2" x2="1233.78" y2="2552.2" stroke="#222" stroke-width="1.3"/>
<text x="1219.34" y="2586.69" font-size="22" transform="rotate(-45 1219.34 2586.69)">PS</text>
<line x1="1274.27" y1="2547.2" x2="1274.27" y2="2552.2" stroke="#222" stroke-width="1.3"/>
<text x="1258.97" y="2588.42" font-size="22" transform="rotate(-45 1258.97 2588.42)">SO</text>
<line x1="1314.76" y1="2547.2" x2="1314.76" y2="2552.2" stroke="#222" stroke-width="1.3"/>
<text x="1289.94" y="2607.44" font-size="22" transform="rotate(-45 1289.94 2607.44)">VLPO</text>
<line x1="1355.25" y1="2547.2" x2="1355.25" y2="2552.2" stroke="#222" stroke-width="1.3"/>
<text x="1339.22" y="2589.87" font-size="22" transform="rotate(-45 1339.22 2589.87)">PVi</text>
<line x1="1395.74" y1="2547.2" x2="1395.74" y2="2552.2" stroke="#222" stroke-width="1.3"/>
<text x="1377.55" y="2594.19" font-size="22" transform="rotate(-45 1377.55 2594.19)">PVa</text>
<line x1="1436.23" y1="2547.2" x2="1436.23" y2="2552.2" stroke="#222" stroke-width="1.3"/>
<text x="1417.04" y="2596.19" font-size="22" transform="rotate(-45 1417.04 2596.19)">PST</text>
<line x1="1476.72" y1="2547.2" x2="1476.72" y2="2552.2" stroke="#222" stroke-width="1.3"/>
<text x="1461.85" y="2587.55" font-size="22" transform="rotate(-45 1461.85 2587.55)">PD</text>
<line x1="1517.21" y1="2547.2" x2="1517.21" y2="2552.2" stroke="#222" stroke-width="1.3"/>
<text x="1490.24" y="2611.75" font-size="22" transform="rotate(-45 1490.24 2611.75)">MEPO</text>
<line x1="1557.70" y1="2547.2" x2="1557.70" y2="2552.2" stroke="#222" stroke-width="1.3"/>
<text x="1537.21" y="2598.78" font-size="22" transform="rotate(-45 1537.21 2598.78)">SCH</text>
<line x1="1598.19" y1="2547.2" x2="1598.19" y2="2552.2" stroke="#222" stroke-width="1.3"/>
<text x="1577.70" y="2598.79" font-size="22" transform="rotate(-45 1577.70 2598.79)">ASO</text>
<line x1="1638.68" y1="2547.2" x2="1638.68" y2="2552.2" stroke="#222" stroke-width="1.3"/>
<text x="1615.59" y="2604.00" font-size="22" transform="rotate(-45 1615.59 2604.00)">PVpo</text>
<text transform="translate(55.4,2344) rotate(-90)" text-anchor="middle" font-size="25">No. of neurons/mm<tspan font-size="15" dy="-10">2</tspan></text>
</svg></body></html>
